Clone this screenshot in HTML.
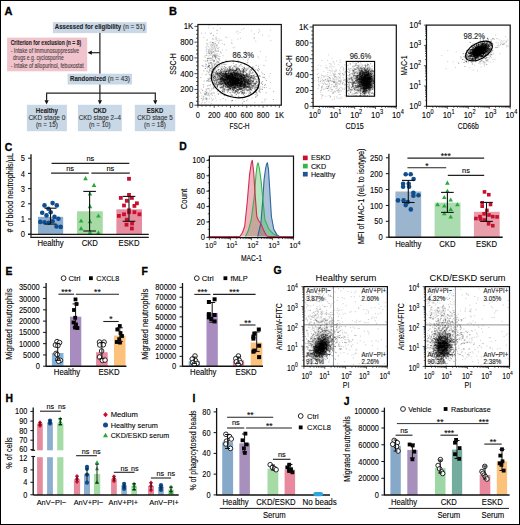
<!DOCTYPE html>
<html><head><meta charset="utf-8"><style>
html,body{margin:0;padding:0;background:#fff;}
svg{display:block;font-family:"Liberation Sans",sans-serif;}
</style></head><body>
<svg width="520" height="525" viewBox="0 0 520 525">
<rect x="0" y="0" width="520" height="525" fill="#fff"/>
<text x="4.60" y="14.80" font-size="11.0" stroke="#000" stroke-width="0.3" font-weight="bold" fill="#000">A</text>
<rect x="52.90" y="22.20" width="93.80" height="10.90" fill="#c8d8e6"/>
<text x="54.80" y="29.20" font-size="6.6" stroke="#222" stroke-width="0.1" font-weight="bold" fill="#222" textLength="66.40" lengthAdjust="spacingAndGlyphs">Assessed for eligibility</text>
<text x="123.00" y="29.20" font-size="7.34" stroke="#333" stroke-width="0.12" fill="#333" textLength="22.20" lengthAdjust="spacingAndGlyphs">(n = 51)</text>
<line x1="99.90" y1="33.10" x2="99.90" y2="73.70" stroke="#222" stroke-width="1.2"/>
<line x1="91.00" y1="52.70" x2="99.90" y2="52.70" stroke="#222" stroke-width="1.2"/>
<path d="M87.6 52.7L91.8 50.6L91.8 54.8Z" fill="#111"/>
<rect x="7.10" y="37.60" width="80.10" height="33.70" fill="#f1c3cc"/>
<text x="10.70" y="44.90" font-size="6.6" stroke="#222" stroke-width="0.1" font-weight="bold" fill="#222" textLength="70.50" lengthAdjust="spacingAndGlyphs">Criterion for exclusion (n = 8)</text>
<text x="10.70" y="52.70" font-size="7.34" stroke="#4a3f42" stroke-width="0.12" fill="#4a3f42" textLength="68.40" lengthAdjust="spacingAndGlyphs">- Intake of immunosuppressive</text>
<text x="13.10" y="59.70" font-size="7.34" stroke="#4a3f42" stroke-width="0.12" fill="#4a3f42" textLength="50.70" lengthAdjust="spacingAndGlyphs">drugs e.g. cyclosporine</text>
<text x="10.70" y="67.80" font-size="7.34" stroke="#4a3f42" stroke-width="0.12" fill="#4a3f42" textLength="73.00" lengthAdjust="spacingAndGlyphs">- Intake of allopurinol, febuxostat</text>
<rect x="67.60" y="73.70" width="64.40" height="10.80" fill="#c8d8e6"/>
<text x="70.10" y="81.00" font-size="6.6" stroke="#222" stroke-width="0.1" font-weight="bold" fill="#222" textLength="35.90" lengthAdjust="spacingAndGlyphs">Randomized</text>
<text x="107.80" y="81.00" font-size="7.34" stroke="#333" stroke-width="0.12" fill="#333" textLength="22.10" lengthAdjust="spacingAndGlyphs">(n = 43)</text>
<line x1="99.90" y1="84.50" x2="99.90" y2="100.50" stroke="#222" stroke-width="1.2"/>
<line x1="46.00" y1="93.20" x2="156.00" y2="93.20" stroke="#222" stroke-width="1.2"/>
<line x1="46.60" y1="93.20" x2="46.60" y2="100.50" stroke="#222" stroke-width="1.2"/>
<path d="M44.50 100.2L48.70 100.2L46.60 104.4Z" fill="#111"/>
<path d="M97.80 100.2L102.00 100.2L99.90 104.4Z" fill="#111"/>
<line x1="155.30" y1="93.20" x2="155.30" y2="100.50" stroke="#222" stroke-width="1.2"/>
<path d="M153.20 100.2L157.40 100.2L155.30 104.4Z" fill="#111"/>
<rect x="26.90" y="104.80" width="40.00" height="26.40" fill="#c8d8e6"/>
<text x="46.90" y="112.60" font-size="7.2" stroke="#222" stroke-width="0.1" text-anchor="middle" font-weight="bold" fill="#222" textLength="22.10" lengthAdjust="spacingAndGlyphs">Healthy</text>
<text x="46.90" y="120.20" font-size="7.99" stroke="#333" stroke-width="0.12" text-anchor="middle" fill="#333" textLength="37.00" lengthAdjust="spacingAndGlyphs">CKD stage 0</text>
<text x="46.90" y="127.30" font-size="7.99" stroke="#333" stroke-width="0.12" text-anchor="middle" fill="#333" textLength="21.90" lengthAdjust="spacingAndGlyphs">(n = 15)</text>
<rect x="77.90" y="104.80" width="43.90" height="26.40" fill="#c8d8e6"/>
<text x="99.85" y="112.60" font-size="7.2" stroke="#222" stroke-width="0.1" text-anchor="middle" font-weight="bold" fill="#222" textLength="13.40" lengthAdjust="spacingAndGlyphs">CKD</text>
<text x="99.85" y="120.20" font-size="7.99" stroke="#333" stroke-width="0.12" text-anchor="middle" fill="#333" textLength="42.40" lengthAdjust="spacingAndGlyphs">CKD stage 2–4</text>
<text x="99.85" y="127.30" font-size="7.99" stroke="#333" stroke-width="0.12" text-anchor="middle" fill="#333" textLength="21.60" lengthAdjust="spacingAndGlyphs">(n = 10)</text>
<rect x="134.80" y="104.80" width="40.40" height="26.40" fill="#c8d8e6"/>
<text x="155.00" y="112.60" font-size="7.2" stroke="#222" stroke-width="0.1" text-anchor="middle" font-weight="bold" fill="#222" textLength="16.40" lengthAdjust="spacingAndGlyphs">ESKD</text>
<text x="155.00" y="120.20" font-size="7.99" stroke="#333" stroke-width="0.12" text-anchor="middle" fill="#333" textLength="35.60" lengthAdjust="spacingAndGlyphs">CKD stage 5</text>
<text x="155.00" y="127.30" font-size="7.99" stroke="#333" stroke-width="0.12" text-anchor="middle" fill="#333" textLength="21.80" lengthAdjust="spacingAndGlyphs">(n = 18)</text>
<text x="169.00" y="14.90" font-size="11.0" stroke="#000" stroke-width="0.3" font-weight="bold" fill="#000">B</text>
<path d="M234.1 83.4h.1M236.8 83.9h.1M232.8 74.3h.1M226.6 77.8h.1M230.3 80.6h.1M224.9 83.0h.1M235.5 77.5h.1M247.5 76.7h.1M229.3 84.6h.1M228.1 85.0h.1M238.7 82.9h.1M238.2 78.1h.1M235.2 82.6h.1M225.9 79.8h.1M233.7 84.4h.1M241.7 75.5h.1M222.2 79.3h.1M230.4 79.2h.1M217.9 72.8h.1M222.6 79.9h.1M217.7 78.3h.1M232.6 78.2h.1M222.7 80.8h.1M237.9 74.1h.1M236.0 80.4h.1M232.5 82.3h.1M211.4 78.6h.1M228.9 84.9h.1M234.9 74.7h.1M236.5 73.5h.1M220.4 79.7h.1M229.8 82.1h.1M224.2 89.3h.1M226.7 82.4h.1M244.7 77.7h.1M226.6 83.3h.1M234.8 76.4h.1M243.5 74.6h.1M227.4 92.2h.1M233.3 81.9h.1M235.0 84.0h.1M234.7 83.3h.1M222.1 87.5h.1M235.0 81.9h.1M246.1 88.0h.1M221.1 73.6h.1M243.3 75.0h.1M234.6 87.4h.1M227.7 86.7h.1M252.4 85.5h.1M241.3 82.6h.1M223.5 79.8h.1M235.6 77.3h.1M238.7 88.6h.1M232.3 83.4h.1M240.4 83.8h.1M233.6 82.2h.1M239.9 86.3h.1M247.3 84.7h.1M227.8 83.2h.1M237.1 75.2h.1M229.9 82.3h.1M234.2 91.1h.1M224.0 76.5h.1M229.3 79.1h.1M232.1 84.5h.1M242.0 86.2h.1M244.5 84.9h.1M223.5 71.1h.1M226.9 81.9h.1M241.2 75.7h.1M216.9 74.0h.1M229.9 82.5h.1M233.8 79.0h.1M245.4 86.0h.1M238.7 96.3h.1M231.0 83.8h.1M230.7 83.5h.1M232.8 75.9h.1M248.8 79.4h.1M231.3 74.9h.1M232.1 77.6h.1M238.4 75.8h.1M233.8 77.2h.1M232.8 79.3h.1M225.0 74.3h.1M235.3 73.7h.1M231.4 73.5h.1M244.8 84.2h.1M240.4 81.6h.1M233.6 85.3h.1M239.9 86.3h.1M231.6 78.4h.1M243.6 85.0h.1M235.4 73.6h.1M238.3 92.1h.1M221.9 84.5h.1M237.8 79.9h.1M219.9 72.8h.1M215.7 79.7h.1M233.0 71.2h.1M226.8 75.6h.1M235.5 84.3h.1M254.9 83.7h.1M227.3 77.1h.1M228.2 84.2h.1M237.1 75.8h.1M238.8 82.5h.1M233.2 77.9h.1M233.2 76.2h.1M240.6 83.6h.1M239.9 76.4h.1M223.8 88.2h.1M234.2 77.6h.1M233.5 90.0h.1M225.6 73.9h.1M236.5 83.7h.1M227.5 73.7h.1M244.3 75.4h.1M236.1 81.5h.1M234.9 83.8h.1M230.0 73.7h.1M232.6 86.0h.1M216.8 74.2h.1M224.1 79.7h.1M237.6 82.8h.1M214.7 80.6h.1M243.4 73.0h.1M217.5 86.0h.1M241.0 84.1h.1M227.1 77.4h.1M242.3 76.6h.1M236.8 72.6h.1M221.4 72.1h.1M245.5 84.7h.1M247.9 80.7h.1M234.7 75.0h.1M232.4 77.6h.1M232.0 87.7h.1M225.8 77.7h.1M244.9 79.1h.1M228.7 86.2h.1M233.7 82.6h.1M227.2 79.7h.1M229.2 76.8h.1M223.9 71.5h.1M246.7 76.5h.1M233.4 78.0h.1M243.4 80.7h.1M234.4 82.2h.1M227.8 82.2h.1M231.4 81.1h.1M229.2 80.8h.1M235.2 75.7h.1M232.5 69.8h.1M232.1 77.6h.1M222.6 74.2h.1M227.6 76.4h.1M249.8 81.3h.1M229.2 73.7h.1M225.6 73.9h.1M237.6 80.5h.1M247.2 82.9h.1M221.7 75.5h.1M232.3 82.6h.1M228.9 78.6h.1M219.1 73.4h.1M241.2 81.6h.1M233.0 89.4h.1M235.6 77.4h.1M226.9 85.1h.1M237.7 87.6h.1M228.6 86.9h.1M233.7 76.4h.1M223.1 88.7h.1M223.3 79.5h.1M246.8 81.0h.1M230.0 78.8h.1M236.8 83.7h.1M234.2 80.7h.1M230.6 79.1h.1M229.0 86.0h.1M240.7 77.9h.1M232.4 75.2h.1M232.6 84.1h.1M234.2 83.9h.1M244.5 87.2h.1M241.4 76.3h.1M237.3 86.1h.1M229.0 82.1h.1M220.7 87.1h.1M244.0 75.8h.1M243.2 82.8h.1M233.4 79.0h.1M240.5 73.6h.1M242.1 78.1h.1M241.3 86.9h.1M243.2 79.5h.1M230.8 76.5h.1M247.7 86.6h.1M222.5 83.6h.1M241.7 86.3h.1M239.5 77.4h.1M242.5 81.3h.1M250.9 87.8h.1M248.5 79.3h.1M224.6 75.5h.1M218.6 82.3h.1M240.9 89.0h.1M226.0 73.7h.1M236.1 68.1h.1M243.1 74.7h.1M220.2 73.6h.1M215.4 77.1h.1M236.5 83.8h.1M235.0 79.9h.1M232.7 76.9h.1M234.7 81.3h.1M227.3 74.8h.1M220.7 78.3h.1M233.4 77.2h.1M223.9 92.0h.1M219.0 82.3h.1M239.7 77.2h.1M234.6 75.7h.1M238.5 78.9h.1M226.6 71.4h.1M229.0 76.2h.1M225.9 75.7h.1M225.8 83.6h.1M236.6 78.7h.1M227.9 75.7h.1M238.6 74.6h.1M238.4 75.3h.1M253.0 82.8h.1M222.0 77.7h.1M241.8 87.0h.1M234.1 77.4h.1M233.7 85.5h.1M221.1 79.9h.1M230.3 79.9h.1M242.6 71.9h.1M234.6 74.3h.1M234.7 84.1h.1M230.9 86.8h.1M244.9 83.0h.1M233.8 84.1h.1M214.7 75.7h.1M228.4 77.8h.1M217.0 74.8h.1M204.2 81.0h.1M229.4 81.5h.1M246.8 81.1h.1M235.1 79.0h.1M223.4 81.6h.1M225.7 80.8h.1M245.4 78.0h.1M234.8 88.9h.1M234.8 81.8h.1M234.0 80.5h.1M233.9 87.6h.1M241.2 86.4h.1M239.6 80.8h.1M236.1 83.3h.1M225.7 74.1h.1M239.6 78.1h.1M229.8 68.9h.1M243.7 87.7h.1M224.2 69.8h.1M232.8 83.6h.1M235.0 76.5h.1M223.1 74.2h.1M250.3 81.8h.1M247.6 83.6h.1M229.9 82.8h.1M240.3 89.9h.1M237.7 82.7h.1M210.1 81.3h.1M237.2 78.0h.1M233.5 83.8h.1M235.2 81.3h.1M225.0 76.9h.1M232.1 79.7h.1M232.9 80.0h.1M245.2 82.9h.1M237.3 82.8h.1M234.8 78.1h.1M248.9 78.9h.1M228.9 83.3h.1M232.1 71.9h.1M218.4 75.2h.1M247.8 89.9h.1M245.1 68.9h.1M243.3 78.4h.1M240.1 84.6h.1M236.6 72.8h.1M234.7 93.1h.1M233.9 67.9h.1M231.7 87.1h.1M234.0 88.0h.1M247.7 86.8h.1M239.7 80.2h.1M233.7 82.1h.1M229.8 75.5h.1M228.2 83.5h.1M249.8 77.2h.1M239.3 79.8h.1M234.4 85.3h.1M232.1 74.8h.1M224.6 77.3h.1M233.8 81.2h.1M243.4 75.2h.1M230.1 85.5h.1M232.2 81.8h.1M233.5 73.0h.1M235.5 80.4h.1M220.5 74.8h.1M232.8 77.1h.1M226.7 79.8h.1M243.0 78.3h.1M226.8 84.1h.1M240.2 77.9h.1M247.7 87.1h.1M231.7 79.9h.1M228.4 83.8h.1M236.6 78.2h.1M234.8 78.1h.1M226.2 73.7h.1M238.3 83.8h.1M252.2 87.5h.1M230.7 90.2h.1M231.8 86.4h.1M224.8 80.3h.1M237.5 79.9h.1M222.9 80.8h.1M224.4 79.0h.1M245.2 89.1h.1M225.6 83.8h.1M244.9 77.9h.1M248.8 79.2h.1M235.9 87.3h.1M239.3 82.7h.1M252.4 81.9h.1M231.9 85.9h.1M229.4 77.9h.1M222.4 77.4h.1M235.2 78.4h.1M249.3 73.1h.1M242.7 85.8h.1M226.7 73.5h.1M227.1 76.7h.1M230.4 76.3h.1M236.7 84.3h.1M232.7 79.9h.1M236.4 80.8h.1M238.3 72.9h.1M231.8 79.7h.1M235.1 73.4h.1M236.2 82.2h.1M233.5 82.1h.1M239.1 81.1h.1M250.2 92.6h.1M239.5 83.8h.1M234.6 83.4h.1M219.0 79.0h.1M238.2 80.1h.1M216.1 82.6h.1M220.9 83.9h.1M243.2 75.4h.1M240.2 86.4h.1M232.8 82.8h.1M218.3 82.9h.1M230.8 82.2h.1M229.1 73.7h.1M241.1 75.7h.1M253.9 92.1h.1M236.3 82.0h.1M228.3 72.8h.1M223.6 80.7h.1M234.2 78.7h.1M234.1 71.5h.1M225.5 68.1h.1M236.6 73.0h.1M223.8 80.3h.1M244.7 81.7h.1M244.3 80.7h.1M244.2 83.2h.1M229.8 82.8h.1M240.6 71.2h.1M233.5 78.9h.1M231.5 76.1h.1M232.2 74.2h.1M223.0 76.2h.1M221.4 78.1h.1M241.9 80.3h.1M233.7 73.3h.1M236.8 78.5h.1M242.3 91.4h.1M219.4 73.3h.1M228.5 71.5h.1M235.9 82.0h.1M237.7 83.8h.1M230.8 82.2h.1M244.6 76.5h.1M235.8 85.5h.1M224.0 75.2h.1M226.8 73.9h.1M242.2 78.6h.1M238.8 80.6h.1M216.7 81.5h.1M246.4 85.2h.1M240.0 81.2h.1M246.1 86.7h.1M230.9 80.4h.1M231.2 84.4h.1M225.2 72.4h.1M258.7 76.3h.1M232.4 84.0h.1M249.9 75.9h.1M228.8 78.2h.1M236.1 80.2h.1M219.6 76.0h.1M231.3 77.9h.1M242.5 88.4h.1M224.8 66.9h.1M243.7 86.1h.1M236.0 91.8h.1M225.0 79.3h.1M229.9 79.8h.1M229.8 83.4h.1M232.8 89.1h.1M230.4 74.2h.1M226.9 79.9h.1M231.8 79.2h.1M224.8 81.8h.1M222.6 79.6h.1M233.6 83.6h.1M242.8 79.6h.1M220.5 78.8h.1M235.0 77.3h.1M229.0 76.5h.1M225.7 78.6h.1M242.4 80.9h.1M230.6 74.3h.1M247.1 89.9h.1M227.5 78.9h.1M238.9 74.4h.1M231.7 85.4h.1M228.1 76.0h.1M239.5 83.7h.1M233.1 80.2h.1M239.8 82.5h.1M234.0 81.3h.1M225.0 76.4h.1M233.5 80.6h.1M233.6 90.2h.1M244.7 71.1h.1M226.2 79.7h.1M233.9 82.5h.1M219.5 73.3h.1M241.4 74.8h.1M223.2 89.4h.1M218.3 76.4h.1M232.6 90.3h.1M244.2 84.5h.1M220.6 78.9h.1M224.3 81.4h.1M227.3 82.6h.1M223.4 84.7h.1M237.7 83.1h.1M227.0 80.2h.1M227.8 80.4h.1M238.9 87.7h.1M227.1 83.4h.1M239.1 76.3h.1M226.1 76.2h.1M223.2 80.5h.1M218.2 75.2h.1M251.7 81.1h.1M232.2 75.5h.1M236.9 79.6h.1M233.9 82.5h.1M235.3 85.4h.1M234.9 80.6h.1M250.5 92.8h.1M225.1 78.8h.1M218.2 93.7h.1M224.6 84.0h.1M222.0 81.2h.1M241.6 79.1h.1M243.9 68.1h.1M225.8 78.5h.1M221.7 79.6h.1M230.0 89.2h.1M248.1 75.7h.1M207.5 85.9h.1M239.5 80.0h.1M224.2 82.6h.1M245.7 69.8h.1M224.6 79.8h.1M232.1 78.5h.1M220.3 81.8h.1M225.5 79.7h.1M247.9 76.8h.1M241.3 86.1h.1M230.4 83.3h.1M226.2 82.2h.1M216.6 82.9h.1M230.2 85.2h.1M234.2 80.4h.1M234.6 73.9h.1M234.6 73.8h.1M223.4 85.5h.1M233.4 83.8h.1M234.1 80.9h.1M246.5 80.1h.1M251.5 83.0h.1M233.2 80.4h.1M227.7 77.9h.1M234.4 77.1h.1M227.5 90.0h.1M227.6 80.6h.1M234.4 77.5h.1M225.9 73.0h.1M240.5 77.8h.1M233.1 83.8h.1M236.3 84.4h.1M233.0 79.2h.1M227.8 79.8h.1M226.1 77.8h.1M233.1 74.9h.1M228.6 86.0h.1M236.4 82.6h.1M232.8 92.3h.1M222.6 75.2h.1M235.2 79.9h.1M221.7 83.0h.1M229.0 78.5h.1M232.7 73.5h.1M216.2 73.3h.1M235.3 81.1h.1M235.6 82.3h.1M233.1 79.8h.1M230.0 84.7h.1M230.4 84.7h.1M225.4 80.8h.1M232.0 80.3h.1M229.6 78.6h.1M235.0 83.2h.1M222.9 83.3h.1M236.6 81.1h.1M235.5 82.8h.1M233.4 78.8h.1M231.4 73.2h.1M240.2 76.4h.1M218.8 82.0h.1M238.4 83.2h.1M235.7 88.4h.1M237.0 81.1h.1M237.4 85.1h.1M227.7 86.0h.1M231.5 84.9h.1M240.7 78.4h.1M238.5 80.2h.1M236.3 81.4h.1M221.4 73.9h.1M239.1 83.4h.1M244.5 86.9h.1M244.0 79.5h.1M235.3 90.2h.1M220.5 77.1h.1M243.2 80.7h.1M233.3 79.2h.1M211.9 73.9h.1M237.7 83.0h.1M220.9 78.7h.1M221.6 86.7h.1M228.3 82.6h.1M245.7 84.7h.1M231.3 79.0h.1M237.9 74.1h.1M250.5 82.3h.1M249.6 78.5h.1M232.9 84.9h.1M232.3 80.0h.1M221.9 86.8h.1M227.7 83.1h.1M237.8 85.0h.1M238.0 82.1h.1M235.4 81.6h.1M243.1 84.9h.1M226.8 83.9h.1M234.5 77.1h.1M240.8 83.8h.1M238.1 93.7h.1M244.3 81.4h.1M238.3 79.8h.1M232.1 76.8h.1M238.8 74.1h.1M224.6 84.9h.1M219.5 78.7h.1M239.6 82.7h.1M232.8 89.2h.1M235.6 92.8h.1M219.6 74.1h.1M230.5 85.0h.1M228.6 82.7h.1M226.4 81.3h.1M213.6 79.9h.1M231.5 80.0h.1M241.6 89.2h.1M237.6 83.9h.1M228.8 81.4h.1M233.5 86.4h.1M240.8 85.7h.1M209.0 79.2h.1M233.1 81.9h.1M238.3 89.6h.1M240.4 83.8h.1M250.1 82.3h.1M245.4 77.9h.1M237.6 79.3h.1M238.0 75.9h.1M241.6 82.0h.1M229.4 81.0h.1M235.5 70.7h.1M242.7 81.8h.1M251.9 86.1h.1M232.9 81.1h.1M234.7 75.9h.1M235.5 86.8h.1M247.2 78.9h.1M235.0 74.6h.1M248.6 77.3h.1M225.7 79.2h.1M232.1 84.9h.1M231.9 85.8h.1M241.5 82.5h.1M244.8 76.2h.1M221.2 75.5h.1M226.8 75.1h.1M237.7 80.1h.1M229.7 71.2h.1M220.6 79.1h.1M243.5 84.9h.1M239.1 80.4h.1M238.7 83.3h.1M230.8 75.4h.1M244.8 74.9h.1M232.7 77.2h.1M243.7 87.4h.1M225.5 84.2h.1M227.0 77.2h.1M235.6 86.5h.1M228.3 78.1h.1M239.6 88.6h.1M236.5 83.1h.1M226.4 77.2h.1M234.6 84.4h.1M231.8 76.4h.1M243.5 77.2h.1M229.7 72.8h.1M230.3 81.2h.1M245.6 81.8h.1M254.9 83.0h.1M253.0 81.1h.1M234.1 87.4h.1M236.8 78.8h.1M249.0 79.0h.1M232.5 86.3h.1M224.7 86.0h.1M235.3 82.3h.1M239.8 72.8h.1M227.3 76.6h.1M219.1 81.3h.1M221.4 78.7h.1M239.5 88.7h.1M228.5 73.0h.1M232.8 83.5h.1M236.9 77.8h.1M239.3 87.6h.1M231.5 79.7h.1M238.4 86.0h.1M226.8 76.3h.1M232.1 73.3h.1M225.9 73.9h.1M245.2 79.1h.1M234.9 75.6h.1M227.0 85.3h.1M230.4 86.4h.1M232.3 81.5h.1M241.6 76.5h.1M220.0 77.9h.1M225.5 75.9h.1M230.1 86.9h.1M257.4 85.2h.1M242.9 84.1h.1M233.8 78.5h.1M242.3 71.9h.1M253.8 79.5h.1M233.1 74.9h.1M230.9 81.8h.1M245.5 82.5h.1M239.5 77.3h.1M240.9 79.5h.1M228.8 87.3h.1M252.7 78.4h.1M250.7 78.3h.1M239.8 80.1h.1M241.2 78.1h.1M216.3 75.9h.1M240.0 83.8h.1M231.6 88.5h.1M239.6 72.6h.1M240.7 81.3h.1M231.4 80.3h.1M219.2 77.9h.1M238.0 80.1h.1M228.0 77.9h.1M230.8 84.9h.1M229.3 77.5h.1M231.5 79.5h.1M213.5 77.5h.1M245.5 82.6h.1M236.9 80.0h.1M244.0 86.7h.1M252.5 83.0h.1M234.6 81.4h.1M218.1 77.9h.1M227.0 74.6h.1M224.1 75.0h.1M230.6 74.9h.1M235.1 81.5h.1M216.7 74.5h.1M238.3 75.9h.1M220.6 79.7h.1M236.9 83.4h.1M234.7 72.0h.1M230.5 88.1h.1M233.8 80.6h.1M229.7 79.3h.1M228.2 84.8h.1M219.1 78.7h.1M234.6 77.6h.1M249.8 93.3h.1M253.3 77.9h.1M246.6 81.7h.1M240.4 85.4h.1M229.1 74.5h.1M247.7 81.9h.1M233.7 82.3h.1M232.3 91.8h.1M232.4 75.9h.1M235.4 80.4h.1M230.1 83.1h.1M233.7 80.8h.1M225.4 73.4h.1M230.8 82.0h.1M255.2 83.9h.1M233.6 82.5h.1M231.6 85.6h.1M238.7 86.0h.1M240.7 83.3h.1M224.1 80.6h.1M233.3 75.0h.1M243.0 81.0h.1M236.8 81.9h.1M235.9 78.8h.1M248.6 83.0h.1M228.9 75.7h.1M234.2 87.9h.1M228.3 90.1h.1M248.3 80.6h.1M216.5 79.9h.1M228.6 78.5h.1M228.8 85.8h.1M240.3 83.4h.1M240.0 81.6h.1M247.4 81.2h.1M220.1 79.1h.1M242.0 76.7h.1M231.4 83.3h.1M228.9 76.3h.1M239.1 83.7h.1M226.0 79.9h.1M214.8 83.0h.1M231.1 79.9h.1M220.2 83.4h.1M229.2 75.3h.1M237.5 83.9h.1M237.5 79.8h.1M248.8 83.5h.1M232.6 80.6h.1M219.9 83.0h.1M229.0 69.9h.1M225.9 80.9h.1M224.4 71.8h.1M237.7 86.8h.1M229.9 70.3h.1M217.2 73.2h.1M242.0 73.4h.1M232.4 88.1h.1M238.6 74.8h.1M235.4 81.2h.1M240.6 78.8h.1M236.0 72.0h.1M246.0 80.5h.1M237.9 84.2h.1M238.2 80.1h.1M237.6 85.5h.1M221.5 76.9h.1M233.0 80.3h.1M232.4 78.3h.1M236.2 82.4h.1M220.9 87.8h.1M249.1 84.3h.1M235.3 81.6h.1M223.9 76.0h.1M219.4 74.7h.1M231.0 87.1h.1M234.4 75.1h.1M228.6 75.2h.1M235.4 80.2h.1M228.9 77.7h.1M238.2 90.5h.1M229.5 68.3h.1M233.9 82.2h.1M242.9 85.1h.1M258.7 78.5h.1M225.8 76.1h.1M230.0 82.0h.1M225.8 87.2h.1M242.3 77.1h.1M225.1 71.5h.1M229.4 84.5h.1M233.2 87.7h.1M225.8 77.7h.1M227.3 68.8h.1M229.2 86.8h.1M215.5 76.9h.1M220.6 84.0h.1M230.8 79.8h.1M236.1 78.9h.1M233.1 78.1h.1M217.4 85.2h.1M229.3 86.7h.1M243.2 71.4h.1M240.2 76.8h.1M232.6 88.8h.1M226.7 77.6h.1M241.2 74.8h.1M229.2 79.8h.1M223.9 78.5h.1M227.3 79.0h.1M248.0 80.1h.1M236.7 79.3h.1M245.4 79.8h.1M229.9 81.5h.1M243.6 77.8h.1M229.2 78.4h.1M233.2 79.6h.1M256.3 89.9h.1M241.2 83.3h.1M230.0 79.3h.1M233.4 82.9h.1M237.2 82.8h.1M244.8 87.2h.1M229.7 82.3h.1M217.4 86.8h.1M231.1 86.5h.1M234.7 80.3h.1M235.8 78.7h.1M245.9 86.4h.1M237.0 83.4h.1M242.0 81.1h.1M225.5 72.1h.1M243.6 72.9h.1M253.4 84.8h.1M241.0 85.2h.1M236.3 84.6h.1M236.8 74.6h.1M250.1 87.7h.1M226.4 76.8h.1M233.2 82.2h.1M238.4 83.1h.1M241.8 77.6h.1M230.9 77.1h.1M238.7 71.0h.1M232.6 75.8h.1M236.8 72.1h.1M233.0 82.4h.1M224.1 79.3h.1M233.7 84.8h.1M242.3 83.3h.1M226.1 76.2h.1M232.1 81.8h.1M240.8 79.5h.1M224.3 82.0h.1M236.0 82.2h.1M225.5 74.4h.1M244.8 82.0h.1M255.5 83.7h.1M253.1 81.6h.1M231.9 84.5h.1M240.1 89.6h.1M235.8 78.9h.1M235.7 79.0h.1M250.1 71.8h.1M222.6 78.2h.1M244.4 79.8h.1M235.5 70.2h.1M247.1 83.7h.1M235.8 83.5h.1M228.9 76.1h.1M237.3 79.1h.1M241.9 76.8h.1M234.3 84.2h.1M240.0 73.9h.1M230.0 78.3h.1M213.8 87.0h.1M242.7 81.9h.1M240.6 83.6h.1M235.9 80.0h.1M235.9 75.0h.1M244.0 81.7h.1M230.1 81.8h.1M228.7 74.7h.1M232.6 81.9h.1M244.5 87.9h.1M221.1 83.8h.1M246.4 74.5h.1M229.3 75.0h.1M225.5 71.4h.1M245.3 87.2h.1M233.2 83.3h.1M222.2 82.2h.1M231.8 75.9h.1M243.8 76.1h.1M245.3 82.4h.1M230.5 80.4h.1M238.8 77.0h.1M240.9 82.1h.1M228.2 82.7h.1M237.6 82.0h.1M234.9 75.5h.1M231.0 69.8h.1M230.2 78.6h.1M235.0 81.4h.1M234.9 79.3h.1M229.6 77.7h.1M231.1 76.7h.1M244.2 85.3h.1M236.5 80.5h.1M242.5 82.2h.1M246.1 77.4h.1M240.3 78.3h.1M255.1 84.2h.1M227.7 74.7h.1M242.7 75.5h.1M231.8 78.5h.1M250.6 88.6h.1M249.9 83.6h.1M215.7 84.9h.1M225.8 78.6h.1M240.8 79.9h.1M242.6 74.9h.1M241.6 78.7h.1M232.9 87.2h.1M238.4 82.6h.1M240.0 84.8h.1M233.3 83.8h.1M243.9 81.8h.1M214.1 76.6h.1M240.2 81.9h.1M224.6 82.4h.1M242.9 83.9h.1M232.1 82.5h.1M226.3 80.1h.1M238.4 77.3h.1M226.4 78.1h.1M226.8 74.9h.1M219.6 83.3h.1M235.7 70.5h.1M239.2 80.1h.1M242.2 93.2h.1M233.4 78.7h.1M244.8 76.4h.1M234.7 80.4h.1M232.8 86.5h.1M239.8 80.5h.1M243.7 84.8h.1M231.3 80.5h.1M232.5 78.4h.1M230.9 95.3h.1M235.2 80.9h.1M226.7 76.8h.1M244.2 79.5h.1M230.6 81.8h.1M238.4 83.0h.1M226.5 83.1h.1M237.7 81.6h.1M239.0 74.2h.1M230.3 82.5h.1M253.1 81.6h.1M238.1 79.6h.1M251.7 75.7h.1M243.6 79.0h.1M229.0 76.2h.1M231.0 79.8h.1M239.4 74.1h.1M235.0 80.8h.1M234.9 81.2h.1M232.6 74.8h.1M218.4 75.2h.1M233.0 76.1h.1M213.7 82.0h.1M239.6 69.0h.1M228.1 77.9h.1M229.1 71.7h.1M232.8 78.2h.1M236.4 84.9h.1M221.9 75.7h.1M218.5 78.9h.1M225.4 75.1h.1M214.6 87.1h.1M225.1 83.6h.1M248.2 87.9h.1M225.8 72.8h.1M241.2 76.1h.1M221.3 83.9h.1M237.4 80.0h.1M231.8 78.9h.1M233.7 82.0h.1M240.5 75.3h.1M250.0 86.4h.1M236.3 80.8h.1M235.3 82.9h.1M226.1 76.1h.1M239.5 83.7h.1M232.7 76.8h.1M241.4 86.1h.1M233.3 85.8h.1M249.8 87.1h.1M216.1 80.4h.1M231.4 83.1h.1M244.3 68.8h.1M230.7 84.0h.1M227.5 78.2h.1M232.0 80.6h.1M222.1 77.4h.1M236.5 74.0h.1M257.1 81.1h.1M244.5 85.1h.1M223.4 85.8h.1M227.0 76.4h.1M231.4 75.7h.1M242.7 88.7h.1M227.6 75.3h.1M226.8 89.5h.1M242.5 81.9h.1M243.0 77.4h.1M230.4 84.7h.1M223.2 87.1h.1M221.3 71.7h.1M227.1 87.0h.1M214.4 76.3h.1M240.3 88.5h.1M229.0 77.9h.1M239.9 73.6h.1M251.2 85.3h.1M244.6 86.4h.1M222.6 89.0h.1M241.3 89.8h.1M244.6 85.3h.1M227.9 78.4h.1M226.2 76.8h.1M233.7 79.0h.1M220.5 74.5h.1M248.1 81.1h.1M214.3 65.3h.1M224.3 79.9h.1M232.1 80.0h.1M230.7 92.4h.1M235.5 84.3h.1M237.3 78.6h.1M232.2 82.9h.1M245.7 76.1h.1M215.4 74.9h.1M235.7 71.6h.1M227.0 86.4h.1M235.3 83.5h.1M237.3 75.2h.1M226.2 79.0h.1M228.0 84.2h.1M241.4 83.9h.1M237.4 82.8h.1M228.9 75.6h.1M253.5 80.1h.1M255.5 83.9h.1M220.6 83.0h.1M237.8 76.9h.1M258.1 78.4h.1M240.9 86.9h.1M237.1 76.4h.1M231.9 85.4h.1M229.4 81.0h.1M232.0 84.4h.1M228.3 88.1h.1M240.8 84.7h.1M230.4 83.7h.1M231.1 75.6h.1M224.0 75.7h.1M233.6 83.5h.1M225.3 86.6h.1M231.9 86.9h.1M242.4 92.8h.1M237.6 82.4h.1M239.0 82.1h.1M237.1 85.7h.1M235.0 80.7h.1M233.4 80.0h.1M232.4 75.1h.1M240.8 86.2h.1M225.3 74.0h.1M246.4 84.7h.1M235.8 73.8h.1M226.9 84.8h.1M230.7 75.0h.1M227.8 83.6h.1M237.0 73.2h.1M228.3 77.5h.1M244.1 87.6h.1M227.9 75.7h.1M213.8 77.9h.1M228.2 77.3h.1M217.7 67.0h.1M233.9 81.9h.1M243.9 83.9h.1M241.1 76.1h.1M221.9 81.5h.1M228.1 75.7h.1M251.4 78.0h.1M237.4 80.9h.1M235.0 77.3h.1M242.6 92.7h.1M257.9 76.2h.1M245.8 85.7h.1M235.1 85.4h.1M239.1 71.5h.1M241.3 73.1h.1M228.5 82.4h.1M225.2 76.9h.1M234.7 82.4h.1M225.1 84.7h.1M234.2 78.7h.1M236.1 75.6h.1M257.7 70.5h.1M226.6 80.4h.1M234.0 75.9h.1M232.8 81.8h.1M238.3 82.2h.1M245.0 75.3h.1M228.9 88.1h.1M226.3 84.6h.1M219.0 82.4h.1M226.9 73.7h.1M239.7 79.3h.1M235.3 78.0h.1M225.5 77.2h.1M231.9 74.7h.1M234.5 82.6h.1M238.9 82.2h.1M228.8 81.5h.1M232.6 77.8h.1M217.1 84.3h.1M223.9 79.9h.1M251.1 69.6h.1M215.0 74.7h.1M231.5 79.8h.1M235.9 85.4h.1M231.3 78.6h.1M227.3 78.3h.1M234.4 77.3h.1M234.0 83.7h.1M234.1 78.3h.1M217.8 75.2h.1M233.7 76.8h.1M226.3 82.1h.1M229.9 77.3h.1M237.7 72.8h.1M239.9 84.3h.1M243.1 78.3h.1M229.7 81.6h.1M242.7 83.5h.1M244.4 87.7h.1M244.2 86.9h.1M247.5 79.5h.1M233.3 79.5h.1M233.8 74.1h.1M240.9 89.5h.1M221.8 80.8h.1M235.5 87.4h.1M229.9 78.3h.1M232.5 70.3h.1M217.6 85.6h.1M226.3 79.8h.1M234.2 81.1h.1M242.6 81.9h.1M243.1 84.8h.1M233.4 82.9h.1M233.8 72.7h.1M226.2 84.6h.1M238.5 78.5h.1M232.6 78.0h.1M238.9 89.5h.1M249.8 87.1h.1M234.4 78.9h.1M222.1 69.8h.1M226.5 80.2h.1M220.9 81.2h.1M223.6 78.6h.1M247.2 76.2h.1M237.1 77.0h.1M221.5 72.6h.1M240.3 82.4h.1M245.4 86.0h.1M230.5 84.9h.1M228.8 76.2h.1M231.3 81.2h.1M236.7 83.5h.1M240.7 78.9h.1M245.4 81.3h.1M244.1 92.1h.1M245.2 83.0h.1M246.3 86.4h.1M240.8 79.3h.1M220.5 78.7h.1M234.5 72.2h.1M237.4 80.8h.1M230.2 85.7h.1M241.4 91.6h.1M230.4 85.7h.1M225.6 82.6h.1M247.6 82.6h.1M241.0 78.5h.1M236.6 80.0h.1M242.5 84.6h.1M244.7 78.1h.1M237.0 85.4h.1M212.8 72.7h.1M229.5 71.2h.1M231.0 75.1h.1M226.6 71.3h.1M237.2 74.2h.1M244.6 87.4h.1M230.2 78.9h.1M224.0 80.1h.1M252.2 88.6h.1M229.5 85.9h.1M223.6 76.5h.1M235.8 87.1h.1M238.1 82.9h.1M228.1 79.6h.1M241.4 83.6h.1M231.0 73.1h.1M226.6 75.6h.1M236.2 80.2h.1M241.1 84.4h.1M229.0 77.9h.1M237.6 80.3h.1M233.0 85.0h.1M259.3 90.8h.1M227.5 83.2h.1M246.3 88.3h.1M234.3 78.5h.1M233.5 78.9h.1M240.9 82.9h.1M242.8 80.2h.1M246.4 79.7h.1M236.4 88.8h.1M229.2 78.8h.1M230.2 75.2h.1M238.8 83.5h.1M238.6 90.0h.1M247.2 82.7h.1M237.5 86.9h.1M244.5 79.8h.1M248.6 80.1h.1M236.5 77.4h.1M221.1 77.9h.1M222.5 87.7h.1M222.2 73.2h.1M247.9 90.3h.1M227.5 74.6h.1M245.9 81.0h.1M239.3 85.2h.1M249.7 85.7h.1M243.5 83.1h.1M234.7 72.5h.1M232.4 82.0h.1M236.0 75.7h.1M234.4 92.9h.1M229.8 78.8h.1M234.1 81.4h.1M249.9 77.1h.1M219.3 76.0h.1M237.7 74.7h.1M225.6 84.0h.1M236.4 79.5h.1M241.8 84.2h.1M234.4 77.2h.1M241.9 79.1h.1M219.2 84.6h.1M245.2 77.3h.1M230.2 71.2h.1M239.9 83.2h.1M236.9 75.3h.1M211.2 75.1h.1M227.0 83.9h.1M237.1 76.9h.1M248.1 86.7h.1M237.6 77.6h.1M235.9 87.9h.1M220.7 85.0h.1M247.9 80.1h.1M251.1 81.8h.1M235.3 76.6h.1M232.4 81.2h.1M219.0 83.9h.1M243.5 74.8h.1M258.5 88.3h.1M241.9 75.1h.1M246.6 78.0h.1M240.6 72.7h.1M224.1 89.2h.1M246.6 82.5h.1M223.1 80.1h.1M233.0 77.0h.1M236.3 85.9h.1M243.9 71.6h.1M238.3 81.2h.1M236.6 91.5h.1M227.8 77.7h.1M222.7 78.9h.1M234.6 83.8h.1M228.6 75.7h.1M222.6 78.9h.1M222.3 83.4h.1M229.9 80.8h.1M217.4 79.9h.1M222.5 77.1h.1M219.4 79.9h.1M236.1 81.0h.1M237.2 87.9h.1M252.3 86.5h.1M221.0 77.4h.1M229.9 68.0h.1M242.3 85.1h.1M232.0 83.8h.1M232.1 75.7h.1M251.4 73.2h.1M232.2 74.6h.1M223.3 83.4h.1M223.2 73.8h.1M237.9 78.7h.1M237.1 81.9h.1M221.2 84.6h.1M225.5 79.2h.1M239.4 80.7h.1M240.1 78.6h.1M227.6 87.4h.1M239.5 86.4h.1M239.8 80.8h.1M219.2 71.6h.1M232.2 76.3h.1M237.9 83.8h.1M229.8 76.3h.1M214.4 82.0h.1M231.7 81.9h.1M241.2 82.9h.1M248.5 85.6h.1M214.2 80.1h.1M258.9 79.8h.1M224.4 77.5h.1M241.7 92.8h.1M246.6 76.3h.1M243.8 79.5h.1M235.2 85.8h.1M224.0 78.3h.1M240.8 77.4h.1M228.9 73.3h.1M211.2 79.8h.1M259.6 89.0h.1M240.0 88.1h.1M251.0 83.1h.1M225.5 84.3h.1M248.6 77.5h.1M248.9 83.3h.1M249.1 79.3h.1M234.2 81.3h.1M223.0 82.5h.1M232.2 85.4h.1M215.1 73.0h.1M218.1 84.3h.1M235.7 78.4h.1M226.2 74.4h.1M233.1 79.5h.1M234.5 73.4h.1M252.1 83.0h.1M246.1 83.5h.1M234.2 79.5h.1M245.2 84.6h.1M227.6 78.0h.1M231.4 80.1h.1M243.8 74.8h.1M223.2 79.1h.1M232.5 76.1h.1M222.8 76.7h.1M235.6 80.2h.1M249.2 83.5h.1M228.7 71.7h.1M237.6 73.4h.1M226.5 77.9h.1M223.7 81.3h.1M223.0 80.6h.1M247.2 86.6h.1M255.2 89.7h.1M238.6 83.5h.1M228.0 79.5h.1M241.6 76.5h.1M232.1 75.6h.1M242.1 79.3h.1M237.0 82.1h.1M236.9 81.9h.1M240.0 81.3h.1M229.3 79.0h.1M230.4 83.0h.1M218.7 79.3h.1M230.3 81.3h.1M221.3 80.1h.1M233.5 77.7h.1M226.5 74.4h.1M235.1 83.0h.1M238.4 83.1h.1M221.7 77.6h.1M227.4 77.5h.1M224.4 90.1h.1M241.8 77.8h.1M250.2 81.7h.1M242.1 82.9h.1M232.1 74.6h.1M247.8 82.9h.1M219.5 87.1h.1M247.5 86.9h.1M228.1 82.7h.1M208.8 79.8h.1M258.6 84.4h.1M248.2 87.1h.1M225.2 78.4h.1M236.3 78.7h.1M232.5 80.7h.1M234.8 84.9h.1M220.8 80.2h.1M227.8 82.8h.1M240.1 71.5h.1M235.7 86.5h.1M243.9 93.2h.1M234.3 86.9h.1M256.1 82.0h.1M228.5 75.6h.1M236.7 82.2h.1M217.7 73.4h.1M222.6 82.3h.1M247.0 79.7h.1M225.3 83.9h.1M238.4 87.7h.1M235.3 70.8h.1M224.8 80.6h.1M231.8 76.7h.1M230.8 73.1h.1M230.5 76.9h.1M241.5 80.4h.1M239.8 86.2h.1M230.3 72.5h.1M225.5 84.3h.1M235.7 90.5h.1M233.2 83.2h.1M243.5 84.4h.1M258.7 83.8h.1M243.0 76.0h.1M233.8 83.0h.1M232.7 82.1h.1M226.2 82.9h.1M224.5 91.5h.1M224.9 82.7h.1M230.6 82.0h.1M229.6 87.4h.1M242.2 75.1h.1M231.6 74.6h.1M233.0 78.5h.1M223.8 75.8h.1M249.0 85.9h.1M239.3 79.6h.1M249.6 91.1h.1M240.7 88.7h.1M247.6 86.1h.1M232.5 78.3h.1M240.6 84.4h.1M258.6 87.8h.1M224.1 73.9h.1M245.0 83.7h.1M249.5 86.0h.1M238.2 82.1h.1M240.4 88.9h.1M245.3 87.9h.1M228.9 75.7h.1M238.2 81.6h.1M227.0 75.4h.1M227.8 82.4h.1M229.3 75.6h.1M232.6 84.7h.1M235.6 82.5h.1M238.1 85.7h.1M221.4 78.0h.1M253.9 76.2h.1M244.1 90.4h.1M241.4 80.6h.1M230.2 86.6h.1M233.4 82.4h.1M239.2 84.4h.1M237.1 89.7h.1M218.6 79.9h.1M240.5 88.1h.1M262.7 77.3h.1M216.7 82.2h.1M244.0 80.7h.1M238.0 80.3h.1M233.5 80.4h.1M247.1 83.9h.1M222.3 86.8h.1M237.3 71.9h.1M248.2 82.6h.1M233.1 76.8h.1M229.8 85.5h.1M235.9 78.6h.1M230.0 82.1h.1M249.2 80.6h.1M225.6 82.5h.1M242.0 86.5h.1M223.0 77.0h.1M240.7 81.6h.1M234.5 73.6h.1M210.1 78.6h.1M233.9 84.6h.1M224.9 76.5h.1M229.6 85.2h.1M250.3 72.7h.1M225.3 70.2h.1M225.5 72.5h.1M248.3 80.1h.1M235.6 80.7h.1M249.0 82.2h.1M237.6 80.6h.1M225.8 82.8h.1M234.2 78.2h.1M246.9 76.1h.1M244.1 75.8h.1M233.1 90.5h.1M236.5 69.4h.1M233.6 79.5h.1M228.1 86.7h.1M252.3 85.3h.1M235.1 76.6h.1M223.9 79.0h.1M229.5 84.0h.1M240.5 87.2h.1M241.1 77.1h.1M232.7 83.9h.1M228.1 80.8h.1M234.0 85.8h.1M217.9 84.9h.1M222.5 77.2h.1M243.0 74.7h.1M229.7 81.8h.1M236.8 89.4h.1M245.5 85.4h.1M240.4 82.4h.1M233.1 91.9h.1M255.1 78.4h.1M240.2 85.7h.1M231.6 77.3h.1M241.3 81.7h.1M238.3 81.5h.1M225.5 86.6h.1M235.8 76.1h.1M233.3 77.7h.1M217.1 70.3h.1M232.6 82.6h.1M232.2 77.9h.1M230.1 81.9h.1M219.8 73.2h.1M231.4 78.3h.1M233.4 85.4h.1M235.6 79.8h.1M223.4 82.0h.1M240.1 83.8h.1M223.4 77.2h.1M233.4 72.8h.1M246.1 86.9h.1M227.9 80.4h.1M229.1 84.5h.1M245.9 72.3h.1M232.0 72.1h.1M233.2 69.9h.1M237.2 76.6h.1M243.6 86.8h.1M213.5 80.3h.1M226.8 79.2h.1M225.0 79.8h.1M223.8 82.7h.1M226.7 77.9h.1M226.4 81.3h.1M237.2 81.6h.1M227.7 68.9h.1M235.9 78.8h.1M237.3 87.5h.1M227.9 77.7h.1M235.8 80.0h.1M250.2 79.8h.1M237.8 78.6h.1M227.8 85.0h.1M234.1 79.1h.1M226.6 74.4h.1M239.1 66.1h.1M242.9 78.9h.1M228.2 70.1h.1M233.8 71.6h.1M244.3 85.7h.1M229.4 83.2h.1M237.5 71.6h.1M224.4 83.2h.1M226.6 81.6h.1M230.3 76.1h.1M253.8 86.8h.1M231.9 72.2h.1M230.5 74.1h.1M230.3 72.9h.1M233.7 75.0h.1M239.9 85.5h.1M237.1 74.4h.1M254.0 77.7h.1M237.1 76.3h.1M247.6 83.3h.1M237.2 79.2h.1M239.4 85.4h.1M221.8 75.3h.1M234.2 74.2h.1M234.2 78.0h.1M232.3 80.4h.1M215.5 73.3h.1M242.3 82.9h.1M229.8 88.6h.1M230.9 77.1h.1M232.2 80.3h.1M231.5 86.6h.1M238.6 77.9h.1M223.5 74.8h.1M226.8 74.1h.1M236.9 82.7h.1M235.5 83.1h.1M231.2 79.2h.1M229.3 79.9h.1M226.1 85.4h.1M233.4 84.5h.1M246.2 75.3h.1M224.9 79.0h.1M248.3 82.9h.1M241.7 84.9h.1M230.5 78.7h.1M242.1 78.3h.1M221.5 76.3h.1M219.9 69.7h.1M222.8 78.6h.1M231.2 77.0h.1M231.2 82.2h.1M230.5 74.8h.1M235.7 78.4h.1M215.7 73.0h.1M239.7 75.9h.1M221.1 81.9h.1M228.8 77.3h.1M230.5 81.9h.1M224.7 73.5h.1M222.0 79.0h.1M226.5 71.0h.1M234.7 78.0h.1M240.2 78.7h.1M239.3 83.8h.1M225.3 79.9h.1M227.4 78.5h.1M225.6 83.1h.1M238.5 81.8h.1M215.6 80.2h.1M245.3 85.5h.1M230.2 79.4h.1M227.6 77.9h.1M237.4 82.3h.1M244.2 79.6h.1M237.4 82.6h.1M243.4 86.9h.1M235.2 84.5h.1M246.0 80.1h.1M246.7 75.8h.1M233.7 79.9h.1M247.7 81.5h.1M235.3 85.7h.1M235.6 78.6h.1M226.3 78.1h.1M231.4 83.4h.1M241.9 79.0h.1M222.7 77.8h.1M239.3 89.2h.1M236.7 87.8h.1M236.6 83.6h.1M214.3 78.7h.1M234.2 75.5h.1M240.1 83.8h.1M227.5 79.6h.1M235.2 81.4h.1M213.2 74.8h.1M240.7 81.1h.1M228.6 78.6h.1M242.3 82.9h.1M216.8 84.7h.1M240.6 82.9h.1M233.5 72.1h.1M242.5 76.7h.1M227.2 71.6h.1M229.4 75.7h.1M254.6 85.8h.1M226.7 81.1h.1M228.5 76.5h.1M231.8 81.2h.1M225.7 75.4h.1M246.3 75.1h.1M251.2 75.8h.1M228.7 75.3h.1M217.9 84.8h.1M246.1 75.4h.1M243.8 87.6h.1M241.1 87.6h.1M245.2 80.9h.1M226.7 78.9h.1M233.4 77.1h.1M221.9 78.4h.1M221.2 81.6h.1M243.5 81.6h.1M227.7 84.1h.1M254.5 88.8h.1M235.0 82.0h.1M228.5 81.0h.1M241.8 81.0h.1M250.7 84.2h.1M239.7 75.6h.1M223.2 80.6h.1M237.8 81.7h.1M247.6 77.9h.1M228.6 89.8h.1M228.1 74.7h.1M244.4 77.4h.1M235.6 81.8h.1M225.8 69.7h.1M231.6 76.0h.1M228.7 72.1h.1M237.9 76.0h.1M235.6 79.8h.1M244.8 83.2h.1M240.3 86.4h.1M219.8 82.1h.1M237.5 86.4h.1M242.3 84.2h.1M239.0 78.6h.1M243.2 86.9h.1M229.9 77.2h.1M226.3 76.1h.1M242.0 88.7h.1M224.3 82.6h.1M214.7 78.5h.1M243.4 85.1h.1M227.4 83.5h.1M232.7 73.4h.1M221.9 78.0h.1M223.2 72.9h.1M223.9 79.3h.1M231.7 76.6h.1M237.0 87.2h.1M213.3 79.8h.1M241.9 77.3h.1M223.8 78.6h.1M225.6 73.1h.1M240.7 81.3h.1M233.5 82.7h.1M220.4 79.5h.1M252.6 73.4h.1M226.9 77.5h.1M236.5 83.0h.1M236.2 81.9h.1M246.6 87.5h.1M231.2 73.5h.1M243.4 84.0h.1M228.2 76.2h.1M244.6 82.6h.1M227.3 81.2h.1M230.8 83.0h.1M252.2 79.9h.1M237.3 81.5h.1M236.3 74.8h.1M255.9 76.4h.1M237.5 83.3h.1M227.1 78.9h.1M242.3 73.5h.1M224.3 74.7h.1M244.8 81.8h.1M244.5 89.2h.1M228.6 84.5h.1M228.3 83.2h.1M237.3 72.0h.1M234.7 79.8h.1M225.3 81.2h.1M239.5 82.8h.1M215.7 79.6h.1M230.8 78.6h.1M229.7 88.1h.1M231.1 86.9h.1M237.4 80.2h.1M224.0 74.0h.1M238.5 90.7h.1M233.3 77.4h.1M227.8 85.1h.1M220.8 87.5h.1M224.4 74.2h.1M237.6 82.1h.1M226.0 77.3h.1M234.8 82.8h.1M244.0 83.1h.1M242.6 90.8h.1M248.4 85.0h.1M231.8 79.8h.1M223.9 84.2h.1M244.0 80.2h.1M237.6 78.9h.1M243.3 92.3h.1M235.2 76.3h.1M245.8 79.4h.1M242.2 81.5h.1M241.8 76.1h.1M240.5 70.8h.1M237.5 85.7h.1M237.2 76.8h.1M237.0 77.9h.1M243.8 79.7h.1M230.5 74.9h.1M251.1 77.3h.1M233.5 80.8h.1M241.9 92.9h.1M233.2 83.6h.1M231.8 83.5h.1M254.1 75.7h.1M231.7 79.7h.1M223.7 73.0h.1M227.5 83.0h.1M231.8 78.7h.1M254.1 83.2h.1M236.5 80.1h.1M243.4 78.6h.1M226.4 71.7h.1M237.4 83.4h.1M241.6 74.5h.1M251.7 76.9h.1M228.4 77.9h.1M240.5 77.6h.1M237.1 81.9h.1M224.6 83.7h.1M234.2 81.4h.1M232.0 80.8h.1M213.3 77.4h.1M239.4 85.1h.1M240.7 72.1h.1M230.3 81.4h.1M223.0 74.1h.1M248.8 76.3h.1M237.0 80.6h.1M244.1 79.7h.1M247.0 84.8h.1M229.1 84.8h.1M243.5 70.2h.1M232.4 79.6h.1M232.7 89.4h.1M233.2 84.2h.1M233.6 87.1h.1M244.6 82.1h.1M236.6 73.6h.1M233.9 74.7h.1M231.5 83.2h.1M237.0 85.2h.1M226.9 75.6h.1M230.1 78.3h.1M233.9 81.4h.1M230.6 71.2h.1M233.7 78.4h.1M227.9 87.1h.1M251.3 93.2h.1M246.7 81.4h.1M237.4 89.5h.1M234.4 77.7h.1M255.0 79.2h.1M239.0 70.0h.1M233.1 84.7h.1M237.6 78.8h.1M235.8 91.7h.1M247.2 83.6h.1M234.2 81.1h.1M254.9 74.3h.1M225.5 86.2h.1M241.1 79.4h.1M225.5 78.2h.1M252.6 72.1h.1M230.9 84.2h.1M233.3 84.9h.1M243.4 78.5h.1M245.9 82.3h.1M224.1 80.7h.1M230.7 84.4h.1M221.8 78.9h.1M234.6 88.6h.1M233.8 78.9h.1M231.8 76.9h.1M228.6 77.1h.1M232.7 67.7h.1M228.3 75.4h.1M238.7 85.7h.1M248.2 83.4h.1M217.5 73.9h.1M233.2 81.7h.1M232.1 70.1h.1M239.2 79.5h.1M225.5 81.5h.1M232.7 83.4h.1M225.6 75.2h.1M240.3 85.5h.1M234.2 89.3h.1M233.4 78.0h.1M237.4 84.2h.1M233.3 72.5h.1M221.7 68.9h.1M239.6 83.9h.1M237.1 80.8h.1M233.0 81.0h.1M243.9 78.7h.1M245.8 80.4h.1M224.0 82.7h.1M226.3 87.4h.1M248.8 81.2h.1M248.6 74.2h.1M227.0 85.4h.1M223.4 81.6h.1M228.3 82.7h.1M229.9 80.5h.1M218.6 89.3h.1M234.8 80.7h.1M222.5 81.1h.1M224.7 69.9h.1M243.3 78.7h.1M228.8 76.1h.1M233.9 80.0h.1M240.0 82.7h.1M242.4 77.7h.1M230.3 88.1h.1M235.6 75.2h.1M227.3 77.1h.1M250.3 83.6h.1M241.3 75.1h.1M224.1 81.6h.1M234.1 83.3h.1M241.2 79.8h.1M237.6 89.9h.1M251.1 83.0h.1M246.8 83.4h.1M230.3 75.0h.1M234.8 72.2h.1M223.3 75.6h.1M237.0 79.0h.1M236.2 78.3h.1M258.7 87.4h.1M237.0 69.0h.1M216.2 72.2h.1M229.6 70.7h.1M234.7 86.8h.1M223.5 76.0h.1M227.0 76.7h.1M231.9 74.5h.1M237.0 85.0h.1M233.3 78.1h.1M226.3 80.2h.1M243.1 71.6h.1M228.8 85.1h.1M229.7 81.5h.1M221.6 81.1h.1M226.5 85.1h.1M240.6 80.2h.1M219.9 77.4h.1M233.4 83.6h.1M240.8 83.2h.1M231.3 78.6h.1M236.7 80.8h.1M224.7 76.4h.1M246.0 85.3h.1M243.9 86.1h.1M236.7 80.6h.1M217.3 87.0h.1M226.0 71.6h.1M243.6 80.4h.1M249.0 90.6h.1M237.5 78.6h.1M247.0 74.2h.1M228.1 86.1h.1M232.4 82.6h.1M235.3 74.6h.1M237.9 84.5h.1M221.3 73.4h.1M244.0 75.1h.1M246.7 81.2h.1M224.4 76.5h.1M222.9 73.3h.1M238.0 79.0h.1M229.2 74.6h.1M212.9 77.5h.1M241.9 81.2h.1M235.5 84.0h.1M230.5 77.5h.1M254.7 76.6h.1M236.7 74.2h.1M227.8 78.1h.1M234.4 87.7h.1M224.5 83.0h.1M228.0 76.2h.1M237.4 85.3h.1M230.3 74.0h.1M229.7 84.5h.1M250.0 80.6h.1M241.8 85.0h.1M241.4 84.3h.1M239.5 79.6h.1M238.7 82.5h.1M248.5 77.1h.1M234.4 79.9h.1M250.7 87.8h.1M223.1 98.6h.1M231.7 83.3h.1M221.9 78.9h.1M232.1 75.0h.1M238.5 86.0h.1M248.9 74.2h.1M229.0 75.6h.1M234.3 82.0h.1M232.1 74.1h.1M226.8 86.7h.1M223.0 84.0h.1M235.5 77.6h.1M219.1 75.4h.1M236.4 74.1h.1M235.7 73.6h.1M228.2 81.5h.1M224.9 82.0h.1M221.7 80.2h.1M251.4 83.9h.1M222.7 75.9h.1M248.5 84.0h.1M241.0 74.0h.1M231.2 79.9h.1M223.0 85.8h.1M243.1 87.9h.1M250.6 80.3h.1M226.2 77.5h.1M230.9 86.5h.1M242.9 90.2h.1M238.6 73.6h.1M253.0 80.8h.1M229.2 80.7h.1M238.7 86.8h.1M223.7 74.7h.1M253.2 86.0h.1M228.1 77.9h.1M212.8 88.8h.1M233.1 82.2h.1M233.4 79.5h.1M252.2 81.1h.1M230.7 84.9h.1M234.0 83.5h.1M240.7 75.9h.1M248.8 83.4h.1M234.9 73.8h.1M244.5 78.0h.1M240.1 74.8h.1M232.7 73.6h.1M235.7 77.1h.1M235.4 75.6h.1M225.8 81.6h.1M245.1 85.6h.1M222.1 77.4h.1M246.0 76.4h.1M242.7 85.3h.1M235.0 70.5h.1M228.9 70.1h.1M232.0 83.5h.1M238.4 84.0h.1M240.6 85.9h.1M237.3 79.6h.1M244.4 75.5h.1M229.8 77.1h.1M236.3 83.3h.1M220.8 74.6h.1M242.0 77.9h.1M236.9 73.8h.1M231.5 74.2h.1M244.5 85.8h.1M240.5 83.3h.1M209.7 71.1h.1M235.6 75.2h.1M221.7 75.7h.1M243.9 84.3h.1M258.0 77.9h.1M229.9 78.8h.1M236.6 70.1h.1M233.1 74.0h.1M237.4 82.7h.1M239.8 85.4h.1M247.0 76.4h.1M226.1 75.3h.1M248.3 86.1h.1M226.3 77.2h.1M237.4 78.1h.1M244.7 84.2h.1M240.9 82.1h.1M225.2 84.4h.1M227.6 83.2h.1M230.7 76.9h.1M234.1 79.7h.1M245.0 81.5h.1M223.7 72.2h.1M239.4 76.2h.1M239.4 85.7h.1M240.7 73.4h.1M238.1 85.6h.1M248.2 83.6h.1M239.1 80.3h.1M242.0 84.0h.1M239.3 83.3h.1M250.1 88.4h.1M217.5 76.0h.1M246.4 80.8h.1M232.3 78.8h.1M230.7 88.9h.1M225.1 83.6h.1M218.1 73.5h.1M231.3 78.2h.1M228.7 76.1h.1M239.0 81.0h.1M221.0 79.4h.1M246.0 93.1h.1M238.2 71.9h.1M231.6 84.9h.1M227.8 81.5h.1M227.8 76.0h.1M224.3 78.1h.1M229.9 77.2h.1M234.5 80.6h.1M232.2 84.9h.1M222.7 71.3h.1M231.2 86.2h.1M226.6 77.4h.1M235.0 87.7h.1M251.2 84.7h.1M239.4 87.0h.1M231.3 82.6h.1M219.0 83.4h.1M221.6 78.8h.1M219.7 74.2h.1M240.7 84.5h.1M227.1 82.7h.1M233.7 90.4h.1M230.2 70.0h.1M235.5 79.5h.1M246.6 87.2h.1M229.1 73.5h.1M231.6 78.8h.1M225.8 89.4h.1M241.5 88.2h.1M225.8 74.8h.1M223.2 85.7h.1M221.1 84.2h.1M221.2 82.2h.1M238.6 82.8h.1M257.8 84.8h.1M226.0 74.9h.1M243.5 79.1h.1M236.3 84.2h.1M224.4 79.6h.1M230.8 88.8h.1M232.6 78.5h.1M229.8 68.0h.1M252.3 81.2h.1M217.0 79.2h.1M237.7 82.7h.1M237.5 81.1h.1M229.8 75.7h.1M234.9 87.7h.1M243.0 78.3h.1M235.4 83.9h.1M238.5 79.5h.1M241.6 75.6h.1M215.1 84.5h.1M249.7 70.3h.1M255.8 79.2h.1M243.2 83.7h.1M244.0 80.0h.1M221.2 82.1h.1M233.5 79.8h.1M227.4 77.2h.1M227.7 89.9h.1M243.5 80.6h.1M227.3 78.6h.1M234.1 75.1h.1M217.6 74.4h.1M232.6 83.3h.1M235.0 83.2h.1M228.1 79.5h.1M228.4 76.1h.1M251.2 86.1h.1M224.6 70.7h.1M225.2 77.4h.1M227.3 78.2h.1M246.0 77.9h.1M253.6 83.8h.1M238.0 77.7h.1M228.5 75.7h.1M229.4 88.4h.1M243.7 85.3h.1M225.4 85.0h.1M247.7 82.5h.1M246.8 86.8h.1M234.6 84.2h.1M239.6 87.0h.1M239.8 92.7h.1M248.8 81.4h.1M224.8 80.3h.1M245.3 81.7h.1M233.4 63.3h.1M228.4 72.8h.1M235.4 80.7h.1M232.1 83.2h.1M225.9 76.5h.1M219.2 83.8h.1M225.1 85.4h.1M248.0 80.4h.1M251.4 89.8h.1M239.3 89.6h.1M245.0 84.2h.1M230.5 75.1h.1M232.8 87.4h.1M237.2 80.1h.1M224.9 77.3h.1M225.4 79.8h.1M235.7 78.1h.1M230.9 85.2h.1M224.3 82.8h.1M237.2 86.8h.1M231.7 82.9h.1M244.3 78.0h.1M234.6 79.7h.1M231.2 84.3h.1M235.9 78.7h.1M231.0 94.2h.1M228.6 78.5h.1M231.2 77.2h.1M240.6 86.9h.1M239.9 84.9h.1M246.2 82.0h.1M219.2 77.2h.1M230.6 82.0h.1M230.2 83.9h.1M235.6 84.3h.1M230.6 78.5h.1M229.5 81.9h.1M241.1 85.5h.1M235.6 84.4h.1M225.9 64.3h.1M247.3 78.0h.1M244.1 78.1h.1M229.4 78.7h.1M242.0 82.4h.1M227.2 83.9h.1M244.3 84.9h.1M232.6 79.6h.1M227.2 79.6h.1M229.9 88.4h.1M227.9 76.6h.1M236.0 82.2h.1M235.0 88.2h.1M234.6 82.2h.1M230.8 70.1h.1M200.9 77.6h.1M235.6 78.8h.1M217.3 77.5h.1M236.0 85.8h.1M244.5 84.2h.1M237.2 79.6h.1M230.4 84.2h.1M232.6 82.3h.1M233.2 80.8h.1M229.3 81.2h.1M229.0 81.0h.1M226.3 77.7h.1M245.6 79.8h.1M234.3 80.6h.1M243.8 77.2h.1M233.1 74.2h.1M234.3 86.8h.1M233.1 79.1h.1M238.7 81.0h.1M242.1 80.9h.1M236.7 80.9h.1M228.3 79.7h.1M227.4 79.8h.1M250.2 78.8h.1M231.3 84.6h.1M232.3 76.8h.1M247.2 87.3h.1M245.7 72.8h.1M240.1 76.1h.1M230.2 84.7h.1M256.0 82.8h.1M238.5 77.8h.1M239.2 83.0h.1M233.6 75.3h.1M221.6 79.1h.1M223.8 68.3h.1M238.5 78.9h.1M238.5 77.9h.1M232.0 82.8h.1M223.2 83.2h.1M221.9 74.6h.1M230.4 87.7h.1M221.6 75.8h.1M244.1 71.9h.1M246.6 70.7h.1M259.2 91.4h.1M242.6 81.2h.1M229.5 76.7h.1M227.1 75.8h.1M203.8 70.9h.1M228.2 86.2h.1M232.9 79.9h.1M242.1 90.2h.1M240.2 80.3h.1M241.4 70.1h.1M235.9 84.8h.1M240.8 79.6h.1M247.8 81.2h.1M223.8 86.6h.1M230.5 78.7h.1M221.1 84.2h.1M249.3 82.5h.1M246.8 78.6h.1M241.0 83.9h.1M224.0 76.1h.1M235.3 86.6h.1M231.7 84.8h.1M235.2 80.9h.1M232.4 83.2h.1M238.9 83.8h.1M231.1 78.7h.1M241.7 85.8h.1M236.9 79.7h.1M231.4 83.1h.1M234.1 75.8h.1M230.4 80.4h.1M241.6 83.5h.1M232.6 76.4h.1M237.5 78.9h.1M231.3 77.5h.1M220.5 82.1h.1M243.2 78.3h.1M224.6 81.2h.1M239.7 88.6h.1M238.1 82.8h.1M220.5 70.7h.1M225.8 79.9h.1M229.1 84.8h.1M227.2 78.1h.1M223.0 84.3h.1M240.8 84.4h.1M232.0 82.2h.1M238.2 79.8h.1M230.9 77.6h.1M237.4 79.7h.1M227.6 79.9h.1M233.9 83.0h.1M239.5 83.3h.1M235.1 79.2h.1M230.3 80.3h.1M224.3 81.0h.1M237.1 73.0h.1M238.1 77.3h.1M232.7 76.4h.1M227.6 78.6h.1M239.6 79.9h.1M257.3 82.5h.1M232.3 76.0h.1M237.1 84.2h.1M237.7 82.4h.1M212.2 69.5h.1M235.6 80.8h.1M228.8 74.3h.1M246.0 90.4h.1M232.5 78.1h.1M227.7 77.7h.1M232.4 80.7h.1M236.1 79.8h.1M229.4 79.6h.1M233.0 87.9h.1M222.0 79.9h.1M231.9 84.3h.1M240.8 86.9h.1M253.1 78.5h.1M239.8 89.5h.1M236.5 84.2h.1M244.6 86.6h.1M244.3 77.8h.1M249.1 86.6h.1M244.1 83.9h.1M233.8 77.9h.1M235.3 91.8h.1M235.7 83.5h.1M237.4 79.8h.1M236.2 81.8h.1M226.8 83.9h.1M214.6 83.3h.1M228.0 82.5h.1M215.2 83.8h.1M234.1 87.7h.1M235.4 74.7h.1M219.5 76.1h.1M241.4 77.0h.1M242.3 82.2h.1M234.4 87.6h.1M249.2 85.8h.1M252.2 78.0h.1M223.7 77.7h.1M243.2 86.8h.1M238.9 78.6h.1M238.4 80.7h.1M242.8 83.2h.1M229.2 71.0h.1M228.6 83.5h.1M226.7 81.2h.1M227.2 82.3h.1M234.2 75.8h.1M221.8 75.1h.1M225.4 76.4h.1M239.6 82.5h.1M233.8 80.8h.1M237.9 81.7h.1M216.1 86.7h.1M226.5 85.8h.1M229.9 76.5h.1M235.2 77.5h.1M228.0 88.0h.1M243.2 80.3h.1M233.0 87.1h.1M233.6 88.2h.1M235.0 78.0h.1M241.1 80.2h.1M230.1 80.4h.1M245.3 77.9h.1M239.3 76.5h.1M236.2 78.9h.1M234.3 84.7h.1M239.5 79.1h.1M243.9 80.9h.1M243.4 79.6h.1M238.8 74.6h.1M241.5 88.8h.1M237.1 69.6h.1M246.3 79.1h.1M233.9 83.2h.1M216.5 71.3h.1M246.3 85.2h.1M234.6 86.7h.1M224.4 75.0h.1M232.5 81.3h.1M227.2 74.2h.1M253.3 85.7h.1M239.0 81.7h.1M220.1 79.6h.1M238.6 87.8h.1M230.5 82.3h.1M251.1 89.4h.1M224.5 82.3h.1M214.8 72.0h.1M234.9 81.9h.1M231.0 82.5h.1M231.7 73.2h.1M214.1 84.2h.1M238.3 81.5h.1M249.5 84.5h.1M217.7 73.9h.1M245.1 82.4h.1M229.1 81.3h.1M256.1 82.0h.1M238.4 81.5h.1M234.2 70.3h.1M243.6 88.5h.1M240.0 76.0h.1M230.5 69.5h.1M241.6 76.9h.1M230.4 76.0h.1M217.8 80.9h.1M253.6 78.8h.1M231.1 81.5h.1M229.6 75.2h.1M236.1 91.5h.1M219.9 81.2h.1M220.8 88.2h.1M230.6 75.1h.1M229.3 83.1h.1M235.8 76.1h.1M244.3 84.8h.1M229.7 83.2h.1M240.0 73.6h.1M240.7 75.9h.1M225.4 73.6h.1M237.6 73.7h.1M226.4 75.9h.1M244.8 77.4h.1M239.6 74.3h.1M234.6 81.1h.1M221.9 81.5h.1M236.4 74.5h.1M227.9 76.9h.1M240.9 81.5h.1M233.6 79.3h.1M227.6 76.2h.1M242.4 85.6h.1M240.5 85.5h.1M228.6 83.0h.1M245.2 81.1h.1M230.4 89.6h.1M230.5 88.4h.1M235.9 78.8h.1M227.7 79.0h.1M229.7 85.6h.1M233.6 76.5h.1M248.2 84.4h.1M248.1 82.7h.1M232.6 76.9h.1M249.3 81.5h.1M235.1 73.0h.1M238.3 78.5h.1M243.9 72.2h.1M235.6 91.8h.1M255.5 90.8h.1M235.9 86.7h.1M223.4 80.4h.1M245.7 87.0h.1M229.9 86.1h.1M231.0 85.0h.1M206.6 81.1h.1M244.2 77.5h.1M241.7 83.6h.1M242.1 79.0h.1M244.2 76.2h.1M250.7 77.3h.1M233.8 82.5h.1M242.3 86.7h.1M228.6 73.1h.1M230.1 88.4h.1M243.1 88.9h.1M238.3 79.2h.1M222.7 76.6h.1M237.8 80.6h.1M232.2 84.9h.1M227.3 77.6h.1M239.2 75.8h.1M230.6 81.6h.1M221.6 68.7h.1M224.3 79.8h.1M249.8 88.3h.1M220.5 80.0h.1M236.0 84.5h.1M243.5 70.2h.1M245.8 74.4h.1M235.1 88.1h.1M225.0 74.5h.1M232.3 78.2h.1M232.8 85.4h.1M250.7 84.4h.1M255.2 86.3h.1M240.8 78.7h.1M223.4 86.9h.1M226.9 72.0h.1M229.7 92.7h.1M253.1 81.2h.1M240.5 74.8h.1M233.1 85.0h.1M224.4 81.6h.1M249.4 67.0h.1M238.2 82.6h.1M236.5 69.4h.1M237.6 73.9h.1M255.0 90.8h.1M234.3 72.9h.1M255.8 87.4h.1M251.3 80.5h.1M232.3 95.3h.1M246.3 81.7h.1M235.3 70.5h.1M226.2 69.2h.1M233.0 72.3h.1M223.1 78.6h.1M241.4 81.4h.1M233.5 87.7h.1M241.8 82.9h.1M245.2 83.3h.1M239.1 79.9h.1M211.5 77.4h.1M235.7 86.6h.1M222.4 83.8h.1M237.1 76.0h.1M255.2 69.9h.1M214.5 69.1h.1M236.8 82.7h.1M238.0 60.3h.1M211.6 71.2h.1M242.4 85.3h.1M236.3 75.7h.1M230.3 69.9h.1M222.8 91.8h.1M273.4 99.5h.1M230.3 76.9h.1M209.8 85.5h.1M220.9 87.6h.1M232.1 70.1h.1M225.6 99.9h.1M235.5 72.4h.1M222.0 75.1h.1M243.6 72.9h.1M228.6 79.3h.1M219.8 66.0h.1M224.5 77.7h.1M228.2 87.4h.1M245.3 83.9h.1M241.5 79.2h.1M228.0 91.1h.1M236.7 73.0h.1M236.0 88.1h.1M261.3 83.1h.1M226.7 79.9h.1M240.8 81.4h.1M243.9 82.9h.1M222.9 76.9h.1M238.6 74.3h.1M237.9 75.9h.1M228.2 82.1h.1M242.3 80.6h.1M249.9 73.6h.1M250.5 77.4h.1M233.6 73.9h.1M237.4 79.9h.1M264.5 87.6h.1M220.7 77.6h.1M238.8 75.3h.1M246.2 82.4h.1M239.1 69.5h.1M248.1 59.0h.1M237.2 79.9h.1M247.3 68.9h.1M252.8 75.9h.1M234.1 69.8h.1M236.4 85.2h.1M236.2 70.2h.1M229.4 80.8h.1M235.5 75.9h.1M222.6 67.0h.1M247.0 69.4h.1M255.8 88.0h.1M256.0 87.4h.1M249.9 89.2h.1M219.6 91.4h.1M253.8 85.9h.1M225.4 80.0h.1M234.5 78.6h.1M258.3 85.5h.1M221.9 74.0h.1M247.2 74.9h.1M235.2 96.0h.1M236.1 64.7h.1M223.4 79.3h.1M239.6 84.2h.1M228.8 79.6h.1M249.9 74.9h.1M250.9 81.4h.1M218.2 72.3h.1M230.3 69.8h.1M231.0 78.4h.1M220.6 73.2h.1M221.7 72.2h.1M235.0 85.1h.1M234.1 70.7h.1M213.3 78.5h.1M229.2 73.3h.1M240.9 84.3h.1M219.5 76.8h.1M222.9 78.9h.1M256.8 76.1h.1M253.0 77.0h.1M215.8 68.4h.1M217.5 77.2h.1M238.6 86.3h.1M218.1 84.7h.1M232.6 74.9h.1M229.1 78.9h.1M244.8 68.3h.1M206.5 55.3h.1M208.4 66.7h.1M220.5 70.9h.1M250.5 70.0h.1M236.0 65.1h.1M212.4 79.0h.1M242.6 74.5h.1M246.8 68.2h.1M228.0 96.9h.1M230.5 79.9h.1M241.1 78.1h.1M249.3 87.9h.1M238.2 73.9h.1M239.2 93.2h.1M237.0 67.2h.1M232.4 68.1h.1M223.6 75.8h.1M239.6 74.1h.1M228.9 89.5h.1M234.6 66.2h.1M248.1 76.1h.1M240.9 82.5h.1M245.2 86.0h.1M213.3 82.9h.1M241.6 83.5h.1M223.9 94.9h.1M225.6 73.4h.1M223.9 78.3h.1M249.0 89.2h.1M246.1 79.0h.1M226.4 75.0h.1M221.4 72.5h.1M236.3 74.3h.1M231.1 69.2h.1M257.1 79.4h.1M219.0 63.2h.1M211.2 77.2h.1M234.4 66.1h.1M231.8 95.3h.1M233.9 92.8h.1M242.8 89.8h.1M261.8 83.1h.1M231.7 73.7h.1M226.1 87.2h.1M212.4 75.8h.1M237.2 84.2h.1M247.1 75.9h.1M230.0 86.8h.1M251.4 76.1h.1M235.3 80.1h.1M257.2 69.7h.1M240.4 74.9h.1M220.8 80.2h.1M227.7 73.9h.1M216.3 71.5h.1M211.7 80.6h.1M238.6 79.3h.1M244.1 91.1h.1M263.9 65.6h.1M233.4 83.4h.1M231.2 82.4h.1M223.5 64.1h.1M249.8 71.7h.1M238.6 87.0h.1M229.3 69.2h.1M244.9 76.0h.1M241.2 85.3h.1M211.9 71.5h.1M243.7 84.8h.1M238.3 72.7h.1M229.6 80.3h.1M228.0 86.4h.1M256.8 86.3h.1M258.3 66.1h.1M257.2 89.1h.1M220.4 76.4h.1M228.3 70.3h.1M244.3 92.4h.1M222.6 62.2h.1M222.8 91.7h.1M213.2 69.3h.1M256.0 96.4h.1M248.7 81.6h.1M243.1 70.0h.1M237.7 80.4h.1M229.2 80.5h.1M229.1 82.2h.1M241.2 89.0h.1M227.5 70.2h.1M249.9 86.2h.1M227.6 83.5h.1M224.4 74.6h.1M253.1 75.3h.1M234.8 71.2h.1M240.9 86.4h.1M228.5 84.2h.1M207.9 66.5h.1M244.3 70.1h.1M215.9 85.1h.1M251.4 69.9h.1M215.1 76.1h.1M212.7 67.8h.1M241.9 66.2h.1M240.3 81.2h.1M236.8 77.9h.1M217.3 87.0h.1M242.6 99.2h.1M216.8 73.6h.1M227.5 85.8h.1M223.3 85.1h.1M231.2 74.0h.1M247.4 74.6h.1M224.4 89.9h.1M242.9 77.7h.1M244.0 80.7h.1M213.8 72.2h.1M220.5 74.9h.1M231.2 73.3h.1M226.3 83.3h.1M236.9 89.7h.1M211.1 70.9h.1M246.5 70.3h.1M244.5 81.5h.1M235.4 67.0h.1M218.6 70.3h.1M233.1 88.7h.1M224.4 95.7h.1M241.7 83.5h.1M235.8 70.5h.1M243.1 87.1h.1M233.3 60.4h.1M254.6 77.6h.1M203.3 84.7h.1M220.9 82.1h.1M243.6 69.6h.1M218.6 62.0h.1M243.0 87.7h.1M219.7 75.4h.1M237.3 74.7h.1M222.8 79.8h.1M230.4 73.4h.1M240.5 64.6h.1M232.4 85.1h.1M231.3 73.0h.1M264.1 77.1h.1M237.4 68.7h.1M222.3 78.4h.1M248.2 75.3h.1M244.5 86.1h.1M251.1 80.3h.1M256.0 92.3h.1M223.8 73.5h.1M249.6 76.8h.1M252.8 66.8h.1M236.9 70.5h.1M237.0 85.3h.1M229.9 67.8h.1M259.5 75.8h.1M211.8 76.9h.1M227.5 81.3h.1M239.9 74.6h.1M242.3 81.2h.1M258.5 71.0h.1M213.2 72.0h.1M234.1 86.2h.1M243.3 94.1h.1M218.7 74.2h.1M235.0 76.9h.1M258.3 87.7h.1M250.0 91.2h.1M241.1 84.3h.1M203.1 66.2h.1M232.8 81.5h.1M238.4 87.7h.1M232.3 72.7h.1M236.5 68.5h.1M273.5 91.4h.1M231.8 81.3h.1M221.2 84.0h.1M238.0 80.4h.1M232.1 73.2h.1M231.9 74.8h.1M235.7 70.8h.1M246.5 73.8h.1M239.0 75.4h.1M220.6 72.1h.1M231.6 87.4h.1M243.1 70.8h.1M229.2 77.5h.1M250.7 77.6h.1M242.5 92.8h.1M222.1 78.5h.1M239.8 77.1h.1M259.0 90.8h.1M254.8 83.8h.1M235.2 75.3h.1M244.0 93.5h.1M225.3 82.8h.1M213.8 88.7h.1M240.2 89.6h.1M236.9 85.8h.1M241.4 81.5h.1M236.6 70.6h.1M238.1 85.5h.1M228.4 78.3h.1M240.0 85.7h.1M245.7 81.3h.1M235.5 73.6h.1M247.1 73.5h.1M211.4 79.8h.1M222.9 87.1h.1M253.9 80.8h.1M256.7 87.4h.1M236.0 90.6h.1M235.1 72.4h.1M219.5 73.1h.1M241.5 71.4h.1M243.0 90.4h.1M215.8 77.2h.1M242.9 77.1h.1M244.0 67.6h.1M241.0 79.0h.1M219.1 83.9h.1M242.4 78.3h.1M216.7 71.8h.1M252.9 88.2h.1M238.8 70.0h.1M220.2 76.4h.1M251.2 87.5h.1M251.0 76.2h.1M228.2 71.0h.1M262.7 87.1h.1M222.5 75.7h.1M239.4 78.2h.1M249.8 84.0h.1M205.8 74.8h.1M249.3 74.7h.1M235.3 73.8h.1M234.1 82.6h.1M219.5 85.0h.1M237.0 90.6h.1M222.3 69.6h.1M220.9 85.1h.1M228.1 83.9h.1M219.5 75.7h.1M254.3 87.3h.1M216.8 82.1h.1M222.5 91.1h.1M232.8 70.2h.1M234.1 83.9h.1M245.4 80.3h.1M245.8 79.8h.1M229.3 87.3h.1M228.8 84.5h.1M237.2 71.5h.1M246.0 79.3h.1M243.5 82.9h.1M230.8 66.9h.1M207.4 80.4h.1M262.4 84.5h.1M246.9 83.1h.1M237.8 82.6h.1M236.4 94.2h.1M228.4 78.1h.1M222.9 73.8h.1M228.0 91.8h.1M233.0 74.8h.1M228.0 73.5h.1M218.8 64.6h.1M229.3 86.8h.1M241.9 82.9h.1M228.0 81.6h.1M235.1 80.6h.1M208.9 72.6h.1M233.7 72.6h.1M234.8 72.9h.1M218.7 79.3h.1M212.9 75.6h.1M237.6 93.0h.1M226.0 71.2h.1M242.1 76.8h.1M231.4 70.2h.1M240.7 91.6h.1M232.8 68.8h.1M214.6 81.2h.1M231.6 90.2h.1M231.1 77.3h.1M242.2 86.7h.1M232.8 61.6h.1M230.7 75.2h.1M248.7 68.8h.1M249.6 83.8h.1M244.7 81.4h.1M249.5 76.1h.1M239.3 87.8h.1M244.3 84.1h.1M247.1 77.6h.1M241.0 76.4h.1M238.3 68.1h.1M237.2 78.2h.1M262.1 102.2h.1M236.4 73.8h.1M231.3 81.9h.1M231.3 74.1h.1M233.3 85.4h.1M237.4 83.4h.1M221.0 74.4h.1M212.8 60.2h.1M239.6 76.1h.1M212.6 84.2h.1M238.7 78.1h.1M235.8 84.5h.1M250.5 78.7h.1M259.3 69.4h.1M239.0 83.6h.1M227.5 80.3h.1M221.1 71.7h.1M225.6 74.3h.1M235.1 81.7h.1M209.7 69.1h.1M235.4 82.2h.1M235.2 77.7h.1M247.1 62.8h.1M231.0 77.3h.1M237.3 75.0h.1M227.1 70.8h.1M228.5 81.2h.1M213.3 70.7h.1M235.7 83.8h.1M252.9 92.0h.1M236.9 80.9h.1M242.2 68.3h.1M223.8 71.0h.1M251.7 90.3h.1M225.7 75.2h.1M246.6 75.2h.1M236.6 78.9h.1M222.0 80.6h.1M247.7 84.1h.1M234.2 84.4h.1M238.7 73.4h.1M241.2 78.4h.1M235.2 77.3h.1M230.3 78.1h.1M244.4 64.4h.1M230.3 76.4h.1M238.1 69.1h.1M224.3 88.3h.1M213.5 87.3h.1M223.7 90.5h.1M227.4 84.3h.1M236.0 75.6h.1M248.5 90.0h.1M213.9 73.2h.1M235.7 84.4h.1M208.4 66.4h.1M222.7 72.0h.1M227.8 81.6h.1M203.5 87.0h.1M211.4 74.1h.1M233.3 97.2h.1M231.5 100.9h.1M235.7 69.1h.1M224.9 77.0h.1M264.0 77.8h.1M233.2 77.9h.1M224.9 72.9h.1M256.5 83.4h.1M241.3 88.5h.1M228.8 85.6h.1M249.8 84.6h.1M237.0 79.8h.1M243.0 82.0h.1M237.8 81.0h.1M221.0 81.0h.1M247.4 82.0h.1M236.2 83.7h.1M224.3 66.5h.1M224.0 83.5h.1M244.3 95.5h.1M230.0 79.8h.1M237.9 68.6h.1M241.1 91.6h.1M237.2 77.2h.1M220.5 52.1h.1M243.5 79.4h.1M246.0 86.6h.1M245.4 84.7h.1M253.5 93.4h.1M238.6 85.2h.1M244.7 82.5h.1M258.5 68.4h.1M233.2 70.0h.1M256.8 85.5h.1M256.0 89.3h.1M246.7 73.6h.1M259.4 79.6h.1M245.1 85.3h.1M227.0 62.2h.1M252.7 67.4h.1M239.6 78.5h.1M239.9 82.5h.1M237.8 76.1h.1M256.1 65.3h.1M242.0 81.1h.1M228.4 67.2h.1M240.1 85.8h.1M244.5 80.6h.1M225.4 79.5h.1M228.4 83.2h.1M231.0 74.3h.1M225.9 84.2h.1M237.4 90.0h.1M247.3 85.2h.1M256.9 94.8h.1M251.2 77.8h.1M246.5 89.3h.1M249.1 84.6h.1M253.6 75.4h.1M230.4 77.8h.1M244.7 77.2h.1M240.0 76.0h.1M233.2 79.7h.1M227.5 86.4h.1M229.1 75.6h.1M231.4 79.7h.1M221.7 64.7h.1M241.5 81.6h.1M232.8 88.3h.1M235.0 86.0h.1M238.5 84.0h.1M245.1 77.3h.1M229.1 70.3h.1M233.8 78.4h.1M216.8 64.7h.1M208.8 63.9h.1M208.8 81.5h.1M256.1 76.5h.1M208.8 88.4h.1M243.4 69.6h.1M253.1 86.7h.1M231.1 69.1h.1M255.5 85.2h.1M260.2 76.3h.1M247.0 82.3h.1M265.4 84.6h.1M243.7 77.6h.1M224.9 81.4h.1M239.2 92.5h.1M230.4 73.6h.1M217.0 82.8h.1M218.7 76.6h.1M264.5 85.4h.1M224.6 95.0h.1M238.4 62.5h.1M227.8 72.4h.1M239.8 65.8h.1M232.6 76.4h.1M230.3 76.5h.1M216.6 78.3h.1M222.7 91.3h.1M236.8 90.3h.1M262.3 81.6h.1M247.8 86.0h.1M255.6 97.3h.1M241.1 82.1h.1M233.8 80.8h.1M217.5 79.8h.1M237.7 67.8h.1M209.3 67.4h.1M230.9 81.3h.1M255.0 88.1h.1M240.9 73.2h.1M250.1 80.0h.1M230.6 77.5h.1M218.0 74.6h.1M228.0 83.5h.1M230.1 79.2h.1M250.3 84.0h.1M262.7 73.8h.1M227.6 69.3h.1M230.2 81.0h.1M236.1 66.7h.1M230.4 80.6h.1M220.6 71.0h.1M237.8 73.4h.1M238.9 85.5h.1M241.4 75.2h.1M221.4 69.5h.1M235.0 73.9h.1M213.1 75.2h.1M242.4 103.2h.1M225.9 60.2h.1M231.9 78.5h.1M230.1 76.3h.1M226.4 85.3h.1M222.5 73.7h.1M217.0 55.5h.1M255.2 94.4h.1M240.4 71.6h.1M238.9 79.7h.1M264.4 74.5h.1M235.9 70.6h.1M243.3 77.1h.1M234.3 86.1h.1M249.1 89.2h.1M242.8 76.1h.1M238.6 84.2h.1M232.8 75.8h.1M238.8 81.0h.1M250.0 83.7h.1M208.0 78.6h.1M234.8 74.3h.1M230.4 77.2h.1M231.3 80.3h.1M210.2 74.7h.1M246.1 75.2h.1M221.9 90.5h.1M233.3 75.2h.1M227.8 83.9h.1M213.9 76.4h.1M227.8 87.7h.1M215.6 57.4h.1M220.1 92.8h.1M231.8 76.9h.1M237.4 69.8h.1M236.0 80.5h.1M230.0 96.5h.1M261.8 89.1h.1M243.0 71.0h.1M220.7 72.5h.1M225.5 88.1h.1M229.4 66.7h.1M233.5 77.5h.1M228.3 75.4h.1M221.0 93.9h.1M256.9 81.5h.1M233.9 89.7h.1M232.3 73.2h.1M233.6 72.4h.1M231.1 86.6h.1M252.2 88.0h.1M244.4 67.2h.1M248.7 87.4h.1M240.6 75.5h.1M248.6 83.9h.1M260.1 86.8h.1M236.7 75.7h.1M214.6 70.2h.1M244.1 75.7h.1M228.3 75.6h.1M214.9 64.2h.1M227.7 77.3h.1M251.4 70.6h.1M250.7 83.2h.1M244.8 80.6h.1M223.9 68.5h.1M266.1 92.8h.1M217.4 91.2h.1M232.3 89.4h.1M219.4 64.8h.1M250.2 92.8h.1M240.8 82.2h.1M246.9 81.3h.1M237.7 75.0h.1M234.7 79.1h.1M235.5 90.6h.1M210.6 78.5h.1M248.9 78.8h.1M248.3 76.6h.1M231.3 75.0h.1M234.4 83.9h.1M236.3 94.6h.1M257.3 75.4h.1M241.1 80.5h.1M236.8 76.5h.1M230.4 72.1h.1M215.8 78.4h.1M227.1 82.0h.1M238.8 68.5h.1M234.1 70.6h.1M234.6 88.8h.1M244.6 83.8h.1M240.3 84.6h.1M239.9 76.2h.1M244.6 78.2h.1M237.2 83.4h.1M236.1 75.4h.1M243.4 72.0h.1M213.7 74.7h.1M250.1 89.8h.1M220.9 67.9h.1M244.5 89.8h.1M234.7 84.8h.1M251.2 75.7h.1M236.1 79.5h.1M223.7 76.5h.1M248.3 87.2h.1M236.9 85.0h.1M239.3 69.6h.1M238.9 69.1h.1M246.7 90.1h.1M245.9 82.5h.1M237.9 83.2h.1M215.4 77.8h.1M228.0 90.1h.1M239.0 70.3h.1M256.7 92.7h.1M242.0 74.1h.1M233.4 84.8h.1M248.7 93.0h.1M236.6 68.4h.1M234.7 82.4h.1M238.2 77.7h.1M217.2 73.1h.1M247.8 82.3h.1M242.9 72.4h.1M233.7 71.2h.1M220.1 81.4h.1M237.1 86.5h.1M254.5 78.8h.1M230.0 66.4h.1M218.4 94.4h.1M239.3 89.0h.1M214.9 77.9h.1M209.2 65.4h.1M231.1 73.7h.1M226.6 79.4h.1M233.8 71.2h.1M226.1 90.3h.1M239.8 81.3h.1M232.3 81.8h.1M229.9 69.8h.1M231.5 71.1h.1M245.1 75.0h.1M247.5 84.1h.1M247.7 79.8h.1M245.1 79.0h.1M222.7 78.4h.1M229.4 90.0h.1M238.7 78.4h.1M216.9 67.2h.1M253.9 83.1h.1M237.3 91.5h.1M228.8 73.4h.1M237.8 80.2h.1M232.0 75.7h.1M225.5 80.5h.1M241.8 82.7h.1M231.4 71.9h.1M218.2 73.8h.1M226.2 84.9h.1M232.6 87.5h.1M220.6 83.6h.1M250.5 89.5h.1M222.5 73.9h.1M258.8 81.4h.1M245.7 89.0h.1M225.8 67.8h.1M237.6 79.3h.1M253.9 68.3h.1M234.0 76.0h.1M221.8 70.8h.1M239.3 70.4h.1M260.2 89.2h.1M218.1 69.7h.1M243.5 78.1h.1M236.4 77.5h.1M235.6 73.4h.1M228.6 89.3h.1M232.6 74.8h.1M248.8 83.7h.1M245.6 71.0h.1M224.0 73.1h.1M256.3 81.2h.1M219.9 73.6h.1M245.3 76.7h.1M238.0 81.0h.1M248.6 94.7h.1M240.7 79.4h.1M249.6 81.2h.1M236.3 76.4h.1M244.2 101.6h.1M237.7 92.8h.1M262.4 89.5h.1M226.0 83.0h.1M252.3 77.2h.1M242.1 79.5h.1M237.9 81.5h.1M228.6 78.8h.1M243.1 74.1h.1M218.5 69.5h.1M217.7 79.7h.1M244.5 83.8h.1M219.6 59.1h.1M254.1 84.0h.1M230.4 88.5h.1M240.2 75.2h.1M236.6 81.5h.1M243.7 69.4h.1M231.1 85.1h.1M233.1 69.9h.1M236.4 69.5h.1M249.9 79.9h.1M246.6 100.7h.1M253.2 78.2h.1M242.7 70.8h.1M232.7 82.5h.1M214.3 76.7h.1M241.5 93.9h.1M248.8 72.0h.1M233.5 66.1h.1M246.8 79.2h.1M251.8 85.9h.1M236.6 82.5h.1M247.7 90.6h.1M242.4 68.8h.1M215.3 68.4h.1M230.2 77.2h.1M229.4 84.8h.1M242.0 84.6h.1M225.7 73.9h.1M232.1 70.5h.1M222.3 83.6h.1M234.0 86.7h.1M232.5 100.5h.1M248.7 80.7h.1M243.5 94.1h.1M240.1 70.6h.1M240.0 76.0h.1M238.5 74.6h.1M238.2 76.2h.1M257.1 76.9h.1M205.3 68.6h.1M233.9 78.6h.1M240.7 76.9h.1M249.3 87.6h.1M222.3 75.9h.1M240.4 80.4h.1M244.6 93.1h.1M229.9 80.7h.1M211.5 75.5h.1M231.5 78.4h.1M220.7 76.7h.1M243.4 85.6h.1M226.5 71.0h.1M256.8 93.1h.1M235.3 91.9h.1M223.9 86.1h.1M230.4 74.3h.1M224.7 64.3h.1M241.7 77.2h.1M254.7 84.7h.1M231.9 85.2h.1M248.1 80.6h.1M224.5 74.6h.1M237.5 92.0h.1M266.4 80.6h.1M216.4 83.8h.1M250.2 89.7h.1M253.1 72.5h.1M211.7 76.5h.1" stroke="#000" stroke-width="0.75" stroke-linecap="square" fill="none" stroke-opacity="0.42"/>
<path d="M210.6 58.2h.1M209.0 65.5h.1M205.3 33.2h.1M206.4 43.3h.1M214.6 66.3h.1M211.3 53.2h.1M214.0 61.7h.1M208.5 85.2h.1M211.6 51.9h.1M211.8 60.0h.1M206.5 48.3h.1M206.0 47.3h.1M214.7 55.4h.1M213.5 35.2h.1M209.0 25.6h.1M212.5 76.5h.1M215.6 55.0h.1M220.4 73.0h.1M209.2 58.3h.1M215.4 58.7h.1M221.6 66.3h.1M213.1 67.0h.1M218.9 38.9h.1M202.2 74.2h.1M218.8 42.3h.1M212.8 59.5h.1M205.2 94.0h.1M216.1 57.7h.1M217.2 80.9h.1M217.9 51.4h.1M217.8 65.5h.1M212.8 57.3h.1M209.8 62.6h.1M211.0 44.0h.1M212.7 43.1h.1M214.5 61.4h.1M210.9 33.6h.1M213.1 44.2h.1M216.5 65.9h.1M214.2 47.5h.1M222.3 43.5h.1M221.8 40.3h.1M208.1 58.7h.1M210.5 51.2h.1M207.5 58.7h.1M208.1 53.8h.1M215.1 83.6h.1M208.8 50.1h.1M208.6 27.9h.1M211.8 58.2h.1M216.2 56.6h.1M211.4 58.8h.1M211.4 33.0h.1M216.7 73.1h.1M214.8 56.1h.1M214.8 55.9h.1M216.8 33.4h.1M208.7 63.5h.1M213.8 55.6h.1M210.3 76.3h.1M217.1 50.5h.1M216.2 38.5h.1M208.6 58.4h.1M218.4 43.2h.1M208.1 62.6h.1M217.7 40.7h.1M213.7 54.6h.1M209.3 53.2h.1M208.3 56.0h.1M211.6 49.0h.1M212.8 44.7h.1M209.9 55.7h.1M215.2 48.1h.1M207.1 58.8h.1M212.8 52.6h.1M205.1 55.6h.1M214.2 76.8h.1M207.7 61.0h.1M202.6 65.3h.1M210.3 63.2h.1M211.9 49.7h.1M216.6 37.1h.1M210.9 68.3h.1M219.0 71.9h.1M218.8 64.8h.1M217.4 62.7h.1M218.3 62.3h.1M214.3 56.1h.1M210.6 60.5h.1M215.6 56.7h.1M216.9 61.3h.1M213.9 42.8h.1M211.9 47.4h.1M206.4 64.8h.1M215.7 51.6h.1M207.5 58.4h.1M215.9 84.2h.1M212.4 67.0h.1M216.1 66.3h.1M216.0 46.9h.1M206.8 40.2h.1M211.6 53.5h.1M214.9 56.9h.1M216.7 45.4h.1M218.7 58.9h.1M204.9 66.5h.1M212.6 65.2h.1M215.8 41.6h.1M217.9 25.4h.1M219.9 56.6h.1M209.0 47.1h.1M211.3 63.1h.1M208.5 80.3h.1M216.3 80.3h.1M207.4 60.8h.1M217.8 72.6h.1M216.8 80.3h.1M214.9 57.3h.1M203.9 60.6h.1M210.1 68.9h.1M216.0 56.2h.1M207.0 49.5h.1M211.9 45.9h.1M212.4 56.8h.1M216.6 47.8h.1M214.0 68.2h.1M214.0 51.9h.1M211.0 77.7h.1M212.9 74.1h.1M212.3 39.0h.1M215.9 72.3h.1M212.1 51.0h.1M217.2 76.4h.1M205.8 64.1h.1M217.9 56.1h.1M212.2 66.4h.1M217.6 48.8h.1M213.2 61.5h.1M216.4 62.4h.1M219.1 54.7h.1M210.6 62.4h.1M213.2 42.6h.1M212.2 64.9h.1M213.7 39.6h.1M206.1 65.8h.1M212.2 63.7h.1M211.8 67.1h.1M209.6 49.0h.1M212.1 100.3h.1M206.5 53.7h.1M218.7 59.1h.1M214.7 46.2h.1M220.7 77.4h.1M209.2 50.3h.1M208.0 71.2h.1M214.0 43.6h.1M205.9 61.5h.1M213.8 51.8h.1M209.9 70.4h.1M211.5 52.9h.1M213.9 44.8h.1M213.0 63.6h.1M220.6 40.1h.1M215.5 43.5h.1M207.5 68.1h.1M216.9 30.5h.1M207.3 68.0h.1M213.2 51.5h.1M207.7 44.2h.1M209.4 60.7h.1M218.3 66.2h.1M210.5 48.9h.1M210.2 54.7h.1M210.5 68.6h.1M211.6 68.0h.1M218.8 56.6h.1M208.0 46.4h.1M207.7 43.9h.1M215.3 48.9h.1M206.2 67.0h.1M211.3 65.5h.1M217.5 61.7h.1M212.8 77.1h.1M210.8 53.1h.1M209.9 52.0h.1M209.0 51.9h.1M210.4 84.5h.1M213.4 28.3h.1M218.0 61.6h.1M216.8 63.8h.1M210.5 58.4h.1M209.8 90.6h.1M215.7 74.1h.1M205.3 68.4h.1M211.0 44.8h.1M211.5 64.6h.1M208.2 52.3h.1M208.7 58.2h.1M214.2 60.4h.1M205.9 50.8h.1M209.0 66.5h.1M210.1 80.7h.1M213.1 72.3h.1M207.1 60.7h.1M217.3 30.3h.1M211.5 73.0h.1M211.7 72.9h.1M211.3 55.0h.1M210.0 51.0h.1M208.7 67.0h.1M217.5 46.3h.1M213.6 69.0h.1M212.3 42.5h.1M216.9 44.8h.1M209.8 58.0h.1M215.3 37.2h.1M212.8 57.8h.1M209.0 65.3h.1M215.9 39.2h.1M206.5 70.9h.1M215.4 49.9h.1M209.1 65.6h.1M214.4 60.8h.1M218.4 51.4h.1M215.1 50.5h.1M210.2 33.8h.1M212.6 48.0h.1M211.2 47.0h.1M207.8 81.0h.1M208.1 72.2h.1M212.9 38.6h.1M214.9 69.2h.1M205.4 61.0h.1M212.4 52.5h.1M214.8 64.4h.1M213.1 69.0h.1M208.5 49.9h.1M216.9 54.0h.1M207.6 60.2h.1M215.3 44.1h.1M219.3 60.5h.1M204.2 56.8h.1M213.7 48.4h.1M213.9 46.1h.1M213.6 62.2h.1M209.5 70.2h.1M211.4 62.6h.1M206.9 45.9h.1M213.2 68.5h.1M214.8 60.3h.1M209.9 66.3h.1M208.8 74.3h.1M210.7 45.3h.1M212.6 56.0h.1M212.9 49.6h.1M212.2 45.7h.1M212.9 86.1h.1M207.2 71.1h.1M201.4 33.2h.1M215.2 63.9h.1M218.5 50.2h.1M206.8 74.1h.1M209.9 59.1h.1M213.8 55.5h.1M216.5 60.0h.1M215.3 63.4h.1M217.9 58.4h.1M212.4 54.9h.1M214.3 56.0h.1M214.3 65.1h.1M210.8 42.1h.1M217.5 58.0h.1M215.2 56.3h.1M216.6 51.2h.1M211.0 68.3h.1M216.8 39.9h.1M208.3 52.9h.1M214.2 46.0h.1M201.8 65.6h.1M208.4 51.4h.1M215.6 58.7h.1M210.7 63.4h.1M213.3 35.6h.1M205.9 64.3h.1M219.0 47.5h.1M215.0 54.4h.1M212.5 56.4h.1M214.3 69.3h.1M213.9 68.3h.1M218.4 82.7h.1M213.5 60.5h.1M206.5 51.3h.1M211.5 51.0h.1M217.9 67.2h.1M214.9 80.4h.1M210.9 62.8h.1M215.1 49.9h.1M207.0 94.2h.1M207.0 95.5h.1M206.1 99.2h.1M203.2 96.0h.1M204.0 92.8h.1M209.9 96.9h.1M206.8 90.0h.1M206.0 93.0h.1M199.1 101.8h.1M213.4 99.1h.1M206.7 98.2h.1M201.5 103.8h.1M209.0 102.1h.1M203.1 99.0h.1M208.1 93.1h.1M206.1 89.9h.1M201.6 95.9h.1M208.5 94.5h.1M201.0 93.3h.1M211.0 94.8h.1M206.2 89.0h.1M202.2 102.3h.1M199.2 91.2h.1M212.0 93.2h.1M211.4 98.4h.1M201.3 89.1h.1M212.2 99.9h.1M206.6 100.0h.1M205.2 94.7h.1M205.7 91.4h.1M205.0 94.0h.1M211.3 88.1h.1M206.6 101.9h.1M199.1 96.2h.1M213.8 92.9h.1M209.3 92.1h.1M201.9 98.4h.1M204.7 102.4h.1M202.6 90.6h.1M206.2 93.6h.1M207.5 88.5h.1M206.9 98.9h.1M203.8 96.7h.1M209.2 95.5h.1M205.6 94.1h.1M214.4 93.0h.1M203.0 99.6h.1M208.9 89.1h.1M206.2 99.2h.1M203.2 97.1h.1M211.1 93.8h.1M206.5 92.2h.1M202.7 100.5h.1M204.8 103.9h.1M209.8 94.1h.1M201.4 98.3h.1M211.2 103.4h.1M208.6 93.4h.1M205.0 94.9h.1M211.1 90.8h.1M212.5 95.4h.1M208.2 95.7h.1M206.6 94.2h.1M212.9 92.8h.1M211.6 89.2h.1M202.5 90.3h.1M205.2 91.8h.1M205.2 98.7h.1M204.5 93.8h.1M200.4 92.4h.1M209.4 98.8h.1M206.3 98.4h.1M206.4 92.8h.1M211.3 93.3h.1M203.9 98.8h.1M205.8 97.6h.1M207.0 92.4h.1M264.9 101.2h.1M237.8 33.8h.1M248.6 81.8h.1M209.3 77.6h.1M234.6 53.8h.1M243.6 101.2h.1M251.3 30.7h.1M218.1 48.5h.1M209.4 53.3h.1M269.3 76.2h.1M261.5 72.3h.1M215.3 81.4h.1M259.8 92.5h.1M259.1 29.5h.1M215.5 70.0h.1M258.5 58.1h.1M229.4 79.7h.1M226.1 67.5h.1M214.1 54.1h.1M243.8 28.5h.1M245.3 51.3h.1M238.3 61.5h.1M209.9 53.3h.1M257.9 56.4h.1M224.9 76.8h.1M221.3 53.2h.1M247.2 91.8h.1M215.7 55.1h.1M265.8 60.6h.1M247.7 60.5h.1M257.5 95.7h.1M226.5 73.4h.1M232.6 100.3h.1M220.3 28.3h.1M220.3 99.7h.1M231.6 42.6h.1M257.3 95.3h.1M237.7 31.3h.1M260.5 92.2h.1M210.7 75.4h.1M223.0 79.4h.1M205.5 57.3h.1M266.0 57.1h.1M207.3 39.8h.1M240.4 38.5h.1M249.5 74.8h.1M217.1 53.7h.1M270.6 30.2h.1M270.7 40.7h.1M219.4 40.8h.1M212.6 42.5h.1M247.8 62.1h.1M238.5 96.3h.1M244.7 71.6h.1M245.6 83.5h.1M269.0 35.9h.1M256.0 79.9h.1M224.6 92.9h.1M254.6 102.6h.1M234.0 81.4h.1M270.3 73.5h.1M235.9 100.2h.1M203.8 37.7h.1M266.3 87.5h.1M222.1 82.0h.1M259.7 82.5h.1M245.2 54.6h.1M254.4 34.0h.1M254.0 38.6h.1M265.5 78.8h.1M260.5 51.4h.1M247.5 99.2h.1M225.5 37.1h.1M237.1 89.1h.1M222.2 63.8h.1M226.2 50.1h.1M234.8 47.1h.1M232.2 54.5h.1M223.0 55.6h.1M224.0 45.0h.1M224.5 44.4h.1M216.2 100.8h.1M243.2 59.6h.1M209.4 74.7h.1M220.1 80.7h.1M214.8 52.9h.1M251.8 98.1h.1M222.3 50.0h.1M209.9 42.4h.1M259.7 31.3h.1M233.2 47.7h.1M258.5 32.6h.1M225.1 75.1h.1M226.9 71.2h.1M241.6 29.7h.1M207.8 99.2h.1M270.4 82.6h.1M212.2 69.3h.1M266.0 98.9h.1M248.5 67.7h.1M255.7 41.2h.1M217.5 86.5h.1M264.6 99.6h.1M240.0 32.5h.1M231.5 65.8h.1M216.3 45.0h.1M214.8 95.8h.1M262.5 35.2h.1M269.9 88.5h.1M231.9 43.5h.1M252.9 76.1h.1M251.2 79.9h.1M237.1 85.0h.1M236.1 32.0h.1M241.2 64.2h.1M226.9 37.4h.1M254.4 37.5h.1M231.8 40.1h.1M237.8 39.1h.1M215.5 98.1h.1" stroke="#000" stroke-width="0.6" stroke-linecap="square" fill="none" stroke-opacity="0.33"/>
<ellipse cx="235.3" cy="79.4" rx="24.2" ry="17.9" transform="rotate(14 235.3 79.4)" fill="none" stroke="#000" stroke-width="1.2"/>
<text x="243.20" y="58.40" font-size="8.21" stroke="#222" stroke-width="0.12" text-anchor="middle" fill="#222" textLength="21.55" lengthAdjust="spacingAndGlyphs">86.3%</text>
<rect x="197.90" y="24.50" width="83.40" height="80.70" fill="none" stroke="#111" stroke-width="1.2"/>
<line x1="194.50" y1="105.20" x2="197.90" y2="105.20" stroke="#1a1a1a" stroke-width="0.8"/>
<line x1="196.10" y1="101.26" x2="197.90" y2="101.26" stroke="#1a1a1a" stroke-width="0.8"/>
<line x1="196.10" y1="97.32" x2="197.90" y2="97.32" stroke="#1a1a1a" stroke-width="0.8"/>
<line x1="196.10" y1="93.38" x2="197.90" y2="93.38" stroke="#1a1a1a" stroke-width="0.8"/>
<line x1="194.50" y1="89.44" x2="197.90" y2="89.44" stroke="#1a1a1a" stroke-width="0.8"/>
<line x1="196.10" y1="85.50" x2="197.90" y2="85.50" stroke="#1a1a1a" stroke-width="0.8"/>
<line x1="196.10" y1="81.56" x2="197.90" y2="81.56" stroke="#1a1a1a" stroke-width="0.8"/>
<line x1="196.10" y1="77.62" x2="197.90" y2="77.62" stroke="#1a1a1a" stroke-width="0.8"/>
<line x1="194.50" y1="73.68" x2="197.90" y2="73.68" stroke="#1a1a1a" stroke-width="0.8"/>
<line x1="196.10" y1="69.74" x2="197.90" y2="69.74" stroke="#1a1a1a" stroke-width="0.8"/>
<line x1="196.10" y1="65.80" x2="197.90" y2="65.80" stroke="#1a1a1a" stroke-width="0.8"/>
<line x1="196.10" y1="61.86" x2="197.90" y2="61.86" stroke="#1a1a1a" stroke-width="0.8"/>
<line x1="194.50" y1="57.91" x2="197.90" y2="57.91" stroke="#1a1a1a" stroke-width="0.8"/>
<line x1="196.10" y1="53.97" x2="197.90" y2="53.97" stroke="#1a1a1a" stroke-width="0.8"/>
<line x1="196.10" y1="50.03" x2="197.90" y2="50.03" stroke="#1a1a1a" stroke-width="0.8"/>
<line x1="196.10" y1="46.09" x2="197.90" y2="46.09" stroke="#1a1a1a" stroke-width="0.8"/>
<line x1="194.50" y1="42.15" x2="197.90" y2="42.15" stroke="#1a1a1a" stroke-width="0.8"/>
<line x1="196.10" y1="38.21" x2="197.90" y2="38.21" stroke="#1a1a1a" stroke-width="0.8"/>
<line x1="196.10" y1="34.27" x2="197.90" y2="34.27" stroke="#1a1a1a" stroke-width="0.8"/>
<line x1="196.10" y1="30.33" x2="197.90" y2="30.33" stroke="#1a1a1a" stroke-width="0.8"/>
<line x1="194.50" y1="26.39" x2="197.90" y2="26.39" stroke="#1a1a1a" stroke-width="0.8"/>
<line x1="197.90" y1="105.20" x2="197.90" y2="107.80" stroke="#1a1a1a" stroke-width="0.7"/>
<line x1="201.97" y1="105.20" x2="201.97" y2="106.70" stroke="#1a1a1a" stroke-width="0.7"/>
<line x1="206.04" y1="105.20" x2="206.04" y2="106.70" stroke="#1a1a1a" stroke-width="0.7"/>
<line x1="210.12" y1="105.20" x2="210.12" y2="106.70" stroke="#1a1a1a" stroke-width="0.7"/>
<line x1="214.19" y1="105.20" x2="214.19" y2="107.80" stroke="#1a1a1a" stroke-width="0.7"/>
<line x1="218.26" y1="105.20" x2="218.26" y2="106.70" stroke="#1a1a1a" stroke-width="0.7"/>
<line x1="222.33" y1="105.20" x2="222.33" y2="106.70" stroke="#1a1a1a" stroke-width="0.7"/>
<line x1="226.41" y1="105.20" x2="226.41" y2="106.70" stroke="#1a1a1a" stroke-width="0.7"/>
<line x1="230.48" y1="105.20" x2="230.48" y2="107.80" stroke="#1a1a1a" stroke-width="0.7"/>
<line x1="234.55" y1="105.20" x2="234.55" y2="106.70" stroke="#1a1a1a" stroke-width="0.7"/>
<line x1="238.62" y1="105.20" x2="238.62" y2="106.70" stroke="#1a1a1a" stroke-width="0.7"/>
<line x1="242.69" y1="105.20" x2="242.69" y2="106.70" stroke="#1a1a1a" stroke-width="0.7"/>
<line x1="246.77" y1="105.20" x2="246.77" y2="107.80" stroke="#1a1a1a" stroke-width="0.7"/>
<line x1="250.84" y1="105.20" x2="250.84" y2="106.70" stroke="#1a1a1a" stroke-width="0.7"/>
<line x1="254.91" y1="105.20" x2="254.91" y2="106.70" stroke="#1a1a1a" stroke-width="0.7"/>
<line x1="258.98" y1="105.20" x2="258.98" y2="106.70" stroke="#1a1a1a" stroke-width="0.7"/>
<line x1="263.06" y1="105.20" x2="263.06" y2="107.80" stroke="#1a1a1a" stroke-width="0.7"/>
<line x1="267.13" y1="105.20" x2="267.13" y2="106.70" stroke="#1a1a1a" stroke-width="0.7"/>
<line x1="271.20" y1="105.20" x2="271.20" y2="106.70" stroke="#1a1a1a" stroke-width="0.7"/>
<line x1="275.27" y1="105.20" x2="275.27" y2="106.70" stroke="#1a1a1a" stroke-width="0.7"/>
<line x1="279.35" y1="105.20" x2="279.35" y2="107.80" stroke="#1a1a1a" stroke-width="0.7"/>
<text x="193.30" y="108.10" font-size="8.74" stroke="#1a1a1a" stroke-width="0.12" text-anchor="end" textLength="4.34" lengthAdjust="spacingAndGlyphs">0</text>
<text x="197.90" y="117.60" font-size="8.62" stroke="#1a1a1a" stroke-width="0.12" text-anchor="middle" textLength="4.17" lengthAdjust="spacingAndGlyphs">0</text>
<text x="193.30" y="92.34" font-size="8.74" stroke="#1a1a1a" stroke-width="0.12" text-anchor="end" textLength="13.01" lengthAdjust="spacingAndGlyphs">200</text>
<text x="214.19" y="117.60" font-size="8.62" stroke="#1a1a1a" stroke-width="0.12" text-anchor="middle" textLength="12.51" lengthAdjust="spacingAndGlyphs">200</text>
<text x="193.30" y="76.58" font-size="8.74" stroke="#1a1a1a" stroke-width="0.12" text-anchor="end" textLength="13.01" lengthAdjust="spacingAndGlyphs">400</text>
<text x="230.48" y="117.60" font-size="8.62" stroke="#1a1a1a" stroke-width="0.12" text-anchor="middle" textLength="12.51" lengthAdjust="spacingAndGlyphs">400</text>
<text x="193.30" y="60.81" font-size="8.74" stroke="#1a1a1a" stroke-width="0.12" text-anchor="end" textLength="13.01" lengthAdjust="spacingAndGlyphs">600</text>
<text x="246.77" y="117.60" font-size="8.62" stroke="#1a1a1a" stroke-width="0.12" text-anchor="middle" textLength="12.51" lengthAdjust="spacingAndGlyphs">600</text>
<text x="193.30" y="45.05" font-size="8.74" stroke="#1a1a1a" stroke-width="0.12" text-anchor="end" textLength="13.01" lengthAdjust="spacingAndGlyphs">800</text>
<text x="263.06" y="117.60" font-size="8.62" stroke="#1a1a1a" stroke-width="0.12" text-anchor="middle" textLength="12.51" lengthAdjust="spacingAndGlyphs">800</text>
<text x="193.30" y="29.29" font-size="8.74" stroke="#1a1a1a" stroke-width="0.12" text-anchor="end" textLength="9.54" lengthAdjust="spacingAndGlyphs">1K</text>
<text x="279.35" y="117.60" font-size="8.62" stroke="#1a1a1a" stroke-width="0.12" text-anchor="middle" textLength="9.17" lengthAdjust="spacingAndGlyphs">1K</text>
<text x="239.60" y="129.00" font-size="8.21" stroke="#1a1a1a" stroke-width="0.12" text-anchor="middle" textLength="20.00" lengthAdjust="spacingAndGlyphs">FSC-H</text>
<text x="176.00" y="64.00" font-size="9.07" stroke="#1a1a1a" stroke-width="0.12" text-anchor="middle" textLength="21.60" lengthAdjust="spacingAndGlyphs" transform="rotate(-90 176.00 64.00)">SSC-H</text>
<path d="M362.4 74.3h.1M365.7 75.3h.1M362.7 69.0h.1M371.1 87.9h.1M361.3 74.8h.1M365.6 83.5h.1M363.2 83.3h.1M360.5 77.6h.1M372.5 81.6h.1M357.7 80.8h.1M371.7 78.5h.1M360.4 81.6h.1M366.3 81.6h.1M357.6 73.9h.1M360.6 76.5h.1M371.1 82.0h.1M366.6 89.3h.1M363.8 89.8h.1M365.8 83.2h.1M362.2 86.8h.1M366.4 82.1h.1M371.8 87.7h.1M364.4 82.1h.1M366.5 83.6h.1M370.7 79.7h.1M373.7 81.3h.1M363.6 92.3h.1M367.1 74.4h.1M363.7 81.3h.1M363.4 77.9h.1M364.4 86.9h.1M363.5 91.8h.1M359.2 79.5h.1M358.1 65.3h.1M363.1 84.9h.1M366.5 84.9h.1M370.7 71.6h.1M363.9 79.9h.1M365.3 80.9h.1M368.5 67.9h.1M368.8 85.2h.1M365.5 83.9h.1M365.7 82.7h.1M373.3 75.2h.1M364.6 77.2h.1M364.0 77.6h.1M359.6 84.1h.1M367.6 75.6h.1M364.9 89.8h.1M373.4 83.5h.1M364.6 68.7h.1M369.1 91.1h.1M369.6 82.2h.1M372.4 78.1h.1M360.8 81.9h.1M372.1 70.7h.1M366.0 82.4h.1M365.5 67.0h.1M364.7 75.3h.1M364.4 89.2h.1M364.6 88.6h.1M356.8 79.3h.1M367.9 75.7h.1M366.2 86.7h.1M362.2 81.0h.1M365.7 82.5h.1M367.4 75.0h.1M364.4 85.9h.1M372.6 69.0h.1M362.8 89.8h.1M365.3 72.1h.1M363.8 77.6h.1M365.0 77.4h.1M368.8 85.5h.1M368.2 85.6h.1M363.1 83.3h.1M365.4 84.4h.1M366.3 84.0h.1M364.3 80.8h.1M365.8 70.1h.1M363.1 67.8h.1M363.1 67.8h.1M366.1 81.0h.1M361.9 79.9h.1M367.6 80.4h.1M365.2 82.5h.1M362.3 79.9h.1M363.5 75.4h.1M364.1 72.5h.1M365.3 70.1h.1M366.4 88.3h.1M365.1 86.5h.1M362.5 73.3h.1M371.5 79.6h.1M369.4 83.8h.1M366.4 90.5h.1M369.6 77.7h.1M367.2 82.2h.1M364.9 88.0h.1M366.3 71.0h.1M369.8 81.0h.1M370.0 77.0h.1M364.4 93.5h.1M368.3 86.3h.1M367.6 75.6h.1M370.1 86.3h.1M370.8 84.9h.1M368.4 78.2h.1M372.0 78.6h.1M366.8 72.6h.1M367.8 80.7h.1M363.5 86.2h.1M367.1 84.6h.1M366.3 86.0h.1M371.3 77.7h.1M364.0 78.4h.1M365.9 88.2h.1M362.9 83.8h.1M366.0 76.5h.1M364.4 84.1h.1M368.0 86.0h.1M365.4 85.3h.1M363.6 81.8h.1M364.8 78.1h.1M365.5 83.5h.1M363.9 91.1h.1M369.5 82.0h.1M368.5 77.3h.1M366.5 83.1h.1M361.3 73.9h.1M367.9 82.5h.1M361.0 79.4h.1M366.6 86.7h.1M366.1 81.8h.1M363.6 87.3h.1M362.7 94.6h.1M363.2 79.9h.1M373.9 76.3h.1M364.9 83.8h.1M365.1 80.6h.1M369.6 82.0h.1M367.5 77.6h.1M370.0 84.4h.1M361.2 81.5h.1M361.7 68.5h.1M365.7 83.1h.1M364.8 88.0h.1M366.5 77.8h.1M369.7 76.5h.1M361.3 87.8h.1M367.0 77.6h.1M365.8 81.7h.1M368.5 83.9h.1M366.6 85.4h.1M363.9 81.2h.1M362.6 74.6h.1M356.5 87.0h.1M369.7 78.6h.1M360.2 78.1h.1M364.4 92.8h.1M372.3 86.2h.1M364.3 75.0h.1M368.3 78.3h.1M365.1 79.7h.1M368.6 76.8h.1M366.0 70.0h.1M363.9 85.8h.1M371.1 85.6h.1M364.9 82.5h.1M360.7 78.8h.1M364.6 82.3h.1M368.0 84.8h.1M361.6 75.1h.1M368.9 79.2h.1M368.9 77.9h.1M374.1 85.2h.1M363.4 82.6h.1M368.4 73.6h.1M359.5 77.5h.1M364.3 91.4h.1M366.3 75.5h.1M367.5 82.0h.1M365.7 77.4h.1M365.6 88.3h.1M363.5 80.7h.1M364.2 78.6h.1M367.1 74.3h.1M368.1 79.7h.1M368.4 85.9h.1M369.7 85.0h.1M370.5 73.4h.1M359.0 90.1h.1M363.9 79.7h.1M365.3 75.0h.1M363.4 81.8h.1M369.9 77.5h.1M368.8 77.7h.1M365.5 77.4h.1M366.4 80.6h.1M370.8 78.2h.1M364.6 71.2h.1M364.7 84.1h.1M369.4 78.1h.1M367.7 88.0h.1M371.3 84.2h.1M367.3 84.6h.1M368.8 82.1h.1M363.8 88.6h.1M362.3 79.2h.1M365.9 75.3h.1M355.7 83.1h.1M367.5 65.3h.1M369.6 78.9h.1M366.2 82.3h.1M365.1 78.7h.1M370.1 88.3h.1M365.7 85.1h.1M369.7 81.7h.1M374.3 78.7h.1M368.7 87.4h.1M369.5 77.1h.1M367.8 78.6h.1M366.9 85.4h.1M367.0 84.5h.1M366.2 92.8h.1M370.1 79.8h.1M359.7 70.2h.1M364.9 84.9h.1M368.4 88.3h.1M362.7 80.1h.1M365.5 90.1h.1M363.2 91.3h.1M367.6 77.2h.1M369.2 78.3h.1M371.5 73.8h.1M367.8 84.2h.1M363.2 85.2h.1M366.9 84.5h.1M368.1 73.9h.1M371.3 76.6h.1M357.7 72.8h.1M367.3 71.7h.1M358.9 73.2h.1M368.6 71.9h.1M367.6 80.0h.1M367.8 83.5h.1M369.3 84.6h.1M367.4 80.9h.1M363.4 77.1h.1M367.2 81.0h.1M370.5 84.3h.1M365.5 79.3h.1M366.0 81.3h.1M361.3 79.2h.1M370.3 78.0h.1M364.0 81.2h.1M363.1 74.6h.1M364.2 87.1h.1M362.6 72.0h.1M364.9 83.7h.1M370.8 73.1h.1M368.9 89.7h.1M371.3 86.0h.1M371.6 76.3h.1M362.5 78.4h.1M367.7 74.5h.1M371.6 80.7h.1M360.5 95.7h.1M360.5 73.1h.1M367.7 88.2h.1M364.6 77.6h.1M362.1 82.6h.1M367.4 86.1h.1M362.9 84.1h.1M357.2 83.4h.1M365.8 79.9h.1M366.4 81.0h.1M368.3 81.9h.1M369.5 87.9h.1M366.6 72.5h.1M365.0 78.2h.1M363.4 73.8h.1M359.6 75.4h.1M364.2 76.4h.1M369.7 87.3h.1M368.4 93.4h.1M373.7 88.8h.1M365.3 74.2h.1M359.1 81.4h.1M369.0 74.5h.1M369.9 83.6h.1M361.4 88.3h.1M359.7 84.4h.1M366.5 86.0h.1M368.6 80.2h.1M361.6 69.7h.1M364.6 69.6h.1M362.9 80.4h.1M361.4 84.3h.1M360.9 88.3h.1M366.4 79.0h.1M364.5 81.4h.1M363.3 82.5h.1M355.9 87.1h.1M372.5 80.6h.1M362.3 74.7h.1M365.4 87.2h.1M361.5 83.4h.1M367.3 83.2h.1M360.1 73.7h.1M366.2 81.0h.1M365.1 71.1h.1M369.4 69.5h.1M361.7 79.6h.1M363.4 78.5h.1M365.0 84.3h.1M373.9 89.3h.1M360.2 80.8h.1M367.0 91.3h.1M363.4 77.6h.1M367.0 85.4h.1M368.3 73.7h.1M366.4 81.7h.1M366.9 79.2h.1M366.9 79.8h.1M363.6 84.4h.1M365.0 70.2h.1M359.5 81.7h.1M364.5 76.3h.1M362.9 81.7h.1M364.9 83.3h.1M368.7 78.9h.1M367.3 78.9h.1M367.6 74.4h.1M370.1 84.2h.1M356.7 77.1h.1M367.5 83.6h.1M365.7 72.8h.1M365.5 88.9h.1M360.8 75.1h.1M367.9 87.6h.1M370.2 78.4h.1M369.8 84.1h.1M365.5 80.2h.1M368.3 84.9h.1M369.3 81.0h.1M372.8 88.3h.1M370.5 84.9h.1M366.4 84.9h.1M366.2 90.6h.1M366.5 77.0h.1M366.7 88.5h.1M363.9 81.4h.1M368.8 72.5h.1M363.2 83.7h.1M362.8 79.8h.1M367.2 90.7h.1M363.6 78.2h.1M364.9 81.3h.1M357.9 82.3h.1M368.9 70.1h.1M365.8 83.9h.1M365.3 75.3h.1M367.6 89.1h.1M366.6 90.6h.1M363.1 81.0h.1M373.5 71.9h.1M364.1 82.0h.1M369.5 82.0h.1M372.8 85.1h.1M363.4 79.3h.1M366.2 74.2h.1M362.7 80.2h.1M369.8 75.7h.1M364.5 91.2h.1M361.6 76.9h.1M370.8 77.3h.1M369.3 80.7h.1M362.4 73.9h.1M370.3 78.4h.1M366.6 80.2h.1M372.4 79.6h.1M363.7 88.1h.1M364.8 83.5h.1M362.5 73.3h.1M366.3 78.5h.1M366.0 85.3h.1M368.6 77.3h.1M366.1 81.5h.1M360.2 80.8h.1M362.7 84.0h.1M371.2 80.0h.1M370.2 80.2h.1M365.2 76.1h.1M365.3 83.1h.1M365.2 75.7h.1M365.9 90.9h.1M359.4 80.9h.1M369.2 79.7h.1M363.3 85.5h.1M366.4 80.5h.1M356.2 81.5h.1M366.7 80.7h.1M370.9 76.8h.1M357.3 75.7h.1M371.6 77.0h.1M367.6 87.5h.1M363.0 77.4h.1M359.7 78.7h.1M370.2 78.4h.1M366.8 85.0h.1M368.1 92.4h.1M364.8 75.7h.1M362.8 84.1h.1M369.1 81.7h.1M362.2 79.3h.1M369.2 83.9h.1M359.4 73.7h.1M362.3 85.8h.1M360.3 82.3h.1M370.8 75.3h.1M359.1 90.1h.1M361.4 85.9h.1M368.3 87.7h.1M366.7 72.7h.1M374.2 79.4h.1M372.8 78.0h.1M368.2 84.6h.1M368.4 88.8h.1M358.8 70.1h.1M362.4 81.1h.1M364.5 80.3h.1M365.1 86.7h.1M360.5 80.8h.1M362.2 73.7h.1M362.6 79.9h.1M369.9 75.1h.1M367.4 76.5h.1M364.5 81.2h.1M364.7 78.2h.1M366.9 82.6h.1M363.1 72.3h.1M364.8 94.3h.1M359.2 88.2h.1M368.4 85.1h.1M369.5 73.6h.1M367.2 68.6h.1M367.6 76.1h.1M367.2 79.7h.1M373.6 93.8h.1M366.6 88.5h.1M360.7 78.0h.1M361.8 87.9h.1M368.5 88.0h.1M369.9 81.1h.1M368.7 88.0h.1M369.0 82.9h.1M366.5 77.2h.1M360.1 74.3h.1M363.1 80.3h.1M358.9 86.7h.1M364.3 73.2h.1M360.6 71.8h.1M366.2 84.1h.1M365.1 65.4h.1M358.3 91.4h.1M368.6 78.5h.1M368.7 85.2h.1M360.5 91.6h.1M366.3 72.7h.1M368.5 75.0h.1M364.7 93.8h.1M369.1 79.4h.1M366.5 80.3h.1M369.9 82.3h.1M366.5 87.1h.1M365.1 88.6h.1M367.7 81.6h.1M368.8 79.1h.1M366.7 80.8h.1M364.0 82.7h.1M362.7 88.5h.1M364.3 81.8h.1M363.6 91.4h.1M366.5 76.1h.1M366.4 84.0h.1M365.4 91.1h.1M365.7 88.4h.1M366.4 82.9h.1M371.8 75.9h.1M370.4 76.9h.1M363.5 80.1h.1M367.4 82.8h.1M364.5 79.6h.1M365.4 72.7h.1M364.8 76.8h.1M363.3 84.0h.1M360.5 85.8h.1M356.3 73.0h.1M366.5 78.9h.1M370.3 71.4h.1M362.2 77.8h.1M364.2 81.4h.1M366.8 79.0h.1M362.6 77.6h.1M364.8 74.1h.1M365.3 70.4h.1M356.6 80.8h.1M366.6 79.4h.1M365.2 89.5h.1M356.2 71.6h.1M368.2 83.5h.1M365.6 88.7h.1M366.5 69.8h.1M367.1 84.8h.1M364.1 71.8h.1M361.6 84.0h.1M364.0 89.5h.1M364.1 81.0h.1M374.3 82.6h.1M372.8 77.0h.1M363.8 82.7h.1M364.1 87.5h.1M367.0 80.0h.1M367.9 80.2h.1M363.0 83.2h.1M361.8 85.7h.1M373.2 71.6h.1M369.8 81.3h.1M359.7 77.1h.1M358.9 83.8h.1M362.5 86.9h.1M366.5 82.8h.1M367.8 88.4h.1M364.4 75.3h.1M359.4 78.7h.1M366.5 75.3h.1M368.0 81.3h.1M365.7 81.6h.1M363.8 79.9h.1M367.9 74.1h.1M365.5 80.6h.1M361.3 78.5h.1M366.1 84.5h.1M360.7 79.5h.1M369.4 87.7h.1M367.5 82.3h.1M361.8 70.4h.1M366.5 80.0h.1M370.5 72.8h.1M357.3 86.6h.1M365.1 89.2h.1M372.1 80.9h.1M359.6 83.5h.1M365.0 72.7h.1M360.1 68.1h.1M365.4 77.8h.1M356.3 79.5h.1M359.4 72.3h.1M363.6 81.5h.1M366.2 82.8h.1M367.2 84.7h.1M367.3 89.9h.1M370.2 85.6h.1M368.4 78.9h.1M368.6 81.6h.1M361.9 84.5h.1M365.1 75.0h.1M368.9 79.7h.1M368.6 77.4h.1M364.1 85.8h.1M373.3 86.4h.1M364.2 91.3h.1M365.4 86.6h.1M374.2 82.2h.1M357.5 85.1h.1M367.1 75.8h.1M358.9 85.1h.1M363.1 72.2h.1M365.3 83.5h.1M364.3 84.2h.1M366.4 72.1h.1M362.7 92.0h.1M365.3 74.4h.1M361.0 87.0h.1M364.2 78.0h.1M360.2 82.8h.1M368.3 77.3h.1M360.6 95.3h.1M368.4 87.0h.1M364.1 91.4h.1M364.5 85.6h.1M370.3 85.1h.1M366.1 81.9h.1M358.2 79.7h.1M367.6 84.6h.1M354.2 82.0h.1M366.7 80.2h.1M364.1 73.2h.1M360.2 79.3h.1M366.0 84.6h.1M364.5 78.4h.1M373.6 83.1h.1M363.9 80.3h.1M373.4 75.2h.1M371.1 75.9h.1M363.3 76.9h.1M362.5 79.5h.1M370.9 79.6h.1M365.1 87.5h.1M366.3 74.9h.1M364.7 69.4h.1M360.9 85.1h.1M364.2 78.5h.1M361.9 80.4h.1M359.6 95.8h.1M364.5 89.5h.1M372.8 84.5h.1M372.1 86.6h.1M365.4 81.8h.1M366.2 86.7h.1M367.7 77.6h.1M371.1 77.1h.1M366.9 78.5h.1M363.8 90.2h.1M364.1 90.1h.1M370.2 77.7h.1M363.2 80.2h.1M357.5 87.3h.1M368.9 79.3h.1M365.4 86.7h.1M366.2 80.5h.1M370.6 79.5h.1M366.0 81.0h.1M360.4 82.1h.1M357.9 77.8h.1M365.5 73.3h.1M361.1 90.9h.1M366.8 78.9h.1M360.6 70.7h.1M364.3 68.1h.1M359.8 65.1h.1M364.2 77.7h.1M363.9 89.0h.1M368.1 71.8h.1M371.0 79.4h.1M365.0 70.6h.1M362.2 87.5h.1M373.5 83.3h.1M367.1 83.1h.1M368.1 89.0h.1M368.1 90.7h.1M371.5 87.1h.1M369.7 77.9h.1M368.4 73.6h.1M368.7 75.2h.1M362.3 71.1h.1M363.3 91.6h.1M365.3 80.1h.1M366.1 82.0h.1M365.8 82.4h.1M366.9 92.8h.1M365.8 78.0h.1M364.0 88.0h.1M359.2 83.0h.1M369.0 80.4h.1M368.0 70.2h.1M362.2 86.5h.1M367.7 76.9h.1M367.3 78.6h.1M366.0 82.5h.1M358.4 81.8h.1M360.9 87.7h.1M363.3 77.4h.1M372.1 82.2h.1M362.3 82.8h.1M364.3 81.4h.1M361.3 85.2h.1M363.7 79.8h.1M367.1 88.2h.1M357.4 77.1h.1M354.4 72.9h.1M368.3 81.0h.1M365.8 88.0h.1M363.3 78.3h.1M369.6 77.6h.1M369.6 79.2h.1M357.3 82.2h.1M365.0 80.2h.1M370.1 83.0h.1M363.0 71.3h.1M364.4 89.9h.1M369.5 84.6h.1M364.6 76.3h.1M360.9 89.1h.1M363.0 83.8h.1M360.4 89.7h.1M367.9 74.5h.1M358.8 90.8h.1M369.7 81.5h.1M359.1 69.4h.1M365.9 85.6h.1M359.8 79.5h.1M364.4 75.4h.1M369.8 80.0h.1M370.2 70.0h.1M370.9 84.6h.1M365.3 80.0h.1M366.1 79.7h.1M366.6 89.4h.1M368.2 81.4h.1M364.1 77.4h.1M370.1 75.8h.1M367.0 80.9h.1M370.3 87.4h.1M367.6 77.9h.1M368.4 75.3h.1M362.8 86.6h.1M364.0 81.6h.1M360.5 81.1h.1M364.5 93.3h.1M365.0 74.2h.1M369.0 82.4h.1M360.7 71.0h.1M365.2 84.6h.1M370.7 87.7h.1M369.9 73.9h.1M355.6 86.1h.1M364.6 85.8h.1M371.6 80.5h.1M356.0 95.4h.1M368.8 81.2h.1M362.0 76.2h.1M363.8 83.7h.1M366.6 70.5h.1M358.2 90.2h.1M366.5 86.9h.1M363.1 78.9h.1M362.7 84.8h.1M368.5 84.3h.1M367.1 77.7h.1M367.9 73.8h.1M365.5 69.5h.1M362.8 79.5h.1M366.7 72.2h.1M371.8 80.2h.1M366.4 83.6h.1M369.2 78.7h.1M364.8 75.8h.1M359.1 80.1h.1M368.0 82.6h.1M367.8 86.7h.1M366.7 73.7h.1M361.2 75.9h.1M361.1 95.6h.1M364.7 80.3h.1M366.1 75.2h.1M360.8 79.8h.1M361.4 77.9h.1M367.9 74.1h.1M369.8 78.9h.1M363.4 81.1h.1M362.9 81.2h.1M362.8 84.3h.1M367.6 72.6h.1M365.4 85.8h.1M369.7 78.7h.1M370.3 83.0h.1M359.9 73.1h.1M365.3 84.3h.1M364.0 75.4h.1M364.3 82.7h.1M360.8 88.3h.1M364.1 93.4h.1M361.3 80.8h.1M367.0 85.3h.1M365.8 83.0h.1M360.0 85.8h.1M358.8 66.5h.1M363.7 79.0h.1M368.3 82.9h.1M367.6 83.9h.1M365.4 76.9h.1M352.4 86.0h.1M363.7 87.6h.1M362.7 81.6h.1M364.3 79.9h.1M360.8 79.2h.1M363.9 82.0h.1M363.0 88.0h.1M368.5 78.5h.1M364.9 75.9h.1M365.4 76.7h.1M365.2 86.9h.1M366.4 82.5h.1M364.0 83.0h.1M365.6 84.0h.1M369.8 83.4h.1M369.0 80.5h.1M366.9 75.2h.1M371.0 77.7h.1M366.5 81.9h.1M361.7 83.5h.1M358.6 79.1h.1M362.8 78.8h.1M365.4 89.1h.1M367.2 78.6h.1M370.0 82.5h.1M363.3 79.4h.1M362.4 76.3h.1M368.7 72.5h.1M370.4 78.1h.1M363.7 76.5h.1M367.0 86.1h.1M371.2 74.6h.1M366.9 78.9h.1M365.4 85.0h.1M357.3 80.6h.1M371.0 84.1h.1M368.2 86.0h.1M366.1 71.7h.1M363.8 78.9h.1M360.6 75.7h.1M365.2 89.0h.1M365.2 80.6h.1M370.0 84.1h.1M360.8 91.0h.1M371.4 79.2h.1M365.8 81.7h.1M370.4 83.6h.1M361.7 79.7h.1M367.0 88.4h.1M370.5 85.9h.1M366.1 87.0h.1M359.7 81.5h.1M364.3 79.3h.1M367.8 79.2h.1M360.0 79.1h.1M359.8 71.8h.1M366.6 83.3h.1M361.8 85.9h.1M368.4 81.2h.1M360.9 78.4h.1M358.3 81.4h.1M362.5 82.5h.1M371.6 83.1h.1M362.2 91.5h.1M365.6 76.3h.1M366.6 83.3h.1M361.8 85.2h.1M370.0 81.7h.1M366.4 79.9h.1M367.4 75.4h.1M358.9 77.8h.1M358.6 85.2h.1M354.6 89.5h.1M364.9 77.5h.1M364.7 83.9h.1M368.5 84.2h.1M371.6 87.0h.1M364.6 82.6h.1M364.6 83.7h.1M367.5 86.3h.1M371.8 74.6h.1M362.3 81.5h.1M368.2 71.2h.1M364.7 70.0h.1M364.3 76.5h.1M368.9 72.5h.1M362.5 84.1h.1M361.4 86.8h.1M368.3 79.5h.1M365.6 80.4h.1M364.6 79.9h.1M365.1 79.7h.1M367.6 82.0h.1M364.2 83.2h.1M368.7 78.6h.1M367.3 76.8h.1M371.6 78.3h.1M370.7 85.7h.1M369.1 78.8h.1M364.8 89.4h.1M366.1 79.8h.1M363.3 88.9h.1M364.8 77.3h.1M367.9 83.9h.1M371.1 84.0h.1M360.2 80.3h.1M362.4 92.7h.1M364.1 81.6h.1M361.7 82.8h.1M360.6 78.0h.1M363.6 90.5h.1M370.8 86.0h.1M368.6 83.5h.1M365.8 72.0h.1M365.8 83.2h.1M359.0 78.6h.1M368.5 83.4h.1M367.4 86.3h.1M361.3 77.0h.1M366.5 82.4h.1M364.9 86.1h.1M363.6 82.1h.1M361.7 79.3h.1M363.0 75.2h.1M361.9 77.4h.1M367.5 74.0h.1M367.1 86.7h.1M367.0 81.8h.1M364.9 74.3h.1M364.0 81.2h.1M373.8 73.9h.1M358.2 62.7h.1M370.5 88.0h.1M367.1 87.8h.1M366.0 72.9h.1M363.6 77.1h.1M364.8 82.3h.1M360.9 79.0h.1M360.1 76.4h.1M365.2 78.3h.1M359.1 79.8h.1M369.0 78.1h.1M370.1 82.4h.1M351.9 79.9h.1M359.5 76.9h.1M366.8 81.3h.1M366.5 71.8h.1M366.1 89.3h.1M367.4 71.4h.1M368.7 80.7h.1M369.1 83.1h.1M372.8 83.5h.1M365.8 82.6h.1M369.1 88.3h.1M359.2 74.9h.1M365.2 80.8h.1M360.8 82.0h.1M371.3 78.4h.1M367.9 88.4h.1M360.5 77.2h.1M365.2 78.5h.1M365.8 79.6h.1M366.5 80.0h.1M370.1 82.1h.1M369.5 80.0h.1M355.1 83.2h.1M371.2 81.9h.1M363.7 83.8h.1M363.5 88.8h.1M371.4 76.4h.1M364.6 90.4h.1M360.2 78.6h.1M360.4 84.9h.1M365.9 82.0h.1M369.3 79.5h.1M371.7 70.2h.1M365.0 90.2h.1M363.8 76.9h.1M372.2 76.7h.1M363.9 87.1h.1M371.5 81.6h.1M366.6 91.8h.1M366.7 90.5h.1M364.8 85.1h.1M366.9 82.5h.1M363.9 85.4h.1M363.0 73.8h.1M365.2 82.1h.1M363.1 82.0h.1M366.9 78.5h.1M366.0 82.5h.1M364.7 73.0h.1M364.9 86.2h.1M364.8 88.3h.1M372.7 73.9h.1M365.7 81.9h.1M363.3 89.7h.1M364.5 83.5h.1M368.4 75.4h.1M364.9 75.6h.1M365.1 85.9h.1M364.7 91.3h.1M366.4 75.1h.1M367.3 81.3h.1M367.5 76.8h.1M359.2 79.5h.1M361.4 82.8h.1M355.2 80.9h.1M368.9 77.3h.1M370.1 92.8h.1M370.9 80.2h.1M366.3 80.1h.1M370.3 87.3h.1M365.6 81.2h.1M365.2 80.0h.1M359.5 86.4h.1M362.6 75.4h.1M363.3 85.3h.1M369.4 86.8h.1M372.3 84.8h.1M363.8 80.1h.1M367.2 81.1h.1M366.8 71.6h.1M362.6 80.4h.1M358.8 82.7h.1M362.7 85.9h.1M360.0 81.9h.1M364.4 78.9h.1M365.1 76.5h.1M365.0 80.9h.1M365.0 81.9h.1M367.6 87.8h.1M362.0 81.2h.1M369.2 78.3h.1M359.0 80.5h.1M365.9 78.4h.1M367.2 79.8h.1M362.5 68.9h.1M359.3 72.3h.1M368.2 74.5h.1M363.0 83.7h.1M368.8 80.7h.1M368.8 81.9h.1M365.7 87.5h.1M365.7 75.3h.1M369.6 87.4h.1M367.2 83.2h.1M362.0 77.1h.1M366.4 89.3h.1M367.9 73.2h.1M366.5 74.9h.1M366.4 79.9h.1M365.1 83.3h.1M365.2 80.0h.1M362.0 69.3h.1M360.0 79.4h.1M370.2 80.6h.1M363.2 95.2h.1M366.6 88.7h.1M359.7 81.8h.1M366.3 75.1h.1M362.4 83.0h.1M361.6 82.2h.1M361.8 83.1h.1M369.4 78.9h.1M370.2 82.5h.1M357.3 79.3h.1M366.7 77.9h.1M369.2 89.6h.1M360.8 84.3h.1M368.4 79.4h.1M363.6 76.8h.1M361.7 82.1h.1M364.3 84.2h.1M363.9 85.8h.1M360.2 89.2h.1M363.9 74.9h.1M362.7 92.3h.1M369.1 87.5h.1M365.4 85.7h.1M371.0 88.5h.1M364.6 72.9h.1M367.1 79.0h.1M366.1 78.3h.1M366.3 87.7h.1M364.9 74.6h.1M365.3 79.3h.1M372.3 89.5h.1M363.0 84.7h.1M363.5 79.0h.1M364.3 91.5h.1M368.0 73.7h.1M367.3 83.6h.1M369.4 79.8h.1M360.4 83.9h.1M366.7 79.6h.1M365.0 76.5h.1M364.5 82.3h.1M366.3 73.8h.1M357.9 84.0h.1M366.8 79.3h.1M366.3 86.2h.1M360.0 78.6h.1M365.3 77.4h.1M371.8 83.3h.1M364.1 87.9h.1M368.0 69.6h.1M364.8 81.7h.1M362.5 84.5h.1M362.0 73.2h.1M364.1 76.2h.1M370.8 84.6h.1M368.9 76.5h.1M362.9 77.5h.1M369.6 90.5h.1M365.2 75.9h.1M362.9 76.3h.1M367.4 68.3h.1M362.1 75.0h.1M359.5 74.3h.1M370.8 90.5h.1M358.4 87.8h.1M367.8 74.1h.1M359.6 91.9h.1M365.6 85.3h.1M364.9 80.1h.1M363.9 85.5h.1M357.0 83.2h.1M365.3 76.8h.1M365.5 71.3h.1M362.1 76.0h.1M365.4 81.0h.1M369.6 79.1h.1M362.8 77.0h.1M366.7 86.4h.1M361.1 75.2h.1M367.2 86.0h.1M368.2 78.4h.1M369.3 74.9h.1M367.4 81.0h.1M371.3 76.7h.1M361.8 71.4h.1M369.9 80.9h.1M363.5 80.8h.1M363.3 85.6h.1M370.0 82.6h.1M366.6 75.4h.1M370.9 77.7h.1M360.0 67.3h.1M366.8 74.9h.1M363.6 88.2h.1M364.6 89.4h.1M358.2 85.3h.1M369.4 82.7h.1M366.5 84.3h.1M361.8 83.7h.1M360.4 71.5h.1M362.3 76.2h.1M371.2 87.6h.1M365.3 87.6h.1M364.4 82.4h.1M367.7 79.3h.1M365.8 78.9h.1M366.6 78.0h.1M368.7 75.9h.1M367.0 70.4h.1M369.2 81.9h.1M361.0 78.5h.1M366.0 79.8h.1M364.3 90.5h.1M366.2 84.3h.1M365.6 77.2h.1M363.2 84.2h.1M364.4 72.7h.1M369.5 86.8h.1M363.6 82.5h.1M360.9 80.0h.1M368.1 84.2h.1M369.6 89.1h.1M364.7 78.5h.1M366.3 75.6h.1M362.5 92.7h.1M365.0 81.1h.1M370.1 89.3h.1M368.9 77.3h.1M366.4 83.1h.1M364.7 77.5h.1M359.4 84.5h.1M367.0 79.5h.1M367.6 77.3h.1M369.9 89.6h.1M373.7 82.9h.1M367.3 69.8h.1M369.5 79.7h.1M361.4 75.9h.1M370.5 74.3h.1M369.2 77.8h.1M371.1 78.4h.1M368.4 81.2h.1M367.6 76.6h.1M371.6 70.7h.1M363.2 78.0h.1M368.3 85.9h.1M370.0 73.4h.1M362.7 84.5h.1M361.3 83.6h.1M367.5 78.5h.1M366.3 82.7h.1M368.2 76.9h.1M368.3 78.8h.1M362.8 75.3h.1M367.1 83.6h.1M370.2 88.6h.1M364.4 77.2h.1M364.7 87.7h.1M361.4 69.1h.1M369.0 76.1h.1M373.5 75.4h.1M360.5 90.6h.1M368.8 77.7h.1M369.4 85.3h.1M363.7 69.6h.1M364.4 81.6h.1M361.8 84.2h.1M362.8 80.8h.1M366.5 65.8h.1M368.4 82.0h.1M366.3 85.5h.1M369.2 88.4h.1M366.7 83.2h.1M361.3 71.6h.1M371.5 79.8h.1M370.5 86.0h.1M363.1 76.4h.1M372.8 84.2h.1M367.7 78.3h.1M366.4 81.5h.1M373.3 85.2h.1M356.1 77.1h.1M368.6 81.9h.1M364.9 82.9h.1M362.2 76.9h.1M371.8 81.3h.1M367.8 79.5h.1M360.9 72.9h.1M363.3 72.4h.1M369.2 82.6h.1M372.9 80.5h.1M358.1 66.3h.1M366.9 69.0h.1M364.4 79.3h.1M359.1 80.6h.1M365.3 84.4h.1M359.7 74.1h.1M363.8 84.3h.1M372.2 79.3h.1M367.9 78.2h.1M369.0 80.2h.1M368.3 86.5h.1M367.3 84.1h.1M369.7 86.0h.1M361.4 77.2h.1M364.5 79.4h.1M369.3 74.5h.1M363.1 77.9h.1M364.2 78.8h.1M370.6 78.4h.1M371.9 85.0h.1M363.6 83.4h.1M362.8 85.3h.1M368.2 81.7h.1M367.0 87.0h.1M363.3 81.6h.1M368.3 86.4h.1M368.1 83.8h.1M366.3 85.1h.1M371.3 74.1h.1M369.1 72.9h.1M369.9 92.0h.1M370.2 83.5h.1M363.2 80.1h.1M367.2 78.4h.1M363.7 74.7h.1M367.0 80.6h.1M366.9 80.7h.1M365.7 74.7h.1M364.1 73.9h.1M369.2 77.1h.1M359.7 79.1h.1M369.2 78.3h.1M366.0 85.6h.1M367.0 74.4h.1M356.7 83.3h.1M372.5 89.2h.1M359.2 86.0h.1M362.6 74.6h.1M368.5 64.5h.1M363.6 85.7h.1M364.4 83.8h.1M357.2 77.7h.1M364.3 88.2h.1M366.8 78.7h.1M368.6 81.6h.1M364.8 75.2h.1M366.8 82.8h.1M367.7 78.6h.1M363.3 78.2h.1M363.0 87.0h.1M373.6 82.2h.1M362.6 72.6h.1M370.8 84.9h.1M366.3 85.7h.1M371.7 76.3h.1M363.5 78.8h.1M368.0 81.3h.1M367.3 79.6h.1M365.1 81.7h.1M367.2 84.6h.1M363.0 78.2h.1M365.7 92.7h.1M364.4 77.0h.1M369.0 78.0h.1M365.6 92.0h.1M360.5 94.4h.1M364.5 81.2h.1M365.6 80.0h.1M362.4 75.0h.1M371.2 87.4h.1M367.6 82.0h.1M369.3 76.3h.1M363.0 83.3h.1M364.4 88.7h.1M369.9 84.8h.1M360.4 93.4h.1M367.4 87.5h.1M366.3 83.5h.1M364.0 80.8h.1M366.3 84.1h.1M361.8 87.8h.1M366.9 85.8h.1M361.2 86.9h.1M361.0 82.2h.1M371.5 85.3h.1M363.2 87.8h.1M357.7 80.1h.1M369.8 73.7h.1M362.9 90.7h.1M352.2 84.3h.1M365.8 78.5h.1M369.6 82.3h.1M367.4 79.6h.1M372.7 71.5h.1M365.5 80.0h.1M368.3 73.0h.1M362.0 82.1h.1M366.6 80.4h.1M372.0 87.3h.1M368.0 80.3h.1M366.6 83.1h.1M358.2 79.3h.1M364.5 78.9h.1M360.9 73.2h.1M369.0 86.5h.1M363.1 82.0h.1M367.4 77.7h.1M362.0 82.2h.1M373.4 78.7h.1M361.4 76.9h.1M366.5 82.4h.1M366.8 79.5h.1M362.6 73.0h.1M368.4 77.6h.1M369.9 91.1h.1M369.4 76.5h.1M358.2 87.7h.1M366.8 79.7h.1M357.6 85.1h.1M373.5 80.4h.1M366.3 72.2h.1M364.2 78.7h.1M368.6 92.8h.1M367.9 80.3h.1M361.3 84.2h.1M372.4 79.1h.1M365.0 80.3h.1M359.1 82.8h.1M371.5 83.7h.1M372.0 93.4h.1M370.9 80.9h.1M368.2 80.0h.1M362.5 77.3h.1M369.7 73.7h.1M373.3 72.0h.1M369.2 84.7h.1M372.3 70.6h.1M362.9 88.9h.1M370.0 85.8h.1M369.7 79.4h.1M360.1 74.5h.1M359.6 81.2h.1M363.2 81.1h.1M366.3 87.3h.1M367.8 76.9h.1M365.1 78.9h.1M365.7 80.7h.1M365.6 79.5h.1M366.4 77.5h.1M368.3 71.4h.1M368.0 71.8h.1M365.8 77.2h.1M367.0 79.8h.1M364.2 86.6h.1M369.2 93.9h.1M364.0 90.6h.1M372.5 83.2h.1M365.9 91.5h.1M367.1 80.4h.1M363.0 78.1h.1M364.6 94.0h.1M366.7 75.0h.1M366.1 78.7h.1M363.5 79.5h.1M361.4 89.2h.1M366.2 77.7h.1M366.6 85.4h.1M368.2 78.7h.1M371.0 74.2h.1M364.8 82.3h.1M358.1 82.0h.1M365.4 74.6h.1M358.7 76.2h.1M360.9 76.6h.1M370.1 86.4h.1M368.3 83.6h.1M363.5 82.4h.1M363.5 83.8h.1M365.7 78.4h.1M359.0 83.7h.1M367.9 77.6h.1M364.6 73.6h.1M373.3 77.1h.1M361.8 82.2h.1M370.0 81.5h.1M363.3 87.0h.1M370.1 71.6h.1M362.1 79.8h.1M368.9 83.2h.1M364.3 75.6h.1M362.7 82.4h.1M365.4 78.7h.1M367.9 74.7h.1M367.6 87.3h.1M372.3 73.3h.1M369.3 86.6h.1M355.5 78.7h.1M364.4 75.8h.1M358.1 76.1h.1M364.5 76.9h.1M368.5 76.3h.1M360.7 82.5h.1M361.3 70.6h.1M366.6 88.0h.1M364.9 85.7h.1M372.3 88.8h.1M367.3 75.5h.1M368.1 68.1h.1M373.0 77.5h.1M364.0 80.1h.1M366.0 82.7h.1M362.1 78.1h.1M367.1 80.6h.1M370.2 81.9h.1M371.5 72.4h.1M365.9 91.2h.1M363.2 74.8h.1M363.0 82.5h.1M360.5 87.1h.1M366.5 76.7h.1M371.5 81.1h.1M356.6 90.2h.1M357.4 79.5h.1M371.6 86.9h.1M359.6 82.7h.1M367.4 82.3h.1M361.0 85.1h.1M369.2 79.8h.1M369.2 79.9h.1M366.7 86.4h.1M369.3 82.5h.1M366.2 83.9h.1M368.3 74.4h.1M373.3 81.2h.1M370.4 87.9h.1M363.4 86.1h.1M362.8 83.0h.1M365.1 78.2h.1M365.1 77.6h.1M366.3 83.5h.1M363.6 89.0h.1M368.7 81.3h.1M366.2 88.4h.1M367.5 79.4h.1M366.1 87.8h.1M368.5 75.5h.1M361.3 82.1h.1M372.4 75.1h.1M367.5 84.8h.1M367.9 84.3h.1M368.5 75.8h.1M370.4 76.9h.1M369.0 78.6h.1M367.0 72.8h.1M365.4 75.9h.1M359.5 76.2h.1M366.9 85.5h.1M364.8 88.8h.1M364.8 78.6h.1M358.7 82.3h.1M366.3 78.2h.1M370.9 79.5h.1M369.9 85.8h.1M371.1 82.4h.1M361.0 80.6h.1M362.3 77.9h.1M368.6 89.3h.1M364.9 77.7h.1M373.0 81.8h.1M367.0 75.3h.1M366.9 77.8h.1M367.9 81.6h.1M365.0 78.9h.1M366.6 84.1h.1M363.4 81.5h.1M366.0 73.3h.1M364.2 68.2h.1M367.1 86.7h.1M360.5 77.8h.1M360.2 89.4h.1M368.0 81.2h.1M367.0 76.8h.1M362.3 84.2h.1M365.2 79.6h.1M361.9 81.2h.1M374.3 75.9h.1M359.9 84.6h.1M373.0 87.2h.1M362.8 78.1h.1M367.8 91.1h.1M365.1 77.9h.1M364.6 82.5h.1M369.9 71.9h.1M369.4 70.3h.1M365.0 92.8h.1M362.5 89.0h.1M374.4 87.5h.1M371.8 71.6h.1M366.7 82.3h.1M365.0 83.4h.1M367.3 81.5h.1M366.5 82.7h.1M370.9 75.9h.1M362.3 80.2h.1M366.2 74.7h.1M363.0 79.1h.1M371.4 83.2h.1M373.4 76.7h.1M365.8 79.5h.1M368.3 78.7h.1M371.8 81.2h.1M365.0 86.2h.1M362.4 82.4h.1M370.3 83.3h.1M368.2 73.0h.1M365.3 79.0h.1M372.0 85.6h.1M367.1 76.2h.1M359.0 78.6h.1M367.5 75.6h.1M365.9 88.5h.1M373.7 78.5h.1M366.1 77.0h.1M365.3 84.5h.1M367.9 87.2h.1M367.1 83.8h.1M360.5 86.5h.1M366.6 82.2h.1M364.9 80.3h.1M371.8 78.6h.1M361.7 77.7h.1M362.3 83.1h.1M362.8 80.4h.1M363.5 81.5h.1M363.4 84.4h.1M366.4 80.7h.1M370.5 73.4h.1M361.0 76.6h.1M360.0 74.8h.1M358.8 70.4h.1M370.6 81.6h.1M371.5 74.3h.1M360.0 73.9h.1M359.6 75.0h.1M366.7 85.9h.1M370.5 79.3h.1M370.2 86.6h.1M366.9 80.5h.1M368.9 78.6h.1M367.5 84.2h.1M364.0 84.4h.1M373.8 81.7h.1M366.2 75.2h.1M361.7 78.5h.1M364.3 74.4h.1M360.0 79.6h.1M366.2 81.6h.1M370.6 89.3h.1M361.1 88.9h.1M370.7 84.8h.1M367.7 82.3h.1M362.8 89.6h.1M364.8 95.8h.1M361.0 83.2h.1M361.2 83.3h.1M365.1 86.9h.1M365.5 82.1h.1M368.6 82.8h.1M361.4 75.5h.1M373.7 86.3h.1M370.4 81.8h.1M369.7 85.5h.1M363.6 79.8h.1M373.1 71.1h.1M364.8 83.8h.1M373.4 87.5h.1M370.5 73.8h.1M362.6 75.6h.1M364.4 79.3h.1M373.7 79.6h.1M370.2 71.5h.1M365.6 90.8h.1M367.0 86.7h.1M367.0 77.6h.1M363.1 70.9h.1M365.4 83.0h.1M363.5 92.1h.1M364.5 85.6h.1M368.0 87.5h.1M362.3 75.7h.1M369.1 82.3h.1M366.6 72.6h.1M369.2 92.1h.1M369.7 84.2h.1M371.2 69.2h.1M368.7 70.7h.1M369.0 83.7h.1M365.5 81.8h.1M368.5 79.3h.1M362.6 84.4h.1M365.2 92.2h.1M369.2 83.0h.1M366.0 70.9h.1M368.0 80.1h.1M361.9 73.7h.1M371.7 76.5h.1M363.9 82.8h.1M367.8 80.0h.1M366.1 75.0h.1M369.9 80.8h.1M364.6 76.4h.1M362.2 83.9h.1M358.6 79.6h.1M365.0 83.2h.1M361.4 79.5h.1M368.3 85.2h.1M372.0 80.2h.1M357.3 80.9h.1M361.0 77.8h.1M367.4 81.8h.1M371.1 71.0h.1M367.4 95.9h.1M367.5 77.1h.1M368.2 81.5h.1M368.5 78.3h.1M372.8 78.2h.1M368.6 83.2h.1M361.2 78.1h.1M364.3 78.5h.1M367.0 73.2h.1M362.9 75.8h.1M365.1 74.4h.1M364.1 91.0h.1M363.4 73.5h.1M369.0 74.9h.1M364.6 82.0h.1M361.8 88.9h.1M363.3 71.4h.1M366.3 72.3h.1M367.2 82.8h.1M372.1 73.0h.1M368.2 70.8h.1M357.5 75.5h.1M367.7 85.1h.1M362.8 80.7h.1M360.7 85.1h.1M361.8 80.3h.1M373.4 80.7h.1M359.8 84.3h.1M363.7 80.2h.1M370.8 82.2h.1M368.9 75.8h.1M359.3 77.5h.1M365.7 83.5h.1M364.1 79.6h.1M365.4 76.7h.1M369.2 84.6h.1M363.9 84.0h.1M364.9 80.9h.1M372.0 76.6h.1M358.8 85.9h.1M364.7 94.9h.1M368.1 76.3h.1M361.2 72.3h.1M363.6 76.5h.1M360.9 75.7h.1M366.8 73.8h.1M363.7 74.3h.1M369.3 85.6h.1M370.3 85.7h.1M366.4 89.2h.1M364.6 85.1h.1M367.2 78.2h.1M366.4 86.9h.1M361.3 77.4h.1M370.5 78.9h.1M367.1 74.3h.1M369.3 87.7h.1M360.7 86.5h.1M369.7 78.3h.1M368.6 81.1h.1M360.3 82.0h.1M366.3 85.6h.1M365.9 81.2h.1M367.0 83.1h.1M365.2 72.5h.1M368.2 79.2h.1M364.3 70.8h.1M367.1 90.8h.1M363.4 88.7h.1M366.6 84.9h.1M370.2 87.1h.1M364.2 92.1h.1M368.8 86.1h.1M362.6 71.9h.1M364.7 79.7h.1M365.2 67.7h.1M371.2 76.3h.1M363.1 73.9h.1M371.1 80.8h.1M360.2 83.0h.1M365.5 75.6h.1M369.8 79.2h.1M369.0 82.4h.1M362.1 79.9h.1M361.2 79.8h.1M369.7 67.4h.1M361.1 78.3h.1M368.5 85.3h.1M364.0 82.3h.1M366.1 72.5h.1M372.4 82.3h.1M369.5 75.4h.1M360.6 84.6h.1M367.4 76.3h.1M366.4 78.9h.1M365.7 80.2h.1M371.5 93.3h.1M359.2 79.0h.1M367.4 77.6h.1M366.6 84.8h.1M363.1 78.2h.1M373.1 81.9h.1M361.0 68.2h.1M366.2 82.5h.1M366.5 80.7h.1M357.3 73.6h.1M360.3 88.4h.1M362.2 79.5h.1M369.3 79.7h.1M370.0 73.4h.1M368.5 71.7h.1M367.1 77.6h.1M357.2 72.3h.1M367.0 83.5h.1M364.0 85.7h.1M370.9 77.2h.1M371.6 71.8h.1M369.0 74.8h.1M369.4 81.7h.1M361.9 81.8h.1M366.4 78.4h.1M361.1 81.2h.1M369.8 86.6h.1M361.3 90.3h.1M365.2 77.9h.1M362.8 84.8h.1M364.2 79.4h.1M368.0 74.9h.1M363.8 88.0h.1M367.0 83.0h.1M362.0 81.6h.1M371.8 82.8h.1M363.5 79.9h.1M370.2 74.9h.1M356.2 85.8h.1M362.1 82.2h.1M365.3 86.2h.1M370.9 88.0h.1M364.1 79.7h.1M367.6 84.1h.1M363.1 79.0h.1M368.4 84.4h.1M361.2 79.3h.1M369.5 94.4h.1M354.0 78.8h.1M358.4 83.7h.1M373.5 83.4h.1M366.8 78.9h.1M362.5 86.0h.1M370.4 78.5h.1M370.7 80.8h.1M364.4 76.6h.1M368.6 87.5h.1M368.2 84.3h.1M359.3 86.3h.1M368.5 73.2h.1M365.3 82.3h.1M371.3 76.5h.1M371.4 81.3h.1M363.5 87.9h.1M363.6 82.2h.1M366.9 79.8h.1M368.8 87.0h.1M364.4 86.4h.1M365.6 91.1h.1M368.6 70.3h.1M367.8 82.6h.1M370.8 78.4h.1M367.1 75.9h.1M362.5 81.4h.1M358.9 74.3h.1M369.4 68.3h.1M364.7 75.7h.1M364.7 79.3h.1M364.9 91.2h.1M359.7 76.7h.1M364.5 74.2h.1M355.4 69.7h.1M364.4 78.8h.1M362.4 79.4h.1M373.6 81.6h.1M367.9 72.7h.1M365.2 76.5h.1M366.7 68.1h.1M369.1 81.7h.1M363.0 72.0h.1M365.1 65.4h.1M364.6 87.3h.1M366.4 82.7h.1M358.0 82.7h.1M369.3 75.0h.1M362.1 74.9h.1M365.8 82.0h.1M370.2 70.4h.1M363.7 85.6h.1M365.0 91.8h.1M356.6 92.7h.1M367.2 69.5h.1M357.0 67.6h.1M353.7 81.2h.1M368.6 74.0h.1M355.1 85.7h.1M361.7 88.5h.1M349.6 89.8h.1M351.4 79.0h.1M367.6 79.5h.1M355.6 64.9h.1M355.5 80.2h.1M348.6 82.6h.1M360.4 92.9h.1M364.9 68.4h.1M355.0 72.3h.1M357.2 70.9h.1M348.9 88.2h.1M353.7 70.1h.1M372.2 86.0h.1M356.9 67.9h.1M351.3 87.7h.1M355.8 85.0h.1M373.0 78.0h.1M360.5 72.8h.1M356.9 87.6h.1M365.4 79.9h.1M369.2 87.4h.1M352.6 83.6h.1M370.2 75.8h.1M365.6 93.1h.1M362.3 75.5h.1M360.3 74.2h.1M369.9 77.9h.1M356.5 77.7h.1M359.3 82.2h.1M350.6 91.9h.1M361.1 93.1h.1M365.5 78.4h.1M357.0 93.2h.1M369.3 83.8h.1M359.8 68.6h.1M348.7 93.5h.1M352.3 74.6h.1M360.4 90.5h.1M353.5 75.8h.1M355.2 88.3h.1M357.1 77.4h.1M360.8 62.9h.1M365.0 71.2h.1M365.0 77.8h.1M367.1 80.2h.1M354.4 69.1h.1M356.0 78.1h.1M352.4 82.0h.1M372.1 66.2h.1M361.7 77.0h.1M363.3 88.1h.1M356.9 75.2h.1M359.0 71.9h.1M352.6 82.4h.1M373.1 80.8h.1M352.3 84.1h.1M347.2 71.5h.1M350.7 78.9h.1M353.6 72.3h.1M359.2 78.5h.1M361.6 85.6h.1M361.7 80.3h.1M353.0 81.0h.1M357.8 90.3h.1M364.5 84.2h.1M368.6 89.5h.1M353.4 83.2h.1M350.6 92.5h.1M367.7 64.6h.1M366.1 82.7h.1M348.8 72.2h.1M346.6 75.9h.1M362.1 73.4h.1M360.6 81.2h.1M365.3 86.8h.1M359.8 87.0h.1M368.4 83.2h.1M351.6 77.0h.1M347.5 80.1h.1M359.1 75.8h.1M366.4 90.4h.1M365.8 76.7h.1M354.8 93.2h.1M360.2 74.8h.1M356.6 78.5h.1M359.5 70.6h.1M365.4 84.8h.1M352.3 79.5h.1M367.3 85.7h.1M365.9 93.5h.1M366.2 79.5h.1M364.4 79.5h.1M354.1 75.1h.1M353.2 83.3h.1M352.6 84.6h.1M347.9 87.1h.1M356.5 87.6h.1M353.0 74.0h.1M353.5 84.1h.1M362.7 91.2h.1M349.2 75.9h.1M368.0 83.3h.1M347.8 95.7h.1M363.6 81.6h.1M366.2 71.3h.1M358.8 83.2h.1M364.9 82.0h.1M357.9 90.1h.1M361.6 71.8h.1M368.1 79.4h.1M354.3 66.0h.1M361.5 72.6h.1M361.3 66.7h.1M367.8 74.1h.1M363.4 87.3h.1M362.9 85.5h.1M365.8 82.8h.1M356.0 63.4h.1M357.6 75.5h.1M359.3 76.5h.1M371.7 75.2h.1M371.2 84.5h.1M363.9 72.8h.1M355.6 85.5h.1M363.1 90.7h.1M355.1 86.9h.1M369.4 88.1h.1M359.1 79.7h.1M372.9 70.6h.1M361.5 78.1h.1M356.3 82.9h.1M356.4 87.9h.1M359.6 81.0h.1M357.5 86.7h.1M373.8 70.7h.1M356.2 63.8h.1M367.7 74.8h.1M368.4 77.9h.1M356.9 78.0h.1M365.1 89.4h.1M356.7 81.1h.1M358.7 86.0h.1M349.0 78.3h.1M355.5 72.3h.1M364.7 71.0h.1M355.2 73.0h.1M357.7 93.0h.1M351.6 82.7h.1M370.2 78.7h.1M373.5 80.2h.1M360.6 75.0h.1M358.0 79.8h.1M372.6 79.7h.1M362.9 86.0h.1M353.4 88.3h.1M347.9 65.3h.1M354.1 82.2h.1M354.1 70.9h.1M358.9 81.6h.1M357.2 90.0h.1M369.8 85.5h.1M356.9 78.1h.1M362.1 84.6h.1M350.4 89.4h.1M348.7 83.6h.1M360.8 83.9h.1M353.5 70.6h.1M362.9 78.9h.1M357.6 78.2h.1M356.7 85.7h.1M353.9 83.3h.1M372.0 87.4h.1M355.0 93.5h.1M363.3 73.2h.1M370.4 76.3h.1M368.2 86.3h.1M360.6 80.9h.1M359.1 85.8h.1M361.5 82.4h.1M366.4 74.5h.1M363.7 95.5h.1M355.3 90.4h.1M362.7 66.1h.1M362.1 74.6h.1M364.7 80.3h.1M360.7 86.3h.1M370.2 79.5h.1M360.6 67.9h.1M366.3 87.6h.1M359.3 78.3h.1M354.3 91.0h.1M351.2 82.9h.1M357.7 89.2h.1M363.4 87.7h.1M369.4 88.1h.1M358.3 75.6h.1M354.7 89.4h.1M354.8 82.0h.1M369.6 68.9h.1M359.9 76.6h.1M354.9 77.1h.1M365.1 84.4h.1M348.1 86.3h.1M359.9 70.2h.1M358.6 86.7h.1M357.9 79.6h.1M349.5 70.7h.1M367.0 87.7h.1M372.8 73.3h.1M348.1 69.5h.1M360.0 87.0h.1M364.3 88.3h.1M355.6 89.7h.1M351.2 89.2h.1M359.0 75.6h.1M359.6 79.7h.1M361.2 82.2h.1M366.4 84.2h.1M365.4 64.9h.1M347.6 90.6h.1M363.2 93.3h.1M352.4 85.5h.1M355.3 83.3h.1M359.4 73.7h.1M357.1 79.5h.1M372.8 93.1h.1M364.2 72.8h.1M362.4 79.8h.1M370.7 83.6h.1M361.3 76.7h.1M367.9 88.3h.1M358.7 89.0h.1M364.8 68.1h.1M351.3 90.4h.1M365.5 73.6h.1M347.7 77.9h.1M369.6 90.4h.1M346.6 81.2h.1M363.4 87.4h.1M357.6 85.7h.1M359.9 75.5h.1M362.5 71.8h.1M358.8 86.5h.1M351.7 87.2h.1M360.7 83.6h.1M361.8 78.7h.1M363.0 88.1h.1M353.0 68.1h.1M359.6 82.9h.1M363.6 85.0h.1M355.3 87.4h.1M349.2 72.4h.1M354.3 73.7h.1M367.7 83.4h.1M356.8 76.4h.1M364.0 79.9h.1M353.0 88.9h.1M362.7 84.0h.1M352.1 83.1h.1M359.9 95.9h.1M359.4 90.1h.1M363.2 79.8h.1M372.2 92.3h.1M370.2 76.0h.1M355.8 76.5h.1M353.4 82.8h.1M354.9 84.0h.1M361.5 68.1h.1M360.6 82.9h.1M361.9 77.9h.1M363.9 80.4h.1M350.2 82.3h.1M349.7 79.0h.1M348.9 90.3h.1M348.0 85.1h.1M358.2 79.1h.1M361.6 81.4h.1M363.4 87.8h.1M359.1 92.1h.1M370.6 79.6h.1M353.0 82.1h.1M367.0 80.5h.1M365.5 95.9h.1M362.3 88.4h.1M356.1 77.0h.1M348.8 68.4h.1M357.7 86.6h.1M354.1 74.6h.1M364.7 74.6h.1M357.9 65.4h.1M363.6 91.5h.1M367.0 81.1h.1M352.0 84.4h.1M347.7 81.8h.1M353.8 85.5h.1M368.2 78.5h.1M349.4 87.5h.1M359.7 84.7h.1M358.1 81.1h.1M350.9 68.5h.1M351.9 94.2h.1M352.5 66.3h.1M351.3 77.3h.1M352.5 86.5h.1M352.2 70.1h.1M368.5 85.9h.1M361.0 93.4h.1M365.2 80.7h.1M366.4 83.8h.1M364.6 72.5h.1M354.5 82.1h.1M350.0 78.0h.1M352.6 72.1h.1M355.1 68.9h.1M358.3 81.7h.1M368.0 71.8h.1M358.2 77.2h.1M373.7 94.2h.1M367.4 95.4h.1M355.1 75.4h.1M366.0 82.7h.1M370.3 77.8h.1M362.4 70.4h.1M362.3 72.2h.1M356.9 69.4h.1M357.8 78.8h.1M368.2 89.3h.1M357.4 87.0h.1M352.0 78.9h.1M350.7 73.9h.1M365.1 80.2h.1M360.1 68.7h.1M368.2 87.9h.1M349.1 79.8h.1M369.2 65.9h.1M361.4 73.5h.1M353.7 87.4h.1M374.2 81.9h.1M364.8 88.6h.1M365.5 66.6h.1M353.0 73.5h.1M363.6 69.0h.1M364.5 73.5h.1M352.2 77.5h.1M349.5 85.6h.1M352.7 89.9h.1M371.0 89.6h.1M366.7 76.5h.1M361.4 80.7h.1M360.0 85.4h.1M360.8 73.5h.1M355.6 78.3h.1M369.0 84.5h.1M360.4 73.0h.1M360.8 85.1h.1M347.7 91.8h.1M361.5 70.9h.1M354.9 81.6h.1M367.5 71.5h.1M350.1 82.4h.1M357.4 76.8h.1M364.1 83.5h.1M368.4 90.9h.1M354.8 88.1h.1M361.6 77.6h.1M361.3 70.4h.1M363.9 81.6h.1M359.8 74.7h.1M348.0 75.4h.1M353.8 66.4h.1M355.7 65.9h.1M356.1 65.2h.1M358.7 86.2h.1M352.6 86.6h.1M360.2 72.5h.1M352.7 85.3h.1M353.9 82.6h.1M351.8 87.2h.1M357.1 91.0h.1M354.5 73.4h.1M361.8 71.7h.1M360.7 76.4h.1M351.7 73.4h.1M349.4 79.2h.1M361.9 80.3h.1M353.2 75.9h.1M369.8 90.0h.1M370.6 63.7h.1M361.8 82.2h.1M370.6 73.2h.1M359.7 73.9h.1M354.5 88.2h.1M369.4 77.2h.1M353.1 62.9h.1M367.7 68.0h.1M354.5 89.1h.1M363.4 72.2h.1M350.2 91.8h.1M355.8 92.3h.1M351.5 78.2h.1M353.2 84.9h.1M360.5 72.6h.1M357.6 76.4h.1M360.5 73.8h.1M369.5 85.3h.1M358.1 68.5h.1M356.6 80.4h.1M359.6 84.6h.1M367.4 64.0h.1M366.8 72.1h.1M357.1 78.0h.1M364.3 81.2h.1M347.2 81.7h.1M362.6 85.8h.1M363.1 85.2h.1M355.9 75.6h.1M359.4 86.9h.1M353.5 86.1h.1M363.6 85.9h.1M348.1 78.9h.1M366.9 85.5h.1M363.4 93.5h.1M358.2 87.2h.1M360.6 86.5h.1M359.3 77.8h.1M358.1 75.9h.1M350.0 75.7h.1M354.4 69.0h.1M356.6 75.6h.1M349.3 84.4h.1M349.5 74.4h.1M356.7 76.4h.1M365.1 82.6h.1M357.4 76.0h.1M364.5 81.0h.1M366.9 79.5h.1M365.3 70.4h.1M355.6 80.5h.1M355.7 69.5h.1M353.4 71.5h.1M362.8 77.7h.1M350.1 63.6h.1M370.1 75.9h.1M370.7 68.7h.1M356.0 93.2h.1M366.5 78.8h.1M347.4 84.5h.1M350.4 64.2h.1M356.0 68.8h.1M359.1 78.3h.1M357.5 67.7h.1M352.0 90.0h.1M361.4 81.1h.1M361.3 82.5h.1M364.6 78.5h.1M360.4 86.7h.1M357.1 73.8h.1M354.5 83.1h.1M371.2 81.7h.1M351.5 80.9h.1M352.4 80.3h.1M362.0 64.8h.1M370.5 81.2h.1M370.9 78.5h.1M363.6 84.0h.1M363.7 80.1h.1M353.1 93.8h.1M358.3 69.1h.1M354.1 71.2h.1M359.3 85.6h.1M353.3 70.6h.1M369.3 82.7h.1M365.2 79.6h.1M358.1 62.3h.1M364.6 91.9h.1M366.2 81.6h.1M358.4 67.3h.1M348.7 86.7h.1M362.5 70.5h.1M367.6 78.7h.1M363.6 72.8h.1M359.6 78.5h.1M373.3 79.4h.1M359.7 72.2h.1M362.9 72.8h.1M356.4 86.3h.1M358.9 78.9h.1M369.9 74.5h.1M356.4 81.2h.1M355.9 80.6h.1M359.1 78.2h.1M360.7 76.4h.1M368.1 74.2h.1M356.0 80.3h.1M348.6 89.9h.1M369.8 88.1h.1M358.4 85.4h.1M352.6 80.7h.1M353.4 76.9h.1M353.5 82.7h.1M354.1 75.5h.1M368.8 72.3h.1M362.1 79.2h.1M366.9 79.0h.1M356.2 95.9h.1M361.8 84.5h.1M360.4 76.4h.1M368.6 86.5h.1M365.6 75.5h.1M361.9 88.5h.1M353.7 86.5h.1M352.5 70.2h.1M353.8 79.0h.1M354.6 78.7h.1M348.9 82.3h.1M372.5 85.9h.1M361.2 71.2h.1M350.1 82.3h.1M348.1 88.2h.1M360.9 69.9h.1M367.7 66.1h.1M351.0 89.7h.1M364.0 87.0h.1M356.8 89.2h.1M368.3 71.2h.1M370.1 77.9h.1M361.5 81.7h.1M364.8 83.5h.1M359.0 78.7h.1M356.0 79.3h.1M349.5 88.5h.1M361.7 75.9h.1M358.4 74.9h.1M355.9 75.9h.1M358.4 75.3h.1M357.5 80.8h.1M350.6 77.9h.1M354.7 75.9h.1M368.3 92.0h.1M357.1 82.3h.1" stroke="#000" stroke-width="0.75" stroke-linecap="square" fill="none" stroke-opacity="0.42"/>
<path d="M330.0 75.6h.1M347.0 82.7h.1M327.8 78.4h.1M333.6 74.3h.1M332.6 93.1h.1M327.5 76.4h.1M329.6 83.4h.1M334.5 77.7h.1M318.5 79.1h.1M329.5 70.3h.1M336.3 88.0h.1M336.5 77.5h.1M336.8 90.7h.1M358.3 71.9h.1M340.6 77.1h.1M332.1 84.5h.1M332.3 81.7h.1M333.6 75.8h.1M338.2 79.8h.1M330.5 70.9h.1M349.5 81.3h.1M322.0 60.4h.1M340.3 82.2h.1M338.9 91.3h.1M321.6 87.7h.1M340.2 87.4h.1M339.5 77.6h.1M326.9 84.6h.1M357.9 77.7h.1M341.1 80.1h.1M330.2 80.1h.1M328.6 54.9h.1M325.8 88.0h.1M336.3 84.3h.1M334.3 87.3h.1M318.8 73.5h.1M322.7 86.2h.1M326.1 84.5h.1M329.4 63.6h.1M329.8 67.3h.1M326.6 81.2h.1M340.3 75.7h.1M343.5 80.7h.1M334.4 75.9h.1M332.0 66.2h.1M339.5 70.3h.1M332.7 73.3h.1M336.4 70.3h.1M334.7 76.4h.1M318.0 80.6h.1M340.1 83.7h.1M328.1 91.0h.1M337.9 89.3h.1M330.4 96.3h.1M331.8 89.6h.1M347.9 80.6h.1M321.1 94.6h.1M333.5 86.3h.1M322.2 95.3h.1M334.3 79.4h.1M338.6 64.7h.1M340.4 71.9h.1M335.1 82.3h.1M319.2 85.1h.1M336.1 79.3h.1M342.9 88.6h.1M344.0 72.0h.1M355.9 75.5h.1M339.5 88.5h.1M322.9 81.3h.1M328.1 81.7h.1M334.5 91.8h.1M344.5 89.4h.1M321.6 74.8h.1M343.1 82.5h.1M340.4 67.8h.1M324.5 80.8h.1M339.9 84.0h.1M325.6 67.6h.1M333.5 93.0h.1M330.4 96.3h.1M336.0 84.8h.1M321.3 88.1h.1M339.1 92.5h.1M329.3 89.0h.1M327.7 83.9h.1M350.0 69.2h.1M339.2 74.0h.1M328.5 76.6h.1M324.2 89.2h.1M333.9 81.8h.1M327.0 88.6h.1M356.9 77.4h.1M334.3 96.9h.1M344.4 84.0h.1M325.2 79.5h.1M350.3 90.2h.1M327.9 72.5h.1M344.9 79.4h.1M335.7 70.0h.1M345.9 84.7h.1M333.8 82.9h.1M326.0 76.0h.1M317.3 69.3h.1M343.5 74.6h.1M339.2 90.5h.1M333.6 78.3h.1M338.3 90.7h.1M335.6 74.3h.1M327.6 80.4h.1M354.0 77.5h.1M336.1 79.0h.1M331.6 86.9h.1M318.3 65.2h.1M327.1 86.7h.1M333.7 86.4h.1M331.7 81.0h.1M328.6 81.6h.1M333.1 79.3h.1M321.9 86.3h.1M333.7 81.5h.1M317.4 74.5h.1M324.6 82.2h.1M325.9 88.4h.1M342.7 83.9h.1M338.7 81.2h.1M334.4 82.6h.1M321.6 77.2h.1M329.4 77.5h.1M342.0 66.5h.1M346.7 79.6h.1M318.2 88.6h.1M329.1 78.0h.1M334.7 74.1h.1M337.2 87.9h.1M333.7 82.3h.1M340.6 82.1h.1M318.5 84.6h.1M349.9 86.4h.1M321.6 80.7h.1M334.2 74.6h.1M339.1 94.4h.1M345.8 81.5h.1M343.1 75.1h.1M342.8 82.4h.1M347.0 90.2h.1M332.1 70.2h.1M341.5 91.1h.1M349.8 80.0h.1M325.7 96.3h.1M319.0 86.1h.1M323.2 80.2h.1M348.5 90.6h.1M346.7 90.8h.1M329.9 78.3h.1M336.3 82.8h.1M338.7 77.1h.1M344.7 88.1h.1M314.0 70.3h.1M327.9 79.7h.1M331.0 64.7h.1M337.1 85.5h.1M334.5 64.0h.1M330.4 72.9h.1M336.8 83.1h.1M366.0 77.6h.1M342.4 73.6h.1M343.0 77.5h.1M326.9 67.6h.1M338.1 83.5h.1M355.3 87.2h.1M352.9 86.9h.1M334.6 80.7h.1M320.8 90.4h.1M335.5 84.6h.1M330.6 88.3h.1M342.7 84.0h.1M320.4 81.3h.1M331.8 75.2h.1M336.6 61.0h.1M328.9 85.9h.1M344.9 80.2h.1M321.9 96.2h.1M320.8 65.9h.1M330.1 87.5h.1M342.5 73.8h.1M330.6 81.0h.1M327.6 74.3h.1M342.3 83.7h.1M336.2 80.8h.1M328.3 87.7h.1M335.1 82.2h.1M331.3 84.7h.1M340.2 90.8h.1M335.3 85.0h.1M325.4 80.0h.1M328.8 90.5h.1M329.4 80.2h.1M337.7 84.2h.1M337.8 78.6h.1M325.1 76.0h.1M331.8 58.2h.1M337.1 86.3h.1M345.4 72.3h.1M336.4 86.6h.1M354.3 94.8h.1M334.1 71.0h.1M341.5 87.7h.1M330.4 80.3h.1M323.3 84.5h.1M334.9 72.0h.1M338.9 81.3h.1M337.2 82.2h.1M335.3 91.9h.1M330.3 97.4h.1M325.2 83.5h.1M330.6 78.3h.1M338.7 98.0h.1M343.9 80.3h.1M340.2 81.8h.1M345.2 84.6h.1M347.1 86.5h.1M337.8 76.7h.1M340.9 80.2h.1M329.1 95.4h.1M332.9 93.3h.1M339.3 84.5h.1M322.2 83.2h.1M325.5 79.3h.1M335.9 88.9h.1M319.7 77.2h.1M334.4 82.0h.1M318.2 77.6h.1M335.8 76.4h.1M334.1 81.4h.1M327.9 81.2h.1M323.9 76.7h.1M328.4 80.6h.1M329.6 77.6h.1M335.0 76.1h.1M346.5 80.1h.1M328.4 86.5h.1M331.9 89.5h.1M348.4 82.5h.1M352.1 79.1h.1M328.7 80.9h.1M344.8 95.7h.1M346.2 88.1h.1M339.2 73.9h.1M323.4 80.7h.1M323.9 77.1h.1M339.9 78.4h.1M358.4 68.3h.1M331.9 81.3h.1M350.3 70.8h.1M353.8 76.7h.1M320.6 92.7h.1M327.5 88.7h.1M349.7 74.5h.1M344.1 73.3h.1M339.6 74.2h.1M333.7 66.8h.1M340.4 73.7h.1M327.1 79.1h.1M360.2 73.2h.1M321.6 86.9h.1M314.8 80.7h.1M335.4 77.1h.1M349.0 94.5h.1M328.6 86.5h.1M333.2 81.7h.1M323.0 95.2h.1M333.0 91.1h.1M323.1 75.8h.1M323.2 83.6h.1M318.2 77.8h.1M328.0 70.2h.1M353.5 95.6h.1M333.2 92.6h.1M335.8 71.5h.1M357.4 84.9h.1M327.1 68.6h.1M323.3 89.3h.1M339.3 80.7h.1M320.8 78.9h.1M337.3 90.7h.1M346.0 81.2h.1M322.4 79.2h.1M328.3 88.1h.1M351.7 78.8h.1M322.6 87.8h.1M335.6 83.3h.1M340.0 80.4h.1M320.4 81.2h.1M338.4 73.7h.1M338.8 81.1h.1M331.1 63.7h.1M325.2 84.2h.1M334.1 73.6h.1M334.4 86.4h.1M329.3 84.2h.1M332.7 99.7h.1M338.6 89.5h.1M340.2 60.3h.1M344.5 64.8h.1M345.3 79.8h.1M318.7 81.6h.1M343.3 79.1h.1M342.7 89.3h.1M345.9 97.4h.1M340.2 62.5h.1M344.5 85.1h.1M345.5 71.5h.1M321.8 75.6h.1M321.4 98.2h.1M333.7 62.7h.1M343.6 68.2h.1M332.9 80.2h.1M332.2 89.9h.1M342.0 98.1h.1M334.4 98.9h.1M341.1 97.1h.1M334.9 91.1h.1M332.5 78.0h.1M331.9 71.4h.1M340.2 94.5h.1M321.4 89.9h.1M327.5 88.4h.1M320.7 90.9h.1M336.4 96.7h.1M329.3 81.9h.1M343.1 70.2h.1M327.6 60.5h.1M343.7 69.6h.1M326.7 86.3h.1M344.4 74.8h.1M343.2 67.9h.1M326.1 65.3h.1M332.9 61.4h.1M320.1 82.8h.1M335.4 86.3h.1M337.0 98.2h.1M330.9 91.3h.1M330.1 66.2h.1M331.8 68.2h.1M340.1 98.7h.1M323.6 71.6h.1M341.4 81.6h.1M338.1 92.2h.1M329.1 85.6h.1M345.3 61.6h.1" stroke="#000" stroke-width="0.6" stroke-linecap="square" fill="none" stroke-opacity="0.3"/>
<rect x="346.4" y="61.4" width="28.2" height="34.8" fill="none" stroke="#000" stroke-width="1.1"/>
<text x="360.40" y="59.00" font-size="8.21" stroke="#222" stroke-width="0.12" text-anchor="middle" fill="#222" textLength="21.55" lengthAdjust="spacingAndGlyphs">96.6%</text>
<rect x="313.10" y="25.10" width="83.20" height="81.30" fill="none" stroke="#111" stroke-width="1.2"/>
<line x1="309.70" y1="106.40" x2="313.10" y2="106.40" stroke="#1a1a1a" stroke-width="0.8"/>
<line x1="311.30" y1="102.43" x2="313.10" y2="102.43" stroke="#1a1a1a" stroke-width="0.8"/>
<line x1="311.30" y1="98.46" x2="313.10" y2="98.46" stroke="#1a1a1a" stroke-width="0.8"/>
<line x1="311.30" y1="94.49" x2="313.10" y2="94.49" stroke="#1a1a1a" stroke-width="0.8"/>
<line x1="309.70" y1="90.52" x2="313.10" y2="90.52" stroke="#1a1a1a" stroke-width="0.8"/>
<line x1="311.30" y1="86.55" x2="313.10" y2="86.55" stroke="#1a1a1a" stroke-width="0.8"/>
<line x1="311.30" y1="82.58" x2="313.10" y2="82.58" stroke="#1a1a1a" stroke-width="0.8"/>
<line x1="311.30" y1="78.61" x2="313.10" y2="78.61" stroke="#1a1a1a" stroke-width="0.8"/>
<line x1="309.70" y1="74.64" x2="313.10" y2="74.64" stroke="#1a1a1a" stroke-width="0.8"/>
<line x1="311.30" y1="70.67" x2="313.10" y2="70.67" stroke="#1a1a1a" stroke-width="0.8"/>
<line x1="311.30" y1="66.70" x2="313.10" y2="66.70" stroke="#1a1a1a" stroke-width="0.8"/>
<line x1="311.30" y1="62.73" x2="313.10" y2="62.73" stroke="#1a1a1a" stroke-width="0.8"/>
<line x1="309.70" y1="58.76" x2="313.10" y2="58.76" stroke="#1a1a1a" stroke-width="0.8"/>
<line x1="311.30" y1="54.79" x2="313.10" y2="54.79" stroke="#1a1a1a" stroke-width="0.8"/>
<line x1="311.30" y1="50.82" x2="313.10" y2="50.82" stroke="#1a1a1a" stroke-width="0.8"/>
<line x1="311.30" y1="46.85" x2="313.10" y2="46.85" stroke="#1a1a1a" stroke-width="0.8"/>
<line x1="309.70" y1="42.88" x2="313.10" y2="42.88" stroke="#1a1a1a" stroke-width="0.8"/>
<line x1="311.30" y1="38.91" x2="313.10" y2="38.91" stroke="#1a1a1a" stroke-width="0.8"/>
<line x1="311.30" y1="34.94" x2="313.10" y2="34.94" stroke="#1a1a1a" stroke-width="0.8"/>
<line x1="311.30" y1="30.98" x2="313.10" y2="30.98" stroke="#1a1a1a" stroke-width="0.8"/>
<line x1="309.70" y1="27.01" x2="313.10" y2="27.01" stroke="#1a1a1a" stroke-width="0.8"/>
<line x1="313.10" y1="106.40" x2="313.10" y2="109.00" stroke="#1a1a1a" stroke-width="0.7"/>
<line x1="319.36" y1="106.40" x2="319.36" y2="107.90" stroke="#1a1a1a" stroke-width="0.7"/>
<line x1="323.02" y1="106.40" x2="323.02" y2="107.90" stroke="#1a1a1a" stroke-width="0.7"/>
<line x1="325.62" y1="106.40" x2="325.62" y2="107.90" stroke="#1a1a1a" stroke-width="0.7"/>
<line x1="327.64" y1="106.40" x2="327.64" y2="107.90" stroke="#1a1a1a" stroke-width="0.7"/>
<line x1="329.29" y1="106.40" x2="329.29" y2="107.90" stroke="#1a1a1a" stroke-width="0.7"/>
<line x1="330.68" y1="106.40" x2="330.68" y2="107.90" stroke="#1a1a1a" stroke-width="0.7"/>
<line x1="331.88" y1="106.40" x2="331.88" y2="107.90" stroke="#1a1a1a" stroke-width="0.7"/>
<line x1="332.95" y1="106.40" x2="332.95" y2="107.90" stroke="#1a1a1a" stroke-width="0.7"/>
<line x1="333.90" y1="106.40" x2="333.90" y2="109.00" stroke="#1a1a1a" stroke-width="0.7"/>
<line x1="340.16" y1="106.40" x2="340.16" y2="107.90" stroke="#1a1a1a" stroke-width="0.7"/>
<line x1="343.82" y1="106.40" x2="343.82" y2="107.90" stroke="#1a1a1a" stroke-width="0.7"/>
<line x1="346.42" y1="106.40" x2="346.42" y2="107.90" stroke="#1a1a1a" stroke-width="0.7"/>
<line x1="348.44" y1="106.40" x2="348.44" y2="107.90" stroke="#1a1a1a" stroke-width="0.7"/>
<line x1="350.09" y1="106.40" x2="350.09" y2="107.90" stroke="#1a1a1a" stroke-width="0.7"/>
<line x1="351.48" y1="106.40" x2="351.48" y2="107.90" stroke="#1a1a1a" stroke-width="0.7"/>
<line x1="352.68" y1="106.40" x2="352.68" y2="107.90" stroke="#1a1a1a" stroke-width="0.7"/>
<line x1="353.75" y1="106.40" x2="353.75" y2="107.90" stroke="#1a1a1a" stroke-width="0.7"/>
<line x1="354.70" y1="106.40" x2="354.70" y2="109.00" stroke="#1a1a1a" stroke-width="0.7"/>
<line x1="360.96" y1="106.40" x2="360.96" y2="107.90" stroke="#1a1a1a" stroke-width="0.7"/>
<line x1="364.62" y1="106.40" x2="364.62" y2="107.90" stroke="#1a1a1a" stroke-width="0.7"/>
<line x1="367.22" y1="106.40" x2="367.22" y2="107.90" stroke="#1a1a1a" stroke-width="0.7"/>
<line x1="369.24" y1="106.40" x2="369.24" y2="107.90" stroke="#1a1a1a" stroke-width="0.7"/>
<line x1="370.89" y1="106.40" x2="370.89" y2="107.90" stroke="#1a1a1a" stroke-width="0.7"/>
<line x1="372.28" y1="106.40" x2="372.28" y2="107.90" stroke="#1a1a1a" stroke-width="0.7"/>
<line x1="373.48" y1="106.40" x2="373.48" y2="107.90" stroke="#1a1a1a" stroke-width="0.7"/>
<line x1="374.55" y1="106.40" x2="374.55" y2="107.90" stroke="#1a1a1a" stroke-width="0.7"/>
<line x1="375.50" y1="106.40" x2="375.50" y2="109.00" stroke="#1a1a1a" stroke-width="0.7"/>
<line x1="381.76" y1="106.40" x2="381.76" y2="107.90" stroke="#1a1a1a" stroke-width="0.7"/>
<line x1="385.42" y1="106.40" x2="385.42" y2="107.90" stroke="#1a1a1a" stroke-width="0.7"/>
<line x1="388.02" y1="106.40" x2="388.02" y2="107.90" stroke="#1a1a1a" stroke-width="0.7"/>
<line x1="390.04" y1="106.40" x2="390.04" y2="107.90" stroke="#1a1a1a" stroke-width="0.7"/>
<line x1="391.69" y1="106.40" x2="391.69" y2="107.90" stroke="#1a1a1a" stroke-width="0.7"/>
<line x1="393.08" y1="106.40" x2="393.08" y2="107.90" stroke="#1a1a1a" stroke-width="0.7"/>
<line x1="394.28" y1="106.40" x2="394.28" y2="107.90" stroke="#1a1a1a" stroke-width="0.7"/>
<line x1="395.35" y1="106.40" x2="395.35" y2="107.90" stroke="#1a1a1a" stroke-width="0.7"/>
<line x1="396.30" y1="106.40" x2="396.30" y2="109.00" stroke="#1a1a1a" stroke-width="0.7"/>
<text x="308.50" y="109.30" font-size="8.74" stroke="#1a1a1a" stroke-width="0.12" text-anchor="end" textLength="4.34" lengthAdjust="spacingAndGlyphs">0</text>
<text x="308.50" y="93.42" font-size="8.74" stroke="#1a1a1a" stroke-width="0.12" text-anchor="end" textLength="13.01" lengthAdjust="spacingAndGlyphs">200</text>
<text x="308.50" y="77.54" font-size="8.74" stroke="#1a1a1a" stroke-width="0.12" text-anchor="end" textLength="13.01" lengthAdjust="spacingAndGlyphs">400</text>
<text x="308.50" y="61.66" font-size="8.74" stroke="#1a1a1a" stroke-width="0.12" text-anchor="end" textLength="13.01" lengthAdjust="spacingAndGlyphs">600</text>
<text x="308.50" y="45.78" font-size="8.74" stroke="#1a1a1a" stroke-width="0.12" text-anchor="end" textLength="13.01" lengthAdjust="spacingAndGlyphs">800</text>
<text x="308.50" y="29.91" font-size="8.74" stroke="#1a1a1a" stroke-width="0.12" text-anchor="end" textLength="9.54" lengthAdjust="spacingAndGlyphs">1K</text>
<text x="308.70" y="117.80" font-size="8.97" stroke="#1a1a1a" stroke-width="0.12" textLength="8.68" lengthAdjust="spacingAndGlyphs">10</text>
<text x="317.48" y="114.21" font-size="6.46" stroke="#1a1a1a" stroke-width="0.12" textLength="3.12" lengthAdjust="spacingAndGlyphs">0</text>
<text x="329.50" y="117.80" font-size="8.97" stroke="#1a1a1a" stroke-width="0.12" textLength="8.68" lengthAdjust="spacingAndGlyphs">10</text>
<text x="338.28" y="114.21" font-size="6.46" stroke="#1a1a1a" stroke-width="0.12" textLength="3.12" lengthAdjust="spacingAndGlyphs">1</text>
<text x="350.30" y="117.80" font-size="8.97" stroke="#1a1a1a" stroke-width="0.12" textLength="8.68" lengthAdjust="spacingAndGlyphs">10</text>
<text x="359.08" y="114.21" font-size="6.46" stroke="#1a1a1a" stroke-width="0.12" textLength="3.12" lengthAdjust="spacingAndGlyphs">2</text>
<text x="371.10" y="117.80" font-size="8.97" stroke="#1a1a1a" stroke-width="0.12" textLength="8.68" lengthAdjust="spacingAndGlyphs">10</text>
<text x="379.88" y="114.21" font-size="6.46" stroke="#1a1a1a" stroke-width="0.12" textLength="3.12" lengthAdjust="spacingAndGlyphs">3</text>
<text x="391.90" y="117.80" font-size="8.97" stroke="#1a1a1a" stroke-width="0.12" textLength="8.68" lengthAdjust="spacingAndGlyphs">10</text>
<text x="400.68" y="114.21" font-size="6.46" stroke="#1a1a1a" stroke-width="0.12" textLength="3.12" lengthAdjust="spacingAndGlyphs">4</text>
<text x="354.70" y="129.20" font-size="8.86" stroke="#1a1a1a" stroke-width="0.12" text-anchor="middle" textLength="18.30" lengthAdjust="spacingAndGlyphs">CD15</text>
<text x="291.60" y="65.60" font-size="9.07" stroke="#1a1a1a" stroke-width="0.12" text-anchor="middle" textLength="20.50" lengthAdjust="spacingAndGlyphs" transform="rotate(-90 291.60 65.60)">SSC-H</text>
<path d="M477.2 57.9h.1M478.4 52.9h.1M479.7 55.3h.1M464.0 62.5h.1M482.9 48.4h.1M481.9 56.0h.1M479.9 54.4h.1M477.6 52.0h.1M479.2 50.6h.1M478.9 47.8h.1M473.0 54.0h.1M479.5 50.1h.1M480.1 51.3h.1M478.8 49.9h.1M473.2 56.3h.1M478.5 51.2h.1M471.1 50.3h.1M480.2 48.8h.1M484.0 45.4h.1M481.5 45.6h.1M477.3 51.2h.1M478.1 54.7h.1M475.1 49.6h.1M478.0 45.0h.1M476.0 52.3h.1M481.0 60.0h.1M466.9 55.9h.1M475.7 53.9h.1M475.1 52.0h.1M478.0 54.6h.1M486.9 51.6h.1M472.8 54.1h.1M474.8 57.4h.1M480.5 46.7h.1M475.0 54.1h.1M476.7 48.2h.1M480.3 51.1h.1M478.5 49.4h.1M476.0 53.6h.1M481.9 45.8h.1M486.5 47.8h.1M474.8 53.9h.1M477.2 50.3h.1M482.4 46.6h.1M476.6 48.5h.1M474.1 52.6h.1M477.9 53.2h.1M482.9 48.6h.1M474.9 54.0h.1M482.2 53.6h.1M480.6 49.2h.1M476.7 53.4h.1M483.0 51.7h.1M483.0 50.7h.1M484.4 49.5h.1M483.7 48.9h.1M475.1 59.7h.1M483.3 48.6h.1M481.4 48.6h.1M484.6 50.1h.1M477.7 57.4h.1M485.4 52.4h.1M481.0 50.2h.1M475.1 56.1h.1M485.8 49.1h.1M475.8 53.2h.1M475.5 55.3h.1M482.0 51.6h.1M476.7 52.9h.1M483.4 54.5h.1M477.6 50.7h.1M482.5 53.9h.1M486.0 54.3h.1M482.1 56.5h.1M483.6 49.5h.1M482.9 48.4h.1M473.2 49.1h.1M483.1 48.7h.1M485.6 55.7h.1M477.7 46.7h.1M482.2 44.3h.1M488.0 49.0h.1M483.6 50.7h.1M470.0 50.1h.1M481.2 49.8h.1M479.2 52.2h.1M475.9 47.9h.1M482.2 52.6h.1M475.9 48.5h.1M488.4 49.8h.1M480.8 50.9h.1M478.4 49.2h.1M480.6 45.0h.1M482.5 48.1h.1M484.6 47.8h.1M482.0 49.1h.1M478.3 49.6h.1M479.6 50.1h.1M470.6 58.7h.1M471.3 52.4h.1M483.8 47.9h.1M478.5 53.0h.1M487.6 46.4h.1M488.8 48.7h.1M475.8 58.2h.1M480.2 49.3h.1M492.8 44.2h.1M471.6 45.5h.1M480.6 49.1h.1M479.2 53.3h.1M476.6 48.8h.1M479.9 55.1h.1M476.6 46.3h.1M484.7 52.5h.1M474.9 51.7h.1M480.2 47.1h.1M475.4 51.6h.1M481.3 49.0h.1M479.3 47.6h.1M473.8 49.5h.1M479.2 49.3h.1M477.3 55.3h.1M476.0 54.2h.1M486.6 51.5h.1M470.1 54.1h.1M481.4 48.7h.1M482.1 48.4h.1M476.8 52.9h.1M484.9 49.4h.1M485.9 53.2h.1M474.4 56.1h.1M481.9 50.1h.1M483.4 53.3h.1M474.8 50.9h.1M480.1 46.2h.1M483.7 50.8h.1M476.2 53.3h.1M470.3 56.4h.1M482.5 52.3h.1M475.4 52.0h.1M471.3 55.1h.1M478.1 52.9h.1M469.3 58.7h.1M479.1 54.4h.1M486.3 47.5h.1M466.6 58.9h.1M478.0 43.7h.1M476.8 56.5h.1M475.2 48.0h.1M475.1 53.2h.1M485.8 55.8h.1M478.8 50.2h.1M473.5 48.9h.1M475.6 58.4h.1M476.6 50.7h.1M484.4 47.6h.1M473.5 53.7h.1M482.2 51.8h.1M481.9 52.1h.1M469.9 55.8h.1M485.9 51.0h.1M477.8 48.8h.1M490.5 47.0h.1M486.4 45.0h.1M479.1 53.4h.1M477.6 49.7h.1M474.1 52.4h.1M475.1 58.2h.1M481.4 46.1h.1M476.5 48.6h.1M478.3 53.5h.1M478.1 50.7h.1M481.8 48.1h.1M483.4 48.2h.1M482.3 56.4h.1M476.9 48.8h.1M479.4 50.0h.1M489.1 46.1h.1M468.4 53.9h.1M473.9 53.8h.1M482.2 51.0h.1M478.7 48.3h.1M486.5 50.7h.1M483.7 44.7h.1M488.2 45.5h.1M476.1 53.9h.1M486.6 57.5h.1M475.7 47.1h.1M484.2 49.2h.1M483.7 56.9h.1M482.6 47.2h.1M477.4 55.6h.1M480.4 51.1h.1M474.9 48.6h.1M478.7 52.6h.1M476.0 49.9h.1M474.7 53.8h.1M482.4 44.3h.1M481.7 52.0h.1M481.0 42.0h.1M474.5 53.1h.1M472.1 59.2h.1M477.0 53.9h.1M478.1 50.4h.1M482.6 48.3h.1M483.6 47.2h.1M488.8 54.7h.1M486.4 46.9h.1M482.7 49.0h.1M478.8 48.8h.1M475.1 51.7h.1M483.4 50.7h.1M476.1 50.7h.1M474.5 51.0h.1M481.3 48.0h.1M479.8 49.5h.1M483.5 49.2h.1M475.3 51.5h.1M484.5 47.4h.1M479.9 48.1h.1M480.3 54.5h.1M475.9 53.1h.1M473.9 52.9h.1M473.4 55.2h.1M485.7 47.2h.1M470.5 50.6h.1M482.0 48.9h.1M480.5 55.8h.1M477.4 53.7h.1M478.8 55.1h.1M477.9 49.5h.1M481.4 44.8h.1M481.0 47.7h.1M481.2 54.4h.1M471.6 51.9h.1M469.9 53.5h.1M489.5 48.9h.1M474.3 52.9h.1M471.8 54.5h.1M485.1 49.0h.1M472.5 55.0h.1M482.3 48.3h.1M484.0 49.2h.1M479.5 48.5h.1M483.7 48.3h.1M473.8 56.2h.1M472.2 51.4h.1M478.1 50.9h.1M477.7 48.0h.1M480.0 53.0h.1M482.3 51.3h.1M477.2 55.2h.1M470.9 59.0h.1M482.6 52.5h.1M479.3 53.3h.1M482.0 46.9h.1M490.3 48.0h.1M478.4 48.4h.1M485.3 55.4h.1M475.6 54.0h.1M484.4 50.1h.1M479.1 46.9h.1M482.0 53.0h.1M485.2 51.6h.1M471.9 49.9h.1M481.1 48.1h.1M480.8 48.6h.1M485.8 45.2h.1M472.9 59.1h.1M481.9 56.7h.1M488.0 42.6h.1M478.9 54.7h.1M476.9 51.4h.1M489.5 49.8h.1M487.5 38.3h.1M479.2 49.5h.1M477.7 55.9h.1M475.5 50.5h.1M479.1 55.0h.1M474.7 51.8h.1M477.1 55.9h.1M480.9 52.0h.1M478.9 49.8h.1M480.4 47.8h.1M479.2 50.4h.1M475.3 57.0h.1M482.7 49.0h.1M479.5 48.6h.1M481.3 60.9h.1M475.8 47.6h.1M480.5 49.5h.1M480.4 52.1h.1M477.2 48.6h.1M482.8 48.9h.1M483.6 47.1h.1M475.7 48.0h.1M479.8 52.1h.1M472.5 50.9h.1M477.4 49.5h.1M483.2 52.8h.1M481.7 45.9h.1M480.9 52.0h.1M480.5 54.2h.1M477.4 55.3h.1M480.9 51.6h.1M473.9 53.1h.1M477.9 47.0h.1M479.6 51.3h.1M475.7 54.4h.1M480.1 48.8h.1M476.9 49.0h.1M483.3 51.6h.1M475.6 49.5h.1M482.1 50.8h.1M485.8 45.7h.1M477.7 46.2h.1M485.2 53.0h.1M477.2 54.1h.1M478.4 53.2h.1M468.5 52.2h.1M478.4 51.0h.1M474.4 54.5h.1M478.7 48.7h.1M472.0 60.4h.1M472.4 48.0h.1M480.6 52.5h.1M478.4 45.1h.1M469.4 51.2h.1M475.5 48.7h.1M491.9 45.8h.1M481.9 47.1h.1M479.0 48.8h.1M465.2 55.7h.1M472.9 49.5h.1M480.4 47.3h.1M478.9 47.8h.1M480.9 48.9h.1M483.1 47.4h.1M476.3 44.5h.1M482.2 47.0h.1M472.6 58.5h.1M490.1 43.2h.1M477.7 51.4h.1M475.2 50.6h.1M485.2 45.2h.1M481.9 49.1h.1M481.8 44.9h.1M476.1 52.0h.1M478.1 45.8h.1M482.9 49.8h.1M471.7 49.7h.1M479.1 53.0h.1M479.5 54.0h.1M475.5 47.4h.1M476.9 54.3h.1M472.7 52.9h.1M482.8 52.6h.1M479.5 48.8h.1M484.1 47.1h.1M478.4 50.2h.1M477.8 55.6h.1M469.7 49.5h.1M480.6 52.5h.1M477.8 51.8h.1M487.7 44.3h.1M489.4 44.2h.1M487.7 49.1h.1M476.1 55.1h.1M475.0 58.6h.1M477.1 49.7h.1M472.3 48.2h.1M484.9 45.7h.1M479.4 49.9h.1M476.6 50.6h.1M480.8 53.9h.1M488.1 53.3h.1M475.3 54.1h.1M478.8 44.9h.1M474.4 56.7h.1M477.2 49.6h.1M476.1 52.5h.1M481.7 52.0h.1M480.3 51.2h.1M484.5 47.5h.1M482.7 49.7h.1M477.4 54.2h.1M473.9 55.7h.1M478.2 58.1h.1M472.9 44.2h.1M476.9 49.3h.1M474.8 51.2h.1M485.2 50.0h.1M483.7 48.9h.1M479.0 53.6h.1M474.8 48.4h.1M477.7 50.8h.1M479.8 52.5h.1M478.9 50.6h.1M471.0 53.8h.1M477.5 52.5h.1M472.7 59.7h.1M476.3 45.3h.1M484.4 53.0h.1M474.6 54.1h.1M478.6 48.1h.1M477.2 54.0h.1M475.9 52.6h.1M489.9 48.7h.1M482.1 46.4h.1M482.7 51.9h.1M475.8 49.5h.1M481.4 50.5h.1M479.2 53.0h.1M481.1 49.3h.1M475.8 54.6h.1M477.9 49.4h.1M478.7 54.4h.1M471.8 53.1h.1M485.9 44.6h.1M482.7 48.3h.1M475.3 52.6h.1M471.1 52.4h.1M476.8 54.6h.1M475.0 52.5h.1M477.1 53.8h.1M470.0 50.8h.1M473.4 49.5h.1M479.0 49.9h.1M479.6 47.1h.1M469.7 55.5h.1M479.8 52.1h.1M476.1 56.1h.1M476.3 57.1h.1M478.7 53.5h.1M474.9 50.7h.1M483.1 50.3h.1M481.6 47.6h.1M478.4 52.9h.1M474.6 49.7h.1M489.3 49.5h.1M488.3 47.0h.1M480.5 49.0h.1M476.4 47.7h.1M484.1 48.8h.1M485.1 45.7h.1M477.0 52.7h.1M486.4 44.3h.1M477.6 49.8h.1M485.0 49.5h.1M478.8 55.8h.1M477.6 47.3h.1M476.7 51.4h.1M479.7 51.7h.1M483.6 47.7h.1M474.3 51.9h.1M480.7 57.0h.1M480.4 47.2h.1M477.4 52.8h.1M487.8 44.2h.1M472.1 54.3h.1M487.7 38.4h.1M477.3 54.7h.1M483.3 47.7h.1M485.2 44.1h.1M483.9 53.6h.1M472.1 53.7h.1M476.7 50.0h.1M478.2 48.4h.1M483.2 52.0h.1M483.7 48.3h.1M483.9 47.0h.1M484.1 43.6h.1M473.4 50.9h.1M484.2 49.0h.1M470.9 55.2h.1M476.9 45.2h.1M472.8 51.3h.1M471.1 55.9h.1M487.1 55.2h.1M477.9 48.9h.1M480.6 42.5h.1M472.7 56.8h.1M472.7 52.7h.1M476.7 47.6h.1M476.7 53.9h.1M479.1 50.0h.1M474.8 49.9h.1M475.6 48.3h.1M473.5 53.4h.1M485.2 47.6h.1M475.1 47.1h.1M474.9 56.3h.1M480.5 45.8h.1M483.3 53.0h.1M480.5 51.0h.1M479.8 49.7h.1M477.7 52.6h.1M477.6 49.6h.1M468.6 56.3h.1M474.1 59.0h.1M472.5 52.5h.1M481.6 52.1h.1M483.5 45.3h.1M478.3 51.1h.1M479.2 53.9h.1M482.7 44.8h.1M477.8 52.5h.1M479.1 43.6h.1M479.5 46.7h.1M472.3 53.1h.1M481.8 52.2h.1M481.0 52.0h.1M472.4 51.4h.1M474.0 53.1h.1M473.4 54.5h.1M483.3 43.2h.1M489.6 46.3h.1M484.3 52.3h.1M488.2 49.8h.1M471.9 52.7h.1M485.1 46.0h.1M487.0 43.2h.1M486.0 45.3h.1M474.3 52.6h.1M485.1 49.6h.1M478.6 51.2h.1M482.8 45.6h.1M477.2 54.5h.1M480.4 52.9h.1M475.5 50.7h.1M481.0 48.9h.1M478.4 50.7h.1M482.0 43.7h.1M483.1 48.9h.1M482.0 51.4h.1M481.6 55.8h.1M477.9 52.0h.1M478.7 50.0h.1M482.4 48.4h.1M480.5 52.0h.1M481.6 52.0h.1M477.7 48.7h.1M479.0 51.4h.1M476.9 54.1h.1M467.4 50.5h.1M483.7 52.7h.1M481.4 48.7h.1M475.7 55.5h.1M488.0 45.6h.1M473.2 53.2h.1M483.7 48.0h.1M480.7 50.8h.1M481.8 52.1h.1M484.1 47.1h.1M481.8 45.5h.1M478.2 48.9h.1M472.7 51.0h.1M474.4 55.9h.1M478.6 47.8h.1M488.7 50.5h.1M483.4 48.8h.1M478.8 50.6h.1M482.5 53.2h.1M481.8 48.0h.1M486.8 45.5h.1M476.6 54.7h.1M483.5 50.7h.1M479.0 47.5h.1M479.0 59.0h.1M475.1 54.9h.1M483.3 44.3h.1M480.4 49.5h.1M479.4 53.7h.1M479.9 51.1h.1M484.9 50.4h.1M482.9 56.5h.1M488.0 48.9h.1M480.7 56.5h.1M476.4 54.5h.1M477.6 49.4h.1M476.8 57.1h.1M476.5 49.9h.1M486.2 50.0h.1M488.1 48.0h.1M480.9 47.0h.1M479.1 48.5h.1M474.6 52.7h.1M475.0 54.4h.1M482.7 53.2h.1M480.0 50.6h.1M479.1 57.2h.1M478.3 54.2h.1M485.6 45.1h.1M482.9 46.7h.1M479.5 50.9h.1M479.5 48.9h.1M485.0 47.3h.1M481.9 51.9h.1M480.6 50.9h.1M473.1 57.4h.1M470.2 53.5h.1M468.9 53.7h.1M466.6 53.2h.1M476.6 46.4h.1M480.1 48.9h.1M475.2 53.3h.1M481.0 49.2h.1M481.3 49.7h.1M481.7 56.3h.1M470.7 52.0h.1M485.6 46.4h.1M485.0 46.1h.1M475.2 50.1h.1M490.2 49.3h.1M479.3 50.7h.1M477.2 56.1h.1M475.7 49.1h.1M473.1 60.5h.1M480.7 57.6h.1M470.4 52.9h.1M484.5 47.9h.1M480.5 49.7h.1M473.4 56.0h.1M480.1 46.1h.1M471.7 56.6h.1M480.9 52.4h.1M480.6 48.1h.1M476.3 45.0h.1M472.9 52.1h.1M478.1 50.2h.1M479.4 53.3h.1M478.6 49.2h.1M484.6 44.1h.1M488.0 48.1h.1M487.2 47.7h.1M477.2 54.4h.1M475.7 53.0h.1M480.8 53.6h.1M482.0 51.1h.1M467.0 51.8h.1M476.6 53.0h.1M488.7 48.2h.1M473.4 54.3h.1M477.8 56.6h.1M475.2 51.6h.1M482.5 51.4h.1M477.2 48.0h.1M477.7 51.8h.1M471.2 53.5h.1M480.7 46.8h.1M477.4 47.6h.1M476.4 53.3h.1M479.9 52.0h.1M482.0 47.3h.1M470.5 51.7h.1M470.6 52.8h.1M475.4 55.6h.1M473.4 50.2h.1M466.4 61.8h.1M474.0 48.3h.1M484.8 48.7h.1M478.6 53.5h.1M485.7 51.4h.1M465.0 57.4h.1M477.6 49.3h.1M483.7 43.7h.1M487.9 49.1h.1M476.6 51.9h.1M474.6 52.0h.1M480.4 48.9h.1M473.8 54.8h.1M477.5 52.0h.1M472.9 58.3h.1M476.5 45.3h.1M480.4 53.1h.1M486.1 45.3h.1M480.8 49.8h.1M475.6 51.9h.1M478.6 51.0h.1M474.2 56.3h.1M479.7 51.4h.1M476.1 47.9h.1M481.1 49.7h.1M483.5 48.3h.1M470.2 57.2h.1M480.8 50.2h.1M482.6 48.8h.1M475.0 56.7h.1M486.6 43.2h.1M478.8 58.4h.1M490.1 43.1h.1M481.4 46.3h.1M484.9 50.4h.1M482.0 53.0h.1M485.7 51.5h.1M476.3 57.4h.1M476.0 54.3h.1M470.0 56.3h.1M482.3 50.5h.1M475.8 52.8h.1M482.0 47.6h.1M484.3 53.5h.1M475.4 59.1h.1M482.5 49.2h.1M480.1 49.7h.1M479.5 49.2h.1M479.0 45.5h.1M478.1 49.3h.1M478.5 49.7h.1M484.2 48.2h.1M473.1 51.1h.1M470.8 49.3h.1M476.5 54.7h.1M486.5 52.7h.1M474.7 46.4h.1M488.1 45.6h.1M465.8 61.3h.1M474.2 49.9h.1M475.1 48.5h.1M480.5 50.4h.1M485.2 46.9h.1M477.4 49.9h.1M476.7 57.8h.1M485.3 52.6h.1M487.5 48.6h.1M467.0 57.6h.1M481.5 48.7h.1M481.9 52.5h.1M474.9 52.6h.1M479.1 56.1h.1M482.3 53.4h.1M478.5 49.4h.1M479.1 53.6h.1M475.9 58.1h.1M481.5 52.0h.1M474.8 50.4h.1M479.3 50.1h.1M476.0 51.7h.1M480.3 50.8h.1M482.8 49.2h.1M479.9 49.6h.1M483.6 51.5h.1M474.6 58.2h.1M480.6 48.4h.1M478.5 46.6h.1M476.8 53.7h.1M478.5 51.5h.1M466.6 59.5h.1M478.7 49.2h.1M477.7 52.9h.1M467.2 54.8h.1M483.2 52.6h.1M478.6 57.1h.1M479.3 48.0h.1M474.5 45.2h.1M480.9 48.6h.1M478.9 49.6h.1M478.2 52.4h.1M481.6 49.9h.1M483.9 50.2h.1M472.4 64.0h.1M478.6 49.7h.1M475.9 51.8h.1M474.6 55.2h.1M482.8 43.1h.1M484.9 50.7h.1M473.5 52.3h.1M472.0 50.5h.1M482.0 46.9h.1M477.0 54.1h.1M478.9 54.2h.1M471.7 59.5h.1M479.3 52.7h.1M483.6 46.4h.1M477.9 53.8h.1M478.6 51.3h.1M490.8 52.6h.1M480.5 43.7h.1M488.3 51.6h.1M483.3 51.5h.1M485.5 49.1h.1M471.3 55.4h.1M474.6 52.0h.1M470.1 53.1h.1M487.6 41.5h.1M483.0 55.9h.1M480.0 54.0h.1M476.7 54.9h.1M475.0 54.8h.1M463.3 53.7h.1M489.5 44.7h.1M479.1 51.8h.1M481.2 54.0h.1M471.2 52.4h.1M479.4 52.1h.1M480.8 49.7h.1M479.0 51.6h.1M481.1 47.7h.1M475.8 54.4h.1M481.0 50.6h.1M480.9 44.2h.1M483.7 52.9h.1M484.2 55.9h.1M477.6 49.3h.1M476.3 56.8h.1M480.5 47.4h.1M476.7 51.0h.1M477.3 58.2h.1M483.2 49.8h.1M473.8 59.4h.1M477.1 53.5h.1M484.4 51.8h.1M483.6 48.4h.1M479.6 55.9h.1M482.1 55.7h.1M482.8 51.6h.1M478.2 50.1h.1M475.2 52.4h.1M480.1 47.8h.1M481.0 52.4h.1M480.6 52.4h.1M483.6 46.6h.1M482.1 52.9h.1M476.4 51.1h.1M482.7 55.5h.1M489.7 48.4h.1M478.2 57.3h.1M477.1 50.2h.1M474.2 50.9h.1M478.4 45.8h.1M474.3 56.3h.1M479.9 47.3h.1M484.8 52.8h.1M475.9 53.8h.1M476.4 55.5h.1M470.5 52.0h.1M478.7 49.7h.1M474.3 54.8h.1M477.4 54.9h.1M475.6 49.2h.1M476.6 54.0h.1M482.1 47.1h.1M488.0 49.2h.1M469.0 56.4h.1M475.1 52.7h.1M481.2 51.8h.1M476.0 57.1h.1M476.5 52.2h.1M482.1 53.9h.1M484.5 45.2h.1M485.3 49.0h.1M476.4 49.3h.1M480.3 51.6h.1M476.4 50.0h.1M478.6 51.9h.1M474.7 56.0h.1M469.6 53.6h.1M475.2 47.9h.1M483.7 48.4h.1M483.7 50.7h.1M470.9 56.8h.1M477.2 49.6h.1M477.6 55.1h.1M480.3 49.9h.1M475.3 56.2h.1M482.4 46.7h.1M479.0 53.0h.1M483.7 52.8h.1M482.6 47.4h.1M469.8 55.7h.1M479.2 53.5h.1M487.2 48.7h.1M480.0 52.2h.1M484.1 48.3h.1M479.2 46.3h.1M477.0 52.6h.1M478.9 47.3h.1M484.4 48.8h.1M482.2 42.1h.1M488.2 51.2h.1M476.8 59.0h.1M483.9 50.3h.1M471.7 52.8h.1M478.3 50.9h.1M479.6 54.1h.1M483.2 51.3h.1M479.9 48.7h.1M486.9 51.1h.1M477.5 54.8h.1M484.1 50.5h.1M480.7 49.4h.1M479.4 51.3h.1M472.7 52.7h.1M482.3 50.3h.1M479.9 48.8h.1M484.7 52.2h.1M479.2 51.5h.1M478.4 52.5h.1M481.7 51.1h.1M482.0 50.9h.1M480.6 45.9h.1M490.1 49.6h.1M476.6 53.2h.1M488.0 44.7h.1M464.0 56.6h.1M482.9 47.1h.1M474.6 51.9h.1M488.8 46.1h.1M474.0 51.5h.1M484.5 48.8h.1M474.9 54.3h.1M473.0 52.5h.1M486.2 54.8h.1M483.3 48.7h.1M476.5 54.0h.1M490.8 45.3h.1M477.6 51.7h.1M487.6 48.9h.1M476.5 57.4h.1M474.7 53.6h.1M478.6 48.9h.1M475.3 55.3h.1M478.5 44.7h.1M469.4 57.3h.1M479.9 50.3h.1M477.1 53.6h.1M472.7 50.0h.1M479.7 49.6h.1M476.9 49.3h.1M476.5 51.1h.1M484.0 50.6h.1M480.4 50.0h.1M480.3 48.8h.1M487.2 50.7h.1M479.0 51.5h.1M480.4 44.0h.1M475.9 49.7h.1M482.7 50.7h.1M482.4 50.9h.1M477.0 53.2h.1M472.5 55.8h.1M472.0 52.3h.1M474.7 53.4h.1M480.3 46.8h.1M477.5 49.4h.1M476.6 49.7h.1M480.4 47.8h.1M482.2 48.4h.1M485.5 47.0h.1M475.4 50.7h.1M483.3 52.4h.1M482.0 48.2h.1M476.9 57.5h.1M481.2 53.3h.1M473.3 50.5h.1M479.4 53.9h.1M479.3 46.5h.1M473.3 59.2h.1M475.6 54.2h.1M474.1 50.7h.1M476.6 45.4h.1M475.2 52.0h.1M479.1 46.7h.1M476.7 56.0h.1M475.1 49.3h.1M481.7 48.9h.1M481.4 51.4h.1M479.9 50.7h.1M479.4 51.8h.1M483.6 47.8h.1M486.7 49.3h.1M476.2 49.7h.1M476.6 54.3h.1M472.6 50.7h.1M487.6 46.9h.1M473.4 50.5h.1M472.7 54.0h.1M481.3 51.8h.1M485.8 51.4h.1M470.9 49.7h.1M477.5 49.4h.1M471.1 52.3h.1M477.6 55.8h.1M485.6 44.6h.1M480.9 52.3h.1M477.2 50.4h.1M477.5 47.2h.1M480.7 50.5h.1M477.1 48.4h.1M474.6 55.9h.1M474.8 56.1h.1M490.5 49.1h.1M474.2 50.4h.1M487.0 51.8h.1M477.1 55.3h.1M482.8 43.1h.1M485.5 54.7h.1M480.5 55.7h.1M487.2 43.2h.1M475.2 54.2h.1M476.2 48.2h.1M475.0 52.9h.1M475.8 53.5h.1M478.3 53.5h.1M473.5 51.4h.1M477.6 51.8h.1M485.3 44.5h.1M471.5 56.5h.1M474.2 55.9h.1M474.8 53.6h.1M478.6 55.1h.1M485.0 50.2h.1M483.1 50.0h.1M483.0 52.6h.1M478.4 47.3h.1M490.4 44.7h.1M471.4 49.5h.1M473.7 53.9h.1M478.4 49.9h.1M481.3 52.5h.1M477.4 50.5h.1M474.3 51.6h.1M472.9 54.1h.1M477.7 51.4h.1M476.6 54.1h.1M475.7 50.0h.1M472.0 50.0h.1M483.3 43.5h.1M482.9 52.7h.1M486.1 43.0h.1M476.1 51.2h.1M477.9 48.0h.1M479.2 53.8h.1M478.5 49.5h.1M479.7 54.7h.1M477.4 49.6h.1M470.3 56.8h.1M479.0 53.6h.1M483.8 51.6h.1M468.4 53.1h.1M477.0 51.0h.1M481.8 49.3h.1M482.6 43.1h.1M479.8 53.0h.1M481.9 50.8h.1M488.1 47.7h.1M483.3 44.1h.1M477.3 52.6h.1M477.0 53.6h.1M485.4 50.9h.1M479.5 49.1h.1M477.6 54.1h.1M480.8 56.5h.1M480.1 49.1h.1M477.7 50.5h.1M477.5 50.8h.1M476.0 47.9h.1M471.7 54.0h.1M489.6 50.6h.1M483.6 45.5h.1M486.0 46.6h.1M480.2 54.3h.1M480.6 52.1h.1M482.2 50.1h.1M482.6 48.0h.1M470.5 55.5h.1M480.9 50.1h.1M475.5 55.3h.1M479.0 51.4h.1M477.4 55.1h.1M484.6 41.9h.1M482.9 51.7h.1M478.3 49.7h.1M485.7 47.4h.1M478.3 50.1h.1M476.7 54.5h.1M478.2 51.2h.1M478.4 53.5h.1M478.3 48.9h.1M483.4 49.3h.1M480.3 54.4h.1M480.4 54.0h.1M483.5 47.5h.1M480.7 50.6h.1M483.1 47.6h.1M479.7 50.4h.1M473.1 54.4h.1M475.6 57.0h.1M472.2 56.8h.1M486.6 51.7h.1M483.3 53.8h.1M475.2 49.1h.1M475.0 54.4h.1M480.3 49.0h.1M476.3 47.3h.1M479.2 47.5h.1M474.6 51.9h.1M476.3 58.1h.1M486.7 47.1h.1M474.5 53.0h.1M479.1 51.0h.1M484.4 45.7h.1M470.9 56.2h.1M482.4 49.0h.1M477.3 46.8h.1M477.8 50.1h.1M485.1 58.7h.1M474.5 55.7h.1M468.7 56.5h.1M489.0 47.8h.1M476.5 49.3h.1M483.5 48.9h.1M485.6 50.3h.1M478.3 46.3h.1M480.3 48.0h.1M482.0 48.2h.1M486.2 46.2h.1M480.8 48.5h.1M485.5 48.4h.1M479.3 54.3h.1M477.7 53.0h.1M481.0 53.3h.1M482.5 52.6h.1M480.9 48.1h.1M488.7 46.6h.1M482.6 47.9h.1M480.4 52.5h.1M488.0 45.0h.1M480.5 49.7h.1M483.2 54.3h.1M481.3 49.3h.1M475.5 48.0h.1M474.3 54.1h.1M480.2 51.4h.1M477.1 50.6h.1M475.3 53.4h.1M481.2 53.2h.1M477.6 50.2h.1M476.2 52.1h.1M469.9 53.9h.1M478.9 52.3h.1M487.3 46.2h.1M482.1 46.4h.1M484.1 47.8h.1M481.6 55.6h.1M481.8 44.1h.1M474.2 49.3h.1M477.6 53.0h.1M479.7 46.2h.1M475.2 59.6h.1M477.4 47.2h.1M478.8 47.0h.1M486.4 45.4h.1M477.4 55.5h.1M482.3 51.9h.1M477.0 54.1h.1M477.1 53.2h.1M468.4 61.2h.1M472.3 49.0h.1M485.0 48.7h.1M483.6 53.2h.1M478.5 48.0h.1M491.2 45.4h.1M483.4 52.7h.1M475.2 57.3h.1M478.1 51.2h.1M481.5 55.8h.1M487.4 48.1h.1M476.5 56.0h.1M479.7 47.3h.1M482.8 46.6h.1M474.4 51.2h.1M482.1 55.2h.1M466.7 50.5h.1M477.2 46.2h.1M470.0 58.7h.1M477.6 52.4h.1M483.2 39.2h.1M480.6 49.0h.1M479.1 50.1h.1M481.6 53.6h.1M486.7 40.7h.1M481.1 48.3h.1M485.6 51.0h.1M478.3 54.0h.1M476.0 49.9h.1M474.0 53.0h.1M476.4 47.8h.1M477.9 56.2h.1M483.3 47.4h.1M484.0 52.5h.1M479.8 53.3h.1M475.5 50.2h.1M465.5 58.2h.1M477.4 54.2h.1M481.3 51.3h.1M484.4 53.1h.1M466.4 61.8h.1M468.5 58.1h.1M480.9 52.3h.1M473.5 52.0h.1M477.4 50.1h.1M477.9 53.8h.1M482.5 50.4h.1M469.1 53.1h.1M476.5 52.3h.1M482.6 46.6h.1M479.5 49.1h.1M477.2 56.4h.1M480.1 47.5h.1M479.7 48.7h.1M475.9 54.7h.1M482.6 49.4h.1M482.6 49.7h.1M476.7 47.8h.1M483.6 48.6h.1M473.3 53.2h.1M481.7 47.1h.1M477.6 50.2h.1M474.5 52.8h.1M477.6 54.7h.1M487.3 52.7h.1M476.8 52.8h.1M479.7 55.6h.1M476.4 53.0h.1M473.6 49.5h.1M483.8 48.7h.1M491.4 48.5h.1M487.4 51.0h.1M480.4 47.6h.1M485.8 54.6h.1M476.7 50.2h.1M476.0 50.6h.1M473.1 52.8h.1M488.0 50.9h.1M478.2 52.9h.1M477.2 55.2h.1M473.3 47.3h.1M480.1 50.5h.1M476.6 52.2h.1M480.3 52.7h.1M479.4 49.5h.1M487.2 50.5h.1M472.6 52.6h.1M478.8 46.9h.1M473.8 48.9h.1M479.0 55.3h.1M487.9 48.8h.1M481.1 47.5h.1M479.0 54.8h.1M481.4 49.4h.1M479.0 50.8h.1M482.5 44.6h.1M476.3 51.0h.1M481.7 50.1h.1M478.6 52.1h.1M478.6 49.7h.1M479.9 53.9h.1M478.4 56.2h.1M478.7 48.8h.1M484.4 49.5h.1M474.4 48.9h.1M478.1 53.1h.1M479.7 47.8h.1M475.6 52.7h.1M483.6 49.3h.1M482.3 48.7h.1M470.0 59.6h.1M475.2 50.9h.1M473.6 52.7h.1M483.6 49.8h.1M483.6 48.6h.1M474.1 54.8h.1M475.8 52.4h.1M477.8 49.3h.1M478.5 53.7h.1M482.8 49.4h.1M485.1 50.8h.1M483.9 52.8h.1M483.9 47.4h.1M482.7 46.9h.1M478.4 50.2h.1M476.4 50.6h.1M473.2 48.1h.1M485.4 53.0h.1M484.0 49.8h.1M487.2 54.2h.1M477.0 50.6h.1M478.3 53.6h.1M480.9 51.1h.1M485.1 47.7h.1M482.3 52.6h.1M480.4 50.5h.1M475.4 53.1h.1M481.6 50.4h.1M478.8 44.3h.1M473.9 51.8h.1M486.5 44.8h.1M477.3 57.5h.1M484.5 50.1h.1M479.5 53.6h.1M480.9 52.2h.1M475.4 52.7h.1M479.0 56.6h.1M482.3 48.8h.1M476.5 48.2h.1M478.6 53.5h.1M485.1 51.7h.1M482.8 49.5h.1M480.6 51.6h.1M481.7 52.9h.1M489.4 50.4h.1M479.4 53.0h.1M483.4 54.2h.1M481.7 50.7h.1M475.7 59.8h.1M468.5 52.7h.1M481.2 53.1h.1M483.8 49.6h.1M480.5 50.9h.1M475.1 49.4h.1M477.8 55.4h.1M482.9 48.5h.1M476.6 49.5h.1M471.0 53.7h.1M482.2 48.8h.1M480.6 50.8h.1M479.9 47.9h.1M482.9 46.2h.1M486.1 48.7h.1M481.9 49.5h.1M481.2 56.4h.1M468.9 55.5h.1M481.7 52.2h.1M481.0 55.8h.1M485.2 47.2h.1M486.6 50.2h.1M482.0 50.6h.1M485.8 47.7h.1M481.2 55.2h.1M477.8 48.8h.1M474.6 51.8h.1M475.5 47.6h.1M480.2 50.3h.1M485.6 50.8h.1M475.6 52.4h.1M484.2 51.1h.1M489.2 43.2h.1M474.6 57.4h.1M478.0 51.5h.1M478.8 49.9h.1M486.2 52.5h.1M488.6 46.0h.1M485.9 49.3h.1M479.3 51.5h.1M476.3 55.0h.1M479.3 51.6h.1M477.5 48.3h.1M480.9 51.2h.1M475.8 54.6h.1M487.0 48.1h.1M475.7 52.4h.1M485.0 53.8h.1M479.4 48.8h.1M474.4 54.2h.1M479.9 51.5h.1M478.0 48.4h.1M476.9 48.7h.1M484.0 50.7h.1M478.0 54.0h.1M491.4 44.9h.1M482.4 44.3h.1M474.7 52.8h.1M468.1 58.1h.1M486.0 49.4h.1M482.1 53.4h.1M480.3 52.0h.1M476.1 56.0h.1M474.9 58.9h.1M467.5 50.2h.1M492.6 46.9h.1M486.2 45.9h.1M477.4 53.7h.1M488.4 46.8h.1M469.3 53.4h.1M481.4 47.1h.1M483.2 50.4h.1M475.1 52.9h.1M478.2 54.1h.1M473.9 52.9h.1M482.4 56.2h.1M485.1 47.1h.1M486.8 53.6h.1M480.2 48.2h.1M485.3 49.6h.1M472.5 58.5h.1M487.0 42.7h.1M477.8 48.9h.1M473.7 55.5h.1M479.1 54.9h.1M478.1 56.1h.1M480.5 52.2h.1M482.2 52.9h.1M466.8 54.4h.1M484.6 46.8h.1M489.3 50.1h.1M473.7 52.5h.1M485.9 46.7h.1M482.9 43.6h.1M483.8 48.0h.1M484.8 43.0h.1M473.3 55.6h.1M484.7 52.8h.1M475.0 54.5h.1M490.6 45.4h.1M474.2 52.7h.1M474.3 55.6h.1M483.1 45.5h.1M481.6 48.4h.1M482.3 56.3h.1M478.2 47.6h.1M481.4 48.1h.1M485.5 43.2h.1M477.6 56.0h.1M476.3 52.0h.1M474.9 49.5h.1M477.2 48.3h.1M480.8 53.8h.1M474.1 56.1h.1M481.8 52.3h.1M473.2 54.2h.1M479.0 54.1h.1M479.9 54.9h.1M479.0 53.4h.1M484.1 43.3h.1M484.3 42.0h.1M482.4 44.7h.1M487.1 47.6h.1M475.9 48.2h.1M484.4 44.8h.1M479.1 51.3h.1M479.1 48.3h.1M478.8 47.3h.1M474.2 56.9h.1M477.0 53.9h.1M479.6 53.4h.1M482.2 52.4h.1M480.6 54.9h.1M475.2 53.2h.1M473.5 53.6h.1M476.9 46.8h.1M473.3 53.5h.1M472.9 52.7h.1M480.2 53.9h.1M481.0 52.2h.1M477.3 56.8h.1M472.3 58.3h.1M482.2 53.2h.1M483.8 50.2h.1M477.5 52.4h.1M476.9 51.1h.1M468.2 57.1h.1M482.2 46.3h.1M474.6 54.8h.1M482.5 48.9h.1M473.7 47.6h.1M474.9 44.8h.1M477.3 49.7h.1M470.1 54.6h.1M491.8 43.1h.1M473.6 58.2h.1M478.9 49.2h.1M473.7 50.0h.1M478.6 52.5h.1M487.1 49.8h.1M472.6 59.9h.1M477.2 48.9h.1M481.2 49.1h.1M479.2 49.6h.1M483.1 53.6h.1M476.6 54.7h.1M471.5 55.3h.1M474.0 56.2h.1M476.8 51.2h.1M482.4 48.6h.1M479.5 50.7h.1M486.1 45.6h.1M479.3 50.1h.1M480.6 51.3h.1M480.5 51.0h.1M473.0 59.1h.1M483.1 51.6h.1M473.8 53.7h.1M474.4 46.6h.1M488.3 41.2h.1M472.7 53.0h.1M479.2 49.7h.1M478.8 47.0h.1M479.3 49.7h.1M479.4 51.2h.1M475.7 50.9h.1M488.4 45.4h.1M469.6 56.0h.1M473.4 51.9h.1M485.0 45.0h.1M481.6 49.2h.1M475.9 53.6h.1M473.5 50.8h.1M475.3 46.6h.1M490.4 41.7h.1M482.2 50.9h.1M472.1 49.7h.1M481.5 52.6h.1M475.4 51.2h.1M486.4 47.3h.1M479.5 48.3h.1M485.9 49.0h.1M480.0 50.6h.1M489.3 46.5h.1M478.5 45.1h.1M481.5 51.9h.1M472.1 49.5h.1M476.7 51.2h.1M481.7 51.2h.1M476.6 51.8h.1M491.6 45.6h.1M479.3 51.4h.1M475.7 53.1h.1M482.7 46.4h.1M478.0 54.7h.1M482.6 52.6h.1M478.0 49.9h.1M474.6 50.6h.1M486.0 47.8h.1M478.6 48.9h.1M484.5 48.4h.1M478.6 53.8h.1M473.3 56.3h.1M475.3 57.7h.1M477.3 53.4h.1M476.9 48.9h.1M478.3 48.7h.1M482.3 50.9h.1M475.8 58.8h.1M479.8 49.5h.1M472.2 51.9h.1M477.8 56.1h.1M491.1 43.9h.1M486.1 49.2h.1M478.9 54.5h.1M486.3 43.9h.1M485.4 46.3h.1M482.6 47.2h.1M486.8 48.3h.1M478.8 53.1h.1M477.9 50.0h.1M475.8 54.5h.1M479.5 45.1h.1M473.7 55.0h.1M477.2 53.0h.1M481.3 49.7h.1M474.8 48.8h.1M480.7 49.8h.1M486.3 43.6h.1M476.4 57.0h.1M485.4 46.5h.1M475.6 52.2h.1M474.6 53.1h.1M480.9 51.6h.1M484.1 48.4h.1M476.5 54.1h.1M474.5 50.6h.1M478.5 54.7h.1M475.1 51.6h.1M481.0 52.2h.1M476.1 53.3h.1M479.4 54.1h.1M480.7 49.8h.1M475.2 48.5h.1M483.1 45.1h.1M475.7 52.1h.1M477.3 56.2h.1M488.2 44.6h.1M486.3 47.1h.1M481.1 53.7h.1M482.3 47.4h.1M481.2 50.7h.1M477.1 52.9h.1M481.5 47.7h.1M480.9 50.7h.1M486.6 50.0h.1M471.8 58.2h.1M482.5 48.0h.1M483.8 57.4h.1M476.4 53.5h.1M476.8 51.4h.1M476.3 50.2h.1M471.6 52.0h.1M477.5 54.4h.1M479.0 42.0h.1M471.8 54.5h.1M475.6 48.6h.1M467.8 56.7h.1M476.4 52.3h.1M479.3 46.8h.1M477.6 48.7h.1M481.0 53.8h.1M473.1 52.5h.1M481.8 49.4h.1M474.5 52.5h.1M484.5 50.5h.1M481.8 53.3h.1M478.5 54.1h.1M486.9 48.3h.1M478.0 53.3h.1M482.4 45.4h.1M481.4 53.7h.1M478.4 49.6h.1M482.7 46.2h.1M480.7 48.9h.1M478.1 49.0h.1M479.1 52.2h.1M481.1 52.1h.1M481.2 53.7h.1M477.5 51.5h.1M473.5 52.2h.1M466.5 57.0h.1M477.1 48.4h.1M477.0 49.8h.1M487.5 52.5h.1M480.3 47.9h.1M483.9 46.8h.1M488.2 47.9h.1M479.0 51.8h.1M476.2 54.9h.1M481.9 46.7h.1M474.9 49.9h.1M479.7 54.7h.1M485.1 45.5h.1M481.6 49.2h.1M484.6 48.5h.1M470.3 50.0h.1M479.1 50.3h.1M483.6 46.4h.1M473.8 55.5h.1M479.7 49.6h.1M478.1 44.5h.1M469.3 58.8h.1M483.3 40.6h.1M475.2 51.8h.1M477.6 49.6h.1M486.3 45.0h.1M470.7 55.5h.1M482.6 51.9h.1M475.9 50.0h.1M478.6 49.3h.1M476.3 54.8h.1M486.3 48.5h.1M474.8 55.5h.1M481.3 50.7h.1M481.4 48.9h.1M478.1 50.0h.1M477.2 50.5h.1M479.1 53.7h.1M486.0 51.8h.1M483.9 54.4h.1M477.4 48.6h.1M473.7 53.2h.1M479.9 50.5h.1M481.5 49.1h.1M477.5 48.3h.1M488.8 52.3h.1M472.1 59.5h.1M490.7 44.0h.1M477.7 50.3h.1M473.8 53.9h.1M469.3 52.6h.1M482.8 47.8h.1M482.9 51.2h.1M480.3 55.4h.1M480.1 53.1h.1M481.7 53.6h.1M475.8 49.5h.1M480.3 40.1h.1M483.9 52.5h.1M478.8 51.7h.1M471.3 55.0h.1M487.9 51.3h.1M475.6 49.8h.1M473.0 51.3h.1M484.3 45.7h.1M483.7 53.5h.1M470.9 58.4h.1M469.0 51.0h.1M479.5 55.9h.1M473.3 54.2h.1M479.0 52.3h.1M490.5 42.2h.1M495.8 47.6h.1M479.6 52.1h.1M484.7 52.0h.1M482.1 46.2h.1M479.5 52.9h.1M472.3 55.0h.1M484.0 47.5h.1M477.3 49.4h.1M480.4 48.0h.1M481.0 46.2h.1M474.5 51.4h.1M487.1 46.4h.1M480.3 52.1h.1M478.2 46.5h.1M475.8 49.5h.1M481.7 47.5h.1M481.8 44.3h.1M476.2 51.6h.1M481.6 48.7h.1M476.9 51.6h.1M473.9 55.1h.1M478.9 54.0h.1M483.1 51.2h.1M482.2 50.1h.1M485.1 49.5h.1M474.9 50.7h.1M476.5 49.4h.1M480.4 52.2h.1M482.9 50.6h.1M481.6 56.5h.1M474.4 52.8h.1M470.5 52.6h.1M485.2 48.5h.1M483.7 47.0h.1M474.9 50.5h.1M488.0 50.3h.1M481.5 55.7h.1M481.9 50.6h.1M484.3 46.0h.1M477.3 52.7h.1M475.5 52.8h.1M469.1 52.1h.1M481.8 52.1h.1M481.8 50.5h.1M485.0 51.6h.1M481.3 47.9h.1M479.7 50.6h.1M484.5 47.6h.1M472.1 49.4h.1M484.4 55.9h.1M478.9 44.5h.1M477.1 48.4h.1M477.8 55.5h.1M465.5 53.5h.1M483.5 52.9h.1M474.5 51.4h.1M476.9 46.7h.1M480.3 50.2h.1M477.2 47.2h.1M478.4 49.0h.1M477.5 51.4h.1M483.5 52.7h.1M486.2 51.2h.1M478.0 54.2h.1M475.1 52.1h.1M472.8 47.2h.1M480.6 49.3h.1M475.6 51.6h.1M475.9 52.4h.1M467.1 55.3h.1M491.5 41.8h.1M471.8 59.2h.1M488.1 39.7h.1M484.6 48.3h.1M488.8 52.0h.1M479.2 47.4h.1M480.4 45.7h.1M480.5 49.4h.1M482.4 47.7h.1M485.5 49.0h.1M492.6 50.4h.1M471.6 54.8h.1M483.6 51.5h.1M489.3 42.8h.1M487.9 44.0h.1M472.3 56.5h.1M479.8 47.6h.1M483.5 54.7h.1M479.9 48.8h.1M462.6 59.6h.1M483.0 44.0h.1M466.6 56.0h.1M492.6 38.8h.1M482.7 46.8h.1M474.6 45.0h.1M483.6 48.7h.1M483.7 57.3h.1M471.3 46.3h.1M482.0 58.2h.1M481.3 49.4h.1M475.2 57.8h.1M482.1 44.6h.1M491.3 54.5h.1M484.5 42.9h.1M487.4 46.3h.1M491.7 51.9h.1M481.5 43.6h.1M483.6 37.2h.1M479.4 50.7h.1M480.5 46.7h.1M487.3 41.9h.1M491.1 40.0h.1M473.5 47.1h.1M471.7 62.3h.1M497.1 47.3h.1M484.6 41.4h.1M492.1 43.5h.1M484.7 45.8h.1M483.2 54.4h.1M472.8 50.5h.1M475.7 61.2h.1M489.6 45.4h.1M484.6 44.3h.1M481.3 49.6h.1M469.9 53.4h.1M480.2 61.8h.1M475.0 54.2h.1M476.0 50.5h.1M458.6 63.1h.1M483.9 55.9h.1M488.4 41.3h.1M471.7 46.9h.1M482.1 56.0h.1M482.5 52.4h.1M471.0 53.4h.1M482.1 49.1h.1M475.6 58.6h.1M470.2 42.5h.1M483.7 55.0h.1M478.4 50.7h.1M481.3 53.3h.1M472.4 54.6h.1" stroke="#000" stroke-width="0.8" stroke-linecap="square" fill="none" stroke-opacity="0.55"/>
<path d="M500.1 53.6h.1M484.0 62.7h.1M489.9 55.7h.1M477.4 70.9h.1M486.5 60.4h.1M489.1 57.4h.1M478.9 63.0h.1M475.5 61.9h.1M485.3 57.8h.1M488.1 53.5h.1M491.4 57.6h.1M483.0 61.5h.1M487.8 59.7h.1M478.1 60.2h.1M492.9 54.5h.1M482.6 59.7h.1M493.0 59.4h.1M482.6 56.8h.1M482.3 56.9h.1M494.9 59.3h.1M482.8 63.1h.1M489.2 52.7h.1M486.5 64.4h.1M484.5 66.1h.1M484.1 65.0h.1M487.8 51.8h.1M485.8 60.5h.1M483.2 58.6h.1M479.1 63.1h.1M488.7 53.0h.1M493.1 61.9h.1M486.4 57.4h.1M489.8 58.8h.1M473.2 70.2h.1M484.6 62.9h.1M487.3 60.7h.1M485.9 58.7h.1M483.9 62.0h.1M486.7 58.8h.1M479.4 55.9h.1M484.7 64.2h.1M479.7 61.5h.1M485.8 58.3h.1M482.3 60.7h.1M481.7 57.6h.1M490.2 53.4h.1M483.1 55.4h.1M486.5 61.3h.1M481.1 66.9h.1M483.8 61.5h.1M488.5 54.6h.1M490.3 62.0h.1M485.7 59.0h.1M482.8 56.3h.1M483.5 54.9h.1M488.0 59.5h.1M486.8 64.6h.1M474.6 65.2h.1M493.6 53.4h.1M490.5 56.4h.1M484.0 58.2h.1M491.3 55.0h.1M480.7 63.9h.1M490.5 54.9h.1M488.2 61.9h.1M488.4 55.2h.1M485.6 62.7h.1M487.2 60.5h.1M487.9 57.5h.1M490.1 56.6h.1M466.2 60.8h.1M476.2 53.2h.1M465.2 66.5h.1M475.4 59.5h.1M473.8 58.3h.1M466.3 61.3h.1M474.5 49.6h.1M455.5 67.5h.1M468.3 56.6h.1M469.2 61.1h.1M466.8 56.6h.1M473.7 61.1h.1M465.2 59.3h.1M466.7 59.8h.1M476.0 61.9h.1M468.3 63.0h.1M460.7 58.2h.1M470.5 56.9h.1M467.7 60.7h.1M464.5 60.5h.1M471.9 61.1h.1M462.9 59.6h.1M460.5 56.7h.1M465.5 58.0h.1M466.7 59.9h.1M502.7 44.6h.1M503.7 44.4h.1M506.2 46.0h.1M501.1 43.3h.1M499.0 45.7h.1M503.6 43.8h.1M499.5 39.9h.1M497.6 38.8h.1M497.6 45.5h.1M504.6 43.8h.1M507.4 40.0h.1M506.5 42.1h.1M492.0 46.4h.1M505.4 36.8h.1M494.4 39.3h.1M498.3 44.1h.1M502.9 44.5h.1M493.3 38.5h.1M493.8 39.0h.1M496.2 42.5h.1M508.4 46.2h.1M505.3 42.0h.1M495.5 35.0h.1M500.7 45.1h.1M500.6 41.9h.1M501.5 40.6h.1M496.4 38.5h.1M507.2 45.6h.1M498.1 42.8h.1M504.1 43.2h.1M491.5 43.0h.1M501.9 43.3h.1M500.7 44.5h.1M506.8 47.1h.1M487.0 38.8h.1M502.7 41.8h.1M504.0 40.6h.1M498.6 47.0h.1M506.5 41.1h.1M447.6 61.5h.1M456.2 51.9h.1M441.8 55.4h.1M467.4 52.5h.1M453.1 61.9h.1M469.5 67.8h.1M461.3 57.4h.1M447.7 50.5h.1M446.1 68.8h.1M464.5 66.6h.1" stroke="#000" stroke-width="0.6" stroke-linecap="square" fill="none" stroke-opacity="0.3"/>
<ellipse cx="479.0" cy="51.0" rx="14.6" ry="7.9" transform="rotate(-29 479.0 51.0)" fill="none" stroke="#000" stroke-width="1.2"/>
<text x="474.30" y="39.20" font-size="8.21" stroke="#222" stroke-width="0.12" text-anchor="middle" fill="#222" textLength="21.55" lengthAdjust="spacingAndGlyphs">98.2%</text>
<rect x="426.50" y="25.10" width="83.70" height="81.20" fill="none" stroke="#111" stroke-width="1.2"/>
<line x1="423.90" y1="106.30" x2="426.50" y2="106.30" stroke="#1a1a1a" stroke-width="0.7"/>
<line x1="425.00" y1="100.19" x2="426.50" y2="100.19" stroke="#1a1a1a" stroke-width="0.7"/>
<line x1="425.00" y1="96.61" x2="426.50" y2="96.61" stroke="#1a1a1a" stroke-width="0.7"/>
<line x1="425.00" y1="94.08" x2="426.50" y2="94.08" stroke="#1a1a1a" stroke-width="0.7"/>
<line x1="425.00" y1="92.11" x2="426.50" y2="92.11" stroke="#1a1a1a" stroke-width="0.7"/>
<line x1="425.00" y1="90.50" x2="426.50" y2="90.50" stroke="#1a1a1a" stroke-width="0.7"/>
<line x1="425.00" y1="89.14" x2="426.50" y2="89.14" stroke="#1a1a1a" stroke-width="0.7"/>
<line x1="425.00" y1="87.97" x2="426.50" y2="87.97" stroke="#1a1a1a" stroke-width="0.7"/>
<line x1="425.00" y1="86.93" x2="426.50" y2="86.93" stroke="#1a1a1a" stroke-width="0.7"/>
<line x1="423.90" y1="86.00" x2="426.50" y2="86.00" stroke="#1a1a1a" stroke-width="0.7"/>
<line x1="425.00" y1="79.89" x2="426.50" y2="79.89" stroke="#1a1a1a" stroke-width="0.7"/>
<line x1="425.00" y1="76.31" x2="426.50" y2="76.31" stroke="#1a1a1a" stroke-width="0.7"/>
<line x1="425.00" y1="73.78" x2="426.50" y2="73.78" stroke="#1a1a1a" stroke-width="0.7"/>
<line x1="425.00" y1="71.81" x2="426.50" y2="71.81" stroke="#1a1a1a" stroke-width="0.7"/>
<line x1="425.00" y1="70.20" x2="426.50" y2="70.20" stroke="#1a1a1a" stroke-width="0.7"/>
<line x1="425.00" y1="68.84" x2="426.50" y2="68.84" stroke="#1a1a1a" stroke-width="0.7"/>
<line x1="425.00" y1="67.67" x2="426.50" y2="67.67" stroke="#1a1a1a" stroke-width="0.7"/>
<line x1="425.00" y1="66.63" x2="426.50" y2="66.63" stroke="#1a1a1a" stroke-width="0.7"/>
<line x1="423.90" y1="65.70" x2="426.50" y2="65.70" stroke="#1a1a1a" stroke-width="0.7"/>
<line x1="425.00" y1="59.59" x2="426.50" y2="59.59" stroke="#1a1a1a" stroke-width="0.7"/>
<line x1="425.00" y1="56.01" x2="426.50" y2="56.01" stroke="#1a1a1a" stroke-width="0.7"/>
<line x1="425.00" y1="53.48" x2="426.50" y2="53.48" stroke="#1a1a1a" stroke-width="0.7"/>
<line x1="425.00" y1="51.51" x2="426.50" y2="51.51" stroke="#1a1a1a" stroke-width="0.7"/>
<line x1="425.00" y1="49.90" x2="426.50" y2="49.90" stroke="#1a1a1a" stroke-width="0.7"/>
<line x1="425.00" y1="48.54" x2="426.50" y2="48.54" stroke="#1a1a1a" stroke-width="0.7"/>
<line x1="425.00" y1="47.37" x2="426.50" y2="47.37" stroke="#1a1a1a" stroke-width="0.7"/>
<line x1="425.00" y1="46.33" x2="426.50" y2="46.33" stroke="#1a1a1a" stroke-width="0.7"/>
<line x1="423.90" y1="45.40" x2="426.50" y2="45.40" stroke="#1a1a1a" stroke-width="0.7"/>
<line x1="425.00" y1="39.29" x2="426.50" y2="39.29" stroke="#1a1a1a" stroke-width="0.7"/>
<line x1="425.00" y1="35.71" x2="426.50" y2="35.71" stroke="#1a1a1a" stroke-width="0.7"/>
<line x1="425.00" y1="33.18" x2="426.50" y2="33.18" stroke="#1a1a1a" stroke-width="0.7"/>
<line x1="425.00" y1="31.21" x2="426.50" y2="31.21" stroke="#1a1a1a" stroke-width="0.7"/>
<line x1="425.00" y1="29.60" x2="426.50" y2="29.60" stroke="#1a1a1a" stroke-width="0.7"/>
<line x1="425.00" y1="28.24" x2="426.50" y2="28.24" stroke="#1a1a1a" stroke-width="0.7"/>
<line x1="425.00" y1="27.07" x2="426.50" y2="27.07" stroke="#1a1a1a" stroke-width="0.7"/>
<line x1="425.00" y1="26.03" x2="426.50" y2="26.03" stroke="#1a1a1a" stroke-width="0.7"/>
<line x1="423.90" y1="25.10" x2="426.50" y2="25.10" stroke="#1a1a1a" stroke-width="0.7"/>
<line x1="426.50" y1="106.30" x2="426.50" y2="108.90" stroke="#1a1a1a" stroke-width="0.7"/>
<line x1="432.80" y1="106.30" x2="432.80" y2="107.80" stroke="#1a1a1a" stroke-width="0.7"/>
<line x1="436.48" y1="106.30" x2="436.48" y2="107.80" stroke="#1a1a1a" stroke-width="0.7"/>
<line x1="439.10" y1="106.30" x2="439.10" y2="107.80" stroke="#1a1a1a" stroke-width="0.7"/>
<line x1="441.13" y1="106.30" x2="441.13" y2="107.80" stroke="#1a1a1a" stroke-width="0.7"/>
<line x1="442.78" y1="106.30" x2="442.78" y2="107.80" stroke="#1a1a1a" stroke-width="0.7"/>
<line x1="444.18" y1="106.30" x2="444.18" y2="107.80" stroke="#1a1a1a" stroke-width="0.7"/>
<line x1="445.40" y1="106.30" x2="445.40" y2="107.80" stroke="#1a1a1a" stroke-width="0.7"/>
<line x1="446.47" y1="106.30" x2="446.47" y2="107.80" stroke="#1a1a1a" stroke-width="0.7"/>
<line x1="447.43" y1="106.30" x2="447.43" y2="108.90" stroke="#1a1a1a" stroke-width="0.7"/>
<line x1="453.72" y1="106.30" x2="453.72" y2="107.80" stroke="#1a1a1a" stroke-width="0.7"/>
<line x1="457.41" y1="106.30" x2="457.41" y2="107.80" stroke="#1a1a1a" stroke-width="0.7"/>
<line x1="460.02" y1="106.30" x2="460.02" y2="107.80" stroke="#1a1a1a" stroke-width="0.7"/>
<line x1="462.05" y1="106.30" x2="462.05" y2="107.80" stroke="#1a1a1a" stroke-width="0.7"/>
<line x1="463.71" y1="106.30" x2="463.71" y2="107.80" stroke="#1a1a1a" stroke-width="0.7"/>
<line x1="465.11" y1="106.30" x2="465.11" y2="107.80" stroke="#1a1a1a" stroke-width="0.7"/>
<line x1="466.32" y1="106.30" x2="466.32" y2="107.80" stroke="#1a1a1a" stroke-width="0.7"/>
<line x1="467.39" y1="106.30" x2="467.39" y2="107.80" stroke="#1a1a1a" stroke-width="0.7"/>
<line x1="468.35" y1="106.30" x2="468.35" y2="108.90" stroke="#1a1a1a" stroke-width="0.7"/>
<line x1="474.65" y1="106.30" x2="474.65" y2="107.80" stroke="#1a1a1a" stroke-width="0.7"/>
<line x1="478.33" y1="106.30" x2="478.33" y2="107.80" stroke="#1a1a1a" stroke-width="0.7"/>
<line x1="480.95" y1="106.30" x2="480.95" y2="107.80" stroke="#1a1a1a" stroke-width="0.7"/>
<line x1="482.98" y1="106.30" x2="482.98" y2="107.80" stroke="#1a1a1a" stroke-width="0.7"/>
<line x1="484.63" y1="106.30" x2="484.63" y2="107.80" stroke="#1a1a1a" stroke-width="0.7"/>
<line x1="486.03" y1="106.30" x2="486.03" y2="107.80" stroke="#1a1a1a" stroke-width="0.7"/>
<line x1="487.25" y1="106.30" x2="487.25" y2="107.80" stroke="#1a1a1a" stroke-width="0.7"/>
<line x1="488.32" y1="106.30" x2="488.32" y2="107.80" stroke="#1a1a1a" stroke-width="0.7"/>
<line x1="489.27" y1="106.30" x2="489.27" y2="108.90" stroke="#1a1a1a" stroke-width="0.7"/>
<line x1="495.57" y1="106.30" x2="495.57" y2="107.80" stroke="#1a1a1a" stroke-width="0.7"/>
<line x1="499.26" y1="106.30" x2="499.26" y2="107.80" stroke="#1a1a1a" stroke-width="0.7"/>
<line x1="501.87" y1="106.30" x2="501.87" y2="107.80" stroke="#1a1a1a" stroke-width="0.7"/>
<line x1="503.90" y1="106.30" x2="503.90" y2="107.80" stroke="#1a1a1a" stroke-width="0.7"/>
<line x1="505.56" y1="106.30" x2="505.56" y2="107.80" stroke="#1a1a1a" stroke-width="0.7"/>
<line x1="506.96" y1="106.30" x2="506.96" y2="107.80" stroke="#1a1a1a" stroke-width="0.7"/>
<line x1="508.17" y1="106.30" x2="508.17" y2="107.80" stroke="#1a1a1a" stroke-width="0.7"/>
<line x1="509.24" y1="106.30" x2="509.24" y2="107.80" stroke="#1a1a1a" stroke-width="0.7"/>
<line x1="510.20" y1="106.30" x2="510.20" y2="108.90" stroke="#1a1a1a" stroke-width="0.7"/>
<text x="409.30" y="109.30" font-size="8.97" stroke="#1a1a1a" stroke-width="0.12" textLength="8.68" lengthAdjust="spacingAndGlyphs">10</text>
<text x="418.08" y="105.71" font-size="6.46" stroke="#1a1a1a" stroke-width="0.12" textLength="3.12" lengthAdjust="spacingAndGlyphs">0</text>
<text x="421.80" y="117.80" font-size="8.97" stroke="#1a1a1a" stroke-width="0.12" textLength="8.68" lengthAdjust="spacingAndGlyphs">10</text>
<text x="430.58" y="114.21" font-size="6.46" stroke="#1a1a1a" stroke-width="0.12" textLength="3.12" lengthAdjust="spacingAndGlyphs">0</text>
<text x="409.30" y="89.00" font-size="8.97" stroke="#1a1a1a" stroke-width="0.12" textLength="8.68" lengthAdjust="spacingAndGlyphs">10</text>
<text x="418.08" y="85.41" font-size="6.46" stroke="#1a1a1a" stroke-width="0.12" textLength="3.12" lengthAdjust="spacingAndGlyphs">1</text>
<text x="442.73" y="117.80" font-size="8.97" stroke="#1a1a1a" stroke-width="0.12" textLength="8.68" lengthAdjust="spacingAndGlyphs">10</text>
<text x="451.50" y="114.21" font-size="6.46" stroke="#1a1a1a" stroke-width="0.12" textLength="3.12" lengthAdjust="spacingAndGlyphs">1</text>
<text x="409.30" y="68.70" font-size="8.97" stroke="#1a1a1a" stroke-width="0.12" textLength="8.68" lengthAdjust="spacingAndGlyphs">10</text>
<text x="418.08" y="65.11" font-size="6.46" stroke="#1a1a1a" stroke-width="0.12" textLength="3.12" lengthAdjust="spacingAndGlyphs">2</text>
<text x="463.65" y="117.80" font-size="8.97" stroke="#1a1a1a" stroke-width="0.12" textLength="8.68" lengthAdjust="spacingAndGlyphs">10</text>
<text x="472.43" y="114.21" font-size="6.46" stroke="#1a1a1a" stroke-width="0.12" textLength="3.12" lengthAdjust="spacingAndGlyphs">2</text>
<text x="409.30" y="48.40" font-size="8.97" stroke="#1a1a1a" stroke-width="0.12" textLength="8.68" lengthAdjust="spacingAndGlyphs">10</text>
<text x="418.08" y="44.81" font-size="6.46" stroke="#1a1a1a" stroke-width="0.12" textLength="3.12" lengthAdjust="spacingAndGlyphs">3</text>
<text x="484.58" y="117.80" font-size="8.97" stroke="#1a1a1a" stroke-width="0.12" textLength="8.68" lengthAdjust="spacingAndGlyphs">10</text>
<text x="493.35" y="114.21" font-size="6.46" stroke="#1a1a1a" stroke-width="0.12" textLength="3.12" lengthAdjust="spacingAndGlyphs">3</text>
<text x="409.30" y="28.10" font-size="8.97" stroke="#1a1a1a" stroke-width="0.12" textLength="8.68" lengthAdjust="spacingAndGlyphs">10</text>
<text x="418.08" y="24.51" font-size="6.46" stroke="#1a1a1a" stroke-width="0.12" textLength="3.12" lengthAdjust="spacingAndGlyphs">4</text>
<text x="505.50" y="117.80" font-size="8.97" stroke="#1a1a1a" stroke-width="0.12" textLength="8.68" lengthAdjust="spacingAndGlyphs">10</text>
<text x="514.28" y="114.21" font-size="6.46" stroke="#1a1a1a" stroke-width="0.12" textLength="3.12" lengthAdjust="spacingAndGlyphs">4</text>
<text x="468.30" y="129.00" font-size="8.21" stroke="#1a1a1a" stroke-width="0.12" text-anchor="middle" textLength="21.00" lengthAdjust="spacingAndGlyphs">CD66b</text>
<text x="407.30" y="65.50" font-size="8.21" stroke="#1a1a1a" stroke-width="0.12" text-anchor="middle" textLength="20.00" lengthAdjust="spacingAndGlyphs" transform="rotate(-90 407.30 65.50)">MAC-1</text>
<text x="4.80" y="151.00" font-size="10.4" stroke="#000" stroke-width="0.3" font-weight="bold" fill="#000">C</text>
<line x1="31.00" y1="154.20" x2="31.00" y2="234.70" stroke="#111" stroke-width="1.3"/>
<line x1="28.00" y1="234.20" x2="31.00" y2="234.20" stroke="#111" stroke-width="1.0"/>
<text x="24.90" y="237.32" font-size="8.97" stroke="#1a1a1a" stroke-width="0.12" text-anchor="end" textLength="4.23" lengthAdjust="spacingAndGlyphs">0</text>
<line x1="28.00" y1="219.00" x2="31.00" y2="219.00" stroke="#111" stroke-width="1.0"/>
<text x="24.90" y="222.12" font-size="8.97" stroke="#1a1a1a" stroke-width="0.12" text-anchor="end" textLength="4.23" lengthAdjust="spacingAndGlyphs">1</text>
<line x1="28.00" y1="203.80" x2="31.00" y2="203.80" stroke="#111" stroke-width="1.0"/>
<text x="24.90" y="206.92" font-size="8.97" stroke="#1a1a1a" stroke-width="0.12" text-anchor="end" textLength="4.23" lengthAdjust="spacingAndGlyphs">2</text>
<line x1="28.00" y1="188.60" x2="31.00" y2="188.60" stroke="#111" stroke-width="1.0"/>
<text x="24.90" y="191.72" font-size="8.97" stroke="#1a1a1a" stroke-width="0.12" text-anchor="end" textLength="4.23" lengthAdjust="spacingAndGlyphs">3</text>
<line x1="28.00" y1="173.40" x2="31.00" y2="173.40" stroke="#111" stroke-width="1.0"/>
<text x="24.90" y="176.52" font-size="8.97" stroke="#1a1a1a" stroke-width="0.12" text-anchor="end" textLength="4.23" lengthAdjust="spacingAndGlyphs">4</text>
<line x1="28.00" y1="158.20" x2="31.00" y2="158.20" stroke="#111" stroke-width="1.0"/>
<text x="24.90" y="161.32" font-size="8.97" stroke="#1a1a1a" stroke-width="0.12" text-anchor="end" textLength="4.23" lengthAdjust="spacingAndGlyphs">5</text>
<text x="12.60" y="192.80" font-size="8.96" stroke="#1a1a1a" stroke-width="0.12" text-anchor="middle" textLength="79.50" lengthAdjust="spacingAndGlyphs" transform="rotate(-90 12.60 192.80)"># of blood neutrophils/µL</text>
<rect x="38.00" y="216.80" width="25.20" height="17.40" fill="#8cadce"/>
<rect x="77.00" y="211.30" width="25.80" height="22.90" fill="#a6dba6"/>
<rect x="116.40" y="209.30" width="25.60" height="24.90" fill="#e68d9f"/>
<circle cx="44.50" cy="205.40" r="2.3" fill="#0e4d8e"/>
<circle cx="52.60" cy="203.10" r="2.3" fill="#0e4d8e"/>
<circle cx="56.80" cy="205.40" r="2.3" fill="#0e4d8e"/>
<circle cx="48.40" cy="208.80" r="2.3" fill="#0e4d8e"/>
<circle cx="50.70" cy="212.30" r="2.3" fill="#0e4d8e"/>
<circle cx="42.20" cy="212.80" r="2.3" fill="#0e4d8e"/>
<circle cx="46.50" cy="215.40" r="2.3" fill="#0e4d8e"/>
<circle cx="54.50" cy="216.90" r="2.3" fill="#0e4d8e"/>
<circle cx="58.40" cy="218.80" r="2.3" fill="#0e4d8e"/>
<circle cx="40.30" cy="221.90" r="2.3" fill="#0e4d8e"/>
<circle cx="44.50" cy="222.30" r="2.3" fill="#0e4d8e"/>
<circle cx="48.80" cy="222.70" r="2.3" fill="#0e4d8e"/>
<circle cx="52.60" cy="221.20" r="2.3" fill="#0e4d8e"/>
<circle cx="56.50" cy="226.50" r="2.3" fill="#0e4d8e"/>
<circle cx="60.70" cy="226.90" r="2.3" fill="#0e4d8e"/>
<line x1="50.50" y1="208.20" x2="50.50" y2="224.10" stroke="#111" stroke-width="1.1"/>
<line x1="44.50" y1="208.20" x2="56.50" y2="208.20" stroke="#111" stroke-width="1.1"/>
<line x1="44.50" y1="224.10" x2="56.50" y2="224.10" stroke="#111" stroke-width="1.1"/>
<path d="M85.50 176.12L87.80 180.26L83.20 180.26Z" fill="#25a93a"/>
<path d="M94.00 182.82L96.30 186.96L91.70 186.96Z" fill="#25a93a"/>
<path d="M90.00 191.42L92.30 195.56L87.70 195.56Z" fill="#25a93a"/>
<path d="M90.00 204.02L92.30 208.16L87.70 208.16Z" fill="#25a93a"/>
<path d="M98.40 213.42L100.70 217.56L96.10 217.56Z" fill="#25a93a"/>
<path d="M81.10 218.42L83.40 222.56L78.80 222.56Z" fill="#25a93a"/>
<path d="M90.00 219.12L92.30 223.26L87.70 223.26Z" fill="#25a93a"/>
<path d="M81.10 226.02L83.40 230.16L78.80 230.16Z" fill="#25a93a"/>
<path d="M90.00 229.82L92.30 233.96L87.70 233.96Z" fill="#25a93a"/>
<path d="M98.40 230.42L100.70 234.56L96.10 234.56Z" fill="#25a93a"/>
<line x1="89.60" y1="191.40" x2="89.60" y2="231.00" stroke="#111" stroke-width="1.1"/>
<line x1="83.30" y1="191.40" x2="95.90" y2="191.40" stroke="#111" stroke-width="1.1"/>
<line x1="83.30" y1="231.00" x2="95.90" y2="231.00" stroke="#111" stroke-width="1.1"/>
<rect x="127.10" y="176.90" width="3.80" height="3.80" fill="#c8102e"/>
<rect x="127.10" y="193.00" width="3.80" height="3.80" fill="#c8102e"/>
<rect x="118.90" y="196.00" width="3.80" height="3.80" fill="#c8102e"/>
<rect x="130.00" y="196.00" width="3.80" height="3.80" fill="#c8102e"/>
<rect x="124.90" y="198.90" width="3.80" height="3.80" fill="#c8102e"/>
<rect x="122.10" y="203.60" width="3.80" height="3.80" fill="#c8102e"/>
<rect x="135.00" y="201.40" width="3.80" height="3.80" fill="#c8102e"/>
<rect x="132.50" y="204.00" width="3.80" height="3.80" fill="#c8102e"/>
<rect x="127.10" y="208.40" width="3.80" height="3.80" fill="#c8102e"/>
<rect x="127.10" y="210.30" width="3.80" height="3.80" fill="#c8102e"/>
<rect x="132.50" y="210.30" width="3.80" height="3.80" fill="#c8102e"/>
<rect x="122.10" y="212.40" width="3.80" height="3.80" fill="#c8102e"/>
<rect x="117.00" y="214.00" width="3.80" height="3.80" fill="#c8102e"/>
<rect x="137.50" y="212.40" width="3.80" height="3.80" fill="#c8102e"/>
<rect x="124.90" y="217.80" width="3.80" height="3.80" fill="#c8102e"/>
<rect x="130.20" y="221.60" width="3.80" height="3.80" fill="#c8102e"/>
<rect x="124.60" y="222.80" width="3.80" height="3.80" fill="#c8102e"/>
<rect x="130.00" y="226.60" width="3.80" height="3.80" fill="#c8102e"/>
<line x1="129.00" y1="196.40" x2="129.00" y2="221.30" stroke="#111" stroke-width="1.1"/>
<line x1="122.70" y1="196.40" x2="135.30" y2="196.40" stroke="#111" stroke-width="1.1"/>
<line x1="122.70" y1="221.30" x2="135.30" y2="221.30" stroke="#111" stroke-width="1.1"/>
<line x1="28.00" y1="234.40" x2="148.80" y2="234.40" stroke="#1a1a1a" stroke-width="1.2"/>
<line x1="30.40" y1="237.30" x2="148.80" y2="237.30" stroke="#1a1a1a" stroke-width="1.2"/>
<line x1="31.00" y1="234.00" x2="31.00" y2="237.80" stroke="#1a1a1a" stroke-width="1.1"/>
<line x1="51.60" y1="163.40" x2="129.30" y2="163.40" stroke="#222" stroke-width="1.1"/>
<text x="90.30" y="160.70" font-size="7.99" stroke="#1a1a1a" stroke-width="0.12" text-anchor="middle" textLength="7.82" lengthAdjust="spacingAndGlyphs">ns</text>
<line x1="51.10" y1="173.10" x2="88.80" y2="173.10" stroke="#222" stroke-width="1.1"/>
<text x="70.10" y="170.50" font-size="7.99" stroke="#1a1a1a" stroke-width="0.12" text-anchor="middle" textLength="7.82" lengthAdjust="spacingAndGlyphs">ns</text>
<line x1="91.40" y1="173.10" x2="129.80" y2="173.10" stroke="#222" stroke-width="1.1"/>
<text x="110.40" y="170.50" font-size="7.99" stroke="#1a1a1a" stroke-width="0.12" text-anchor="middle" textLength="7.82" lengthAdjust="spacingAndGlyphs">ns</text>
<text x="50.50" y="245.70" font-size="8.32" stroke="#1a1a1a" stroke-width="0.12" text-anchor="middle" textLength="26.11" lengthAdjust="spacingAndGlyphs">Healthy</text>
<text x="89.80" y="245.70" font-size="8.32" stroke="#1a1a1a" stroke-width="0.12" text-anchor="middle" textLength="16.26" lengthAdjust="spacingAndGlyphs">CKD</text>
<text x="129.00" y="245.70" font-size="8.32" stroke="#1a1a1a" stroke-width="0.12" text-anchor="middle" textLength="20.97" lengthAdjust="spacingAndGlyphs">ESKD</text>
<text x="179.20" y="150.40" font-size="10.4" stroke="#000" stroke-width="0.3" font-weight="bold" fill="#000">D</text>
<path d="M257.7 236.5L260.9 223.0L262.5 203.5L264.1 179.3L265.7 168.0L266.6 164.0L267.4 162.8L268.5 169.6L269.8 190.6L271.4 216.5L273.8 229.4L277.1 235.1L279.5 236.5Z" fill="rgba(60,110,165,0.42)" stroke="none"/>
<path d="M245.5 236.5L248.5 230.0L251.2 219.7L254.4 195.5L256.0 174.4L257.2 165.0L258.1 162.8L259.3 168.0L260.9 179.3L262.5 195.5L264.9 219.7L269.0 229.4L273.8 234.3L277.9 236.5Z" fill="rgba(80,190,95,0.38)" stroke="none"/>
<path d="M209.8 236.5L239.9 236.5L242.5 232.5L244.7 226.2L247.1 203.5L249.6 174.4L251.3 163.0L252.3 160.2L253.6 171.2L255.2 195.5L256.8 216.5L258.5 220.5L260.9 223.8L263.3 229.4L265.7 234.3L267.4 236.5L293.4 236.5Z" fill="rgba(215,70,100,0.40)" stroke="none"/>
<path d="M257.7 236.5L260.9 223.0L262.5 203.5L264.1 179.3L265.7 168.0L266.6 164.0L267.4 162.8L268.5 169.6L269.8 190.6L271.4 216.5L273.8 229.4L277.1 235.1L279.5 236.5" fill="none" stroke="#2b67a3" stroke-width="1.1" stroke-linejoin="round"/>
<path d="M245.5 236.5L248.5 230.0L251.2 219.7L254.4 195.5L256.0 174.4L257.2 165.0L258.1 162.8L259.3 168.0L260.9 179.3L262.5 195.5L264.9 219.7L269.0 229.4L273.8 234.3L277.9 236.5" fill="none" stroke="#35b34a" stroke-width="1.1" stroke-linejoin="round"/>
<path d="M209.8 236.5L239.9 236.5L242.5 232.5L244.7 226.2L247.1 203.5L249.6 174.4L251.3 163.0L252.3 160.2L253.6 171.2L255.2 195.5L256.8 216.5L258.5 220.5L260.9 223.8L263.3 229.4L265.7 234.3L267.4 236.5L293.4 236.5" fill="none" stroke="#d22d50" stroke-width="1.1" stroke-linejoin="round"/>
<rect x="209.40" y="156.10" width="84.10" height="81.50" fill="none" stroke="#111" stroke-width="1.2"/>
<line x1="209.40" y1="237.60" x2="209.40" y2="240.20" stroke="#1a1a1a" stroke-width="0.7"/>
<line x1="215.73" y1="237.60" x2="215.73" y2="239.10" stroke="#1a1a1a" stroke-width="0.7"/>
<line x1="219.43" y1="237.60" x2="219.43" y2="239.10" stroke="#1a1a1a" stroke-width="0.7"/>
<line x1="222.06" y1="237.60" x2="222.06" y2="239.10" stroke="#1a1a1a" stroke-width="0.7"/>
<line x1="224.10" y1="237.60" x2="224.10" y2="239.10" stroke="#1a1a1a" stroke-width="0.7"/>
<line x1="225.76" y1="237.60" x2="225.76" y2="239.10" stroke="#1a1a1a" stroke-width="0.7"/>
<line x1="227.17" y1="237.60" x2="227.17" y2="239.10" stroke="#1a1a1a" stroke-width="0.7"/>
<line x1="228.39" y1="237.60" x2="228.39" y2="239.10" stroke="#1a1a1a" stroke-width="0.7"/>
<line x1="229.46" y1="237.60" x2="229.46" y2="239.10" stroke="#1a1a1a" stroke-width="0.7"/>
<line x1="230.43" y1="237.60" x2="230.43" y2="240.20" stroke="#1a1a1a" stroke-width="0.7"/>
<line x1="236.75" y1="237.60" x2="236.75" y2="239.10" stroke="#1a1a1a" stroke-width="0.7"/>
<line x1="240.46" y1="237.60" x2="240.46" y2="239.10" stroke="#1a1a1a" stroke-width="0.7"/>
<line x1="243.08" y1="237.60" x2="243.08" y2="239.10" stroke="#1a1a1a" stroke-width="0.7"/>
<line x1="245.12" y1="237.60" x2="245.12" y2="239.10" stroke="#1a1a1a" stroke-width="0.7"/>
<line x1="246.79" y1="237.60" x2="246.79" y2="239.10" stroke="#1a1a1a" stroke-width="0.7"/>
<line x1="248.19" y1="237.60" x2="248.19" y2="239.10" stroke="#1a1a1a" stroke-width="0.7"/>
<line x1="249.41" y1="237.60" x2="249.41" y2="239.10" stroke="#1a1a1a" stroke-width="0.7"/>
<line x1="250.49" y1="237.60" x2="250.49" y2="239.10" stroke="#1a1a1a" stroke-width="0.7"/>
<line x1="251.45" y1="237.60" x2="251.45" y2="240.20" stroke="#1a1a1a" stroke-width="0.7"/>
<line x1="257.78" y1="237.60" x2="257.78" y2="239.10" stroke="#1a1a1a" stroke-width="0.7"/>
<line x1="261.48" y1="237.60" x2="261.48" y2="239.10" stroke="#1a1a1a" stroke-width="0.7"/>
<line x1="264.11" y1="237.60" x2="264.11" y2="239.10" stroke="#1a1a1a" stroke-width="0.7"/>
<line x1="266.15" y1="237.60" x2="266.15" y2="239.10" stroke="#1a1a1a" stroke-width="0.7"/>
<line x1="267.81" y1="237.60" x2="267.81" y2="239.10" stroke="#1a1a1a" stroke-width="0.7"/>
<line x1="269.22" y1="237.60" x2="269.22" y2="239.10" stroke="#1a1a1a" stroke-width="0.7"/>
<line x1="270.44" y1="237.60" x2="270.44" y2="239.10" stroke="#1a1a1a" stroke-width="0.7"/>
<line x1="271.51" y1="237.60" x2="271.51" y2="239.10" stroke="#1a1a1a" stroke-width="0.7"/>
<line x1="272.48" y1="237.60" x2="272.48" y2="240.20" stroke="#1a1a1a" stroke-width="0.7"/>
<line x1="278.80" y1="237.60" x2="278.80" y2="239.10" stroke="#1a1a1a" stroke-width="0.7"/>
<line x1="282.51" y1="237.60" x2="282.51" y2="239.10" stroke="#1a1a1a" stroke-width="0.7"/>
<line x1="285.13" y1="237.60" x2="285.13" y2="239.10" stroke="#1a1a1a" stroke-width="0.7"/>
<line x1="287.17" y1="237.60" x2="287.17" y2="239.10" stroke="#1a1a1a" stroke-width="0.7"/>
<line x1="288.84" y1="237.60" x2="288.84" y2="239.10" stroke="#1a1a1a" stroke-width="0.7"/>
<line x1="290.24" y1="237.60" x2="290.24" y2="239.10" stroke="#1a1a1a" stroke-width="0.7"/>
<line x1="291.46" y1="237.60" x2="291.46" y2="239.10" stroke="#1a1a1a" stroke-width="0.7"/>
<line x1="292.54" y1="237.60" x2="292.54" y2="239.10" stroke="#1a1a1a" stroke-width="0.7"/>
<line x1="293.50" y1="237.60" x2="293.50" y2="240.20" stroke="#1a1a1a" stroke-width="0.7"/>
<line x1="206.40" y1="237.40" x2="209.40" y2="237.40" stroke="#1a1a1a" stroke-width="0.9"/>
<text x="204.90" y="240.10" font-size="8.21" stroke="#1a1a1a" stroke-width="0.12" text-anchor="end" textLength="4.23" lengthAdjust="spacingAndGlyphs">0</text>
<line x1="206.40" y1="222.00" x2="209.40" y2="222.00" stroke="#1a1a1a" stroke-width="0.9"/>
<text x="204.90" y="224.70" font-size="8.21" stroke="#1a1a1a" stroke-width="0.12" text-anchor="end" textLength="8.45" lengthAdjust="spacingAndGlyphs">20</text>
<line x1="206.40" y1="206.60" x2="209.40" y2="206.60" stroke="#1a1a1a" stroke-width="0.9"/>
<text x="204.90" y="209.30" font-size="8.21" stroke="#1a1a1a" stroke-width="0.12" text-anchor="end" textLength="8.45" lengthAdjust="spacingAndGlyphs">40</text>
<line x1="206.40" y1="191.20" x2="209.40" y2="191.20" stroke="#1a1a1a" stroke-width="0.9"/>
<text x="204.90" y="193.90" font-size="8.21" stroke="#1a1a1a" stroke-width="0.12" text-anchor="end" textLength="8.45" lengthAdjust="spacingAndGlyphs">60</text>
<line x1="206.40" y1="175.80" x2="209.40" y2="175.80" stroke="#1a1a1a" stroke-width="0.9"/>
<text x="204.90" y="178.50" font-size="8.21" stroke="#1a1a1a" stroke-width="0.12" text-anchor="end" textLength="8.45" lengthAdjust="spacingAndGlyphs">80</text>
<line x1="206.40" y1="160.40" x2="209.40" y2="160.40" stroke="#1a1a1a" stroke-width="0.9"/>
<text x="204.90" y="163.10" font-size="8.21" stroke="#1a1a1a" stroke-width="0.12" text-anchor="end" textLength="12.68" lengthAdjust="spacingAndGlyphs">100</text>
<line x1="207.80" y1="237.00" x2="209.40" y2="237.00" stroke="#1a1a1a" stroke-width="0.7"/>
<line x1="207.80" y1="229.26" x2="209.40" y2="229.26" stroke="#1a1a1a" stroke-width="0.7"/>
<line x1="207.80" y1="221.52" x2="209.40" y2="221.52" stroke="#1a1a1a" stroke-width="0.7"/>
<line x1="207.80" y1="213.78" x2="209.40" y2="213.78" stroke="#1a1a1a" stroke-width="0.7"/>
<line x1="207.80" y1="206.04" x2="209.40" y2="206.04" stroke="#1a1a1a" stroke-width="0.7"/>
<line x1="207.80" y1="198.30" x2="209.40" y2="198.30" stroke="#1a1a1a" stroke-width="0.7"/>
<line x1="207.80" y1="190.56" x2="209.40" y2="190.56" stroke="#1a1a1a" stroke-width="0.7"/>
<line x1="207.80" y1="182.82" x2="209.40" y2="182.82" stroke="#1a1a1a" stroke-width="0.7"/>
<line x1="207.80" y1="175.08" x2="209.40" y2="175.08" stroke="#1a1a1a" stroke-width="0.7"/>
<line x1="207.80" y1="167.34" x2="209.40" y2="167.34" stroke="#1a1a1a" stroke-width="0.7"/>
<line x1="207.80" y1="159.60" x2="209.40" y2="159.60" stroke="#1a1a1a" stroke-width="0.7"/>
<text x="205.10" y="248.00" font-size="7.99" stroke="#1a1a1a" stroke-width="0.12" textLength="8.23" lengthAdjust="spacingAndGlyphs">10</text>
<text x="213.43" y="244.80" font-size="5.75" stroke="#1a1a1a" stroke-width="0.12" textLength="2.96" lengthAdjust="spacingAndGlyphs">0</text>
<text x="226.13" y="248.00" font-size="7.99" stroke="#1a1a1a" stroke-width="0.12" textLength="8.23" lengthAdjust="spacingAndGlyphs">10</text>
<text x="234.46" y="244.80" font-size="5.75" stroke="#1a1a1a" stroke-width="0.12" textLength="2.96" lengthAdjust="spacingAndGlyphs">1</text>
<text x="247.15" y="248.00" font-size="7.99" stroke="#1a1a1a" stroke-width="0.12" textLength="8.23" lengthAdjust="spacingAndGlyphs">10</text>
<text x="255.48" y="244.80" font-size="5.75" stroke="#1a1a1a" stroke-width="0.12" textLength="2.96" lengthAdjust="spacingAndGlyphs">2</text>
<text x="268.18" y="248.00" font-size="7.99" stroke="#1a1a1a" stroke-width="0.12" textLength="8.23" lengthAdjust="spacingAndGlyphs">10</text>
<text x="276.51" y="244.80" font-size="5.75" stroke="#1a1a1a" stroke-width="0.12" textLength="2.96" lengthAdjust="spacingAndGlyphs">3</text>
<text x="289.20" y="248.00" font-size="7.99" stroke="#1a1a1a" stroke-width="0.12" textLength="8.23" lengthAdjust="spacingAndGlyphs">10</text>
<text x="297.53" y="244.80" font-size="5.75" stroke="#1a1a1a" stroke-width="0.12" textLength="2.96" lengthAdjust="spacingAndGlyphs">4</text>
<text x="251.40" y="261.20" font-size="8.21" stroke="#1a1a1a" stroke-width="0.12" text-anchor="middle" textLength="21.00" lengthAdjust="spacingAndGlyphs">MAC-1</text>
<text x="187.20" y="198.90" font-size="8.86" stroke="#1a1a1a" stroke-width="0.12" text-anchor="middle" textLength="20.60" lengthAdjust="spacingAndGlyphs" transform="rotate(-90 187.20 198.90)">Count</text>
<rect x="302.90" y="155.60" width="4.80" height="4.60" fill="#c8102e"/>
<text x="310.90" y="160.30" font-size="7.78" stroke="#1a1a1a" stroke-width="0.12" textLength="19.61" lengthAdjust="spacingAndGlyphs">ESKD</text>
<rect x="302.90" y="163.80" width="4.80" height="4.60" fill="#36b34a"/>
<text x="310.90" y="168.50" font-size="7.78" stroke="#1a1a1a" stroke-width="0.12" textLength="15.20" lengthAdjust="spacingAndGlyphs">CKD</text>
<rect x="302.90" y="171.90" width="4.80" height="4.60" fill="#1d5596"/>
<text x="310.90" y="176.60" font-size="7.78" stroke="#1a1a1a" stroke-width="0.12" textLength="24.41" lengthAdjust="spacingAndGlyphs">Healthy</text>
<text x="364.20" y="196.30" font-size="8.42" stroke="#1a1a1a" stroke-width="0.12" text-anchor="middle" textLength="95.50" lengthAdjust="spacingAndGlyphs" transform="rotate(-90 364.20 196.30)">MFI of MAC-1 (rel. to isotype)</text>
<line x1="388.90" y1="153.80" x2="388.90" y2="237.70" stroke="#111" stroke-width="1.3"/>
<line x1="385.90" y1="237.20" x2="388.90" y2="237.20" stroke="#111" stroke-width="1.0"/>
<text x="382.80" y="240.32" font-size="8.97" stroke="#1a1a1a" stroke-width="0.12" text-anchor="end" textLength="4.23" lengthAdjust="spacingAndGlyphs">0</text>
<line x1="385.90" y1="221.32" x2="388.90" y2="221.32" stroke="#111" stroke-width="1.0"/>
<text x="382.80" y="224.44" font-size="8.97" stroke="#1a1a1a" stroke-width="0.12" text-anchor="end" textLength="8.45" lengthAdjust="spacingAndGlyphs">50</text>
<line x1="385.90" y1="205.44" x2="388.90" y2="205.44" stroke="#111" stroke-width="1.0"/>
<text x="382.80" y="208.56" font-size="8.97" stroke="#1a1a1a" stroke-width="0.12" text-anchor="end" textLength="12.68" lengthAdjust="spacingAndGlyphs">100</text>
<line x1="385.90" y1="189.56" x2="388.90" y2="189.56" stroke="#111" stroke-width="1.0"/>
<text x="382.80" y="192.68" font-size="8.97" stroke="#1a1a1a" stroke-width="0.12" text-anchor="end" textLength="12.68" lengthAdjust="spacingAndGlyphs">150</text>
<line x1="385.90" y1="173.68" x2="388.90" y2="173.68" stroke="#111" stroke-width="1.0"/>
<text x="382.80" y="176.80" font-size="8.97" stroke="#1a1a1a" stroke-width="0.12" text-anchor="end" textLength="12.68" lengthAdjust="spacingAndGlyphs">200</text>
<line x1="385.90" y1="157.80" x2="388.90" y2="157.80" stroke="#111" stroke-width="1.0"/>
<text x="382.80" y="160.92" font-size="8.97" stroke="#1a1a1a" stroke-width="0.12" text-anchor="end" textLength="12.68" lengthAdjust="spacingAndGlyphs">250</text>
<rect x="395.40" y="191.50" width="25.80" height="45.70" fill="#9ab5cd"/>
<rect x="434.60" y="202.60" width="25.90" height="34.60" fill="#abdcb0"/>
<rect x="473.90" y="211.80" width="25.80" height="25.40" fill="#e89fab"/>
<circle cx="405.70" cy="174.30" r="2.3" fill="#0e4d8e"/>
<circle cx="410.70" cy="174.30" r="2.3" fill="#0e4d8e"/>
<circle cx="413.60" cy="179.00" r="2.3" fill="#0e4d8e"/>
<circle cx="403.10" cy="183.70" r="2.3" fill="#0e4d8e"/>
<circle cx="403.10" cy="186.70" r="2.3" fill="#0e4d8e"/>
<circle cx="408.70" cy="183.70" r="2.3" fill="#0e4d8e"/>
<circle cx="409.10" cy="186.70" r="2.3" fill="#0e4d8e"/>
<circle cx="413.40" cy="192.70" r="2.3" fill="#0e4d8e"/>
<circle cx="413.40" cy="195.70" r="2.3" fill="#0e4d8e"/>
<circle cx="418.50" cy="195.30" r="2.3" fill="#0e4d8e"/>
<circle cx="398.00" cy="200.40" r="2.3" fill="#0e4d8e"/>
<circle cx="403.60" cy="200.40" r="2.3" fill="#0e4d8e"/>
<circle cx="407.80" cy="202.10" r="2.3" fill="#0e4d8e"/>
<circle cx="405.70" cy="205.10" r="2.3" fill="#0e4d8e"/>
<circle cx="410.80" cy="209.40" r="2.3" fill="#0e4d8e"/>
<line x1="408.30" y1="180.40" x2="408.30" y2="202.50" stroke="#111" stroke-width="1.1"/>
<line x1="402.00" y1="180.40" x2="414.60" y2="180.40" stroke="#111" stroke-width="1.1"/>
<line x1="402.00" y1="202.50" x2="414.60" y2="202.50" stroke="#111" stroke-width="1.1"/>
<path d="M447.40 180.62L449.70 184.76L445.10 184.76Z" fill="#25a93a"/>
<path d="M447.40 188.72L449.70 192.86L445.10 192.86Z" fill="#25a93a"/>
<path d="M444.30 194.92L446.60 199.06L442.00 199.06Z" fill="#25a93a"/>
<path d="M450.70 197.42L453.00 201.56L448.40 201.56Z" fill="#25a93a"/>
<path d="M437.60 202.22L439.90 206.36L435.30 206.36Z" fill="#25a93a"/>
<path d="M444.30 203.42L446.60 207.56L442.00 207.56Z" fill="#25a93a"/>
<path d="M457.40 202.22L459.70 206.36L455.10 206.36Z" fill="#25a93a"/>
<path d="M450.70 206.92L453.00 211.06L448.40 211.06Z" fill="#25a93a"/>
<path d="M444.30 211.02L446.60 215.16L442.00 215.16Z" fill="#25a93a"/>
<path d="M450.70 214.42L453.00 218.56L448.40 218.56Z" fill="#25a93a"/>
<line x1="447.40" y1="192.40" x2="447.40" y2="212.40" stroke="#111" stroke-width="1.1"/>
<line x1="441.10" y1="192.40" x2="453.70" y2="192.40" stroke="#111" stroke-width="1.1"/>
<line x1="441.10" y1="212.40" x2="453.70" y2="212.40" stroke="#111" stroke-width="1.1"/>
<rect x="482.70" y="190.10" width="3.60" height="3.60" fill="#c8102e"/>
<rect x="487.00" y="192.90" width="3.60" height="3.60" fill="#c8102e"/>
<rect x="480.40" y="201.00" width="3.60" height="3.60" fill="#c8102e"/>
<rect x="480.40" y="204.40" width="3.60" height="3.60" fill="#c8102e"/>
<rect x="488.70" y="202.70" width="3.60" height="3.60" fill="#c8102e"/>
<rect x="485.10" y="208.60" width="3.60" height="3.60" fill="#c8102e"/>
<rect x="482.30" y="212.00" width="3.60" height="3.60" fill="#c8102e"/>
<rect x="487.20" y="213.20" width="3.60" height="3.60" fill="#c8102e"/>
<rect x="491.00" y="214.80" width="3.60" height="3.60" fill="#c8102e"/>
<rect x="495.30" y="215.10" width="3.60" height="3.60" fill="#c8102e"/>
<rect x="478.20" y="214.80" width="3.60" height="3.60" fill="#c8102e"/>
<rect x="474.10" y="216.70" width="3.60" height="3.60" fill="#c8102e"/>
<rect x="478.70" y="217.20" width="3.60" height="3.60" fill="#c8102e"/>
<rect x="482.50" y="218.20" width="3.60" height="3.60" fill="#c8102e"/>
<rect x="486.80" y="222.00" width="3.60" height="3.60" fill="#c8102e"/>
<rect x="491.00" y="223.90" width="3.60" height="3.60" fill="#c8102e"/>
<line x1="486.50" y1="202.40" x2="486.50" y2="221.40" stroke="#111" stroke-width="1.1"/>
<line x1="480.20" y1="202.40" x2="492.80" y2="202.40" stroke="#111" stroke-width="1.1"/>
<line x1="480.20" y1="221.40" x2="492.80" y2="221.40" stroke="#111" stroke-width="1.1"/>
<line x1="388.90" y1="237.20" x2="502.70" y2="237.20" stroke="#111" stroke-width="1.4"/>
<line x1="407.40" y1="158.10" x2="484.20" y2="158.10" stroke="#222" stroke-width="1.1"/>
<text x="445.80" y="159.00" font-size="8.6" stroke="#1a1a1a" stroke-width="0.12" text-anchor="middle" textLength="10.04" lengthAdjust="spacingAndGlyphs">***</text>
<line x1="407.40" y1="167.80" x2="446.20" y2="167.80" stroke="#222" stroke-width="1.1"/>
<text x="426.80" y="168.70" font-size="8.6" stroke="#1a1a1a" stroke-width="0.12" text-anchor="middle" textLength="3.35" lengthAdjust="spacingAndGlyphs">*</text>
<line x1="447.80" y1="175.40" x2="484.20" y2="175.40" stroke="#222" stroke-width="1.1"/>
<text x="466.00" y="172.80" font-size="7.99" stroke="#1a1a1a" stroke-width="0.12" text-anchor="middle" textLength="7.82" lengthAdjust="spacingAndGlyphs">ns</text>
<text x="408.30" y="247.30" font-size="8.32" stroke="#1a1a1a" stroke-width="0.12" text-anchor="middle" textLength="26.11" lengthAdjust="spacingAndGlyphs">Healthy</text>
<text x="447.40" y="247.30" font-size="8.32" stroke="#1a1a1a" stroke-width="0.12" text-anchor="middle" textLength="16.26" lengthAdjust="spacingAndGlyphs">CKD</text>
<text x="486.50" y="247.30" font-size="8.32" stroke="#1a1a1a" stroke-width="0.12" text-anchor="middle" textLength="20.97" lengthAdjust="spacingAndGlyphs">ESKD</text>
<text x="5.40" y="274.70" font-size="10.4" stroke="#000" stroke-width="0.3" font-weight="bold" fill="#000">E</text>
<circle cx="63.60" cy="278.20" r="2.4" fill="#fff" stroke="#111" stroke-width="0.9"/>
<text x="68.50" y="280.80" font-size="7.99" stroke="#1a1a1a" stroke-width="0.12" textLength="12.00" lengthAdjust="spacingAndGlyphs">Ctrl</text>
<rect x="89.00" y="276.30" width="3.80" height="3.80" fill="#000"/>
<text x="96.30" y="280.80" font-size="7.99" stroke="#1a1a1a" stroke-width="0.12" textLength="23.00" lengthAdjust="spacingAndGlyphs">CXCL8</text>
<line x1="46.10" y1="283.00" x2="46.10" y2="366.70" stroke="#111" stroke-width="1.3"/>
<line x1="43.10" y1="366.20" x2="46.10" y2="366.20" stroke="#111" stroke-width="1.0"/>
<text x="39.80" y="369.27" font-size="8.85" stroke="#1a1a1a" stroke-width="0.12" text-anchor="end" textLength="4.17" lengthAdjust="spacingAndGlyphs">0</text>
<line x1="43.10" y1="354.93" x2="46.10" y2="354.93" stroke="#111" stroke-width="1.0"/>
<text x="39.80" y="358.00" font-size="8.85" stroke="#1a1a1a" stroke-width="0.12" text-anchor="end" textLength="16.68" lengthAdjust="spacingAndGlyphs">5000</text>
<line x1="43.10" y1="343.66" x2="46.10" y2="343.66" stroke="#111" stroke-width="1.0"/>
<text x="39.80" y="346.73" font-size="8.85" stroke="#1a1a1a" stroke-width="0.12" text-anchor="end" textLength="20.85" lengthAdjust="spacingAndGlyphs">10000</text>
<line x1="43.10" y1="332.39" x2="46.10" y2="332.39" stroke="#111" stroke-width="1.0"/>
<text x="39.80" y="335.46" font-size="8.85" stroke="#1a1a1a" stroke-width="0.12" text-anchor="end" textLength="20.85" lengthAdjust="spacingAndGlyphs">15000</text>
<line x1="43.10" y1="321.12" x2="46.10" y2="321.12" stroke="#111" stroke-width="1.0"/>
<text x="39.80" y="324.19" font-size="8.85" stroke="#1a1a1a" stroke-width="0.12" text-anchor="end" textLength="20.85" lengthAdjust="spacingAndGlyphs">20000</text>
<line x1="43.10" y1="309.85" x2="46.10" y2="309.85" stroke="#111" stroke-width="1.0"/>
<text x="39.80" y="312.93" font-size="8.85" stroke="#1a1a1a" stroke-width="0.12" text-anchor="end" textLength="20.85" lengthAdjust="spacingAndGlyphs">25000</text>
<line x1="43.10" y1="298.58" x2="46.10" y2="298.58" stroke="#111" stroke-width="1.0"/>
<text x="39.80" y="301.65" font-size="8.85" stroke="#1a1a1a" stroke-width="0.12" text-anchor="end" textLength="20.85" lengthAdjust="spacingAndGlyphs">30000</text>
<line x1="43.10" y1="287.31" x2="46.10" y2="287.31" stroke="#111" stroke-width="1.0"/>
<text x="39.80" y="290.38" font-size="8.85" stroke="#1a1a1a" stroke-width="0.12" text-anchor="end" textLength="20.85" lengthAdjust="spacingAndGlyphs">35000</text>
<text x="11.90" y="324.00" font-size="8.64" stroke="#1a1a1a" stroke-width="0.12" text-anchor="middle" textLength="71.50" lengthAdjust="spacingAndGlyphs" transform="rotate(-90 11.90 324.00)">Migrated neutrophils</text>
<rect x="51.90" y="353.00" width="11.60" height="13.20" fill="#86b1d8"/>
<rect x="70.00" y="316.70" width="11.30" height="49.50" fill="#a88cc0"/>
<rect x="96.10" y="352.20" width="11.60" height="14.00" fill="#e8899e"/>
<rect x="114.00" y="335.60" width="11.50" height="30.60" fill="#fcc27c"/>
<circle cx="57.00" cy="341.60" r="2.3" fill="#fff" stroke="#111" stroke-width="0.9"/>
<circle cx="59.60" cy="342.60" r="2.3" fill="#fff" stroke="#111" stroke-width="0.9"/>
<circle cx="55.40" cy="345.00" r="2.3" fill="#fff" stroke="#111" stroke-width="0.9"/>
<circle cx="57.90" cy="345.60" r="2.3" fill="#fff" stroke="#111" stroke-width="0.9"/>
<circle cx="56.10" cy="353.40" r="2.3" fill="#fff" stroke="#111" stroke-width="0.9"/>
<circle cx="57.20" cy="354.60" r="2.3" fill="#fff" stroke="#111" stroke-width="0.9"/>
<circle cx="57.90" cy="359.40" r="2.3" fill="#fff" stroke="#111" stroke-width="0.9"/>
<circle cx="60.40" cy="360.40" r="2.3" fill="#fff" stroke="#111" stroke-width="0.9"/>
<circle cx="58.60" cy="361.20" r="2.3" fill="#fff" stroke="#111" stroke-width="0.9"/>
<circle cx="99.50" cy="342.10" r="2.3" fill="#fff" stroke="#111" stroke-width="0.9"/>
<circle cx="104.10" cy="342.10" r="2.3" fill="#fff" stroke="#111" stroke-width="0.9"/>
<circle cx="99.80" cy="345.00" r="2.3" fill="#fff" stroke="#111" stroke-width="0.9"/>
<circle cx="103.30" cy="344.80" r="2.3" fill="#fff" stroke="#111" stroke-width="0.9"/>
<circle cx="101.60" cy="351.00" r="2.3" fill="#fff" stroke="#111" stroke-width="0.9"/>
<circle cx="99.50" cy="357.00" r="2.3" fill="#fff" stroke="#111" stroke-width="0.9"/>
<circle cx="102.40" cy="360.40" r="2.3" fill="#fff" stroke="#111" stroke-width="0.9"/>
<circle cx="105.00" cy="360.10" r="2.3" fill="#fff" stroke="#111" stroke-width="0.9"/>
<rect x="73.60" y="297.50" width="3.80" height="3.80" fill="#000"/>
<rect x="74.60" y="302.10" width="3.80" height="3.80" fill="#000"/>
<rect x="72.10" y="308.10" width="3.80" height="3.80" fill="#000"/>
<rect x="73.30" y="315.90" width="3.80" height="3.80" fill="#000"/>
<rect x="71.60" y="320.60" width="3.80" height="3.80" fill="#000"/>
<rect x="74.10" y="322.60" width="3.80" height="3.80" fill="#000"/>
<rect x="75.60" y="326.10" width="3.80" height="3.80" fill="#000"/>
<rect x="73.10" y="325.70" width="3.80" height="3.80" fill="#000"/>
<rect x="117.90" y="324.10" width="3.80" height="3.80" fill="#000"/>
<rect x="115.40" y="327.60" width="3.80" height="3.80" fill="#000"/>
<rect x="118.60" y="331.10" width="3.80" height="3.80" fill="#000"/>
<rect x="120.10" y="334.10" width="3.80" height="3.80" fill="#000"/>
<rect x="117.30" y="337.30" width="3.80" height="3.80" fill="#000"/>
<rect x="114.90" y="340.10" width="3.80" height="3.80" fill="#000"/>
<rect x="118.10" y="340.70" width="3.80" height="3.80" fill="#000"/>
<line x1="57.70" y1="343.30" x2="57.70" y2="360.40" stroke="#111" stroke-width="1.0"/>
<line x1="55.20" y1="343.30" x2="60.20" y2="343.30" stroke="#111" stroke-width="1.0"/>
<line x1="55.20" y1="360.40" x2="60.20" y2="360.40" stroke="#111" stroke-width="1.0"/>
<line x1="75.60" y1="303.90" x2="75.60" y2="327.00" stroke="#111" stroke-width="1.0"/>
<line x1="72.60" y1="303.90" x2="78.60" y2="303.90" stroke="#111" stroke-width="1.0"/>
<line x1="72.60" y1="327.00" x2="78.60" y2="327.00" stroke="#111" stroke-width="1.0"/>
<line x1="101.90" y1="342.40" x2="101.90" y2="358.70" stroke="#111" stroke-width="1.0"/>
<line x1="99.40" y1="342.40" x2="104.40" y2="342.40" stroke="#111" stroke-width="1.0"/>
<line x1="99.40" y1="358.70" x2="104.40" y2="358.70" stroke="#111" stroke-width="1.0"/>
<line x1="119.80" y1="327.80" x2="119.80" y2="341.60" stroke="#111" stroke-width="1.0"/>
<line x1="116.80" y1="327.80" x2="122.80" y2="327.80" stroke="#111" stroke-width="1.0"/>
<line x1="116.80" y1="341.60" x2="122.80" y2="341.60" stroke="#111" stroke-width="1.0"/>
<line x1="46.10" y1="366.20" x2="126.40" y2="366.20" stroke="#111" stroke-width="1.4"/>
<line x1="58.40" y1="294.20" x2="74.10" y2="294.20" stroke="#222" stroke-width="1.1"/>
<text x="66.25" y="295.10" font-size="8.6" stroke="#1a1a1a" stroke-width="0.12" text-anchor="middle" textLength="10.04" lengthAdjust="spacingAndGlyphs">***</text>
<line x1="75.80" y1="294.20" x2="119.00" y2="294.20" stroke="#222" stroke-width="1.1"/>
<text x="97.40" y="295.10" font-size="8.6" stroke="#1a1a1a" stroke-width="0.12" text-anchor="middle" textLength="6.69" lengthAdjust="spacingAndGlyphs">**</text>
<line x1="103.30" y1="321.50" x2="118.70" y2="321.50" stroke="#222" stroke-width="1.1"/>
<text x="111.00" y="322.40" font-size="8.6" stroke="#1a1a1a" stroke-width="0.12" text-anchor="middle" textLength="3.35" lengthAdjust="spacingAndGlyphs">*</text>
<text x="67.00" y="375.30" font-size="8.42" stroke="#1a1a1a" stroke-width="0.12" text-anchor="middle" textLength="26.45" lengthAdjust="spacingAndGlyphs">Healthy</text>
<text x="109.00" y="375.30" font-size="8.42" stroke="#1a1a1a" stroke-width="0.12" text-anchor="middle" textLength="21.24" lengthAdjust="spacingAndGlyphs">ESKD</text>
<text x="141.60" y="274.70" font-size="10.4" stroke="#000" stroke-width="0.3" font-weight="bold" fill="#000">F</text>
<circle cx="196.80" cy="278.20" r="2.4" fill="#fff" stroke="#111" stroke-width="0.9"/>
<text x="201.70" y="280.80" font-size="7.99" stroke="#1a1a1a" stroke-width="0.12" textLength="12.00" lengthAdjust="spacingAndGlyphs">Ctrl</text>
<rect x="223.50" y="276.30" width="3.80" height="3.80" fill="#000"/>
<text x="230.40" y="280.80" font-size="7.99" stroke="#1a1a1a" stroke-width="0.12" textLength="17.27" lengthAdjust="spacingAndGlyphs">fMLP</text>
<line x1="182.50" y1="283.00" x2="182.50" y2="366.70" stroke="#111" stroke-width="1.3"/>
<line x1="179.50" y1="366.20" x2="182.50" y2="366.20" stroke="#111" stroke-width="1.0"/>
<text x="176.20" y="369.27" font-size="8.85" stroke="#1a1a1a" stroke-width="0.12" text-anchor="end" textLength="4.17" lengthAdjust="spacingAndGlyphs">0</text>
<line x1="179.50" y1="356.34" x2="182.50" y2="356.34" stroke="#111" stroke-width="1.0"/>
<text x="176.20" y="359.41" font-size="8.85" stroke="#1a1a1a" stroke-width="0.12" text-anchor="end" textLength="20.85" lengthAdjust="spacingAndGlyphs">10000</text>
<line x1="179.50" y1="346.48" x2="182.50" y2="346.48" stroke="#111" stroke-width="1.0"/>
<text x="176.20" y="349.56" font-size="8.85" stroke="#1a1a1a" stroke-width="0.12" text-anchor="end" textLength="20.85" lengthAdjust="spacingAndGlyphs">20000</text>
<line x1="179.50" y1="336.62" x2="182.50" y2="336.62" stroke="#111" stroke-width="1.0"/>
<text x="176.20" y="339.69" font-size="8.85" stroke="#1a1a1a" stroke-width="0.12" text-anchor="end" textLength="20.85" lengthAdjust="spacingAndGlyphs">30000</text>
<line x1="179.50" y1="326.76" x2="182.50" y2="326.76" stroke="#111" stroke-width="1.0"/>
<text x="176.20" y="329.83" font-size="8.85" stroke="#1a1a1a" stroke-width="0.12" text-anchor="end" textLength="20.85" lengthAdjust="spacingAndGlyphs">40000</text>
<line x1="179.50" y1="316.90" x2="182.50" y2="316.90" stroke="#111" stroke-width="1.0"/>
<text x="176.20" y="319.97" font-size="8.85" stroke="#1a1a1a" stroke-width="0.12" text-anchor="end" textLength="20.85" lengthAdjust="spacingAndGlyphs">50000</text>
<line x1="179.50" y1="307.04" x2="182.50" y2="307.04" stroke="#111" stroke-width="1.0"/>
<text x="176.20" y="310.11" font-size="8.85" stroke="#1a1a1a" stroke-width="0.12" text-anchor="end" textLength="20.85" lengthAdjust="spacingAndGlyphs">60000</text>
<line x1="179.50" y1="297.18" x2="182.50" y2="297.18" stroke="#111" stroke-width="1.0"/>
<text x="176.20" y="300.25" font-size="8.85" stroke="#1a1a1a" stroke-width="0.12" text-anchor="end" textLength="20.85" lengthAdjust="spacingAndGlyphs">70000</text>
<line x1="179.50" y1="287.32" x2="182.50" y2="287.32" stroke="#111" stroke-width="1.0"/>
<text x="176.20" y="290.39" font-size="8.85" stroke="#1a1a1a" stroke-width="0.12" text-anchor="end" textLength="20.85" lengthAdjust="spacingAndGlyphs">80000</text>
<text x="147.70" y="324.20" font-size="8.64" stroke="#1a1a1a" stroke-width="0.12" text-anchor="middle" textLength="71.30" lengthAdjust="spacingAndGlyphs" transform="rotate(-90 147.70 324.20)">Migrated neutrophils</text>
<rect x="188.70" y="361.10" width="11.30" height="5.10" fill="#86b1d8"/>
<rect x="206.50" y="312.90" width="11.30" height="53.30" fill="#a88cc0"/>
<rect x="232.90" y="360.30" width="11.30" height="5.90" fill="#e8899e"/>
<rect x="250.70" y="342.50" width="11.70" height="23.70" fill="#fcc27c"/>
<circle cx="195.00" cy="356.00" r="2.3" fill="#fff" stroke="#111" stroke-width="0.9"/>
<circle cx="192.20" cy="359.00" r="2.3" fill="#fff" stroke="#111" stroke-width="0.9"/>
<circle cx="195.60" cy="360.80" r="2.3" fill="#fff" stroke="#111" stroke-width="0.9"/>
<circle cx="192.80" cy="362.60" r="2.3" fill="#fff" stroke="#111" stroke-width="0.9"/>
<circle cx="197.00" cy="363.40" r="2.3" fill="#fff" stroke="#111" stroke-width="0.9"/>
<circle cx="194.40" cy="364.00" r="2.3" fill="#fff" stroke="#111" stroke-width="0.9"/>
<circle cx="238.40" cy="356.00" r="2.3" fill="#fff" stroke="#111" stroke-width="0.9"/>
<circle cx="235.80" cy="358.60" r="2.3" fill="#fff" stroke="#111" stroke-width="0.9"/>
<circle cx="239.20" cy="360.20" r="2.3" fill="#fff" stroke="#111" stroke-width="0.9"/>
<circle cx="236.40" cy="361.80" r="2.3" fill="#fff" stroke="#111" stroke-width="0.9"/>
<circle cx="240.60" cy="362.80" r="2.3" fill="#fff" stroke="#111" stroke-width="0.9"/>
<circle cx="238.20" cy="364.20" r="2.3" fill="#fff" stroke="#111" stroke-width="0.9"/>
<rect x="212.60" y="297.30" width="4.00" height="4.00" fill="#000"/>
<rect x="206.90" y="300.00" width="4.00" height="4.00" fill="#000"/>
<rect x="206.90" y="312.10" width="4.00" height="4.00" fill="#000"/>
<rect x="212.60" y="313.00" width="4.00" height="4.00" fill="#000"/>
<rect x="206.90" y="315.40" width="4.00" height="4.00" fill="#000"/>
<rect x="212.60" y="319.40" width="4.00" height="4.00" fill="#000"/>
<rect x="209.30" y="317.00" width="4.00" height="4.00" fill="#000"/>
<rect x="256.80" y="327.50" width="4.00" height="4.00" fill="#000"/>
<rect x="252.30" y="331.60" width="4.00" height="4.00" fill="#000"/>
<rect x="251.40" y="334.60" width="4.00" height="4.00" fill="#000"/>
<rect x="251.40" y="336.60" width="4.00" height="4.00" fill="#000"/>
<rect x="257.10" y="343.70" width="4.00" height="4.00" fill="#000"/>
<rect x="252.30" y="348.60" width="4.00" height="4.00" fill="#000"/>
<rect x="251.40" y="349.70" width="4.00" height="4.00" fill="#000"/>
<rect x="257.10" y="355.10" width="4.00" height="4.00" fill="#000"/>
<line x1="212.20" y1="302.50" x2="212.20" y2="322.20" stroke="#111" stroke-width="1.0"/>
<line x1="209.20" y1="302.50" x2="215.20" y2="302.50" stroke="#111" stroke-width="1.0"/>
<line x1="209.20" y1="322.20" x2="215.20" y2="322.20" stroke="#111" stroke-width="1.0"/>
<line x1="256.70" y1="332.00" x2="256.70" y2="351.40" stroke="#111" stroke-width="1.0"/>
<line x1="253.70" y1="332.00" x2="259.70" y2="332.00" stroke="#111" stroke-width="1.0"/>
<line x1="253.70" y1="351.40" x2="259.70" y2="351.40" stroke="#111" stroke-width="1.0"/>
<line x1="194.40" y1="357.00" x2="194.40" y2="363.50" stroke="#111" stroke-width="0.9"/>
<line x1="192.40" y1="357.00" x2="196.40" y2="357.00" stroke="#111" stroke-width="0.9"/>
<line x1="192.40" y1="363.50" x2="196.40" y2="363.50" stroke="#111" stroke-width="0.9"/>
<line x1="238.20" y1="357.00" x2="238.20" y2="363.50" stroke="#111" stroke-width="0.9"/>
<line x1="236.20" y1="357.00" x2="240.20" y2="357.00" stroke="#111" stroke-width="0.9"/>
<line x1="236.20" y1="363.50" x2="240.20" y2="363.50" stroke="#111" stroke-width="0.9"/>
<line x1="182.50" y1="366.20" x2="263.00" y2="366.20" stroke="#111" stroke-width="1.4"/>
<line x1="194.30" y1="294.40" x2="210.50" y2="294.40" stroke="#222" stroke-width="1.1"/>
<text x="202.40" y="295.30" font-size="8.6" stroke="#1a1a1a" stroke-width="0.12" text-anchor="middle" textLength="10.04" lengthAdjust="spacingAndGlyphs">***</text>
<line x1="213.00" y1="294.40" x2="255.60" y2="294.40" stroke="#222" stroke-width="1.1"/>
<text x="234.30" y="295.30" font-size="8.6" stroke="#1a1a1a" stroke-width="0.12" text-anchor="middle" textLength="10.04" lengthAdjust="spacingAndGlyphs">***</text>
<line x1="239.70" y1="325.00" x2="255.60" y2="325.00" stroke="#222" stroke-width="1.1"/>
<text x="247.65" y="325.90" font-size="8.6" stroke="#1a1a1a" stroke-width="0.12" text-anchor="middle" textLength="6.69" lengthAdjust="spacingAndGlyphs">**</text>
<text x="203.30" y="375.30" font-size="8.42" stroke="#1a1a1a" stroke-width="0.12" text-anchor="middle" textLength="26.45" lengthAdjust="spacingAndGlyphs">Healthy</text>
<text x="246.10" y="375.30" font-size="8.42" stroke="#1a1a1a" stroke-width="0.12" text-anchor="middle" textLength="21.24" lengthAdjust="spacingAndGlyphs">ESKD</text>
<text x="273.40" y="274.40" font-size="10.4" stroke="#000" stroke-width="0.3" font-weight="bold" fill="#000">G</text>
<path d="M325.0 340.7h.1M322.1 349.0h.1M320.3 349.3h.1M320.5 344.4h.1M322.8 342.7h.1M314.6 344.7h.1M325.5 354.4h.1M323.8 340.8h.1M320.5 346.9h.1M320.2 350.9h.1M330.5 336.4h.1M321.1 350.0h.1M314.3 354.3h.1M319.8 339.2h.1M316.9 353.4h.1M319.6 345.1h.1M317.8 349.6h.1M321.5 347.2h.1M324.9 343.2h.1M329.5 342.6h.1M313.9 358.3h.1M319.8 338.8h.1M323.5 347.7h.1M319.7 356.0h.1M315.4 346.3h.1M322.3 349.8h.1M327.2 339.2h.1M321.2 344.2h.1M325.2 342.3h.1M327.2 340.6h.1M321.7 350.6h.1M322.0 353.7h.1M323.1 344.4h.1M322.8 345.0h.1M326.8 354.2h.1M315.5 349.9h.1M323.2 342.7h.1M316.7 352.5h.1M320.6 353.5h.1M324.2 349.9h.1M320.3 340.6h.1M323.0 352.7h.1M315.7 348.9h.1M323.6 360.5h.1M320.8 344.0h.1M319.8 357.0h.1M321.2 345.9h.1M321.6 351.6h.1M319.2 346.1h.1M321.2 348.5h.1M317.0 354.5h.1M323.2 345.0h.1M321.0 353.1h.1M320.5 345.9h.1M320.2 347.2h.1M319.2 342.3h.1M320.1 348.6h.1M325.2 338.1h.1M324.3 348.4h.1M320.1 353.7h.1M316.6 350.4h.1M326.8 341.4h.1M328.0 345.3h.1M321.6 345.7h.1M312.4 354.2h.1M329.3 350.5h.1M322.6 348.9h.1M323.7 348.1h.1M327.4 353.8h.1M321.3 342.4h.1M321.2 349.7h.1M314.2 346.7h.1M319.5 353.5h.1M324.6 344.7h.1M316.2 350.6h.1M313.1 355.1h.1M318.3 351.2h.1M318.4 350.6h.1M332.4 339.8h.1M316.5 353.5h.1M315.2 356.3h.1M317.1 353.1h.1M315.0 347.4h.1M317.3 350.8h.1M308.6 359.1h.1M323.4 345.0h.1M315.8 342.2h.1M314.6 350.9h.1M321.0 349.6h.1M321.0 334.4h.1M315.9 346.2h.1M322.9 351.3h.1M319.8 341.3h.1M319.9 349.7h.1M321.2 349.6h.1M323.0 337.9h.1M314.7 347.2h.1M319.3 360.4h.1M314.4 354.9h.1M325.7 343.8h.1M322.5 340.6h.1M321.9 348.9h.1M316.4 346.9h.1M320.8 339.4h.1M320.1 342.7h.1M315.3 353.0h.1M318.5 347.9h.1M317.1 352.1h.1M322.3 348.6h.1M316.5 351.6h.1M325.2 347.2h.1M320.5 344.4h.1M325.6 344.8h.1M330.2 341.6h.1M327.1 349.3h.1M319.1 338.2h.1M327.3 348.9h.1M315.5 345.4h.1M324.6 351.3h.1M319.8 349.7h.1M323.1 346.8h.1M318.4 346.0h.1M320.4 354.9h.1M323.4 348.5h.1M319.3 347.1h.1M326.2 335.7h.1M326.6 344.5h.1M320.9 354.8h.1M325.7 345.4h.1M323.0 342.4h.1M318.3 352.3h.1M327.2 344.0h.1M320.6 353.9h.1M324.6 349.5h.1M323.2 345.3h.1M324.8 337.3h.1M318.1 354.5h.1M327.5 340.5h.1M323.0 341.3h.1M320.1 352.3h.1M322.1 340.7h.1M320.3 350.7h.1M319.4 346.6h.1M327.9 350.5h.1M327.5 345.2h.1M323.7 345.4h.1M316.5 346.8h.1M320.3 341.2h.1M321.3 352.0h.1M319.9 348.7h.1M320.4 350.9h.1M315.8 346.1h.1M315.1 347.7h.1M320.3 349.8h.1M318.1 351.3h.1M316.1 347.2h.1M317.8 347.9h.1M325.9 345.1h.1M324.7 339.2h.1M322.6 349.2h.1M323.1 355.2h.1M324.7 344.3h.1M325.9 340.9h.1M320.9 344.3h.1M323.5 351.7h.1M314.4 349.2h.1M318.8 344.4h.1M324.3 342.5h.1M317.0 345.0h.1M321.9 352.8h.1M319.4 346.5h.1M319.7 353.4h.1M321.6 345.0h.1M317.8 351.4h.1M316.4 355.4h.1M318.2 339.8h.1M320.4 342.0h.1M317.8 350.0h.1M321.9 351.7h.1M323.2 349.1h.1M314.3 352.0h.1M323.9 349.0h.1M329.2 342.8h.1M325.9 344.9h.1M324.8 358.8h.1M321.9 337.8h.1M322.0 339.5h.1M317.9 351.1h.1M317.8 346.8h.1M317.7 353.5h.1M325.6 344.0h.1M323.1 344.5h.1M322.3 346.5h.1M325.7 343.0h.1M323.9 348.2h.1M319.6 345.9h.1M316.6 350.6h.1M324.7 349.6h.1M321.2 345.4h.1M317.2 348.6h.1M318.7 353.4h.1M317.1 352.0h.1M320.6 349.4h.1M321.9 346.0h.1M324.2 346.9h.1M327.4 343.6h.1M318.4 346.7h.1M317.6 345.6h.1M320.9 358.3h.1M318.4 347.6h.1M314.4 348.5h.1M311.8 350.4h.1M326.3 339.3h.1M321.0 343.8h.1M316.4 343.5h.1M318.0 346.7h.1M321.2 340.8h.1M321.5 353.6h.1M319.1 352.4h.1M319.6 350.2h.1M315.4 348.7h.1M323.6 342.5h.1M319.7 354.3h.1M323.2 345.4h.1M329.4 341.2h.1M320.9 348.6h.1M321.8 351.1h.1M324.3 345.6h.1M324.1 339.3h.1M328.2 345.0h.1M322.5 347.8h.1M330.6 337.8h.1M315.0 350.6h.1M315.0 350.5h.1M321.0 346.7h.1M315.7 351.3h.1M323.3 348.2h.1M325.4 343.4h.1M322.7 353.0h.1M321.1 351.5h.1M320.4 341.6h.1M327.8 343.1h.1M321.9 342.2h.1M315.6 351.9h.1M322.1 346.6h.1M313.0 360.7h.1M325.9 346.7h.1M327.4 355.7h.1M321.3 350.1h.1M325.8 349.5h.1M318.0 351.3h.1M324.4 344.6h.1M319.7 346.7h.1M323.1 341.7h.1M331.1 340.3h.1M322.1 349.0h.1M325.6 343.4h.1M322.4 340.5h.1M324.3 353.6h.1M321.0 346.8h.1M318.0 348.5h.1M316.0 355.7h.1M322.4 349.9h.1M321.9 351.3h.1M328.7 345.1h.1M315.6 349.8h.1M317.3 351.0h.1M328.5 345.9h.1M325.7 355.0h.1M318.3 348.2h.1M321.4 346.7h.1M316.3 345.5h.1M311.7 357.5h.1M320.3 343.3h.1M321.7 346.2h.1M317.3 346.2h.1M324.2 348.7h.1M326.1 339.4h.1M318.4 350.4h.1M321.0 353.8h.1M315.3 355.3h.1M319.1 343.1h.1M324.7 342.2h.1M325.4 354.8h.1M324.2 343.4h.1M322.5 348.8h.1M321.6 345.7h.1M319.8 348.4h.1M323.7 346.8h.1M311.4 346.3h.1M320.1 341.5h.1M312.5 357.7h.1M318.0 351.0h.1M327.0 347.6h.1M330.8 347.9h.1M323.4 348.2h.1M323.5 346.5h.1M325.3 345.3h.1M321.4 357.0h.1M315.4 350.6h.1M322.7 342.1h.1M319.9 350.7h.1M321.8 348.5h.1M313.3 348.0h.1M324.1 345.7h.1M310.3 354.8h.1M323.0 349.6h.1M317.7 358.6h.1M315.9 341.7h.1M318.6 355.0h.1M321.9 347.8h.1M314.5 354.4h.1M324.3 348.8h.1M329.8 346.6h.1M325.5 343.9h.1M319.7 343.0h.1M315.1 348.1h.1M316.6 347.5h.1M317.7 346.6h.1M321.2 354.8h.1M317.1 355.9h.1M323.8 343.3h.1M320.6 354.1h.1M314.4 358.6h.1M322.9 345.2h.1M320.2 343.8h.1M318.0 348.7h.1M320.4 349.0h.1M319.2 343.4h.1M326.0 350.6h.1M316.7 355.5h.1M316.8 351.1h.1M326.1 346.0h.1M322.8 338.2h.1M327.2 344.8h.1M320.7 348.9h.1M328.6 347.7h.1M321.8 343.1h.1M317.8 350.5h.1M319.4 345.1h.1M318.5 344.0h.1M321.1 349.4h.1M313.8 352.7h.1M321.0 349.9h.1M317.2 350.0h.1M323.8 350.2h.1M309.2 350.5h.1M325.7 343.1h.1M324.3 342.9h.1M322.4 345.6h.1M313.3 356.1h.1M321.6 358.2h.1M322.9 342.2h.1M323.5 346.6h.1M318.6 350.0h.1M319.7 347.6h.1M318.7 352.2h.1M324.3 346.9h.1M322.5 338.4h.1M317.8 349.9h.1M313.3 351.1h.1M326.5 341.6h.1M323.9 337.8h.1M320.1 344.5h.1M328.2 340.6h.1M319.7 349.9h.1M325.4 343.4h.1M318.4 351.1h.1M323.1 347.1h.1M320.8 348.7h.1M315.8 349.0h.1M322.1 347.4h.1M322.9 342.7h.1M317.6 351.7h.1M326.0 341.7h.1M315.3 353.4h.1M319.6 343.3h.1M325.9 347.7h.1M325.1 353.1h.1M318.8 349.3h.1M322.8 352.3h.1M326.2 341.9h.1M321.6 342.8h.1M317.6 348.0h.1M319.1 349.2h.1M320.0 346.8h.1M316.3 353.3h.1M321.1 346.9h.1M315.0 350.2h.1M320.3 354.5h.1M316.7 347.5h.1M318.4 345.2h.1M321.5 353.0h.1M321.8 351.4h.1M323.3 353.4h.1M323.8 344.3h.1M317.7 349.0h.1M319.7 357.3h.1M321.5 346.5h.1M320.2 348.4h.1M319.2 345.4h.1M319.6 352.7h.1M320.0 334.3h.1M317.9 356.2h.1M313.7 346.7h.1M324.1 348.5h.1M315.7 346.4h.1M319.7 354.4h.1M327.0 354.1h.1M318.2 350.6h.1M314.1 351.4h.1M326.0 352.3h.1M317.5 350.6h.1M313.5 352.7h.1M322.9 352.8h.1M314.5 340.1h.1M314.4 348.9h.1M311.3 354.9h.1M319.8 345.3h.1M313.8 346.4h.1M322.1 351.5h.1M321.3 353.9h.1M321.9 346.1h.1M319.8 347.2h.1M310.8 354.1h.1M320.3 352.0h.1M320.6 344.0h.1M320.4 352.7h.1M323.7 350.2h.1M316.7 355.1h.1M319.4 336.9h.1M317.9 346.8h.1M322.0 355.0h.1M325.3 342.8h.1M327.1 347.2h.1M313.1 346.2h.1M320.5 348.0h.1M321.2 346.4h.1M315.3 346.5h.1M323.0 340.6h.1M326.1 346.0h.1M317.5 356.9h.1M321.2 344.1h.1M320.6 350.6h.1M324.5 350.0h.1M315.3 350.0h.1M320.8 350.1h.1M322.8 351.8h.1M315.6 352.1h.1M323.7 351.9h.1M325.5 340.2h.1M326.0 347.1h.1M319.5 356.2h.1M318.7 353.3h.1M320.7 346.5h.1M323.5 339.7h.1M323.4 345.1h.1M315.6 357.9h.1M321.6 356.0h.1M317.2 353.4h.1M326.5 341.4h.1M329.6 344.9h.1M323.5 346.0h.1M326.1 342.7h.1M325.2 351.5h.1M324.3 343.3h.1M320.7 350.9h.1M323.7 348.4h.1M322.2 345.3h.1M315.9 349.0h.1M315.4 347.4h.1M320.0 348.3h.1M325.2 348.4h.1M323.9 349.6h.1M331.1 342.3h.1M329.1 340.8h.1M321.0 343.8h.1M316.3 346.0h.1M314.4 355.1h.1M319.0 349.4h.1M321.6 342.2h.1M324.9 347.5h.1M322.2 340.9h.1M322.7 348.9h.1M323.4 349.0h.1M316.0 344.7h.1M318.9 348.5h.1M321.6 355.0h.1M321.4 352.6h.1M324.5 343.0h.1M315.3 349.9h.1M321.8 342.2h.1M320.1 349.9h.1M324.3 350.7h.1M317.6 356.5h.1M320.9 347.4h.1M321.9 348.0h.1M323.9 348.2h.1M313.4 348.8h.1M317.2 347.7h.1M321.7 346.9h.1M322.0 354.0h.1M318.1 359.5h.1M314.1 354.0h.1M316.7 354.9h.1M320.3 344.3h.1M320.0 346.9h.1M320.9 349.0h.1M324.7 339.7h.1M314.4 354.8h.1M321.6 339.5h.1M315.2 347.0h.1M323.8 342.1h.1M321.1 349.0h.1M320.3 352.9h.1M317.1 348.9h.1M321.2 342.9h.1M326.3 347.4h.1M319.5 353.0h.1M323.6 349.4h.1M318.9 347.6h.1M316.2 351.0h.1M324.6 334.7h.1M323.0 351.0h.1M314.1 351.7h.1M310.9 353.0h.1M316.8 349.8h.1M326.6 347.1h.1M318.2 352.5h.1M316.3 356.9h.1M323.0 345.4h.1M322.8 344.8h.1M320.8 347.1h.1M318.0 343.7h.1M331.4 341.9h.1M327.1 337.2h.1M328.0 344.4h.1M318.1 342.4h.1M321.2 351.0h.1M319.0 343.6h.1M316.7 346.6h.1M317.8 354.7h.1M315.4 363.4h.1M322.3 354.5h.1M327.4 346.1h.1M317.3 352.1h.1M323.1 349.5h.1M318.2 348.5h.1M316.6 351.4h.1M319.4 352.0h.1M324.2 342.0h.1M326.5 344.5h.1M314.9 346.0h.1M322.2 353.3h.1M313.3 356.5h.1M323.4 353.4h.1M325.2 348.5h.1M318.9 343.8h.1M322.7 344.8h.1M326.5 343.4h.1M322.3 340.8h.1M320.3 344.2h.1M319.7 347.9h.1M325.2 345.9h.1M323.5 349.7h.1M320.5 346.0h.1M323.9 348.5h.1M326.4 348.7h.1M322.7 351.0h.1M318.7 346.8h.1M325.9 334.6h.1M321.0 349.8h.1M323.0 350.0h.1M323.9 346.1h.1M319.3 348.1h.1M320.2 343.3h.1M324.2 350.9h.1M322.9 343.8h.1M324.4 354.5h.1M316.6 347.6h.1M324.0 340.9h.1M321.0 343.8h.1M324.2 354.5h.1M323.3 352.1h.1M319.1 347.8h.1M318.6 339.5h.1M326.1 347.1h.1M320.8 349.0h.1M316.9 347.4h.1M316.7 345.3h.1M324.4 345.0h.1M321.0 346.6h.1M322.7 346.1h.1M325.3 343.5h.1M323.0 342.4h.1M322.4 343.9h.1M327.0 342.5h.1M319.3 349.9h.1M318.0 351.0h.1M320.3 353.2h.1M317.5 341.0h.1M326.6 346.9h.1M321.5 349.9h.1M320.1 344.6h.1M321.3 346.3h.1M325.4 348.8h.1M327.1 341.8h.1M312.3 350.5h.1M322.1 339.8h.1M325.9 341.3h.1M323.8 354.8h.1M326.2 344.5h.1M317.4 352.5h.1M321.7 350.6h.1M320.0 349.6h.1M321.2 345.8h.1M326.0 342.4h.1M318.2 338.9h.1M323.6 350.3h.1M322.8 348.5h.1M323.1 341.8h.1M321.7 341.4h.1M320.0 342.0h.1M321.9 348.2h.1M320.2 350.2h.1M319.0 352.4h.1M326.9 349.4h.1M310.7 350.5h.1M316.9 349.9h.1M314.7 353.2h.1M326.1 345.8h.1M318.7 350.1h.1M315.3 351.2h.1M326.5 340.5h.1M319.6 352.8h.1M324.5 352.7h.1M319.2 352.6h.1M319.3 348.0h.1M316.4 352.2h.1M319.8 344.7h.1M323.8 346.6h.1M321.3 352.7h.1M318.3 350.8h.1M324.4 341.8h.1M321.6 355.8h.1M318.0 353.4h.1M319.6 353.5h.1M319.9 342.8h.1M315.8 352.5h.1M313.4 346.5h.1M314.5 349.7h.1M322.2 348.4h.1M325.8 348.3h.1M322.2 344.4h.1M319.3 343.2h.1M318.8 352.2h.1M326.4 346.6h.1M322.2 345.0h.1M322.7 351.1h.1M321.5 346.7h.1M323.2 336.7h.1M320.2 343.5h.1M321.3 345.9h.1M323.1 359.2h.1M320.8 352.0h.1M323.1 343.1h.1M324.9 343.6h.1M322.9 346.4h.1M319.1 348.2h.1M322.9 344.4h.1M319.1 349.5h.1M327.0 343.1h.1M324.5 352.3h.1M321.5 355.7h.1M327.5 335.6h.1M322.7 348.9h.1M318.2 347.8h.1M316.6 348.0h.1M320.9 348.6h.1M322.9 348.8h.1M320.0 349.1h.1M323.1 350.0h.1M323.1 349.9h.1M318.8 356.3h.1M317.7 352.3h.1M314.6 349.7h.1M327.9 348.4h.1M321.0 345.0h.1M320.2 354.0h.1M325.3 344.2h.1M317.2 351.9h.1M330.0 345.3h.1M317.0 358.6h.1M317.5 353.5h.1M321.3 344.8h.1M319.5 344.2h.1M323.0 336.7h.1M322.8 348.8h.1M316.5 352.5h.1M318.0 349.9h.1M323.2 347.8h.1M314.3 356.5h.1M321.3 351.6h.1M318.0 348.7h.1M320.3 345.8h.1M322.0 352.2h.1M311.8 358.4h.1M321.5 351.1h.1M327.1 341.5h.1M320.4 349.0h.1M311.0 353.5h.1M314.0 350.9h.1M319.3 343.8h.1M316.4 347.3h.1M327.5 343.0h.1M316.8 349.3h.1M319.9 341.9h.1M321.0 344.7h.1M322.3 345.3h.1M318.2 341.9h.1M318.0 356.6h.1M319.0 355.8h.1M320.1 345.7h.1M323.0 349.9h.1M311.9 352.7h.1M320.2 345.7h.1M321.8 345.7h.1M323.5 344.4h.1M320.0 357.0h.1M319.6 348.1h.1M318.1 346.2h.1M322.8 346.5h.1M324.0 344.2h.1M319.6 353.0h.1M322.2 344.0h.1M322.9 346.0h.1M324.0 339.5h.1M325.6 344.1h.1M320.6 344.5h.1M320.6 344.7h.1M328.5 343.3h.1M320.5 343.9h.1M321.4 347.4h.1M329.9 337.4h.1M318.5 350.0h.1M324.4 348.3h.1M323.1 341.0h.1M324.7 348.6h.1M315.4 347.1h.1M317.2 345.5h.1M321.1 348.3h.1M325.1 350.5h.1M323.8 353.7h.1M322.4 340.4h.1M322.6 345.3h.1M318.6 348.8h.1M314.9 344.3h.1M326.0 344.5h.1M320.7 346.0h.1M326.9 347.3h.1M321.8 348.5h.1M324.1 339.6h.1M323.6 339.5h.1M324.5 341.2h.1M322.7 348.1h.1M312.8 358.0h.1M326.3 357.2h.1M318.2 353.7h.1M317.8 346.0h.1M316.9 355.1h.1M323.3 351.5h.1M322.1 349.0h.1M317.1 352.1h.1M322.5 341.4h.1M324.9 336.8h.1M321.0 340.5h.1M315.7 353.2h.1M319.3 352.4h.1M318.9 347.7h.1M326.3 349.7h.1M322.6 347.8h.1M318.7 348.8h.1M323.3 344.0h.1M323.1 353.9h.1M318.9 340.6h.1M318.0 354.3h.1M329.6 351.2h.1M326.5 345.6h.1M319.3 345.0h.1M324.0 344.0h.1M320.8 346.9h.1M334.0 344.8h.1M320.5 344.5h.1M320.1 347.7h.1M319.1 349.0h.1M318.1 343.6h.1M308.3 347.4h.1M325.1 340.0h.1M323.1 347.8h.1M321.2 345.0h.1M322.5 348.7h.1M323.9 348.1h.1M319.2 355.3h.1M316.3 344.9h.1M327.9 346.4h.1M316.6 360.5h.1M323.2 349.5h.1M321.5 347.2h.1M318.6 351.8h.1M321.2 344.3h.1M322.9 347.6h.1M321.3 353.4h.1M322.7 341.6h.1M324.7 347.3h.1M317.1 351.2h.1M317.8 356.9h.1M320.9 347.3h.1M323.8 348.9h.1M323.5 356.1h.1M325.8 341.7h.1M321.6 343.9h.1M322.1 343.6h.1M328.6 339.8h.1M327.7 334.1h.1M325.0 347.8h.1M319.4 352.5h.1M321.8 352.4h.1M316.0 352.5h.1M326.0 334.0h.1M319.4 345.9h.1M318.5 354.5h.1M321.3 342.6h.1M326.7 343.3h.1M314.3 345.8h.1M319.1 346.8h.1M318.8 350.4h.1M315.9 344.6h.1M315.9 352.3h.1M314.9 348.3h.1M320.2 348.9h.1M321.4 345.8h.1M321.2 352.4h.1M320.5 343.4h.1M313.8 349.3h.1M316.3 352.1h.1M318.8 352.3h.1M324.9 342.4h.1M320.3 350.2h.1M323.5 351.7h.1M317.6 351.2h.1M324.8 340.6h.1M320.3 343.7h.1M319.6 346.5h.1M320.1 356.0h.1M323.8 345.9h.1M311.1 347.3h.1M324.1 350.7h.1M310.0 353.0h.1M319.0 348.6h.1M328.3 342.4h.1M322.2 346.9h.1M321.9 350.1h.1M320.0 355.1h.1M320.1 351.4h.1M318.3 344.4h.1M325.7 342.9h.1M319.0 346.8h.1M314.5 343.1h.1M316.5 353.4h.1M320.0 353.1h.1M325.3 341.9h.1M327.6 337.6h.1M327.2 349.2h.1M321.1 349.6h.1M326.4 345.2h.1M323.4 346.2h.1M322.4 356.2h.1M318.0 350.6h.1M329.3 342.3h.1M325.3 352.7h.1M319.6 348.0h.1M324.6 348.9h.1M315.6 348.1h.1M320.3 351.1h.1M316.2 360.4h.1M318.1 347.5h.1M318.0 341.5h.1M322.6 345.8h.1M318.1 350.6h.1M316.2 357.0h.1M320.2 351.2h.1M321.9 351.9h.1M324.8 351.9h.1M323.6 346.7h.1M316.5 345.6h.1M326.4 343.7h.1M320.1 352.0h.1M320.2 350.4h.1M325.1 351.6h.1M324.2 344.6h.1M320.8 346.2h.1M324.0 346.2h.1M315.7 346.5h.1M324.6 348.4h.1M320.2 349.7h.1M323.3 355.2h.1M319.5 354.9h.1M325.0 344.1h.1M322.6 346.8h.1M320.8 341.0h.1M317.4 353.5h.1M324.3 344.7h.1M320.1 355.8h.1M323.7 346.5h.1M320.2 353.9h.1M324.6 346.8h.1M320.2 346.1h.1M321.6 349.1h.1M320.2 348.0h.1M318.0 345.2h.1M314.9 348.3h.1M320.1 354.9h.1M322.8 354.4h.1M326.5 348.4h.1M323.9 338.2h.1M325.1 351.2h.1M333.5 338.1h.1M317.1 349.7h.1M320.8 351.7h.1M329.4 345.6h.1M319.7 350.8h.1M326.3 347.2h.1M315.8 352.6h.1M322.3 344.0h.1M325.9 345.9h.1M322.5 344.8h.1M320.8 349.4h.1M324.3 343.6h.1M311.9 356.4h.1M326.4 349.0h.1M315.8 355.7h.1M321.0 346.2h.1M320.7 345.8h.1M323.3 345.0h.1M320.6 343.0h.1M322.3 351.6h.1M316.8 352.8h.1M323.1 349.9h.1M321.1 342.5h.1M317.6 347.2h.1M320.7 342.9h.1M329.3 336.4h.1M317.0 346.3h.1M328.4 341.7h.1M321.9 344.6h.1M323.5 349.9h.1M321.1 345.6h.1M324.1 348.3h.1M313.9 353.2h.1M315.3 350.4h.1M318.5 355.9h.1M318.9 348.0h.1M323.5 350.9h.1M314.2 354.7h.1M324.3 346.2h.1M317.8 348.1h.1M315.8 345.6h.1M324.3 351.9h.1M318.8 350.4h.1M323.5 350.3h.1M319.3 352.0h.1M318.6 341.2h.1M320.8 351.0h.1M327.1 345.3h.1M321.8 355.2h.1M323.0 355.3h.1M322.8 347.8h.1M322.2 345.6h.1M321.4 348.0h.1M316.2 348.4h.1M327.4 342.6h.1M326.0 344.8h.1M319.5 352.8h.1M319.5 345.7h.1M326.5 343.4h.1M325.7 337.1h.1M325.9 348.2h.1M324.3 339.1h.1M319.3 347.6h.1M320.4 347.0h.1M313.1 354.3h.1M322.1 340.8h.1M318.5 350.3h.1M317.5 338.2h.1M329.7 346.9h.1M322.8 347.7h.1M324.3 344.7h.1M313.5 354.5h.1M321.8 348.0h.1M323.2 344.5h.1M315.0 358.4h.1M319.1 341.7h.1M321.8 346.0h.1M316.3 343.6h.1M322.7 344.1h.1M316.9 349.0h.1M316.1 352.1h.1M323.8 341.6h.1M324.9 347.2h.1M325.7 348.4h.1M325.1 341.7h.1M321.8 340.1h.1M326.4 348.8h.1M319.7 341.3h.1M318.7 348.2h.1M318.3 351.1h.1M318.5 347.3h.1M324.2 351.5h.1M324.9 344.4h.1M325.9 347.1h.1M319.2 349.0h.1M322.1 351.9h.1M321.0 347.1h.1M319.2 349.9h.1M322.7 347.2h.1M325.5 343.3h.1M321.9 350.2h.1M321.7 345.5h.1M321.6 337.6h.1M317.9 350.9h.1M312.5 344.7h.1M318.3 350.5h.1M320.2 344.2h.1M319.4 355.8h.1M312.1 345.1h.1M324.2 355.7h.1M322.0 344.3h.1M317.5 343.5h.1M318.8 354.2h.1M322.6 348.5h.1M322.3 348.6h.1M323.3 358.2h.1M315.6 351.4h.1M321.4 349.3h.1M316.3 356.5h.1M323.3 340.0h.1M322.2 348.0h.1M326.3 347.6h.1M314.6 352.8h.1M318.1 355.5h.1M325.3 347.5h.1M322.6 349.6h.1M314.0 349.1h.1M320.5 350.6h.1M319.3 348.3h.1M321.9 354.4h.1M315.4 356.1h.1M326.4 351.8h.1M320.6 340.8h.1M322.8 348.2h.1M318.7 346.1h.1M327.2 349.3h.1M323.7 353.7h.1M316.5 349.4h.1M320.8 353.2h.1M319.7 349.9h.1M315.8 346.1h.1M320.9 341.5h.1M322.3 346.5h.1M324.9 345.0h.1M319.2 348.6h.1M322.3 347.8h.1M322.1 348.2h.1M320.5 350.7h.1M318.5 344.4h.1M318.6 352.8h.1M319.8 353.4h.1M319.4 341.0h.1M321.9 356.3h.1M326.2 349.0h.1M323.6 345.0h.1M327.9 350.2h.1M322.3 340.9h.1M317.5 347.6h.1M316.0 352.0h.1M323.2 339.9h.1M325.2 353.0h.1M319.7 350.5h.1M319.2 350.6h.1M320.4 351.3h.1M324.5 352.6h.1M322.9 346.1h.1M317.6 351.1h.1M321.0 349.8h.1M322.5 353.6h.1M319.7 348.8h.1M325.9 349.2h.1M322.1 348.2h.1M319.0 350.2h.1M319.7 353.3h.1M332.0 343.0h.1M323.9 341.8h.1M329.5 343.2h.1M324.2 346.5h.1M323.4 345.2h.1M320.7 348.8h.1M324.3 348.0h.1M319.3 354.7h.1M323.9 345.8h.1M324.9 345.9h.1M320.9 342.7h.1M320.1 345.4h.1M317.8 346.8h.1M321.5 345.1h.1M323.0 343.4h.1M323.8 341.2h.1M322.2 349.6h.1M319.9 343.7h.1M323.1 343.1h.1M324.3 348.2h.1M325.0 352.3h.1M315.7 356.8h.1M320.1 357.0h.1M327.5 346.4h.1M319.5 344.0h.1M327.2 339.7h.1M323.5 337.4h.1M325.1 339.1h.1M319.8 352.5h.1M318.0 344.9h.1M326.7 342.3h.1M322.6 344.6h.1M321.8 345.2h.1M324.5 345.9h.1M314.8 352.7h.1M321.6 336.4h.1M322.5 345.9h.1M318.4 347.6h.1M319.3 349.5h.1M324.0 336.3h.1M318.0 346.9h.1M321.7 340.5h.1M319.1 343.0h.1M323.2 339.4h.1M316.8 349.7h.1M312.7 361.4h.1M327.4 357.8h.1M320.2 345.4h.1M321.4 337.3h.1M320.4 352.6h.1M314.4 350.8h.1M321.6 341.4h.1M317.6 351.3h.1M326.1 340.0h.1M324.8 342.3h.1M321.4 348.8h.1M324.6 341.5h.1M322.2 353.0h.1M319.6 355.5h.1M319.4 347.1h.1M319.1 349.6h.1M312.9 352.4h.1M321.5 351.2h.1M316.9 353.1h.1M322.6 357.4h.1M322.0 342.0h.1M319.4 360.1h.1M315.2 351.4h.1M315.9 345.6h.1M316.4 349.9h.1M321.1 349.9h.1M323.3 350.7h.1M321.3 342.0h.1M324.8 347.8h.1M320.4 345.5h.1M316.6 351.7h.1M318.8 349.5h.1M324.6 352.6h.1M321.8 347.7h.1M318.4 354.0h.1M323.4 334.6h.1M323.9 344.2h.1M319.2 352.6h.1M326.7 349.0h.1M316.8 349.2h.1M314.7 353.6h.1M316.2 349.8h.1M323.2 340.4h.1M323.5 348.1h.1M321.9 341.5h.1M323.3 352.2h.1M318.2 352.5h.1M319.0 345.3h.1M317.7 349.0h.1M317.6 344.6h.1M311.6 353.7h.1M323.8 350.5h.1M322.8 350.5h.1M316.6 348.7h.1M316.8 351.7h.1M323.6 353.8h.1M319.0 346.5h.1M321.4 348.6h.1M321.0 351.0h.1M318.8 350.2h.1M321.4 346.0h.1M321.5 344.8h.1M321.9 347.1h.1M315.3 347.2h.1M322.3 346.1h.1M324.4 343.6h.1M318.1 344.1h.1M323.5 346.6h.1M316.6 348.9h.1M314.9 341.1h.1M316.5 342.7h.1M316.1 356.3h.1M321.3 350.9h.1M322.2 343.2h.1M313.5 350.6h.1M321.4 346.1h.1M325.7 346.0h.1M319.0 350.7h.1M320.6 339.2h.1M322.4 348.5h.1M318.8 350.0h.1M318.4 350.9h.1M322.5 345.8h.1M323.8 346.8h.1M320.8 347.4h.1M314.9 351.5h.1M325.4 339.9h.1M319.0 351.7h.1M323.4 351.3h.1M313.7 351.7h.1M323.5 342.8h.1M315.3 351.4h.1M324.0 344.7h.1M318.5 348.3h.1M313.2 340.8h.1M330.2 339.0h.1M319.2 346.5h.1M316.7 347.7h.1M314.3 349.0h.1M319.6 343.3h.1M320.4 340.6h.1M318.5 350.8h.1M322.2 346.7h.1M317.8 352.4h.1M318.0 354.8h.1M319.1 345.5h.1M323.0 348.3h.1M322.5 344.6h.1M327.6 339.9h.1M322.6 349.0h.1M317.8 350.5h.1M321.5 354.8h.1M323.2 349.3h.1M314.7 355.3h.1M327.2 348.8h.1M325.6 350.8h.1M318.0 342.9h.1M315.7 342.1h.1M319.9 345.7h.1M324.0 345.8h.1M324.6 347.8h.1M322.0 350.4h.1M320.5 348.4h.1M326.4 345.1h.1M321.5 351.5h.1M321.8 343.7h.1M320.1 350.3h.1M323.7 350.2h.1M324.3 338.5h.1M321.9 342.4h.1M315.9 350.7h.1M326.7 347.8h.1M324.5 346.3h.1M324.4 347.6h.1M319.5 347.8h.1M319.2 350.5h.1M325.1 348.9h.1M315.5 354.9h.1M325.8 347.6h.1M322.1 346.0h.1M321.3 347.2h.1M322.0 349.7h.1M319.3 355.9h.1M319.4 361.3h.1M320.8 345.9h.1M326.1 350.3h.1M317.0 349.5h.1M318.8 346.0h.1M312.2 347.9h.1M326.1 344.9h.1M322.7 354.4h.1M323.5 336.4h.1M318.5 349.8h.1M318.3 350.5h.1M311.1 351.0h.1M321.5 353.0h.1M328.0 342.2h.1M318.8 338.3h.1M325.3 341.9h.1M317.2 342.1h.1M317.7 337.5h.1M316.8 334.8h.1M320.3 344.3h.1M316.6 340.5h.1M313.0 334.3h.1M318.8 352.5h.1M307.7 347.0h.1M328.4 341.9h.1M312.3 362.4h.1M315.7 344.5h.1M307.4 348.9h.1M307.6 356.5h.1M322.1 328.2h.1M317.4 347.0h.1M315.3 350.4h.1M328.8 362.1h.1M306.9 343.7h.1M313.7 350.4h.1M332.5 333.7h.1M332.2 339.8h.1M326.1 353.2h.1M327.1 324.3h.1M329.0 342.3h.1M307.7 333.1h.1M318.8 346.5h.1M321.8 354.3h.1M324.5 348.5h.1M318.7 332.7h.1M322.4 333.6h.1M308.4 340.4h.1M315.0 346.4h.1M312.7 342.7h.1M322.6 346.2h.1M317.3 342.5h.1M332.2 334.8h.1M321.4 343.5h.1M316.2 349.2h.1M337.0 340.8h.1M325.9 351.5h.1M311.3 345.4h.1M326.3 346.2h.1M330.2 346.5h.1M330.4 335.8h.1M317.9 329.3h.1M328.1 329.7h.1M318.1 321.5h.1M310.9 345.2h.1M318.2 341.8h.1M327.1 350.9h.1M330.2 331.3h.1M333.4 328.3h.1M334.9 332.1h.1M308.8 354.3h.1M322.0 357.0h.1M329.9 333.9h.1M316.2 341.8h.1M318.0 343.6h.1M325.6 335.3h.1M328.4 340.9h.1M324.6 356.7h.1M316.6 349.0h.1M316.1 350.8h.1M329.8 352.8h.1M338.3 355.8h.1M328.9 354.3h.1M323.7 343.6h.1M311.3 356.8h.1M324.3 348.3h.1M320.7 349.6h.1M318.0 340.9h.1M332.5 343.3h.1M335.6 352.3h.1M319.0 338.8h.1M321.7 335.1h.1M314.9 349.2h.1M304.9 356.3h.1M324.7 349.3h.1M314.6 338.6h.1M329.0 340.7h.1M331.4 333.6h.1M322.7 351.8h.1M310.9 344.0h.1M326.6 338.3h.1M322.8 345.9h.1M330.9 340.3h.1M316.6 357.1h.1M318.0 343.3h.1M325.6 351.8h.1M320.5 362.9h.1M340.4 330.7h.1M315.7 345.2h.1M323.2 348.3h.1M318.3 338.9h.1M320.7 344.0h.1M319.4 357.1h.1M317.4 334.2h.1M340.0 348.5h.1M319.5 362.6h.1M312.4 350.2h.1M316.2 346.5h.1M317.2 350.8h.1M320.5 344.7h.1M316.6 338.0h.1M321.7 342.8h.1M311.7 341.9h.1M320.7 338.7h.1M339.4 337.6h.1M322.1 343.0h.1M318.1 345.5h.1M330.8 348.7h.1M319.9 351.1h.1M323.5 349.0h.1M313.6 350.5h.1M326.9 349.3h.1M320.7 342.1h.1M323.4 352.2h.1M320.6 353.9h.1M333.2 346.8h.1M331.3 341.0h.1M314.7 355.4h.1M318.5 336.7h.1M318.1 346.6h.1M320.2 338.4h.1M328.8 351.5h.1M312.1 354.4h.1M330.3 335.3h.1M333.3 335.6h.1M333.6 314.3h.1M322.5 351.8h.1M306.6 352.7h.1M321.6 347.5h.1M322.2 341.7h.1M319.1 352.3h.1M328.6 338.4h.1M314.6 347.6h.1M319.2 358.2h.1M312.6 352.9h.1M318.7 350.7h.1M331.9 345.3h.1M318.3 338.8h.1M326.6 337.4h.1M320.9 365.0h.1M322.2 358.9h.1M318.2 341.7h.1M318.6 341.9h.1M323.4 348.3h.1M321.4 337.0h.1M319.4 349.0h.1M311.7 343.9h.1M322.9 350.2h.1M312.6 339.5h.1M335.0 324.7h.1M326.4 345.3h.1M325.1 330.8h.1M321.6 325.6h.1M313.7 334.0h.1M332.4 349.0h.1M312.7 335.5h.1M319.0 333.2h.1M315.3 358.6h.1M331.3 329.7h.1M324.9 351.8h.1M331.8 344.1h.1M317.7 356.2h.1M317.1 351.0h.1M318.2 343.1h.1M328.3 331.6h.1M322.9 354.0h.1M320.1 354.4h.1M321.8 351.8h.1M314.1 336.3h.1M314.4 346.9h.1M321.9 335.7h.1M317.5 344.5h.1M314.1 343.7h.1M326.6 344.8h.1M332.5 339.9h.1M332.8 348.7h.1M323.3 335.4h.1M327.3 334.3h.1M317.0 353.1h.1M322.5 343.0h.1M319.8 337.3h.1M328.8 342.8h.1M308.5 340.9h.1M320.8 340.0h.1M314.9 332.1h.1M323.8 348.6h.1M313.4 340.7h.1M320.0 333.0h.1M327.2 335.5h.1M309.5 351.3h.1M324.6 342.9h.1M313.6 352.7h.1M329.5 355.8h.1M315.5 339.5h.1M318.5 339.5h.1M316.7 359.4h.1M325.7 339.5h.1M326.2 342.6h.1M324.4 336.6h.1M327.8 346.2h.1M328.5 337.8h.1M328.5 349.7h.1M320.8 329.4h.1M320.6 349.4h.1M318.9 346.2h.1M322.9 347.3h.1M319.7 336.1h.1M319.8 357.4h.1M327.4 346.2h.1M328.7 339.9h.1M308.7 343.3h.1M325.1 343.9h.1M310.5 338.8h.1M321.7 351.4h.1M319.9 327.7h.1M317.8 349.9h.1M325.7 334.8h.1M319.3 328.5h.1M313.6 334.7h.1M317.2 357.8h.1M322.4 337.4h.1M325.5 351.7h.1M326.3 336.5h.1M333.8 358.7h.1M321.2 347.4h.1M325.7 359.7h.1M322.9 346.9h.1M322.3 344.6h.1M334.3 330.9h.1M316.1 344.2h.1M314.3 348.4h.1M330.0 351.5h.1M319.9 345.1h.1M312.7 344.9h.1M320.3 353.1h.1M321.9 334.1h.1M322.7 343.9h.1M326.0 351.6h.1M327.8 350.8h.1M336.8 342.7h.1M338.5 332.2h.1M324.0 349.1h.1M321.3 352.0h.1M315.1 358.9h.1M319.7 347.6h.1M338.9 345.0h.1M319.4 347.6h.1M331.8 349.1h.1M324.8 338.4h.1M336.0 336.8h.1M315.7 319.7h.1M326.5 339.2h.1M320.8 338.8h.1M330.4 350.2h.1M330.3 349.6h.1M317.5 344.0h.1M312.0 359.6h.1M327.6 347.0h.1M316.9 356.5h.1M326.7 338.3h.1M331.2 341.8h.1M317.7 335.6h.1M340.2 335.3h.1M316.3 359.4h.1M305.1 336.5h.1M313.6 347.1h.1M313.1 358.2h.1M332.5 355.9h.1M314.0 357.6h.1M326.0 320.0h.1M323.4 359.5h.1M323.0 348.3h.1M325.1 339.9h.1M322.6 356.9h.1M320.1 343.4h.1M325.4 338.4h.1M337.8 332.1h.1M315.8 360.5h.1M341.1 326.5h.1M320.1 343.8h.1M323.6 363.3h.1M311.3 344.9h.1M318.1 334.7h.1M326.6 344.1h.1M323.9 338.5h.1M322.4 347.2h.1M323.1 344.0h.1M328.3 333.5h.1M324.2 328.9h.1M318.4 354.9h.1M336.3 338.6h.1M323.8 332.4h.1M335.5 343.0h.1M324.7 330.8h.1M332.0 339.3h.1M312.7 347.0h.1M325.8 337.9h.1M317.4 339.6h.1M331.6 323.7h.1M315.7 333.0h.1M321.7 344.2h.1M316.7 341.2h.1M310.3 353.4h.1M309.3 341.8h.1M337.7 320.8h.1M341.5 337.5h.1M325.3 335.8h.1M323.4 341.4h.1M316.2 340.8h.1M317.0 347.9h.1M326.7 327.5h.1M325.6 320.6h.1M313.8 347.7h.1M325.1 334.3h.1M336.6 326.0h.1M325.8 335.2h.1M326.6 341.5h.1M336.1 338.7h.1M333.9 337.7h.1M315.3 351.1h.1M318.7 329.0h.1M320.2 346.0h.1M322.1 346.2h.1M330.1 344.6h.1M311.4 364.0h.1M345.0 342.5h.1M307.7 364.3h.1M331.3 338.5h.1M319.1 338.8h.1M315.6 343.2h.1M315.4 352.2h.1M320.2 350.6h.1M328.3 343.6h.1M307.2 330.5h.1M322.8 357.7h.1M323.0 361.9h.1M332.8 344.4h.1M321.0 357.1h.1M319.0 348.4h.1M324.4 348.2h.1M335.4 339.5h.1M323.8 330.4h.1M324.1 350.0h.1M339.7 323.0h.1M324.4 339.6h.1M330.2 353.8h.1M327.4 328.0h.1M308.8 354.2h.1M313.8 357.7h.1M324.6 333.3h.1M330.5 347.8h.1M314.1 337.4h.1M318.1 335.2h.1M326.7 341.2h.1M324.1 350.7h.1M307.4 353.8h.1M329.2 349.3h.1M311.4 338.5h.1M327.4 348.8h.1M321.1 335.5h.1M316.6 347.7h.1M334.9 346.3h.1M327.2 335.9h.1M315.5 347.3h.1M333.3 329.6h.1M335.4 346.5h.1M324.8 341.2h.1M318.9 340.4h.1M331.5 332.2h.1M320.5 332.1h.1M319.4 340.6h.1M316.2 347.2h.1M326.5 345.4h.1M320.8 340.8h.1M329.3 338.9h.1M328.6 348.3h.1M345.3 326.6h.1M309.8 343.7h.1M317.1 351.9h.1M316.1 340.1h.1M330.8 338.4h.1M316.8 356.0h.1M325.8 338.5h.1M312.5 353.4h.1M318.4 338.6h.1M317.0 332.1h.1M328.7 345.7h.1M324.7 337.9h.1M323.3 342.9h.1M321.5 349.3h.1M328.0 344.7h.1M335.0 346.8h.1M321.4 343.4h.1M323.9 349.6h.1M313.3 338.6h.1M317.4 347.3h.1M315.4 346.5h.1M317.4 344.4h.1M325.0 354.0h.1M322.8 344.7h.1M316.8 353.7h.1M320.6 347.8h.1M316.8 350.3h.1M322.1 341.8h.1M326.0 330.4h.1M321.6 338.7h.1M319.7 343.0h.1M319.4 346.6h.1M312.2 337.5h.1M315.1 356.4h.1M328.7 333.5h.1M333.6 331.2h.1M317.1 338.9h.1M320.6 335.4h.1M326.5 347.2h.1M315.0 347.1h.1M325.3 331.2h.1M321.2 331.4h.1M314.6 338.8h.1M326.4 330.1h.1M323.5 336.4h.1M309.1 350.4h.1M330.3 348.5h.1M322.5 344.0h.1M311.8 350.1h.1M339.1 335.4h.1M326.1 348.0h.1M318.4 341.2h.1M315.3 342.9h.1M326.3 335.5h.1M328.4 343.1h.1M315.2 338.6h.1M324.8 354.0h.1M323.9 337.0h.1M323.7 352.0h.1M332.3 326.5h.1M322.8 349.3h.1M321.8 352.6h.1M333.9 341.2h.1M319.9 339.4h.1M332.6 350.6h.1M313.9 342.2h.1M317.9 355.0h.1M325.0 348.0h.1M323.6 342.5h.1M328.1 345.6h.1M312.2 340.9h.1M318.1 350.3h.1M326.4 349.6h.1M325.1 339.8h.1M318.0 337.7h.1M327.2 338.4h.1M327.7 337.8h.1M319.4 336.9h.1M332.4 344.1h.1M315.6 348.6h.1M322.8 331.2h.1M322.6 345.1h.1M324.7 332.6h.1M317.3 349.9h.1M322.1 347.4h.1M313.8 352.9h.1M322.8 350.6h.1M329.1 337.0h.1M328.7 348.6h.1M320.1 335.8h.1M325.3 340.3h.1M328.9 336.9h.1M325.4 342.7h.1M310.5 337.9h.1M315.5 342.3h.1M311.7 365.2h.1M326.3 344.9h.1M322.1 345.0h.1M323.8 344.1h.1M330.2 346.3h.1M322.0 340.6h.1M318.0 342.1h.1M331.4 347.7h.1M322.0 352.2h.1M319.3 347.1h.1M322.9 334.8h.1M331.0 349.7h.1M319.3 345.8h.1M319.4 339.3h.1M330.4 346.7h.1M314.9 338.5h.1M318.5 348.6h.1M324.9 347.8h.1M323.5 339.0h.1M319.8 342.1h.1M318.6 355.5h.1M320.6 332.6h.1M318.0 348.7h.1M327.5 344.7h.1M326.7 353.9h.1M321.0 344.0h.1M322.5 343.1h.1M327.3 330.6h.1M328.0 342.2h.1M309.9 358.6h.1M321.8 347.9h.1M330.6 346.2h.1M329.2 348.4h.1M314.0 339.5h.1M334.3 341.3h.1M319.2 343.5h.1M321.5 349.3h.1M330.2 332.9h.1M325.1 343.3h.1M332.6 320.6h.1M333.8 332.9h.1M323.7 354.3h.1M313.2 352.0h.1M313.1 358.9h.1M333.1 336.8h.1M328.6 347.2h.1M325.8 342.8h.1M318.6 353.6h.1M323.4 348.5h.1M320.1 343.8h.1M321.2 350.2h.1M323.1 339.8h.1M315.7 350.8h.1M311.3 333.7h.1M307.2 346.9h.1M323.4 347.0h.1M325.2 348.6h.1M330.3 336.8h.1M330.5 332.5h.1M328.4 330.9h.1M322.9 350.0h.1M330.7 326.0h.1M315.6 355.0h.1M332.0 346.8h.1M321.4 329.0h.1M317.4 345.0h.1M327.1 333.7h.1M311.8 338.1h.1M317.2 338.1h.1M322.1 357.2h.1M320.6 353.0h.1M316.9 351.1h.1M331.6 345.0h.1M310.8 350.7h.1M332.9 350.1h.1M321.3 344.9h.1M316.8 345.7h.1M326.8 350.0h.1M331.6 335.5h.1M320.2 350.0h.1M329.4 331.4h.1M310.2 341.8h.1M311.4 336.7h.1M321.9 344.8h.1M332.8 338.9h.1M313.1 349.3h.1M323.4 343.3h.1M309.6 345.6h.1M317.7 333.4h.1M325.4 338.4h.1M325.6 347.1h.1M321.2 354.7h.1M335.1 337.9h.1M320.7 336.9h.1M323.8 339.7h.1M327.7 344.7h.1M318.9 337.1h.1M315.3 351.6h.1M318.7 349.7h.1M322.0 344.3h.1M322.8 353.7h.1M319.4 353.7h.1M322.8 337.8h.1M313.2 330.6h.1M323.0 352.2h.1M317.1 364.1h.1M336.5 327.3h.1M327.1 340.5h.1M320.7 351.8h.1M332.6 341.9h.1M315.1 349.2h.1M320.7 345.7h.1M322.9 331.0h.1M323.2 339.8h.1M315.9 344.3h.1M322.1 334.3h.1M308.5 342.1h.1M320.1 346.2h.1M329.1 345.1h.1M330.7 345.6h.1M320.8 345.7h.1M323.3 334.0h.1M316.8 356.2h.1M322.0 341.2h.1M316.0 352.9h.1M315.2 357.1h.1M324.1 345.2h.1M319.9 344.4h.1M321.3 343.2h.1M315.6 343.5h.1M325.4 337.2h.1M326.7 327.2h.1M326.6 350.5h.1M320.6 343.7h.1M318.5 358.6h.1M320.1 362.7h.1M334.2 336.8h.1M322.9 334.5h.1M327.2 355.8h.1M306.0 347.0h.1M329.1 349.9h.1M308.1 336.0h.1M326.2 326.5h.1M310.4 361.8h.1M321.6 336.2h.1M307.8 341.4h.1M312.3 341.7h.1M327.8 337.9h.1M308.6 345.0h.1M318.2 357.7h.1M328.4 347.6h.1M328.6 349.7h.1M320.1 350.1h.1M316.9 351.6h.1M315.6 349.5h.1M341.2 346.3h.1M333.1 340.8h.1M328.1 341.9h.1M337.1 324.0h.1M334.4 337.3h.1M312.6 336.1h.1M329.9 341.7h.1M323.0 335.5h.1M305.2 343.2h.1M326.3 350.4h.1M313.8 348.0h.1M325.2 344.2h.1M320.1 338.3h.1M324.1 335.9h.1M329.5 351.4h.1M332.7 330.9h.1M328.4 338.5h.1M310.6 343.4h.1M322.7 353.8h.1M318.8 341.4h.1M330.2 336.6h.1M313.7 345.1h.1M327.6 339.5h.1M325.6 344.9h.1M318.9 331.5h.1M314.8 359.4h.1M309.9 352.8h.1M332.9 341.6h.1M329.7 336.1h.1M322.6 343.8h.1M335.4 359.3h.1M320.4 356.7h.1M320.3 342.3h.1M332.8 337.2h.1M322.1 347.3h.1M328.0 350.7h.1M324.5 328.2h.1M333.9 348.6h.1M320.8 340.0h.1M324.8 335.1h.1M317.0 343.3h.1M315.2 351.3h.1M327.4 358.5h.1M327.4 337.7h.1M319.2 335.8h.1M317.8 349.0h.1M325.0 342.3h.1M329.0 344.5h.1M309.5 360.3h.1M335.7 324.5h.1M341.2 348.8h.1M325.5 337.0h.1M322.9 344.0h.1M307.2 353.5h.1M327.9 346.1h.1M321.0 340.2h.1" stroke="#000" stroke-width="0.75" stroke-linecap="square" fill="none" stroke-opacity="0.42"/>
<path d="M324.2 338.8h.1M320.7 326.2h.1M325.9 313.6h.1M342.4 321.9h.1M317.8 331.8h.1M321.4 322.3h.1M322.5 346.2h.1M306.9 339.6h.1M327.6 326.1h.1M322.5 344.5h.1M308.0 334.2h.1M320.9 343.6h.1M324.3 326.3h.1M316.2 335.5h.1M331.3 325.8h.1M318.5 328.1h.1M311.6 339.0h.1M329.1 346.3h.1M322.0 329.2h.1M324.1 330.9h.1M310.7 319.6h.1M312.4 326.0h.1M315.3 332.8h.1M321.8 316.1h.1M322.0 323.9h.1M333.5 317.4h.1M334.8 329.9h.1M324.0 336.6h.1M322.3 331.3h.1M337.5 325.4h.1M323.4 318.4h.1M330.7 312.6h.1M319.3 328.2h.1M322.2 342.6h.1M320.9 325.5h.1M317.7 327.4h.1M325.9 323.8h.1M316.7 317.3h.1M322.2 338.2h.1M326.1 334.8h.1M339.1 314.0h.1M308.5 316.2h.1M323.6 340.9h.1M328.0 319.7h.1M320.4 327.6h.1M329.6 318.2h.1M327.0 331.1h.1M326.7 320.6h.1M319.8 322.3h.1M321.4 317.4h.1M321.3 346.2h.1M315.4 352.9h.1M324.4 330.2h.1M314.9 334.5h.1M315.9 333.5h.1M312.4 328.1h.1M331.4 327.2h.1M318.7 324.6h.1M316.2 335.6h.1M329.1 316.4h.1M319.8 320.1h.1M325.5 334.8h.1M321.6 314.6h.1M325.7 343.6h.1M324.4 325.5h.1M306.5 329.9h.1M334.2 340.8h.1M330.6 327.6h.1M311.9 329.3h.1M329.8 322.5h.1M321.3 333.0h.1M323.9 334.7h.1M332.8 319.7h.1M330.6 334.4h.1M330.4 337.4h.1M338.3 332.6h.1M331.3 320.9h.1M318.4 337.0h.1M313.2 341.2h.1M329.4 323.4h.1M310.0 310.6h.1M320.3 321.3h.1M320.2 328.3h.1M317.6 340.6h.1M333.3 339.6h.1M325.4 334.7h.1M321.3 321.9h.1M329.8 335.4h.1M319.9 328.0h.1M332.1 318.3h.1M338.6 310.9h.1M322.0 337.7h.1M321.7 312.5h.1M331.8 340.1h.1M308.1 349.7h.1M313.4 328.4h.1M315.2 320.0h.1M310.7 322.0h.1M323.0 321.6h.1M325.2 331.8h.1M322.8 337.7h.1M322.8 320.8h.1M330.0 324.9h.1M331.2 321.9h.1M332.5 339.1h.1M321.9 337.5h.1M323.1 319.9h.1M334.2 325.1h.1M326.1 329.7h.1M333.0 310.9h.1M319.4 322.9h.1M322.6 329.4h.1M318.1 314.6h.1M322.8 330.1h.1M326.2 328.5h.1M319.6 322.7h.1M337.9 338.0h.1M311.7 319.1h.1M329.6 332.2h.1M314.7 325.6h.1M325.2 338.6h.1M317.1 320.6h.1M323.5 333.8h.1M323.5 334.0h.1M316.9 339.0h.1M313.7 343.6h.1M317.6 313.5h.1M323.1 327.4h.1M329.1 317.7h.1M335.2 337.5h.1M309.9 341.2h.1M326.4 325.2h.1M319.4 330.4h.1M323.1 340.7h.1M325.4 330.0h.1M329.0 326.8h.1M326.1 312.3h.1M322.8 321.2h.1M334.8 337.7h.1M325.1 314.0h.1M322.9 330.9h.1M331.6 330.2h.1M314.3 328.0h.1M315.8 335.7h.1M334.0 320.9h.1M321.4 341.4h.1M309.4 323.9h.1M329.0 337.9h.1M332.1 322.5h.1M317.1 330.6h.1M313.0 324.9h.1M322.5 344.3h.1M325.6 318.1h.1M318.4 322.0h.1M316.0 342.1h.1M326.9 335.9h.1M327.0 327.7h.1M310.9 325.6h.1M314.4 315.7h.1M320.4 325.5h.1M318.1 331.5h.1M324.5 339.7h.1M326.8 337.1h.1M337.0 342.1h.1M325.6 331.8h.1M329.9 321.2h.1M311.1 324.7h.1M317.6 342.9h.1M330.9 329.1h.1M311.9 341.7h.1M333.0 312.8h.1M327.0 323.4h.1M323.9 320.4h.1M322.0 330.6h.1M314.0 320.5h.1M314.7 315.3h.1M318.9 327.3h.1M319.6 306.0h.1M332.2 322.4h.1M315.1 332.2h.1M318.1 317.0h.1M309.7 327.6h.1M324.1 319.6h.1M322.8 324.7h.1M331.1 330.4h.1M337.4 332.6h.1M326.9 332.3h.1M316.4 320.8h.1M324.5 342.9h.1M325.0 331.3h.1M322.4 321.8h.1M314.6 341.1h.1M325.4 324.3h.1M313.7 347.1h.1M322.2 336.3h.1M320.5 327.1h.1M327.4 320.0h.1M338.9 320.5h.1M320.1 325.5h.1M318.1 341.3h.1M329.9 329.9h.1M312.9 327.4h.1M323.0 332.3h.1M324.7 325.1h.1M318.6 316.0h.1M322.3 313.7h.1M316.4 342.1h.1M318.4 325.5h.1M327.9 343.9h.1M316.2 346.8h.1M318.5 331.0h.1M317.5 335.8h.1M326.7 324.7h.1M320.0 327.0h.1M316.4 329.1h.1M325.3 328.2h.1M307.6 343.0h.1M308.4 327.3h.1M325.0 337.1h.1M336.9 329.5h.1M319.1 334.4h.1M325.4 346.3h.1M312.3 313.1h.1M323.8 339.7h.1M324.3 322.2h.1M327.2 330.3h.1M317.2 324.9h.1M337.5 323.6h.1M315.6 315.0h.1M334.3 302.1h.1M314.7 349.3h.1M328.8 336.8h.1M333.0 326.0h.1M339.3 310.0h.1M322.0 334.9h.1M310.4 343.9h.1M329.2 332.6h.1M317.5 311.4h.1M314.7 323.2h.1M318.4 330.9h.1M316.0 327.6h.1M328.6 339.3h.1M324.3 318.7h.1M328.1 322.0h.1M329.4 303.7h.1M319.9 339.5h.1M328.2 334.6h.1M332.1 324.0h.1M337.0 310.4h.1M324.2 336.9h.1M320.9 314.2h.1M315.8 315.6h.1M319.9 309.0h.1M323.0 314.0h.1M324.8 318.8h.1M312.7 317.3h.1M319.9 339.1h.1M321.4 335.2h.1M318.4 328.9h.1M318.3 322.4h.1M325.6 327.7h.1M315.5 314.9h.1M326.5 332.1h.1M314.8 318.7h.1M324.6 323.0h.1M314.5 331.4h.1M331.9 319.3h.1M328.5 314.2h.1M333.1 338.3h.1M316.6 310.8h.1M312.9 315.2h.1M312.9 316.3h.1M321.2 320.8h.1M331.0 326.6h.1M328.3 295.8h.1M328.0 323.0h.1M313.6 342.1h.1M331.1 340.0h.1M328.5 336.9h.1M318.8 327.2h.1M316.9 322.4h.1M321.9 311.2h.1M334.9 331.6h.1M324.6 338.8h.1M322.4 331.0h.1M335.0 327.7h.1M334.7 336.7h.1M325.8 331.2h.1M327.6 339.3h.1M332.4 323.7h.1M317.5 309.9h.1M326.0 332.9h.1M319.7 336.9h.1M315.6 320.2h.1M326.7 330.4h.1M331.3 335.3h.1M337.2 300.5h.1M328.8 352.7h.1M310.4 301.3h.1M319.7 301.8h.1M331.6 320.3h.1M318.2 298.5h.1M318.7 293.5h.1M327.0 324.5h.1M306.8 298.2h.1M313.9 291.4h.1M316.2 297.7h.1M313.7 317.6h.1M320.6 316.8h.1M327.2 320.7h.1M316.6 321.1h.1M327.4 324.7h.1M317.6 299.8h.1M330.5 296.0h.1M314.2 322.8h.1M317.6 321.7h.1M324.5 307.0h.1M305.2 299.2h.1M330.2 295.0h.1M317.6 324.0h.1M315.5 311.4h.1M308.2 310.3h.1M307.7 294.5h.1M318.4 294.4h.1M328.3 303.2h.1M322.2 321.0h.1M331.0 317.9h.1M333.0 297.4h.1M319.6 290.0h.1M310.4 310.3h.1M331.9 315.1h.1M311.2 322.1h.1M321.0 311.4h.1M310.7 297.0h.1M330.1 307.4h.1M326.8 313.9h.1M319.9 294.9h.1M329.8 321.4h.1M324.5 293.0h.1M322.9 288.0h.1M324.2 298.4h.1M330.4 316.3h.1M316.3 308.7h.1M324.9 298.1h.1M315.1 299.9h.1M324.0 306.5h.1M320.1 317.8h.1M326.4 323.8h.1M320.6 313.3h.1M319.1 292.9h.1M307.5 320.0h.1M306.3 317.9h.1M329.5 314.0h.1M317.8 318.0h.1M332.8 288.2h.1M317.7 312.9h.1M307.6 305.8h.1M326.2 324.6h.1M314.0 322.9h.1M322.7 305.1h.1M306.0 318.8h.1M330.5 314.7h.1M310.2 315.3h.1M315.5 300.7h.1M316.8 314.8h.1M320.1 288.8h.1M331.7 288.8h.1M329.8 296.1h.1M315.7 296.3h.1M315.6 288.1h.1M326.0 320.4h.1M314.4 316.9h.1M311.5 316.5h.1M331.8 317.8h.1M326.3 322.2h.1M316.6 293.2h.1M310.7 305.9h.1M319.2 301.5h.1M317.0 301.7h.1M313.4 312.3h.1M321.5 301.0h.1M309.8 322.3h.1M312.4 292.6h.1M320.8 294.2h.1M316.6 320.4h.1M316.7 297.1h.1M324.0 300.8h.1M307.0 304.5h.1M326.5 314.6h.1M332.3 321.4h.1M330.9 312.3h.1M330.2 296.1h.1M306.2 319.3h.1M313.7 299.5h.1M307.7 290.7h.1M307.9 288.9h.1M309.9 318.6h.1M306.5 307.2h.1M331.5 296.6h.1M321.9 290.1h.1M314.1 323.7h.1M311.9 317.1h.1M305.0 315.6h.1M305.8 302.9h.1M323.4 295.1h.1M318.6 301.1h.1M314.0 312.1h.1M318.3 310.9h.1M315.6 291.6h.1M325.1 319.6h.1M320.7 309.6h.1M316.9 308.7h.1M305.0 311.5h.1M320.6 308.1h.1M329.7 323.2h.1M312.1 295.9h.1M314.6 313.4h.1M326.5 310.6h.1M309.5 324.1h.1M321.6 312.8h.1M322.6 296.0h.1M327.5 301.6h.1M330.4 321.1h.1M329.0 290.9h.1M310.2 316.2h.1M327.1 306.7h.1M322.0 289.0h.1M316.6 318.4h.1M306.2 294.6h.1M321.8 299.7h.1M317.1 306.8h.1M324.9 299.5h.1M321.8 319.1h.1M308.9 323.6h.1M325.1 321.9h.1M308.8 305.8h.1M308.7 316.8h.1M324.0 299.5h.1M331.0 305.2h.1M325.4 306.6h.1M331.9 303.7h.1M309.1 294.8h.1M307.5 321.2h.1M318.5 311.9h.1M312.4 300.7h.1M312.8 299.0h.1M310.3 291.9h.1M313.3 305.1h.1M326.0 300.0h.1M316.5 321.0h.1M319.2 291.9h.1M309.3 295.3h.1M323.0 311.8h.1M324.7 298.0h.1M314.8 300.3h.1M320.6 322.6h.1M312.1 296.1h.1M307.3 293.5h.1M309.6 299.9h.1M305.1 302.0h.1M330.7 306.0h.1M332.3 314.4h.1M309.5 293.0h.1M328.3 294.6h.1M321.4 321.6h.1M326.8 312.9h.1M322.1 291.4h.1M319.5 309.4h.1M377.7 348.9h.1M346.3 332.9h.1M359.3 328.4h.1M375.4 313.7h.1M348.1 344.7h.1M371.1 308.0h.1M355.2 311.7h.1M364.6 288.0h.1M366.5 296.1h.1M337.2 312.9h.1M368.5 312.8h.1M375.5 320.7h.1M343.4 338.2h.1M337.6 308.4h.1M361.2 300.7h.1M360.4 336.1h.1M357.4 343.1h.1M380.1 358.3h.1M336.8 326.4h.1M366.9 292.2h.1M378.2 313.9h.1M376.0 340.5h.1M371.7 318.6h.1M344.2 298.6h.1M344.6 361.7h.1M355.8 353.3h.1M374.8 307.6h.1M337.9 297.4h.1M336.5 324.8h.1M381.0 306.7h.1M353.1 327.1h.1M365.6 344.9h.1M382.7 309.7h.1M338.4 316.6h.1M354.7 335.6h.1M377.8 328.8h.1M343.3 288.7h.1M380.8 313.1h.1M371.4 297.9h.1M354.1 354.3h.1M376.4 323.6h.1M356.2 349.1h.1M379.2 308.3h.1M386.2 292.2h.1M364.6 356.6h.1M369.1 356.1h.1M344.4 332.2h.1M342.2 297.7h.1M354.7 292.8h.1M348.6 339.4h.1M358.0 328.6h.1M342.9 314.2h.1M368.8 332.2h.1M362.1 291.7h.1M343.1 303.7h.1M337.8 363.4h.1M364.4 322.2h.1M385.6 321.5h.1M384.4 363.8h.1M386.1 322.4h.1M355.8 291.2h.1M381.5 339.7h.1M338.8 327.1h.1M333.5 307.4h.1M339.6 328.1h.1M334.4 310.2h.1M339.7 342.6h.1M359.2 363.4h.1M377.8 292.8h.1M372.4 345.4h.1M361.5 354.7h.1M336.8 342.2h.1M367.7 331.1h.1M366.8 309.8h.1M376.3 317.6h.1M362.4 298.4h.1M351.3 292.2h.1M348.7 342.0h.1M359.5 296.2h.1M347.9 291.5h.1M385.0 306.7h.1M338.5 288.5h.1M368.9 334.1h.1M354.4 328.2h.1M355.0 321.7h.1M361.6 293.6h.1M350.3 327.6h.1M371.7 341.1h.1M365.8 313.8h.1M358.9 308.6h.1M356.6 320.3h.1M363.6 309.3h.1M372.2 317.0h.1M342.5 332.3h.1M340.7 290.9h.1M341.8 309.9h.1M354.2 296.7h.1M360.9 305.4h.1M356.2 350.4h.1M374.3 317.8h.1M368.1 322.7h.1M368.3 311.1h.1M361.3 361.4h.1M384.9 355.0h.1M335.0 292.1h.1M358.4 307.4h.1M352.4 320.8h.1M385.9 346.6h.1M350.0 312.3h.1M355.3 301.7h.1M373.2 298.6h.1M355.9 353.2h.1M341.5 318.1h.1M345.1 313.4h.1M360.8 321.2h.1M353.5 364.4h.1M364.0 342.1h.1M346.2 305.7h.1M385.2 302.6h.1M351.2 296.7h.1M353.4 358.0h.1M366.2 322.7h.1M378.1 341.8h.1M379.2 355.7h.1M362.4 292.6h.1M378.8 304.0h.1M368.4 319.5h.1M351.6 346.8h.1M359.2 321.6h.1M350.9 311.2h.1M307.0 357.5h.1M316.9 343.6h.1M310.3 349.3h.1M332.4 347.7h.1M329.9 347.2h.1M316.5 360.7h.1M307.3 363.1h.1M315.8 326.2h.1M332.8 341.1h.1M323.0 364.8h.1M318.9 333.2h.1M316.2 345.2h.1M310.6 339.7h.1M309.0 349.3h.1M317.0 356.2h.1M332.7 351.0h.1M331.9 334.3h.1M329.5 350.5h.1M314.7 353.9h.1M321.8 329.5h.1M310.1 349.8h.1M312.1 325.9h.1M309.9 341.5h.1M315.6 338.8h.1M306.5 331.0h.1M329.5 351.8h.1M331.4 352.4h.1M310.6 351.1h.1M314.3 351.2h.1M311.2 353.5h.1M324.7 347.1h.1M333.1 363.9h.1M331.5 348.9h.1M306.3 346.5h.1M331.5 355.6h.1M318.1 335.0h.1M309.3 363.4h.1M313.6 349.5h.1M319.7 338.8h.1M315.6 336.0h.1M322.1 338.9h.1M307.4 364.9h.1M322.6 338.2h.1M314.6 329.9h.1M329.2 360.0h.1M322.2 331.7h.1M306.5 338.6h.1M333.0 338.4h.1M310.9 331.4h.1M321.1 332.2h.1M316.1 359.1h.1M321.3 363.0h.1M308.9 325.3h.1M312.2 340.7h.1M311.5 359.6h.1M316.8 336.5h.1M315.5 325.8h.1M316.2 359.8h.1M316.2 355.7h.1M315.7 326.1h.1M349.1 341.1h.1M337.3 339.4h.1M331.4 344.5h.1M339.4 331.6h.1M356.1 335.5h.1M334.3 351.8h.1M351.6 331.2h.1M339.9 349.0h.1M325.0 336.6h.1M346.3 343.0h.1M360.2 340.7h.1M344.9 336.8h.1M332.7 339.7h.1M339.5 346.5h.1M334.2 333.2h.1M364.3 331.2h.1M345.7 345.7h.1M322.2 335.6h.1M347.9 337.4h.1M344.9 337.3h.1M333.1 335.4h.1M336.4 324.4h.1M340.7 338.0h.1M355.1 335.1h.1M337.0 328.0h.1M335.2 334.3h.1M349.0 340.7h.1M336.2 352.6h.1M332.9 334.5h.1M340.2 349.5h.1M347.9 335.2h.1M342.5 342.5h.1M338.3 336.8h.1M352.8 344.8h.1M352.5 339.9h.1M328.4 335.7h.1M332.0 326.5h.1M333.9 346.7h.1M339.5 326.9h.1M342.6 334.0h.1M340.7 352.9h.1M341.9 340.7h.1M344.9 339.5h.1M331.0 339.9h.1M323.7 340.8h.1M343.7 336.1h.1M351.3 341.6h.1M342.9 337.6h.1M338.0 336.2h.1M345.8 342.6h.1M338.7 343.9h.1M330.8 341.7h.1M338.2 346.4h.1M347.5 353.7h.1M343.9 352.5h.1M346.8 339.7h.1M337.3 330.2h.1M345.8 348.0h.1M352.8 339.8h.1M338.7 345.1h.1M337.4 336.1h.1M351.2 345.7h.1M342.2 330.1h.1M332.0 340.3h.1M338.0 328.3h.1M351.9 355.0h.1M344.3 336.9h.1M356.3 322.4h.1M346.5 349.1h.1M343.5 346.7h.1M349.9 349.9h.1M336.5 330.1h.1M350.0 342.0h.1M340.7 349.5h.1M339.4 337.6h.1M344.6 342.2h.1M337.7 337.4h.1M332.4 336.7h.1M334.3 350.0h.1M345.6 333.0h.1" stroke="#000" stroke-width="0.6" stroke-linecap="square" fill="none" stroke-opacity="0.33"/>
<line x1="333.50" y1="286.60" x2="333.50" y2="366.20" stroke="#777" stroke-width="0.8"/>
<line x1="303.90" y1="324.80" x2="387.40" y2="324.80" stroke="#777" stroke-width="0.8"/>
<rect x="303.90" y="286.60" width="83.50" height="79.60" fill="none" stroke="#111" stroke-width="1.2"/>
<line x1="301.30" y1="366.20" x2="303.90" y2="366.20" stroke="#1a1a1a" stroke-width="0.7"/>
<line x1="302.40" y1="360.21" x2="303.90" y2="360.21" stroke="#1a1a1a" stroke-width="0.7"/>
<line x1="302.40" y1="356.71" x2="303.90" y2="356.71" stroke="#1a1a1a" stroke-width="0.7"/>
<line x1="302.40" y1="354.22" x2="303.90" y2="354.22" stroke="#1a1a1a" stroke-width="0.7"/>
<line x1="302.40" y1="352.29" x2="303.90" y2="352.29" stroke="#1a1a1a" stroke-width="0.7"/>
<line x1="302.40" y1="350.71" x2="303.90" y2="350.71" stroke="#1a1a1a" stroke-width="0.7"/>
<line x1="302.40" y1="349.38" x2="303.90" y2="349.38" stroke="#1a1a1a" stroke-width="0.7"/>
<line x1="302.40" y1="348.23" x2="303.90" y2="348.23" stroke="#1a1a1a" stroke-width="0.7"/>
<line x1="302.40" y1="347.21" x2="303.90" y2="347.21" stroke="#1a1a1a" stroke-width="0.7"/>
<line x1="301.30" y1="346.30" x2="303.90" y2="346.30" stroke="#1a1a1a" stroke-width="0.7"/>
<line x1="302.40" y1="340.31" x2="303.90" y2="340.31" stroke="#1a1a1a" stroke-width="0.7"/>
<line x1="302.40" y1="336.81" x2="303.90" y2="336.81" stroke="#1a1a1a" stroke-width="0.7"/>
<line x1="302.40" y1="334.32" x2="303.90" y2="334.32" stroke="#1a1a1a" stroke-width="0.7"/>
<line x1="302.40" y1="332.39" x2="303.90" y2="332.39" stroke="#1a1a1a" stroke-width="0.7"/>
<line x1="302.40" y1="330.81" x2="303.90" y2="330.81" stroke="#1a1a1a" stroke-width="0.7"/>
<line x1="302.40" y1="329.48" x2="303.90" y2="329.48" stroke="#1a1a1a" stroke-width="0.7"/>
<line x1="302.40" y1="328.33" x2="303.90" y2="328.33" stroke="#1a1a1a" stroke-width="0.7"/>
<line x1="302.40" y1="327.31" x2="303.90" y2="327.31" stroke="#1a1a1a" stroke-width="0.7"/>
<line x1="301.30" y1="326.40" x2="303.90" y2="326.40" stroke="#1a1a1a" stroke-width="0.7"/>
<line x1="302.40" y1="320.41" x2="303.90" y2="320.41" stroke="#1a1a1a" stroke-width="0.7"/>
<line x1="302.40" y1="316.91" x2="303.90" y2="316.91" stroke="#1a1a1a" stroke-width="0.7"/>
<line x1="302.40" y1="314.42" x2="303.90" y2="314.42" stroke="#1a1a1a" stroke-width="0.7"/>
<line x1="302.40" y1="312.49" x2="303.90" y2="312.49" stroke="#1a1a1a" stroke-width="0.7"/>
<line x1="302.40" y1="310.91" x2="303.90" y2="310.91" stroke="#1a1a1a" stroke-width="0.7"/>
<line x1="302.40" y1="309.58" x2="303.90" y2="309.58" stroke="#1a1a1a" stroke-width="0.7"/>
<line x1="302.40" y1="308.43" x2="303.90" y2="308.43" stroke="#1a1a1a" stroke-width="0.7"/>
<line x1="302.40" y1="307.41" x2="303.90" y2="307.41" stroke="#1a1a1a" stroke-width="0.7"/>
<line x1="301.30" y1="306.50" x2="303.90" y2="306.50" stroke="#1a1a1a" stroke-width="0.7"/>
<line x1="302.40" y1="300.51" x2="303.90" y2="300.51" stroke="#1a1a1a" stroke-width="0.7"/>
<line x1="302.40" y1="297.01" x2="303.90" y2="297.01" stroke="#1a1a1a" stroke-width="0.7"/>
<line x1="302.40" y1="294.52" x2="303.90" y2="294.52" stroke="#1a1a1a" stroke-width="0.7"/>
<line x1="302.40" y1="292.59" x2="303.90" y2="292.59" stroke="#1a1a1a" stroke-width="0.7"/>
<line x1="302.40" y1="291.01" x2="303.90" y2="291.01" stroke="#1a1a1a" stroke-width="0.7"/>
<line x1="302.40" y1="289.68" x2="303.90" y2="289.68" stroke="#1a1a1a" stroke-width="0.7"/>
<line x1="302.40" y1="288.53" x2="303.90" y2="288.53" stroke="#1a1a1a" stroke-width="0.7"/>
<line x1="302.40" y1="287.51" x2="303.90" y2="287.51" stroke="#1a1a1a" stroke-width="0.7"/>
<line x1="301.30" y1="286.60" x2="303.90" y2="286.60" stroke="#1a1a1a" stroke-width="0.7"/>
<line x1="303.90" y1="366.20" x2="303.90" y2="368.80" stroke="#1a1a1a" stroke-width="0.7"/>
<line x1="310.18" y1="366.20" x2="310.18" y2="367.70" stroke="#1a1a1a" stroke-width="0.7"/>
<line x1="313.86" y1="366.20" x2="313.86" y2="367.70" stroke="#1a1a1a" stroke-width="0.7"/>
<line x1="316.47" y1="366.20" x2="316.47" y2="367.70" stroke="#1a1a1a" stroke-width="0.7"/>
<line x1="318.49" y1="366.20" x2="318.49" y2="367.70" stroke="#1a1a1a" stroke-width="0.7"/>
<line x1="320.14" y1="366.20" x2="320.14" y2="367.70" stroke="#1a1a1a" stroke-width="0.7"/>
<line x1="321.54" y1="366.20" x2="321.54" y2="367.70" stroke="#1a1a1a" stroke-width="0.7"/>
<line x1="322.75" y1="366.20" x2="322.75" y2="367.70" stroke="#1a1a1a" stroke-width="0.7"/>
<line x1="323.82" y1="366.20" x2="323.82" y2="367.70" stroke="#1a1a1a" stroke-width="0.7"/>
<line x1="324.77" y1="366.20" x2="324.77" y2="368.80" stroke="#1a1a1a" stroke-width="0.7"/>
<line x1="331.06" y1="366.20" x2="331.06" y2="367.70" stroke="#1a1a1a" stroke-width="0.7"/>
<line x1="334.73" y1="366.20" x2="334.73" y2="367.70" stroke="#1a1a1a" stroke-width="0.7"/>
<line x1="337.34" y1="366.20" x2="337.34" y2="367.70" stroke="#1a1a1a" stroke-width="0.7"/>
<line x1="339.37" y1="366.20" x2="339.37" y2="367.70" stroke="#1a1a1a" stroke-width="0.7"/>
<line x1="341.02" y1="366.20" x2="341.02" y2="367.70" stroke="#1a1a1a" stroke-width="0.7"/>
<line x1="342.42" y1="366.20" x2="342.42" y2="367.70" stroke="#1a1a1a" stroke-width="0.7"/>
<line x1="343.63" y1="366.20" x2="343.63" y2="367.70" stroke="#1a1a1a" stroke-width="0.7"/>
<line x1="344.69" y1="366.20" x2="344.69" y2="367.70" stroke="#1a1a1a" stroke-width="0.7"/>
<line x1="345.65" y1="366.20" x2="345.65" y2="368.80" stroke="#1a1a1a" stroke-width="0.7"/>
<line x1="351.93" y1="366.20" x2="351.93" y2="367.70" stroke="#1a1a1a" stroke-width="0.7"/>
<line x1="355.61" y1="366.20" x2="355.61" y2="367.70" stroke="#1a1a1a" stroke-width="0.7"/>
<line x1="358.22" y1="366.20" x2="358.22" y2="367.70" stroke="#1a1a1a" stroke-width="0.7"/>
<line x1="360.24" y1="366.20" x2="360.24" y2="367.70" stroke="#1a1a1a" stroke-width="0.7"/>
<line x1="361.89" y1="366.20" x2="361.89" y2="367.70" stroke="#1a1a1a" stroke-width="0.7"/>
<line x1="363.29" y1="366.20" x2="363.29" y2="367.70" stroke="#1a1a1a" stroke-width="0.7"/>
<line x1="364.50" y1="366.20" x2="364.50" y2="367.70" stroke="#1a1a1a" stroke-width="0.7"/>
<line x1="365.57" y1="366.20" x2="365.57" y2="367.70" stroke="#1a1a1a" stroke-width="0.7"/>
<line x1="366.52" y1="366.20" x2="366.52" y2="368.80" stroke="#1a1a1a" stroke-width="0.7"/>
<line x1="372.81" y1="366.20" x2="372.81" y2="367.70" stroke="#1a1a1a" stroke-width="0.7"/>
<line x1="376.48" y1="366.20" x2="376.48" y2="367.70" stroke="#1a1a1a" stroke-width="0.7"/>
<line x1="379.09" y1="366.20" x2="379.09" y2="367.70" stroke="#1a1a1a" stroke-width="0.7"/>
<line x1="381.12" y1="366.20" x2="381.12" y2="367.70" stroke="#1a1a1a" stroke-width="0.7"/>
<line x1="382.77" y1="366.20" x2="382.77" y2="367.70" stroke="#1a1a1a" stroke-width="0.7"/>
<line x1="384.17" y1="366.20" x2="384.17" y2="367.70" stroke="#1a1a1a" stroke-width="0.7"/>
<line x1="385.38" y1="366.20" x2="385.38" y2="367.70" stroke="#1a1a1a" stroke-width="0.7"/>
<line x1="386.44" y1="366.20" x2="386.44" y2="367.70" stroke="#1a1a1a" stroke-width="0.7"/>
<line x1="387.40" y1="366.20" x2="387.40" y2="368.80" stroke="#1a1a1a" stroke-width="0.7"/>
<text x="306.20" y="292.90" font-size="7.13" stroke="#222" stroke-width="0.12" fill="#222" textLength="24.50" lengthAdjust="spacingAndGlyphs">AnV+PI−</text>
<text x="306.20" y="300.70" font-size="7.34" stroke="#222" stroke-width="0.12" fill="#222" textLength="17.60" lengthAdjust="spacingAndGlyphs">3.87%</text>
<text x="386.20" y="292.90" font-size="7.13" stroke="#222" stroke-width="0.12" text-anchor="end" fill="#222" textLength="24.70" lengthAdjust="spacingAndGlyphs">AnV+PI+</text>
<text x="361.50" y="300.70" font-size="7.34" stroke="#222" stroke-width="0.12" fill="#222" textLength="17.60" lengthAdjust="spacingAndGlyphs">2.60%</text>
<text x="306.10" y="356.60" font-size="7.13" stroke="#222" stroke-width="0.12" fill="#222" textLength="24.50" lengthAdjust="spacingAndGlyphs">AnV−PI−</text>
<text x="306.10" y="364.20" font-size="7.34" stroke="#222" stroke-width="0.12" fill="#222" textLength="17.60" lengthAdjust="spacingAndGlyphs">91.3%</text>
<text x="386.20" y="356.60" font-size="7.13" stroke="#222" stroke-width="0.12" text-anchor="end" fill="#222" textLength="24.70" lengthAdjust="spacingAndGlyphs">AnV−PI+</text>
<text x="361.50" y="364.20" font-size="7.34" stroke="#222" stroke-width="0.12" fill="#222" textLength="17.60" lengthAdjust="spacingAndGlyphs">2.26%</text>
<text x="287.11" y="370.80" font-size="8.75" stroke="#1a1a1a" stroke-width="0.12" textLength="7.79" lengthAdjust="spacingAndGlyphs">10</text>
<text x="295.00" y="367.30" font-size="6.3" stroke="#1a1a1a" stroke-width="0.12" textLength="2.80" lengthAdjust="spacingAndGlyphs">0</text>
<text x="287.11" y="350.90" font-size="8.75" stroke="#1a1a1a" stroke-width="0.12" textLength="7.79" lengthAdjust="spacingAndGlyphs">10</text>
<text x="295.00" y="347.40" font-size="6.3" stroke="#1a1a1a" stroke-width="0.12" textLength="2.80" lengthAdjust="spacingAndGlyphs">1</text>
<text x="287.11" y="331.00" font-size="8.75" stroke="#1a1a1a" stroke-width="0.12" textLength="7.79" lengthAdjust="spacingAndGlyphs">10</text>
<text x="295.00" y="327.50" font-size="6.3" stroke="#1a1a1a" stroke-width="0.12" textLength="2.80" lengthAdjust="spacingAndGlyphs">2</text>
<text x="287.11" y="311.10" font-size="8.75" stroke="#1a1a1a" stroke-width="0.12" textLength="7.79" lengthAdjust="spacingAndGlyphs">10</text>
<text x="295.00" y="307.60" font-size="6.3" stroke="#1a1a1a" stroke-width="0.12" textLength="2.80" lengthAdjust="spacingAndGlyphs">3</text>
<text x="287.11" y="291.20" font-size="8.75" stroke="#1a1a1a" stroke-width="0.12" textLength="7.79" lengthAdjust="spacingAndGlyphs">10</text>
<text x="295.00" y="287.70" font-size="6.3" stroke="#1a1a1a" stroke-width="0.12" textLength="2.80" lengthAdjust="spacingAndGlyphs">4</text>
<text x="301.50" y="378.90" font-size="8.62" stroke="#1a1a1a" stroke-width="0.12" textLength="7.67" lengthAdjust="spacingAndGlyphs">10</text>
<text x="309.27" y="375.45" font-size="6.21" stroke="#1a1a1a" stroke-width="0.12" textLength="2.76" lengthAdjust="spacingAndGlyphs">0</text>
<text x="319.20" y="378.90" font-size="8.62" stroke="#1a1a1a" stroke-width="0.12" textLength="7.67" lengthAdjust="spacingAndGlyphs">10</text>
<text x="326.97" y="375.45" font-size="6.21" stroke="#1a1a1a" stroke-width="0.12" textLength="2.76" lengthAdjust="spacingAndGlyphs">1</text>
<text x="341.30" y="378.90" font-size="8.62" stroke="#1a1a1a" stroke-width="0.12" textLength="7.67" lengthAdjust="spacingAndGlyphs">10</text>
<text x="349.07" y="375.45" font-size="6.21" stroke="#1a1a1a" stroke-width="0.12" textLength="2.76" lengthAdjust="spacingAndGlyphs">2</text>
<text x="359.00" y="378.90" font-size="8.62" stroke="#1a1a1a" stroke-width="0.12" textLength="7.67" lengthAdjust="spacingAndGlyphs">10</text>
<text x="366.77" y="375.45" font-size="6.21" stroke="#1a1a1a" stroke-width="0.12" textLength="2.76" lengthAdjust="spacingAndGlyphs">3</text>
<text x="379.40" y="378.90" font-size="8.62" stroke="#1a1a1a" stroke-width="0.12" textLength="7.67" lengthAdjust="spacingAndGlyphs">10</text>
<text x="387.17" y="375.45" font-size="6.21" stroke="#1a1a1a" stroke-width="0.12" textLength="2.76" lengthAdjust="spacingAndGlyphs">4</text>
<text x="282.20" y="326.70" font-size="8.86" stroke="#1a1a1a" stroke-width="0.12" text-anchor="middle" textLength="47.00" lengthAdjust="spacingAndGlyphs" transform="rotate(-90 282.20 326.70)">AnnexinV-FITC</text>
<text x="346.00" y="281.40" font-size="9.72" stroke="#1a1a1a" stroke-width="0.04" text-anchor="middle" textLength="60.80" lengthAdjust="spacingAndGlyphs">Healthy serum</text>
<text x="346.15" y="388.20" font-size="8.75" stroke="#1a1a1a" stroke-width="0.12" text-anchor="middle" textLength="6.61" lengthAdjust="spacingAndGlyphs">PI</text>
<path d="M442.7 346.8h.1M444.4 349.6h.1M442.6 347.8h.1M444.9 353.5h.1M434.0 350.9h.1M446.6 350.5h.1M438.0 345.2h.1M441.6 347.0h.1M439.6 358.1h.1M445.7 337.4h.1M440.9 353.4h.1M440.5 349.3h.1M445.8 343.2h.1M450.6 348.0h.1M439.6 350.1h.1M441.1 338.3h.1M440.1 347.6h.1M437.3 349.7h.1M438.5 341.0h.1M440.5 347.5h.1M444.1 355.5h.1M440.3 347.8h.1M440.0 341.5h.1M443.4 337.6h.1M440.8 336.1h.1M452.2 354.2h.1M448.6 346.6h.1M442.7 346.4h.1M436.1 344.8h.1M440.9 342.3h.1M437.5 356.7h.1M438.5 350.5h.1M432.8 354.5h.1M441.4 339.6h.1M439.6 350.1h.1M439.3 350.4h.1M438.4 339.6h.1M444.6 342.0h.1M439.8 341.7h.1M432.8 351.7h.1M438.2 347.7h.1M446.1 343.2h.1M446.5 351.7h.1M438.5 342.5h.1M441.6 347.6h.1M444.6 346.8h.1M446.7 342.4h.1M439.8 352.3h.1M443.5 347.4h.1M442.6 333.3h.1M435.5 344.9h.1M444.7 356.2h.1M444.0 333.8h.1M443.3 352.5h.1M441.4 348.2h.1M440.0 339.3h.1M440.5 346.6h.1M444.6 340.5h.1M438.7 337.3h.1M448.0 350.0h.1M451.0 349.8h.1M435.0 335.2h.1M446.4 344.3h.1M440.6 346.9h.1M446.0 338.0h.1M442.2 353.4h.1M442.3 342.5h.1M445.5 349.7h.1M442.2 350.8h.1M448.9 342.2h.1M443.4 349.1h.1M436.7 346.8h.1M441.4 349.2h.1M442.8 344.4h.1M439.4 352.3h.1M437.1 350.4h.1M448.8 357.0h.1M441.2 353.1h.1M443.4 339.0h.1M436.6 342.7h.1M444.2 349.8h.1M441.1 352.7h.1M447.2 343.5h.1M449.0 347.9h.1M439.7 348.4h.1M439.7 345.9h.1M446.1 353.4h.1M447.4 341.7h.1M443.2 350.1h.1M445.9 342.7h.1M440.9 349.3h.1M443.1 341.5h.1M442.7 345.3h.1M433.4 351.2h.1M446.1 341.8h.1M445.4 347.8h.1M438.3 350.2h.1M440.4 346.0h.1M443.8 345.5h.1M445.2 347.4h.1M443.2 341.8h.1M440.0 351.1h.1M443.5 351.4h.1M441.5 357.1h.1M438.4 348.0h.1M440.3 353.1h.1M441.4 343.8h.1M444.6 350.1h.1M438.1 340.9h.1M439.1 347.9h.1M441.2 344.9h.1M441.8 352.5h.1M453.3 336.4h.1M441.9 345.9h.1M446.8 345.8h.1M444.9 351.2h.1M448.0 343.5h.1M449.5 345.4h.1M443.6 354.6h.1M439.2 342.8h.1M441.4 344.5h.1M447.3 354.4h.1M452.5 335.9h.1M447.1 350.0h.1M451.4 350.2h.1M444.9 348.8h.1M440.7 336.1h.1M444.0 338.8h.1M444.3 342.3h.1M446.7 342.5h.1M445.2 351.3h.1M439.4 343.9h.1M445.9 355.8h.1M440.3 346.5h.1M443.0 350.6h.1M445.5 343.4h.1M445.6 343.9h.1M444.1 349.7h.1M439.6 351.7h.1M442.5 343.1h.1M445.0 354.9h.1M440.9 345.3h.1M436.6 355.4h.1M433.6 338.4h.1M442.8 344.9h.1M438.4 350.2h.1M442.5 346.5h.1M438.7 343.0h.1M440.2 350.5h.1M440.2 352.2h.1M446.4 345.1h.1M438.4 350.9h.1M438.1 343.8h.1M443.5 342.4h.1M444.6 354.8h.1M439.3 343.2h.1M444.8 344.4h.1M441.8 351.4h.1M445.1 341.5h.1M435.9 340.5h.1M443.0 345.5h.1M441.3 347.3h.1M442.4 352.4h.1M439.9 345.5h.1M442.5 343.1h.1M434.9 338.3h.1M442.6 345.1h.1M448.1 345.0h.1M442.2 353.4h.1M444.0 337.7h.1M445.2 336.8h.1M449.4 336.9h.1M439.9 345.2h.1M436.3 348.6h.1M436.7 355.6h.1M441.1 337.1h.1M442.6 347.8h.1M446.1 343.8h.1M438.2 355.9h.1M438.1 348.3h.1M444.6 356.2h.1M446.6 347.3h.1M438.5 352.6h.1M445.0 349.4h.1M442.2 343.1h.1M439.7 352.0h.1M442.1 345.0h.1M440.8 333.3h.1M435.8 345.3h.1M437.8 339.0h.1M439.0 349.5h.1M442.2 355.9h.1M443.6 348.8h.1M445.2 350.5h.1M440.2 339.3h.1M442.9 342.2h.1M437.2 342.6h.1M436.9 357.7h.1M446.7 345.0h.1M441.6 348.4h.1M451.2 337.2h.1M445.4 344.3h.1M440.4 347.3h.1M439.7 345.6h.1M434.4 344.0h.1M447.1 350.1h.1M445.8 350.2h.1M457.4 341.8h.1M451.5 340.2h.1M443.2 350.2h.1M437.6 350.9h.1M436.5 337.9h.1M440.3 350.5h.1M443.4 338.6h.1M436.7 345.0h.1M444.0 354.6h.1M447.5 337.8h.1M438.5 346.2h.1M441.5 345.4h.1M437.7 339.4h.1M445.7 351.8h.1M439.6 340.8h.1M438.4 342.2h.1M435.5 339.2h.1M437.9 348.7h.1M435.0 349.0h.1M445.4 355.3h.1M445.0 345.7h.1M438.1 341.2h.1M437.6 354.9h.1M442.5 343.1h.1M442.2 350.8h.1M436.8 355.6h.1M447.0 352.1h.1M446.3 336.4h.1M451.1 341.7h.1M432.0 340.6h.1M435.4 350.7h.1M445.8 342.5h.1M442.6 351.3h.1M441.0 347.8h.1M437.6 347.0h.1M444.3 346.8h.1M440.9 342.0h.1M446.6 355.4h.1M446.6 348.0h.1M444.7 356.0h.1M435.8 340.3h.1M445.0 336.9h.1M448.2 355.8h.1M450.6 340.8h.1M447.2 348.0h.1M447.2 345.0h.1M439.4 345.2h.1M448.5 345.5h.1M450.7 341.2h.1M445.0 339.8h.1M444.2 348.1h.1M442.4 342.3h.1M441.7 356.8h.1M441.1 346.8h.1M443.1 355.0h.1M442.1 343.6h.1M435.7 350.4h.1M440.4 342.7h.1M444.8 341.2h.1M443.4 345.2h.1M448.3 346.1h.1M444.1 362.3h.1M448.6 339.4h.1M442.7 342.6h.1M446.1 351.3h.1M439.7 345.1h.1M439.6 346.9h.1M445.3 351.5h.1M443.5 345.8h.1M439.8 341.8h.1M447.3 339.0h.1M448.2 346.9h.1M445.0 350.1h.1M447.4 348.4h.1M445.1 353.8h.1M446.4 344.5h.1M439.0 347.6h.1M435.6 340.5h.1M442.6 334.9h.1M429.0 348.0h.1M440.6 343.4h.1M437.4 349.6h.1M443.3 342.8h.1M440.8 336.9h.1M443.1 341.1h.1M439.0 344.1h.1M441.9 342.2h.1M448.6 345.6h.1M437.8 349.0h.1M435.4 345.3h.1M447.6 349.9h.1M445.6 345.9h.1M442.8 342.3h.1M441.6 340.4h.1M445.4 333.6h.1M440.4 349.6h.1M445.3 353.4h.1M442.0 340.3h.1M440.6 340.4h.1M445.3 341.6h.1M438.9 347.9h.1M444.5 347.2h.1M437.9 344.3h.1M440.2 345.7h.1M444.5 336.6h.1M439.7 345.2h.1M446.4 345.7h.1M441.6 349.1h.1M443.8 342.2h.1M435.0 342.1h.1M444.4 347.9h.1M440.5 362.1h.1M435.0 341.7h.1M441.7 358.4h.1M444.4 341.1h.1M439.5 346.3h.1M438.8 340.2h.1M435.6 353.6h.1M442.3 347.1h.1M442.3 347.5h.1M440.6 352.3h.1M449.3 355.2h.1M442.8 342.5h.1M442.8 347.9h.1M436.4 342.6h.1M442.6 353.4h.1M447.8 334.5h.1M437.0 358.7h.1M450.9 346.2h.1M441.8 333.9h.1M442.7 348.1h.1M441.5 341.2h.1M440.7 346.4h.1M430.8 345.5h.1M444.9 353.2h.1M435.1 334.4h.1M446.9 349.4h.1M436.9 352.6h.1M441.3 338.5h.1M451.7 352.2h.1M437.8 350.6h.1M441.9 343.1h.1M438.9 334.4h.1M441.4 347.2h.1M444.3 343.8h.1M447.3 356.5h.1M432.1 343.6h.1M441.4 350.5h.1M444.4 348.8h.1M445.7 348.0h.1M440.3 338.7h.1M443.2 342.2h.1M449.7 348.1h.1M443.9 346.1h.1M450.8 347.0h.1M436.9 350.3h.1M439.4 346.3h.1M441.9 350.7h.1M438.2 346.4h.1M444.6 349.0h.1M438.3 342.7h.1M444.9 337.8h.1M435.6 350.6h.1M438.2 351.0h.1M442.8 350.4h.1M445.4 342.0h.1M437.6 352.4h.1M436.2 346.2h.1M444.4 347.7h.1M438.9 341.9h.1M444.3 343.8h.1M448.0 343.4h.1M444.6 348.9h.1M436.8 341.5h.1M447.3 347.0h.1M447.2 343.8h.1M441.0 338.5h.1M440.6 346.5h.1M447.9 348.0h.1M443.6 347.0h.1M446.5 329.3h.1M445.9 353.1h.1M444.5 346.7h.1M454.4 342.4h.1M446.3 358.4h.1M443.0 346.7h.1M442.3 350.8h.1M441.1 347.0h.1M449.2 333.5h.1M436.7 352.8h.1M446.9 340.2h.1M439.2 352.5h.1M435.2 344.6h.1M447.1 341.9h.1M446.2 332.3h.1M444.0 343.8h.1M442.0 340.3h.1M442.3 346.6h.1M440.8 339.6h.1M447.2 351.4h.1M448.3 344.1h.1M442.6 343.8h.1M440.9 358.1h.1M443.0 351.2h.1M446.6 343.1h.1M443.1 348.7h.1M442.0 336.7h.1M442.2 341.9h.1M443.7 345.5h.1M442.5 342.0h.1M441.8 340.3h.1M446.9 350.9h.1M444.7 343.1h.1M446.8 342.2h.1M439.5 342.4h.1M446.4 343.0h.1M442.0 351.0h.1M441.3 348.0h.1M441.0 337.2h.1M438.9 353.9h.1M439.8 352.5h.1M443.2 344.8h.1M443.0 340.6h.1M450.5 347.6h.1M444.9 343.3h.1M443.1 349.6h.1M442.2 346.1h.1M438.3 353.4h.1M440.6 336.4h.1M444.5 343.0h.1M436.3 347.2h.1M449.4 344.4h.1M449.1 344.8h.1M437.6 338.8h.1M445.8 358.2h.1M447.1 345.9h.1M446.5 351.1h.1M445.9 342.2h.1M449.5 344.6h.1M439.4 345.5h.1M439.4 355.7h.1M443.9 354.7h.1M441.1 358.5h.1M435.6 354.4h.1M444.6 355.5h.1M446.8 345.7h.1M442.3 342.2h.1M443.0 354.2h.1M447.0 342.8h.1M433.7 348.3h.1M440.9 342.5h.1M440.0 339.8h.1M441.9 346.7h.1M438.4 340.5h.1M437.8 343.9h.1M442.7 351.6h.1M450.0 346.3h.1M436.8 351.5h.1M449.3 344.7h.1M446.1 348.9h.1M447.4 341.1h.1M446.7 354.8h.1M442.6 334.3h.1M446.8 348.7h.1M436.1 348.8h.1M441.5 330.8h.1M445.2 337.0h.1M446.9 337.9h.1M437.2 345.1h.1M435.2 343.8h.1M444.5 344.6h.1M443.3 350.1h.1M443.5 360.0h.1M443.1 340.4h.1M437.1 347.7h.1M447.1 347.3h.1M444.8 353.1h.1M445.0 334.1h.1M452.6 338.2h.1M444.4 340.2h.1M449.5 340.9h.1M441.9 347.7h.1M431.4 342.0h.1M439.6 334.0h.1M432.3 340.5h.1M443.0 336.8h.1M447.9 342.6h.1M436.0 344.3h.1M446.1 342.2h.1M440.5 353.3h.1M444.4 359.9h.1M443.7 349.4h.1M439.9 336.8h.1M443.7 355.0h.1M440.8 358.5h.1M446.3 345.7h.1M450.0 349.6h.1M440.9 352.6h.1M449.0 348.4h.1M441.2 353.6h.1M444.6 349.9h.1M443.9 342.9h.1M440.4 343.1h.1M443.4 344.9h.1M441.4 342.1h.1M443.8 354.3h.1M438.2 347.6h.1M439.0 344.6h.1M445.4 351.5h.1M444.7 347.1h.1M444.1 352.7h.1M443.6 356.0h.1M446.7 347.9h.1M445.0 343.2h.1M447.3 340.0h.1M438.1 356.2h.1M444.4 348.8h.1M440.2 342.4h.1M437.8 345.1h.1M442.7 339.6h.1M444.1 354.5h.1M442.5 348.1h.1M450.1 345.2h.1M446.6 338.1h.1M442.6 358.8h.1M443.0 347.1h.1M439.1 332.6h.1M443.4 343.0h.1M442.8 346.2h.1M449.5 348.2h.1M440.4 339.5h.1M441.2 352.9h.1M439.3 349.3h.1M443.2 346.7h.1M436.3 341.5h.1M445.3 336.1h.1M443.1 343.6h.1M443.6 345.2h.1M454.1 340.9h.1M442.1 348.0h.1M444.0 351.2h.1M443.0 343.5h.1M447.3 344.5h.1M451.6 347.4h.1M448.1 356.9h.1M442.8 354.8h.1M439.0 335.9h.1M444.8 343.7h.1M434.0 360.2h.1M439.4 343.9h.1M438.9 356.2h.1M437.8 348.6h.1M441.6 353.6h.1M441.5 344.0h.1M439.6 346.4h.1M443.7 349.7h.1M439.8 345.8h.1M447.8 346.7h.1M444.0 355.0h.1M441.1 345.1h.1M443.3 354.3h.1M440.4 342.5h.1M440.4 344.2h.1M446.1 351.1h.1M435.9 348.4h.1M443.7 352.2h.1M450.3 347.7h.1M433.8 344.9h.1M452.6 344.9h.1M436.2 336.1h.1M434.0 342.7h.1M433.3 351.2h.1M438.0 345.3h.1M440.1 347.2h.1M434.0 352.5h.1M442.5 340.9h.1M445.6 348.8h.1M439.9 342.7h.1M442.1 353.0h.1M446.3 338.2h.1M449.8 345.3h.1M442.6 343.3h.1M445.7 344.8h.1M445.1 343.4h.1M441.3 357.2h.1M441.4 344.9h.1M444.2 345.7h.1M446.5 338.4h.1M438.3 337.9h.1M441.7 341.8h.1M444.9 339.5h.1M443.4 349.5h.1M444.4 343.2h.1M449.5 344.7h.1M446.9 346.1h.1M438.3 340.4h.1M450.0 339.9h.1M440.3 342.0h.1M439.1 347.1h.1M447.0 346.3h.1M441.9 341.2h.1M434.5 354.6h.1M444.8 348.8h.1M443.8 350.5h.1M443.5 355.5h.1M437.6 340.2h.1M445.0 352.3h.1M439.8 347.5h.1M446.0 348.5h.1M438.8 336.9h.1M439.3 341.1h.1M434.6 345.3h.1M439.4 345.6h.1M445.6 355.9h.1M443.8 344.3h.1M440.0 347.5h.1M448.3 345.4h.1M444.4 339.0h.1M445.9 344.8h.1M443.8 347.1h.1M440.7 356.3h.1M442.1 353.6h.1M444.7 343.5h.1M447.8 341.8h.1M445.0 346.6h.1M446.6 343.6h.1M436.0 359.9h.1M434.2 350.2h.1M443.8 346.3h.1M443.6 343.4h.1M445.2 340.5h.1M438.5 345.3h.1M445.2 331.7h.1M438.5 343.6h.1M443.2 343.8h.1M441.0 355.1h.1M443.2 336.2h.1M443.0 351.8h.1M440.7 344.2h.1M441.8 350.9h.1M445.9 342.6h.1M448.3 349.6h.1M443.5 351.5h.1M443.7 361.6h.1M445.5 342.1h.1M449.3 346.6h.1M451.0 347.0h.1M440.4 342.7h.1M445.4 346.3h.1M443.7 346.8h.1M449.2 345.4h.1M434.0 335.2h.1M439.7 347.6h.1M436.6 337.1h.1M448.1 346.7h.1M442.8 352.4h.1M446.2 339.5h.1M444.3 345.9h.1M443.5 347.7h.1M444.2 346.4h.1M441.2 343.5h.1M434.2 345.4h.1M443.3 350.5h.1M443.1 340.6h.1M440.3 345.2h.1M439.5 350.2h.1M448.3 343.8h.1M440.5 339.2h.1M437.6 350.2h.1M444.6 350.8h.1M447.6 352.8h.1M437.3 345.7h.1M439.0 342.2h.1M437.0 354.6h.1M443.0 353.8h.1M444.1 351.4h.1M448.6 344.4h.1M442.2 347.1h.1M442.2 341.3h.1M440.9 340.1h.1M447.0 347.6h.1M439.8 348.0h.1M438.7 349.2h.1M441.5 346.9h.1M440.7 358.2h.1M444.9 341.1h.1M438.9 353.7h.1M449.8 345.2h.1M449.5 352.9h.1M438.6 340.6h.1M441.3 359.2h.1M437.2 354.2h.1M442.6 337.2h.1M436.4 353.3h.1M441.1 347.4h.1M442.8 351.9h.1M443.1 346.7h.1M437.1 345.0h.1M435.4 337.5h.1M435.3 342.8h.1M447.4 347.1h.1M443.0 336.9h.1M443.5 341.0h.1M448.3 347.5h.1M438.0 348.6h.1M444.5 344.2h.1M438.6 354.3h.1M443.6 343.8h.1M434.3 349.1h.1M439.7 353.9h.1M442.8 342.1h.1M441.9 353.3h.1M436.7 345.1h.1M442.1 341.7h.1M444.7 356.4h.1M440.7 356.0h.1M446.1 345.4h.1M444.2 353.2h.1M442.6 352.5h.1M440.9 346.4h.1M440.9 359.4h.1M438.7 345.5h.1M445.6 343.3h.1M443.7 347.1h.1M447.3 346.8h.1M451.9 345.5h.1M446.0 345.6h.1M445.8 339.4h.1M442.7 350.4h.1M446.9 339.4h.1M447.1 353.9h.1M440.7 350.6h.1M437.6 343.8h.1M437.2 343.8h.1M447.0 343.6h.1M444.3 347.1h.1M443.1 357.2h.1M435.3 347.7h.1M440.5 344.0h.1M434.7 356.0h.1M438.1 343.9h.1M440.4 344.5h.1M437.9 358.8h.1M448.3 351.6h.1M436.3 353.0h.1M439.4 350.1h.1M438.9 349.5h.1M442.1 350.8h.1M444.7 351.7h.1M437.3 359.1h.1M436.6 339.2h.1M442.6 332.9h.1M444.2 345.5h.1M439.2 337.7h.1M446.2 348.3h.1M439.2 339.4h.1M439.7 346.7h.1M439.6 352.9h.1M450.5 345.0h.1M446.1 343.0h.1M443.2 351.6h.1M438.9 341.9h.1M437.9 345.7h.1M439.6 345.6h.1M449.9 340.4h.1M446.9 353.0h.1M443.8 340.6h.1M438.8 351.6h.1M434.9 348.0h.1M441.4 340.4h.1M444.8 345.1h.1M443.9 352.1h.1M444.2 345.4h.1M437.7 359.1h.1M445.2 341.4h.1M440.8 353.6h.1M447.3 337.8h.1M443.6 345.5h.1M444.7 353.0h.1M445.3 336.0h.1M440.2 348.1h.1M448.0 341.1h.1M439.2 338.5h.1M445.7 342.9h.1M441.0 343.4h.1M441.3 343.7h.1M444.0 343.5h.1M441.0 341.5h.1M440.4 331.1h.1M437.5 354.0h.1M436.1 358.3h.1M442.1 349.4h.1M443.9 345.3h.1M442.8 341.0h.1M435.9 347.5h.1M442.7 348.4h.1M446.9 342.0h.1M437.9 345.1h.1M438.1 350.5h.1M445.8 348.9h.1M441.8 346.3h.1M446.7 348.1h.1M441.6 342.3h.1M436.6 345.6h.1M442.2 347.1h.1M442.8 342.4h.1M443.7 346.2h.1M438.2 351.5h.1M439.7 352.5h.1M452.4 335.2h.1M441.3 338.1h.1M448.0 353.4h.1M437.5 348.5h.1M443.0 349.4h.1M445.0 338.8h.1M445.9 347.6h.1M441.9 350.1h.1M439.4 348.8h.1M443.4 342.6h.1M436.9 342.5h.1M432.1 347.1h.1M436.0 346.9h.1M447.7 355.1h.1M447.6 334.0h.1M450.3 344.3h.1M443.4 354.2h.1M437.4 339.2h.1M438.3 346.8h.1M442.5 355.2h.1M439.9 340.4h.1M438.3 348.1h.1M436.5 357.2h.1M440.4 338.9h.1M436.3 334.1h.1M443.2 353.1h.1M439.9 343.5h.1M447.5 347.1h.1M449.0 348.0h.1M441.1 353.8h.1M446.8 345.6h.1M446.0 353.1h.1M442.6 351.2h.1M441.7 346.5h.1M446.7 353.5h.1M444.8 348.8h.1M441.7 346.0h.1M437.9 364.0h.1M444.0 335.1h.1M447.1 340.5h.1M446.0 341.1h.1M440.4 343.9h.1M441.7 347.6h.1M443.2 345.5h.1M438.9 359.6h.1M442.5 343.6h.1M439.4 339.8h.1M439.2 346.3h.1M443.9 344.3h.1M443.8 343.9h.1M440.4 351.8h.1M450.8 349.7h.1M440.8 353.1h.1M446.1 340.8h.1M443.0 350.3h.1M440.5 346.5h.1M445.7 343.4h.1M448.1 338.1h.1M442.5 346.2h.1M445.4 340.1h.1M453.2 352.4h.1M438.5 348.8h.1M441.2 349.3h.1M442.4 363.2h.1M441.4 354.0h.1M440.8 334.4h.1M440.0 349.8h.1M441.3 347.7h.1M441.2 347.7h.1M443.1 343.7h.1M448.0 352.8h.1M445.7 330.3h.1M442.0 338.6h.1M444.7 350.6h.1M444.9 348.1h.1M437.5 351.3h.1M440.3 344.0h.1M438.5 342.8h.1M443.1 351.3h.1M445.7 348.0h.1M443.0 336.3h.1M446.6 352.8h.1M441.1 339.9h.1M440.5 351.6h.1M442.0 347.6h.1M442.7 350.1h.1M448.2 353.5h.1M438.9 340.0h.1M444.2 350.7h.1M442.8 346.3h.1M447.4 345.7h.1M437.2 345.9h.1M438.3 343.0h.1M449.2 347.8h.1M447.3 348.7h.1M447.3 343.4h.1M441.1 352.9h.1M446.6 347.7h.1M443.4 340.1h.1M437.8 348.6h.1M441.5 349.5h.1M442.6 338.0h.1M438.1 347.7h.1M440.5 344.0h.1M439.5 347.7h.1M444.7 345.9h.1M446.0 349.4h.1M446.7 348.3h.1M448.7 333.9h.1M438.2 346.4h.1M444.3 350.1h.1M445.1 351.2h.1M443.1 354.0h.1M438.5 348.0h.1M429.9 352.6h.1M442.4 351.7h.1M439.6 343.3h.1M446.6 343.0h.1M435.6 353.2h.1M444.0 351.0h.1M442.2 336.1h.1M438.1 339.7h.1M439.7 353.1h.1M441.7 347.4h.1M447.2 336.9h.1M445.3 349.6h.1M446.5 353.1h.1M444.9 350.8h.1M440.7 346.0h.1M440.9 345.2h.1M443.5 343.5h.1M441.5 343.4h.1M435.7 347.2h.1M432.2 360.2h.1M443.3 362.2h.1M443.0 345.6h.1M451.5 339.0h.1M440.5 345.7h.1M446.8 345.5h.1M443.2 345.2h.1M445.8 337.0h.1M442.8 346.2h.1M447.4 343.4h.1M444.4 347.1h.1M441.8 337.2h.1M442.0 346.7h.1M442.5 339.3h.1M443.4 341.7h.1M443.9 342.9h.1M441.2 343.1h.1M440.6 343.0h.1M442.9 343.2h.1M435.9 342.0h.1M444.6 342.7h.1M444.4 343.4h.1M430.4 342.8h.1M436.5 357.0h.1M441.6 351.9h.1M434.0 341.8h.1M445.3 338.8h.1M445.4 353.8h.1M444.3 346.7h.1M445.9 349.1h.1M441.1 353.3h.1M447.4 335.8h.1M445.7 343.4h.1M441.8 347.6h.1M441.6 354.8h.1M435.9 345.1h.1M437.0 346.3h.1M446.5 346.9h.1M446.6 346.9h.1M439.0 347.0h.1M436.8 342.3h.1M435.1 341.3h.1M447.3 345.0h.1M443.3 350.4h.1M449.0 354.5h.1M447.3 348.0h.1M450.7 346.1h.1M444.7 354.2h.1M439.7 349.5h.1M440.5 350.7h.1M446.9 346.4h.1M437.1 343.3h.1M444.3 349.7h.1M440.9 345.4h.1M446.6 354.1h.1M440.9 341.1h.1M439.2 348.1h.1M446.2 347.2h.1M430.4 338.8h.1M446.9 345.1h.1M444.4 340.6h.1M440.3 344.2h.1M445.3 345.4h.1M438.3 361.8h.1M445.7 340.8h.1M442.2 350.4h.1M445.8 344.3h.1M438.3 348.2h.1M440.0 344.2h.1M450.4 342.9h.1M442.4 355.1h.1M440.7 353.0h.1M440.2 335.8h.1M440.4 345.4h.1M443.6 344.6h.1M438.9 336.6h.1M442.1 347.5h.1M440.9 349.4h.1M434.5 345.8h.1M442.0 349.3h.1M445.8 357.6h.1M441.0 343.7h.1M440.5 353.8h.1M441.6 359.5h.1M442.4 329.2h.1M435.6 344.3h.1M441.4 354.5h.1M440.3 348.3h.1M440.3 342.6h.1M446.7 355.7h.1M442.1 351.9h.1M440.7 336.8h.1M439.0 351.0h.1M448.8 346.4h.1M445.4 348.2h.1M436.3 338.7h.1M444.3 350.1h.1M440.3 347.3h.1M440.8 340.8h.1M447.1 345.3h.1M444.0 355.4h.1M437.7 355.1h.1M443.5 337.9h.1M444.5 349.9h.1M442.1 344.8h.1M444.4 343.9h.1M439.4 347.7h.1M446.2 356.3h.1M447.7 350.7h.1M440.5 340.7h.1M436.7 346.2h.1M440.1 349.0h.1M444.9 353.7h.1M443.2 346.4h.1M442.0 347.4h.1M442.9 348.1h.1M435.9 349.7h.1M443.7 335.6h.1M440.8 354.8h.1M439.6 348.2h.1M445.5 347.2h.1M440.6 339.9h.1M439.6 347.9h.1M443.5 358.7h.1M445.4 343.5h.1M444.0 337.2h.1M442.9 349.4h.1M443.9 347.1h.1M443.7 346.6h.1M439.7 337.2h.1M445.3 349.6h.1M449.8 351.6h.1M447.5 321.6h.1M441.2 347.5h.1M446.4 351.8h.1M445.6 341.8h.1M441.1 333.7h.1M441.9 347.2h.1M438.3 358.9h.1M446.1 349.4h.1M435.3 359.2h.1M447.1 349.4h.1M439.9 345.0h.1M444.2 342.3h.1M439.5 354.8h.1M445.0 339.1h.1M447.5 343.7h.1M445.2 344.6h.1M437.3 347.8h.1M441.3 346.8h.1M444.1 338.0h.1M450.8 340.8h.1M438.9 356.5h.1M440.7 347.0h.1M439.3 346.3h.1M442.4 344.6h.1M444.8 348.7h.1M439.0 341.7h.1M447.0 354.1h.1M446.7 352.5h.1M445.6 347.1h.1M444.1 352.5h.1M452.2 347.1h.1M438.5 343.6h.1M439.4 352.2h.1M451.0 347.4h.1M438.2 341.2h.1M442.3 356.3h.1M441.8 345.5h.1M438.3 348.9h.1M437.3 355.1h.1M442.6 339.1h.1M443.7 345.1h.1M443.5 352.7h.1M445.0 345.3h.1M443.0 344.1h.1M442.6 345.9h.1M445.1 345.3h.1M440.1 344.5h.1M436.7 348.4h.1M445.6 347.7h.1M432.7 355.7h.1M444.3 349.0h.1M446.1 357.3h.1M437.3 346.9h.1M432.0 355.8h.1M439.1 345.5h.1M442.6 354.1h.1M438.4 347.2h.1M445.1 356.9h.1M445.6 342.5h.1M438.8 343.5h.1M445.1 349.5h.1M437.4 340.3h.1M439.3 355.2h.1M443.4 345.9h.1M447.2 350.7h.1M444.7 353.3h.1M447.8 351.2h.1M437.2 341.7h.1M456.3 340.8h.1M440.2 336.5h.1M444.2 341.6h.1M449.2 343.3h.1M445.1 342.4h.1M446.8 350.1h.1M438.6 338.1h.1M439.2 336.6h.1M440.4 347.6h.1M438.6 357.0h.1M443.6 341.4h.1M441.1 345.9h.1M437.7 345.8h.1M442.3 353.3h.1M436.0 351.0h.1M439.9 343.7h.1M442.9 352.3h.1M438.7 346.6h.1M441.6 351.5h.1M443.5 357.8h.1M450.1 334.7h.1M448.3 339.1h.1M447.0 339.3h.1M445.4 339.7h.1M437.2 346.6h.1M438.8 347.0h.1M437.4 356.4h.1M439.0 354.7h.1M441.6 348.3h.1M438.6 345.4h.1M440.0 350.4h.1M446.5 349.8h.1M441.0 343.7h.1M434.0 349.7h.1M441.6 343.6h.1M441.8 346.0h.1M441.0 345.6h.1M451.4 344.4h.1M446.6 343.4h.1M449.1 348.0h.1M440.0 345.6h.1M446.4 339.8h.1M442.0 356.5h.1M440.6 356.6h.1M437.6 355.8h.1M442.2 353.6h.1M434.6 345.0h.1M446.9 341.6h.1M454.3 342.2h.1M449.7 337.3h.1M434.2 343.5h.1M444.5 336.6h.1M439.2 346.8h.1M439.6 347.8h.1M441.7 343.3h.1M447.5 344.1h.1M445.3 346.6h.1M438.5 349.4h.1M444.8 344.9h.1M441.5 356.6h.1M451.2 342.5h.1M436.9 342.1h.1M442.2 343.7h.1M438.7 344.8h.1M442.0 347.8h.1M433.8 348.6h.1M438.9 344.1h.1M440.6 355.7h.1M441.4 335.4h.1M438.5 347.6h.1M441.8 346.7h.1M441.1 338.2h.1M439.8 337.6h.1M441.2 347.0h.1M441.4 353.2h.1M443.3 349.0h.1M435.4 345.0h.1M440.9 344.4h.1M447.4 344.2h.1M436.9 343.3h.1M442.3 350.2h.1M439.4 352.4h.1M446.2 350.2h.1M447.7 343.1h.1M442.9 349.9h.1M439.4 352.1h.1M437.5 334.9h.1M439.9 347.9h.1M439.4 342.8h.1M442.3 347.1h.1M449.5 339.9h.1M450.7 341.3h.1M443.6 345.9h.1M443.2 343.2h.1M442.2 343.4h.1M444.2 341.4h.1M441.1 348.8h.1M448.4 353.5h.1M440.1 340.4h.1M442.6 347.9h.1M440.2 343.4h.1M445.9 348.3h.1M448.6 353.8h.1M444.7 348.2h.1M443.2 345.7h.1M443.4 340.3h.1M443.7 353.1h.1M439.2 355.5h.1M450.4 336.2h.1M448.9 350.6h.1M446.5 345.9h.1M446.6 339.4h.1M439.4 356.1h.1M449.2 350.4h.1M435.2 357.6h.1M440.2 341.4h.1M451.2 344.8h.1M442.0 337.4h.1M439.2 346.3h.1M437.3 335.7h.1M446.8 345.1h.1M446.2 353.6h.1M442.8 349.5h.1M435.3 351.0h.1M442.0 347.0h.1M438.7 350.3h.1M446.1 346.1h.1M449.3 339.8h.1M443.8 349.3h.1M444.2 346.2h.1M449.2 342.6h.1M450.1 340.9h.1M436.8 352.6h.1M445.6 337.1h.1M438.6 340.8h.1M439.2 348.0h.1M446.5 350.4h.1M438.0 347.1h.1M443.1 337.5h.1M446.5 353.3h.1M444.4 345.9h.1M437.3 336.9h.1M441.3 352.5h.1M441.7 345.6h.1M440.5 335.2h.1M452.7 332.1h.1M442.9 345.4h.1M443.3 342.7h.1M446.4 348.4h.1M443.1 347.2h.1M438.0 341.1h.1M447.4 334.9h.1M445.9 334.5h.1M436.3 334.9h.1M447.9 350.4h.1M444.2 345.1h.1M442.4 338.1h.1M443.9 355.4h.1M437.3 340.9h.1M438.1 335.8h.1M443.3 335.7h.1M438.2 327.6h.1M454.5 341.6h.1M446.2 333.5h.1M448.6 342.1h.1M455.7 348.4h.1M453.0 349.0h.1M459.2 339.8h.1M434.0 362.0h.1M457.0 331.8h.1M439.1 349.7h.1M441.7 342.6h.1M444.4 345.8h.1M444.9 335.3h.1M444.3 334.1h.1M444.6 349.7h.1M457.1 325.5h.1M427.1 341.7h.1M434.9 325.2h.1M436.6 321.4h.1M445.4 343.5h.1M445.0 336.5h.1M443.3 363.7h.1M459.9 325.5h.1M443.4 344.1h.1M432.8 342.1h.1M446.3 344.7h.1M457.4 339.3h.1M460.3 327.1h.1M441.8 350.3h.1M443.4 350.6h.1M445.2 347.0h.1M447.4 346.0h.1M440.6 355.2h.1M438.5 352.5h.1M453.7 351.5h.1M455.6 337.3h.1M442.0 353.4h.1M440.5 332.5h.1M438.3 346.0h.1M436.5 330.6h.1M434.7 339.5h.1M440.2 350.7h.1M438.6 338.4h.1M444.0 353.0h.1M440.4 336.8h.1M434.1 359.5h.1M440.8 340.4h.1M445.0 350.6h.1M441.7 341.8h.1M455.1 331.8h.1M440.7 337.5h.1M439.3 363.5h.1M438.6 328.1h.1M461.0 327.8h.1M444.9 346.0h.1M450.4 357.3h.1M441.5 338.1h.1M449.0 333.9h.1M436.8 339.1h.1M439.2 339.5h.1M439.5 354.2h.1M434.0 361.8h.1M448.9 341.6h.1M450.7 334.5h.1M453.8 330.8h.1M439.3 322.9h.1M439.2 341.1h.1M445.4 325.7h.1M447.0 350.8h.1M434.4 338.6h.1M442.4 334.6h.1M448.6 358.9h.1M446.6 323.9h.1M441.1 352.0h.1M434.9 342.4h.1M440.4 344.9h.1M448.4 343.0h.1M452.4 331.2h.1M430.1 347.2h.1M444.3 355.6h.1M443.6 320.3h.1M436.2 342.5h.1M456.8 343.0h.1M448.5 339.9h.1M434.7 345.6h.1M436.0 339.2h.1M445.1 338.2h.1M430.5 353.7h.1M443.1 331.7h.1M447.4 338.4h.1M434.1 336.4h.1M445.6 333.8h.1M447.1 337.1h.1M436.2 356.7h.1M447.1 333.6h.1M448.6 325.7h.1M441.8 315.4h.1M450.4 335.5h.1M442.6 328.2h.1M442.7 355.8h.1M442.8 347.2h.1M444.6 330.6h.1M428.7 337.9h.1M451.1 339.8h.1M443.8 343.8h.1M447.1 345.6h.1M439.2 347.4h.1M441.6 344.4h.1M446.7 342.6h.1M428.6 330.6h.1M437.5 342.3h.1M438.4 343.7h.1M442.9 327.3h.1M439.0 342.4h.1M439.3 327.8h.1M447.3 324.3h.1M448.8 342.1h.1M445.5 348.1h.1M449.0 353.2h.1M447.6 336.6h.1M456.0 327.8h.1M455.9 334.0h.1M440.1 338.8h.1M437.3 340.0h.1M438.0 346.5h.1M440.8 339.7h.1M446.7 354.2h.1M447.8 335.7h.1M443.9 347.3h.1M437.2 348.3h.1M439.4 345.8h.1M440.8 347.6h.1M446.3 330.5h.1M445.6 336.8h.1M446.9 340.6h.1M439.3 330.4h.1M452.9 347.5h.1M449.3 338.1h.1M449.2 335.4h.1M430.4 347.9h.1M450.0 334.7h.1M443.6 346.2h.1M444.2 344.3h.1M431.6 341.1h.1M442.6 328.8h.1M433.0 342.4h.1M452.0 347.5h.1M432.0 361.2h.1M445.6 363.0h.1M444.4 352.1h.1M462.2 355.7h.1M447.3 314.6h.1M454.7 338.0h.1M441.5 330.0h.1M433.8 347.6h.1M444.8 348.4h.1M451.6 349.5h.1M438.2 348.1h.1M450.1 347.3h.1M447.5 341.7h.1M444.1 336.0h.1M443.5 350.2h.1M444.1 342.5h.1M437.1 353.2h.1M444.9 337.7h.1M446.6 339.8h.1M438.9 333.1h.1M449.1 334.1h.1M441.7 316.1h.1M448.4 334.2h.1M437.9 334.0h.1M446.0 342.6h.1M442.0 338.2h.1M438.8 355.7h.1M442.3 345.8h.1M444.3 353.2h.1M428.1 355.7h.1M450.6 355.0h.1M449.2 353.4h.1M446.2 337.6h.1M430.5 345.5h.1M449.5 342.2h.1M442.0 350.8h.1M456.1 337.9h.1M438.7 349.1h.1M442.5 336.9h.1M449.2 351.6h.1M438.4 355.4h.1M442.4 338.0h.1M438.8 323.0h.1M444.6 344.6h.1M447.7 327.6h.1M455.2 344.5h.1M451.9 330.7h.1M433.3 340.7h.1M450.0 335.7h.1M444.0 356.7h.1M433.4 350.8h.1M455.3 355.7h.1M455.3 349.5h.1M445.5 342.1h.1M437.5 339.4h.1M436.5 329.0h.1M436.1 333.0h.1M448.5 352.2h.1M431.2 336.5h.1M450.9 348.1h.1M443.2 332.9h.1M446.7 358.2h.1M460.9 344.3h.1M445.7 363.8h.1M441.1 348.2h.1M444.2 355.1h.1M444.4 341.3h.1M444.1 338.1h.1M441.8 358.3h.1M434.7 349.8h.1M444.2 352.2h.1M431.6 352.4h.1M451.3 345.5h.1M441.1 337.6h.1M434.0 345.9h.1M450.7 324.7h.1M448.0 344.6h.1M442.2 355.2h.1M432.4 339.0h.1M430.7 361.7h.1M447.7 339.8h.1M461.4 334.1h.1M444.2 349.5h.1M445.6 341.4h.1M446.6 350.2h.1M437.8 335.1h.1M450.5 350.1h.1M438.4 343.6h.1M443.1 345.7h.1M435.8 352.4h.1M435.5 333.5h.1M437.8 340.4h.1M434.7 353.9h.1M438.4 355.7h.1M453.5 352.3h.1M447.1 331.3h.1M438.8 344.6h.1M446.9 339.1h.1M439.5 339.0h.1M453.9 327.6h.1M452.2 321.4h.1M439.1 353.1h.1M441.7 351.6h.1M446.0 327.4h.1M436.3 338.1h.1M434.7 342.3h.1M443.1 336.5h.1M435.9 347.3h.1M443.7 338.7h.1M451.6 328.9h.1M442.3 338.1h.1M446.9 348.3h.1M457.6 334.8h.1M439.0 350.4h.1M452.3 355.6h.1M436.3 348.5h.1M434.0 347.7h.1M444.8 342.0h.1M441.3 348.5h.1M433.6 333.5h.1M456.4 319.1h.1M450.7 336.2h.1M434.0 357.3h.1M440.3 353.6h.1M444.4 331.3h.1M434.6 339.1h.1M446.8 335.3h.1M435.2 328.6h.1M431.1 337.4h.1M452.8 352.6h.1M438.7 342.6h.1M438.2 339.2h.1M445.0 319.2h.1M434.8 365.3h.1M460.9 332.4h.1M446.7 343.3h.1M448.3 352.2h.1M449.7 345.4h.1M457.8 353.7h.1M430.4 315.4h.1M450.4 334.0h.1M445.7 335.5h.1M446.0 328.2h.1M454.4 326.8h.1M446.7 352.5h.1M432.6 327.1h.1M443.6 354.5h.1M440.8 351.9h.1M452.1 339.9h.1M430.1 325.5h.1M449.0 336.8h.1M445.6 334.9h.1M449.2 336.1h.1M447.5 334.6h.1M427.9 340.8h.1M449.0 340.1h.1M443.2 341.8h.1M437.6 341.3h.1M448.5 356.5h.1M440.1 363.9h.1M455.6 344.3h.1M451.5 342.7h.1M435.5 339.6h.1M447.7 353.5h.1M442.3 349.9h.1M443.0 343.6h.1M442.5 340.8h.1M450.1 349.7h.1M435.9 352.8h.1M447.3 338.3h.1M431.4 345.5h.1M448.5 323.5h.1M435.1 334.0h.1M433.3 346.3h.1M445.4 325.6h.1M437.4 325.2h.1M451.2 346.3h.1M438.2 320.3h.1M455.7 340.7h.1M446.3 365.5h.1M443.6 346.3h.1M445.4 361.8h.1M442.6 359.3h.1M462.0 336.9h.1M447.4 340.9h.1M438.5 345.9h.1M444.6 354.7h.1M438.8 357.4h.1M441.7 350.7h.1M438.6 345.5h.1M441.0 330.7h.1M448.1 354.6h.1M444.0 336.3h.1M447.6 353.9h.1M439.1 356.5h.1M444.9 327.0h.1M436.9 363.6h.1M453.2 341.8h.1M453.9 355.8h.1M441.4 352.6h.1M447.3 363.4h.1M431.0 353.8h.1M431.6 358.7h.1M447.6 352.4h.1M431.7 332.4h.1M464.4 343.5h.1M449.9 351.1h.1M454.9 354.6h.1M442.6 344.1h.1M434.5 333.6h.1M438.8 328.3h.1M436.9 342.7h.1M436.0 340.3h.1M438.2 336.6h.1M454.2 350.8h.1M433.4 349.2h.1M438.6 343.4h.1M456.6 322.7h.1M463.1 338.0h.1M432.2 334.2h.1M439.3 335.2h.1M445.4 340.4h.1M444.8 330.8h.1M440.2 336.2h.1M430.6 365.0h.1M448.6 352.5h.1M439.0 346.7h.1M439.9 333.0h.1M445.7 329.7h.1M452.8 355.2h.1M444.9 342.8h.1M462.0 351.8h.1M440.7 345.6h.1M447.9 344.7h.1M431.3 314.0h.1M437.3 351.7h.1M440.7 361.5h.1M438.2 342.8h.1M438.0 340.1h.1M439.1 344.5h.1M436.7 339.0h.1M442.3 322.6h.1M444.7 339.0h.1M446.4 343.1h.1M433.9 353.0h.1M443.5 332.1h.1M438.0 338.6h.1M450.4 344.0h.1M455.9 349.6h.1M442.1 363.8h.1M445.8 350.1h.1M440.6 349.6h.1M449.1 330.6h.1M439.6 359.7h.1M436.7 323.1h.1M450.9 358.6h.1M459.2 354.6h.1M448.2 344.6h.1M445.2 331.6h.1M446.4 349.1h.1M457.0 339.6h.1M438.1 356.9h.1M453.6 312.3h.1M444.9 344.0h.1M431.3 312.6h.1M440.9 343.3h.1M448.4 340.2h.1M445.1 352.3h.1M444.5 330.5h.1M435.8 331.0h.1M448.9 320.0h.1M445.7 338.2h.1M447.6 345.2h.1M457.6 342.0h.1M445.5 332.4h.1M452.4 341.6h.1M446.6 349.3h.1M464.1 349.0h.1M450.6 322.3h.1M464.5 340.2h.1M437.6 332.2h.1M438.9 311.7h.1M446.6 349.7h.1M442.3 346.1h.1M455.3 333.0h.1M449.2 349.3h.1M449.8 346.2h.1M438.8 336.8h.1M443.3 346.0h.1M450.7 341.4h.1M440.8 334.8h.1M442.6 353.8h.1M455.5 327.3h.1M440.9 363.2h.1M445.5 345.7h.1M453.9 339.6h.1M446.8 347.8h.1M434.5 331.2h.1M445.6 338.5h.1M441.3 364.2h.1M445.9 348.2h.1M461.6 343.5h.1M453.0 342.3h.1M443.8 352.8h.1M437.7 352.0h.1M451.0 340.2h.1M443.7 355.7h.1M454.0 344.0h.1M446.6 342.7h.1M450.5 352.0h.1M439.2 334.1h.1M445.1 325.9h.1M444.7 341.3h.1M436.6 351.4h.1M447.5 340.0h.1M439.9 351.9h.1M439.5 355.5h.1M439.3 338.4h.1M443.4 342.8h.1M431.9 339.6h.1M449.8 350.8h.1M446.4 348.6h.1M448.1 345.5h.1M451.4 358.9h.1M445.5 347.5h.1M441.3 345.7h.1M455.2 336.5h.1M441.0 343.3h.1M443.2 357.5h.1M426.6 348.3h.1M439.7 343.6h.1M443.9 342.0h.1M450.2 333.7h.1M449.0 335.8h.1M449.6 355.0h.1M439.6 342.7h.1M439.5 343.4h.1M443.5 356.8h.1M438.5 337.7h.1M441.5 337.5h.1M442.1 358.3h.1M427.8 347.6h.1M434.2 324.4h.1M446.8 343.3h.1M439.5 333.9h.1M450.1 338.4h.1M440.4 340.0h.1M438.3 324.5h.1M449.4 336.0h.1M438.9 362.2h.1M446.7 341.3h.1M439.2 337.2h.1M436.1 352.5h.1M443.1 328.1h.1M438.0 339.8h.1M440.2 356.6h.1M435.9 342.1h.1M445.6 347.1h.1M449.7 341.6h.1M446.5 347.3h.1M432.9 349.2h.1M453.0 342.6h.1M430.2 342.4h.1M444.7 346.0h.1M447.1 322.9h.1M447.8 353.6h.1M435.7 361.8h.1M438.4 351.3h.1M451.8 346.9h.1M452.5 340.4h.1M435.3 346.0h.1M438.4 363.7h.1M435.3 358.2h.1M449.7 360.6h.1M439.5 335.1h.1M444.8 336.5h.1M445.5 342.0h.1M432.8 348.6h.1M450.5 341.8h.1M436.9 353.2h.1M432.0 345.0h.1M443.6 360.4h.1M446.7 328.8h.1M439.2 344.0h.1M442.0 350.3h.1M453.8 361.4h.1M451.7 321.9h.1M443.8 340.9h.1M443.6 322.0h.1M456.6 349.9h.1M441.0 337.0h.1M428.2 344.8h.1M451.1 355.4h.1M438.3 352.1h.1M427.4 338.9h.1M431.9 348.5h.1M427.6 335.9h.1M436.8 348.7h.1M439.6 337.6h.1M454.4 354.1h.1M443.9 334.9h.1M438.1 349.3h.1M444.3 327.6h.1M444.5 345.8h.1M454.9 332.8h.1M429.5 335.2h.1M430.9 351.7h.1M444.8 331.8h.1M461.3 320.8h.1M442.1 325.4h.1M451.2 346.8h.1M437.5 354.6h.1M439.0 343.9h.1M441.3 344.0h.1M452.2 356.5h.1M439.8 342.6h.1M441.9 357.9h.1M443.6 359.7h.1M450.7 341.2h.1M441.9 357.2h.1M449.0 352.0h.1M456.3 344.1h.1M449.4 344.2h.1M439.0 354.6h.1M444.2 330.3h.1M447.9 326.9h.1M439.7 355.7h.1M432.1 363.2h.1M436.0 345.5h.1M437.7 354.0h.1M431.1 324.1h.1M467.3 332.5h.1M450.7 338.6h.1M439.7 339.1h.1M437.6 344.4h.1M453.4 339.7h.1M432.9 341.2h.1M436.0 340.3h.1M450.3 351.1h.1M441.3 354.8h.1M448.0 353.7h.1M442.2 358.5h.1M443.7 341.4h.1M439.3 337.9h.1M449.9 323.9h.1M447.8 325.7h.1M444.0 352.2h.1M439.5 348.0h.1M452.5 345.0h.1M444.5 340.0h.1M449.9 330.8h.1M438.0 318.6h.1M431.9 335.2h.1M449.4 341.3h.1M442.4 315.0h.1M435.2 356.5h.1M447.3 336.4h.1M452.9 349.3h.1M439.5 356.9h.1M439.0 359.0h.1M447.3 340.4h.1M446.2 354.2h.1M442.6 353.0h.1M429.8 341.9h.1M448.8 347.5h.1M439.0 332.9h.1M458.8 348.2h.1M439.3 335.4h.1M445.5 341.1h.1M442.9 344.2h.1M443.6 353.5h.1M462.8 343.3h.1M442.0 340.0h.1M451.9 339.8h.1M441.5 338.3h.1M448.6 349.0h.1M448.4 327.3h.1M442.1 343.5h.1M438.0 329.2h.1M447.6 337.6h.1M468.1 354.8h.1M439.9 361.6h.1M448.1 345.7h.1M438.3 349.1h.1M469.5 348.8h.1M433.5 336.9h.1M439.0 343.4h.1M427.9 351.7h.1M448.5 346.1h.1M445.3 339.2h.1M447.5 338.5h.1M442.8 348.3h.1M455.9 341.3h.1M452.6 354.6h.1M454.6 329.3h.1M438.0 333.4h.1M444.5 342.5h.1M456.4 339.3h.1M446.7 339.4h.1M454.3 354.5h.1M433.3 352.1h.1M437.8 342.1h.1M434.6 350.2h.1M439.5 338.0h.1M441.9 312.7h.1M428.7 353.1h.1M454.1 339.3h.1M446.7 350.2h.1M437.6 340.5h.1M428.4 337.9h.1M453.7 334.8h.1M433.9 351.1h.1M432.0 355.5h.1M436.9 350.0h.1M446.3 348.4h.1M450.8 338.5h.1M445.8 344.0h.1M434.0 346.6h.1M457.1 317.8h.1M454.2 332.0h.1M449.7 342.1h.1M460.2 354.5h.1M433.2 357.2h.1" stroke="#000" stroke-width="0.75" stroke-linecap="square" fill="none" stroke-opacity="0.42"/>
<path d="M458.7 324.7h.1M438.8 325.4h.1M445.4 332.9h.1M440.7 318.6h.1M438.3 311.3h.1M442.0 326.2h.1M445.8 320.0h.1M451.4 326.3h.1M432.9 319.0h.1M443.8 318.8h.1M436.8 312.1h.1M456.2 329.3h.1M458.6 345.9h.1M441.0 314.0h.1M439.1 338.0h.1M449.8 333.3h.1M452.6 319.9h.1M436.8 316.2h.1M441.3 331.9h.1M447.0 322.9h.1M436.3 323.6h.1M456.9 321.8h.1M445.1 345.7h.1M445.3 310.2h.1M435.4 330.8h.1M454.7 345.6h.1M433.9 328.1h.1M438.9 348.1h.1M439.9 326.5h.1M443.7 328.2h.1M433.1 334.4h.1M438.4 319.3h.1M449.5 326.9h.1M444.4 332.4h.1M445.7 319.9h.1M452.6 331.3h.1M448.3 337.6h.1M452.9 314.9h.1M444.9 325.4h.1M437.5 330.6h.1M458.1 319.4h.1M431.0 336.8h.1M433.6 339.0h.1M435.4 321.0h.1M463.8 329.1h.1M445.4 320.3h.1M453.4 325.5h.1M432.1 331.4h.1M435.8 325.1h.1M447.3 328.5h.1M441.0 322.2h.1M445.6 338.7h.1M449.6 336.1h.1M445.5 320.5h.1M445.4 332.4h.1M446.4 353.3h.1M443.1 322.1h.1M447.2 340.7h.1M452.6 353.7h.1M437.3 324.8h.1M447.0 335.0h.1M451.9 304.8h.1M443.2 340.7h.1M444.0 333.4h.1M459.6 335.3h.1M453.8 328.9h.1M463.2 336.7h.1M459.8 338.2h.1M442.1 334.1h.1M439.2 324.2h.1M442.5 325.3h.1M451.8 327.3h.1M445.2 318.6h.1M454.5 314.2h.1M445.2 325.9h.1M447.5 317.7h.1M443.0 323.3h.1M431.4 314.1h.1M452.5 313.2h.1M442.6 322.7h.1M448.7 324.6h.1M445.0 348.8h.1M460.6 326.1h.1M448.6 337.5h.1M448.3 332.0h.1M444.1 330.0h.1M438.3 323.9h.1M448.1 333.4h.1M453.6 332.3h.1M444.9 312.9h.1M427.5 333.7h.1M438.6 324.9h.1M460.4 310.9h.1M440.4 319.2h.1M446.3 334.0h.1M429.6 336.4h.1M440.2 325.8h.1M437.9 339.2h.1M451.3 334.9h.1M449.9 311.4h.1M449.3 315.9h.1M453.0 330.4h.1M441.0 317.9h.1M458.5 320.6h.1M442.9 329.9h.1M452.3 324.0h.1M461.9 319.9h.1M440.7 312.8h.1M447.9 347.5h.1M443.9 312.9h.1M445.9 322.6h.1M447.3 337.9h.1M444.3 325.9h.1M445.0 317.3h.1M450.6 315.3h.1M434.2 338.5h.1M438.9 334.7h.1M440.9 307.1h.1M433.8 312.9h.1M447.6 333.3h.1M441.2 343.2h.1M438.0 321.3h.1M433.9 336.5h.1M437.7 310.7h.1M448.4 309.9h.1M434.7 314.1h.1M452.2 331.8h.1M449.9 328.9h.1M447.2 334.1h.1M431.3 308.9h.1M438.7 343.7h.1M453.2 322.6h.1M441.8 353.7h.1M438.7 329.4h.1M439.0 308.5h.1M447.9 326.4h.1M430.1 318.2h.1M453.0 342.4h.1M446.6 329.0h.1M436.5 339.5h.1M449.7 318.6h.1M434.9 328.2h.1M447.2 327.5h.1M456.8 317.3h.1M435.2 332.0h.1M433.4 338.6h.1M444.2 323.1h.1M445.5 321.7h.1M438.6 321.7h.1M438.4 332.2h.1M457.2 325.4h.1M437.2 331.2h.1M431.7 338.0h.1M441.4 323.6h.1M455.1 323.9h.1M450.2 323.6h.1M444.4 341.7h.1M434.3 325.5h.1M443.9 327.3h.1M467.7 323.5h.1M449.5 335.7h.1M453.1 330.8h.1M431.9 314.9h.1M441.3 336.3h.1M440.2 330.7h.1M458.6 338.9h.1M442.3 332.0h.1M444.1 326.0h.1M440.7 316.4h.1M453.8 339.3h.1M429.4 317.7h.1M440.0 325.9h.1M432.0 331.3h.1M439.8 325.2h.1M440.9 330.5h.1M440.5 322.7h.1M456.2 320.0h.1M435.0 339.0h.1M442.1 309.2h.1M448.9 333.1h.1M441.3 318.5h.1M440.4 326.9h.1M460.2 319.7h.1M450.8 328.1h.1M437.9 320.2h.1M446.7 329.3h.1M437.3 312.0h.1M448.2 315.6h.1M433.1 325.1h.1M451.0 332.9h.1M447.6 318.0h.1M447.3 346.3h.1M444.5 322.6h.1M446.4 334.5h.1M437.6 308.0h.1M445.1 316.3h.1M449.4 316.2h.1M448.1 314.6h.1M437.1 310.4h.1M449.1 322.0h.1M434.9 317.8h.1M438.7 343.0h.1M437.7 325.7h.1M439.6 329.3h.1M443.5 305.2h.1M450.0 341.7h.1M453.1 342.2h.1M448.1 315.2h.1M438.6 315.6h.1M450.5 318.6h.1M452.4 340.9h.1M438.4 312.9h.1M434.9 316.0h.1M443.3 310.2h.1M460.1 329.3h.1M442.1 335.0h.1M443.1 316.5h.1M450.2 338.1h.1M435.0 328.0h.1M435.8 317.9h.1M443.5 332.1h.1M451.3 339.4h.1M442.0 339.5h.1M439.3 331.8h.1M431.0 340.0h.1M457.2 326.5h.1M434.3 329.7h.1M455.0 344.8h.1M438.7 325.4h.1M453.7 318.3h.1M458.2 314.1h.1M437.4 321.2h.1M449.1 307.4h.1M450.4 317.0h.1M454.5 314.8h.1M442.0 324.7h.1M454.4 312.5h.1M445.3 325.3h.1M436.4 326.5h.1M452.5 334.6h.1M454.6 337.1h.1M444.3 342.6h.1M443.4 324.0h.1M450.7 312.5h.1M458.0 334.5h.1M434.5 330.7h.1M453.0 322.1h.1M460.8 335.0h.1M437.4 346.7h.1M449.1 330.5h.1M445.0 322.4h.1M447.3 328.8h.1M454.5 317.3h.1M431.6 346.9h.1M440.4 314.3h.1M433.3 316.3h.1M441.9 337.1h.1M459.5 324.7h.1M436.0 314.2h.1M440.7 336.3h.1M439.5 338.5h.1M447.7 310.1h.1M441.9 333.3h.1M438.1 336.8h.1M438.2 345.6h.1M443.1 331.6h.1M434.6 334.4h.1M453.8 334.0h.1M445.5 344.3h.1M439.6 334.1h.1M443.1 320.5h.1M450.3 326.0h.1M437.5 346.8h.1M444.6 314.1h.1M440.1 320.7h.1M454.3 320.0h.1M433.1 317.8h.1M455.7 322.5h.1M434.8 326.2h.1M438.0 332.5h.1M434.6 333.1h.1M443.6 315.1h.1M449.9 312.2h.1M446.9 338.4h.1M434.4 324.2h.1M440.1 328.6h.1M457.6 326.8h.1M442.8 311.6h.1M436.9 310.0h.1M451.5 315.3h.1M442.0 346.6h.1M429.3 322.8h.1M437.4 331.8h.1M451.7 316.4h.1M429.7 300.2h.1M444.9 308.7h.1M428.6 301.3h.1M434.1 293.2h.1M452.3 316.1h.1M443.3 305.2h.1M434.8 300.6h.1M432.0 307.0h.1M431.0 317.2h.1M452.2 308.0h.1M444.9 311.5h.1M430.9 295.2h.1M443.6 310.7h.1M430.1 296.0h.1M434.4 323.5h.1M445.4 308.3h.1M450.8 292.7h.1M453.8 318.8h.1M453.1 293.4h.1M439.6 310.2h.1M437.0 310.4h.1M447.5 290.6h.1M443.2 315.6h.1M427.7 315.3h.1M438.3 324.8h.1M439.1 313.3h.1M437.6 307.4h.1M434.8 298.3h.1M429.5 294.2h.1M451.6 313.7h.1M447.8 322.2h.1M430.8 318.1h.1M453.7 301.9h.1M436.4 298.5h.1M447.8 299.4h.1M432.2 290.3h.1M453.6 289.7h.1M447.8 320.5h.1M446.9 297.3h.1M451.6 295.1h.1M446.7 316.0h.1M451.0 322.2h.1M435.5 310.1h.1M449.4 306.5h.1M444.0 306.7h.1M441.8 322.5h.1M453.4 310.5h.1M438.4 307.8h.1M442.7 306.4h.1M430.1 323.3h.1M433.6 318.6h.1M445.6 320.2h.1M431.3 288.6h.1M430.6 310.6h.1M450.4 301.6h.1M429.5 298.5h.1M454.1 323.5h.1M436.9 314.2h.1M452.5 322.4h.1M439.3 297.3h.1M433.8 288.8h.1M441.1 297.7h.1M448.6 295.2h.1M447.9 299.6h.1M455.4 310.7h.1M431.6 294.5h.1M431.0 307.4h.1M442.2 323.3h.1M433.4 302.3h.1M427.5 303.9h.1M442.5 289.3h.1M449.6 298.0h.1M452.9 310.9h.1M435.2 305.7h.1M441.3 311.1h.1M446.2 298.2h.1M426.6 319.2h.1M445.4 319.3h.1M430.0 313.9h.1M441.6 315.6h.1M447.0 318.1h.1M437.2 308.8h.1M453.1 296.0h.1M437.1 324.0h.1M432.1 302.5h.1M434.0 289.4h.1M429.2 297.0h.1M430.1 305.4h.1M442.9 308.1h.1M443.9 313.5h.1M448.3 304.6h.1M449.7 321.6h.1M438.4 320.4h.1M432.3 300.5h.1M436.8 316.2h.1M437.9 315.6h.1M426.5 299.6h.1M441.9 324.7h.1M454.1 304.2h.1M430.6 309.3h.1M434.6 291.1h.1M443.8 292.6h.1M442.6 306.3h.1M442.9 307.0h.1M448.8 318.6h.1M440.0 319.8h.1M433.3 289.4h.1M427.5 289.8h.1M429.7 301.1h.1M430.9 317.9h.1M437.6 302.2h.1M449.7 293.7h.1M433.3 291.2h.1M430.7 315.5h.1M429.3 305.5h.1M443.4 310.6h.1M439.7 322.0h.1M442.6 310.8h.1M429.6 292.3h.1M426.9 301.1h.1M430.7 315.9h.1M436.2 287.7h.1M452.5 322.1h.1M455.0 322.1h.1M453.6 295.5h.1M434.8 324.7h.1M443.7 308.8h.1M426.5 295.0h.1M444.4 314.0h.1M426.4 313.9h.1M432.2 313.0h.1M448.2 321.2h.1M432.5 318.6h.1M437.1 290.3h.1M444.9 298.1h.1M434.4 310.7h.1M439.8 303.0h.1M436.0 304.1h.1M439.8 297.4h.1M427.9 305.9h.1M437.7 288.3h.1M450.2 303.9h.1M449.7 321.1h.1M433.2 299.2h.1M430.6 317.6h.1M435.5 290.8h.1M432.8 319.3h.1M449.4 298.5h.1M435.4 312.0h.1M442.5 307.7h.1M444.2 315.2h.1M433.0 303.3h.1M428.7 303.2h.1M442.5 297.2h.1M429.0 302.7h.1M449.4 320.6h.1M431.3 307.1h.1M438.7 307.5h.1M433.5 324.1h.1M444.2 308.6h.1M432.2 310.0h.1M428.8 317.6h.1M452.3 299.0h.1M426.5 322.7h.1M429.4 311.7h.1M434.1 303.0h.1M427.6 324.0h.1M445.3 321.9h.1M435.7 295.7h.1M440.0 311.2h.1M482.7 343.6h.1M455.4 300.5h.1M478.7 327.3h.1M492.1 317.4h.1M497.0 310.6h.1M505.1 353.9h.1M482.9 325.8h.1M466.7 357.2h.1M489.2 337.8h.1M470.0 309.9h.1M472.1 351.8h.1M460.8 289.3h.1M487.6 361.1h.1M462.2 295.0h.1M508.1 358.8h.1M497.0 292.0h.1M496.7 301.3h.1M495.5 310.9h.1M465.1 359.0h.1M458.4 320.2h.1M491.9 354.2h.1M471.1 308.9h.1M490.3 347.4h.1M488.8 327.6h.1M490.0 348.3h.1M471.5 338.3h.1M506.4 345.2h.1M507.9 300.5h.1M478.0 297.7h.1M474.7 296.5h.1M468.8 356.1h.1M482.5 332.1h.1M476.2 303.3h.1M501.8 321.4h.1M473.7 344.4h.1M504.0 336.4h.1M491.0 341.7h.1M473.7 344.3h.1M491.0 354.8h.1M461.6 320.0h.1M503.2 304.9h.1M488.0 359.9h.1M498.5 356.9h.1M470.7 310.9h.1M486.7 346.0h.1M465.8 331.3h.1M461.5 339.9h.1M463.4 356.1h.1M478.1 325.8h.1M492.3 348.9h.1M494.6 313.0h.1M466.7 342.2h.1M494.0 317.4h.1M478.3 362.7h.1M468.6 295.4h.1M456.5 315.8h.1M469.8 322.9h.1M489.3 303.1h.1M473.0 321.0h.1M470.7 311.9h.1M502.2 331.6h.1M491.3 306.7h.1M469.9 305.2h.1M487.2 293.5h.1M476.0 309.6h.1M466.8 294.2h.1M495.6 340.6h.1M472.5 337.9h.1M507.1 333.8h.1M457.4 335.2h.1M463.5 348.6h.1M478.0 360.1h.1M496.3 355.5h.1M462.6 359.7h.1M477.8 299.9h.1M477.1 334.1h.1M456.3 347.6h.1M470.5 343.1h.1M456.4 329.6h.1M465.1 310.1h.1M491.9 363.8h.1M499.2 288.8h.1M483.7 292.3h.1M478.0 336.1h.1M475.2 322.5h.1M483.2 343.7h.1M467.8 294.2h.1M456.3 360.1h.1M497.3 349.1h.1M471.6 342.1h.1M485.3 356.7h.1M482.2 319.1h.1M469.5 311.4h.1M479.2 345.5h.1M465.2 317.9h.1M466.3 293.2h.1M481.6 328.7h.1M500.1 348.5h.1M471.2 323.5h.1M490.2 297.1h.1M473.2 353.1h.1M481.2 364.9h.1M460.4 326.4h.1M474.6 315.7h.1M507.9 307.4h.1M492.6 307.8h.1M481.2 356.8h.1M465.7 298.6h.1M465.5 308.1h.1M490.3 337.6h.1M470.3 316.1h.1M468.7 353.1h.1M468.4 349.4h.1M495.9 295.3h.1M458.1 330.3h.1M479.0 289.0h.1M471.7 356.9h.1M476.8 356.0h.1M471.3 316.8h.1M496.1 293.0h.1M480.5 340.3h.1M496.2 354.9h.1M463.0 342.8h.1M484.2 305.5h.1M467.9 331.9h.1M480.0 346.0h.1M506.1 335.1h.1M456.6 340.4h.1M465.3 311.6h.1M492.2 302.2h.1M451.4 344.2h.1M437.2 346.1h.1M434.3 331.5h.1M429.5 329.0h.1M452.7 349.4h.1M430.5 326.0h.1M436.0 362.3h.1M431.8 365.4h.1M451.5 329.7h.1M435.3 331.7h.1M440.8 358.9h.1M447.9 359.8h.1M429.8 349.7h.1M441.8 348.1h.1M452.7 356.8h.1M451.2 338.5h.1M452.4 354.8h.1M434.7 333.5h.1M435.4 342.9h.1M429.3 361.1h.1M452.9 340.9h.1M426.7 346.7h.1M426.6 340.8h.1M429.9 338.9h.1M436.5 326.1h.1M450.5 355.2h.1M443.1 362.2h.1M443.5 359.8h.1M427.8 340.8h.1M446.4 334.9h.1M451.5 353.9h.1M427.5 345.0h.1M449.4 348.4h.1M439.5 342.9h.1M435.4 357.2h.1M448.3 346.3h.1M430.4 328.9h.1M439.2 342.8h.1M445.1 350.9h.1M440.2 362.4h.1M440.0 337.9h.1M438.5 351.6h.1M435.0 339.0h.1M452.7 344.2h.1M430.9 362.1h.1M450.1 346.1h.1M434.0 338.2h.1M428.3 341.9h.1M449.1 343.3h.1M440.9 348.3h.1M445.8 363.5h.1M440.5 360.5h.1M450.2 329.9h.1M451.5 348.1h.1M439.4 363.7h.1M450.8 355.3h.1M450.7 326.1h.1M441.6 329.2h.1M453.9 350.5h.1M427.9 361.7h.1M456.9 321.4h.1M462.6 338.4h.1M461.9 338.7h.1M458.1 332.7h.1M460.5 333.4h.1M472.7 361.6h.1M469.1 341.7h.1M465.2 342.7h.1M472.3 331.5h.1M463.9 332.3h.1M472.0 340.1h.1M462.9 336.0h.1M474.3 337.2h.1M467.2 336.2h.1M460.6 324.9h.1M453.7 341.5h.1M464.0 340.3h.1M464.1 342.9h.1M454.5 344.1h.1M461.3 352.9h.1M458.3 335.4h.1M465.1 340.2h.1M453.0 349.3h.1M462.9 335.6h.1M477.9 347.6h.1M470.6 334.7h.1M462.8 335.0h.1M475.0 330.0h.1M460.1 337.5h.1M469.5 354.9h.1M465.4 353.0h.1M459.7 339.3h.1M466.9 342.7h.1M481.5 347.7h.1M456.3 330.2h.1M456.1 335.3h.1M476.3 337.1h.1M458.0 323.8h.1M462.1 332.4h.1M459.5 333.7h.1M457.2 336.0h.1M466.8 336.8h.1M455.2 320.6h.1M454.9 342.0h.1M461.1 334.5h.1M467.3 342.1h.1M474.3 343.1h.1M462.8 337.0h.1M470.2 352.5h.1M473.8 325.0h.1M466.7 338.0h.1M469.6 339.0h.1M461.5 349.7h.1M450.5 337.6h.1M469.2 342.6h.1M454.2 339.8h.1M467.5 354.5h.1M456.6 335.7h.1M453.8 331.3h.1M462.1 334.4h.1M453.1 341.7h.1M463.7 349.6h.1M461.5 319.7h.1M461.3 328.2h.1M475.0 349.5h.1M469.4 335.0h.1M461.2 332.5h.1M469.4 334.7h.1M466.2 331.3h.1M460.5 329.9h.1M452.5 339.0h.1M457.4 332.3h.1M478.4 351.9h.1M463.4 318.6h.1M467.5 342.6h.1M476.5 332.8h.1M457.4 351.7h.1M471.6 330.5h.1M443.0 342.3h.1M455.0 351.3h.1" stroke="#000" stroke-width="0.6" stroke-linecap="square" fill="none" stroke-opacity="0.33"/>
<line x1="455.40" y1="286.60" x2="455.40" y2="366.40" stroke="#777" stroke-width="0.8"/>
<line x1="425.30" y1="324.90" x2="509.50" y2="324.90" stroke="#777" stroke-width="0.8"/>
<rect x="425.30" y="286.60" width="84.20" height="79.80" fill="none" stroke="#111" stroke-width="1.2"/>
<line x1="422.70" y1="366.40" x2="425.30" y2="366.40" stroke="#1a1a1a" stroke-width="0.7"/>
<line x1="423.80" y1="360.39" x2="425.30" y2="360.39" stroke="#1a1a1a" stroke-width="0.7"/>
<line x1="423.80" y1="356.88" x2="425.30" y2="356.88" stroke="#1a1a1a" stroke-width="0.7"/>
<line x1="423.80" y1="354.39" x2="425.30" y2="354.39" stroke="#1a1a1a" stroke-width="0.7"/>
<line x1="423.80" y1="352.46" x2="425.30" y2="352.46" stroke="#1a1a1a" stroke-width="0.7"/>
<line x1="423.80" y1="350.88" x2="425.30" y2="350.88" stroke="#1a1a1a" stroke-width="0.7"/>
<line x1="423.80" y1="349.54" x2="425.30" y2="349.54" stroke="#1a1a1a" stroke-width="0.7"/>
<line x1="423.80" y1="348.38" x2="425.30" y2="348.38" stroke="#1a1a1a" stroke-width="0.7"/>
<line x1="423.80" y1="347.36" x2="425.30" y2="347.36" stroke="#1a1a1a" stroke-width="0.7"/>
<line x1="422.70" y1="346.45" x2="425.30" y2="346.45" stroke="#1a1a1a" stroke-width="0.7"/>
<line x1="423.80" y1="340.44" x2="425.30" y2="340.44" stroke="#1a1a1a" stroke-width="0.7"/>
<line x1="423.80" y1="336.93" x2="425.30" y2="336.93" stroke="#1a1a1a" stroke-width="0.7"/>
<line x1="423.80" y1="334.44" x2="425.30" y2="334.44" stroke="#1a1a1a" stroke-width="0.7"/>
<line x1="423.80" y1="332.51" x2="425.30" y2="332.51" stroke="#1a1a1a" stroke-width="0.7"/>
<line x1="423.80" y1="330.93" x2="425.30" y2="330.93" stroke="#1a1a1a" stroke-width="0.7"/>
<line x1="423.80" y1="329.59" x2="425.30" y2="329.59" stroke="#1a1a1a" stroke-width="0.7"/>
<line x1="423.80" y1="328.43" x2="425.30" y2="328.43" stroke="#1a1a1a" stroke-width="0.7"/>
<line x1="423.80" y1="327.41" x2="425.30" y2="327.41" stroke="#1a1a1a" stroke-width="0.7"/>
<line x1="422.70" y1="326.50" x2="425.30" y2="326.50" stroke="#1a1a1a" stroke-width="0.7"/>
<line x1="423.80" y1="320.49" x2="425.30" y2="320.49" stroke="#1a1a1a" stroke-width="0.7"/>
<line x1="423.80" y1="316.98" x2="425.30" y2="316.98" stroke="#1a1a1a" stroke-width="0.7"/>
<line x1="423.80" y1="314.49" x2="425.30" y2="314.49" stroke="#1a1a1a" stroke-width="0.7"/>
<line x1="423.80" y1="312.56" x2="425.30" y2="312.56" stroke="#1a1a1a" stroke-width="0.7"/>
<line x1="423.80" y1="310.98" x2="425.30" y2="310.98" stroke="#1a1a1a" stroke-width="0.7"/>
<line x1="423.80" y1="309.64" x2="425.30" y2="309.64" stroke="#1a1a1a" stroke-width="0.7"/>
<line x1="423.80" y1="308.48" x2="425.30" y2="308.48" stroke="#1a1a1a" stroke-width="0.7"/>
<line x1="423.80" y1="307.46" x2="425.30" y2="307.46" stroke="#1a1a1a" stroke-width="0.7"/>
<line x1="422.70" y1="306.55" x2="425.30" y2="306.55" stroke="#1a1a1a" stroke-width="0.7"/>
<line x1="423.80" y1="300.54" x2="425.30" y2="300.54" stroke="#1a1a1a" stroke-width="0.7"/>
<line x1="423.80" y1="297.03" x2="425.30" y2="297.03" stroke="#1a1a1a" stroke-width="0.7"/>
<line x1="423.80" y1="294.54" x2="425.30" y2="294.54" stroke="#1a1a1a" stroke-width="0.7"/>
<line x1="423.80" y1="292.61" x2="425.30" y2="292.61" stroke="#1a1a1a" stroke-width="0.7"/>
<line x1="423.80" y1="291.03" x2="425.30" y2="291.03" stroke="#1a1a1a" stroke-width="0.7"/>
<line x1="423.80" y1="289.69" x2="425.30" y2="289.69" stroke="#1a1a1a" stroke-width="0.7"/>
<line x1="423.80" y1="288.53" x2="425.30" y2="288.53" stroke="#1a1a1a" stroke-width="0.7"/>
<line x1="423.80" y1="287.51" x2="425.30" y2="287.51" stroke="#1a1a1a" stroke-width="0.7"/>
<line x1="422.70" y1="286.60" x2="425.30" y2="286.60" stroke="#1a1a1a" stroke-width="0.7"/>
<line x1="425.30" y1="366.40" x2="425.30" y2="369.00" stroke="#1a1a1a" stroke-width="0.7"/>
<line x1="431.64" y1="366.40" x2="431.64" y2="367.90" stroke="#1a1a1a" stroke-width="0.7"/>
<line x1="435.34" y1="366.40" x2="435.34" y2="367.90" stroke="#1a1a1a" stroke-width="0.7"/>
<line x1="437.97" y1="366.40" x2="437.97" y2="367.90" stroke="#1a1a1a" stroke-width="0.7"/>
<line x1="440.01" y1="366.40" x2="440.01" y2="367.90" stroke="#1a1a1a" stroke-width="0.7"/>
<line x1="441.68" y1="366.40" x2="441.68" y2="367.90" stroke="#1a1a1a" stroke-width="0.7"/>
<line x1="443.09" y1="366.40" x2="443.09" y2="367.90" stroke="#1a1a1a" stroke-width="0.7"/>
<line x1="444.31" y1="366.40" x2="444.31" y2="367.90" stroke="#1a1a1a" stroke-width="0.7"/>
<line x1="445.39" y1="366.40" x2="445.39" y2="367.90" stroke="#1a1a1a" stroke-width="0.7"/>
<line x1="446.35" y1="366.40" x2="446.35" y2="369.00" stroke="#1a1a1a" stroke-width="0.7"/>
<line x1="452.69" y1="366.40" x2="452.69" y2="367.90" stroke="#1a1a1a" stroke-width="0.7"/>
<line x1="456.39" y1="366.40" x2="456.39" y2="367.90" stroke="#1a1a1a" stroke-width="0.7"/>
<line x1="459.02" y1="366.40" x2="459.02" y2="367.90" stroke="#1a1a1a" stroke-width="0.7"/>
<line x1="461.06" y1="366.40" x2="461.06" y2="367.90" stroke="#1a1a1a" stroke-width="0.7"/>
<line x1="462.73" y1="366.40" x2="462.73" y2="367.90" stroke="#1a1a1a" stroke-width="0.7"/>
<line x1="464.14" y1="366.40" x2="464.14" y2="367.90" stroke="#1a1a1a" stroke-width="0.7"/>
<line x1="465.36" y1="366.40" x2="465.36" y2="367.90" stroke="#1a1a1a" stroke-width="0.7"/>
<line x1="466.44" y1="366.40" x2="466.44" y2="367.90" stroke="#1a1a1a" stroke-width="0.7"/>
<line x1="467.40" y1="366.40" x2="467.40" y2="369.00" stroke="#1a1a1a" stroke-width="0.7"/>
<line x1="473.74" y1="366.40" x2="473.74" y2="367.90" stroke="#1a1a1a" stroke-width="0.7"/>
<line x1="477.44" y1="366.40" x2="477.44" y2="367.90" stroke="#1a1a1a" stroke-width="0.7"/>
<line x1="480.07" y1="366.40" x2="480.07" y2="367.90" stroke="#1a1a1a" stroke-width="0.7"/>
<line x1="482.11" y1="366.40" x2="482.11" y2="367.90" stroke="#1a1a1a" stroke-width="0.7"/>
<line x1="483.78" y1="366.40" x2="483.78" y2="367.90" stroke="#1a1a1a" stroke-width="0.7"/>
<line x1="485.19" y1="366.40" x2="485.19" y2="367.90" stroke="#1a1a1a" stroke-width="0.7"/>
<line x1="486.41" y1="366.40" x2="486.41" y2="367.90" stroke="#1a1a1a" stroke-width="0.7"/>
<line x1="487.49" y1="366.40" x2="487.49" y2="367.90" stroke="#1a1a1a" stroke-width="0.7"/>
<line x1="488.45" y1="366.40" x2="488.45" y2="369.00" stroke="#1a1a1a" stroke-width="0.7"/>
<line x1="494.79" y1="366.40" x2="494.79" y2="367.90" stroke="#1a1a1a" stroke-width="0.7"/>
<line x1="498.49" y1="366.40" x2="498.49" y2="367.90" stroke="#1a1a1a" stroke-width="0.7"/>
<line x1="501.12" y1="366.40" x2="501.12" y2="367.90" stroke="#1a1a1a" stroke-width="0.7"/>
<line x1="503.16" y1="366.40" x2="503.16" y2="367.90" stroke="#1a1a1a" stroke-width="0.7"/>
<line x1="504.83" y1="366.40" x2="504.83" y2="367.90" stroke="#1a1a1a" stroke-width="0.7"/>
<line x1="506.24" y1="366.40" x2="506.24" y2="367.90" stroke="#1a1a1a" stroke-width="0.7"/>
<line x1="507.46" y1="366.40" x2="507.46" y2="367.90" stroke="#1a1a1a" stroke-width="0.7"/>
<line x1="508.54" y1="366.40" x2="508.54" y2="367.90" stroke="#1a1a1a" stroke-width="0.7"/>
<line x1="509.50" y1="366.40" x2="509.50" y2="369.00" stroke="#1a1a1a" stroke-width="0.7"/>
<text x="427.60" y="292.90" font-size="7.13" stroke="#222" stroke-width="0.12" fill="#222" textLength="24.50" lengthAdjust="spacingAndGlyphs">AnV+PI−</text>
<text x="427.60" y="300.70" font-size="7.34" stroke="#222" stroke-width="0.12" fill="#222" textLength="17.60" lengthAdjust="spacingAndGlyphs">4.32%</text>
<text x="508.30" y="292.90" font-size="7.13" stroke="#222" stroke-width="0.12" text-anchor="end" fill="#222" textLength="24.70" lengthAdjust="spacingAndGlyphs">AnV+PI+</text>
<text x="483.60" y="300.70" font-size="7.34" stroke="#222" stroke-width="0.12" fill="#222" textLength="17.60" lengthAdjust="spacingAndGlyphs">3.05%</text>
<text x="427.50" y="356.80" font-size="7.13" stroke="#222" stroke-width="0.12" fill="#222" textLength="24.50" lengthAdjust="spacingAndGlyphs">AnV−PI−</text>
<text x="427.50" y="364.40" font-size="7.34" stroke="#222" stroke-width="0.12" fill="#222" textLength="17.60" lengthAdjust="spacingAndGlyphs">90.3%</text>
<text x="508.30" y="356.80" font-size="7.13" stroke="#222" stroke-width="0.12" text-anchor="end" fill="#222" textLength="24.70" lengthAdjust="spacingAndGlyphs">AnV−PI+</text>
<text x="483.60" y="364.40" font-size="7.34" stroke="#222" stroke-width="0.12" fill="#222" textLength="17.60" lengthAdjust="spacingAndGlyphs">2.38%</text>
<text x="408.51" y="371.00" font-size="8.75" stroke="#1a1a1a" stroke-width="0.12" textLength="7.79" lengthAdjust="spacingAndGlyphs">10</text>
<text x="416.40" y="367.50" font-size="6.3" stroke="#1a1a1a" stroke-width="0.12" textLength="2.80" lengthAdjust="spacingAndGlyphs">0</text>
<text x="408.51" y="351.05" font-size="8.75" stroke="#1a1a1a" stroke-width="0.12" textLength="7.79" lengthAdjust="spacingAndGlyphs">10</text>
<text x="416.40" y="347.55" font-size="6.3" stroke="#1a1a1a" stroke-width="0.12" textLength="2.80" lengthAdjust="spacingAndGlyphs">1</text>
<text x="408.51" y="331.10" font-size="8.75" stroke="#1a1a1a" stroke-width="0.12" textLength="7.79" lengthAdjust="spacingAndGlyphs">10</text>
<text x="416.40" y="327.60" font-size="6.3" stroke="#1a1a1a" stroke-width="0.12" textLength="2.80" lengthAdjust="spacingAndGlyphs">2</text>
<text x="408.51" y="311.15" font-size="8.75" stroke="#1a1a1a" stroke-width="0.12" textLength="7.79" lengthAdjust="spacingAndGlyphs">10</text>
<text x="416.40" y="307.65" font-size="6.3" stroke="#1a1a1a" stroke-width="0.12" textLength="2.80" lengthAdjust="spacingAndGlyphs">3</text>
<text x="408.51" y="291.20" font-size="8.75" stroke="#1a1a1a" stroke-width="0.12" textLength="7.79" lengthAdjust="spacingAndGlyphs">10</text>
<text x="416.40" y="287.70" font-size="6.3" stroke="#1a1a1a" stroke-width="0.12" textLength="2.80" lengthAdjust="spacingAndGlyphs">4</text>
<text x="423.80" y="378.90" font-size="8.62" stroke="#1a1a1a" stroke-width="0.12" textLength="7.67" lengthAdjust="spacingAndGlyphs">10</text>
<text x="431.57" y="375.45" font-size="6.21" stroke="#1a1a1a" stroke-width="0.12" textLength="2.76" lengthAdjust="spacingAndGlyphs">0</text>
<text x="441.50" y="378.90" font-size="8.62" stroke="#1a1a1a" stroke-width="0.12" textLength="7.67" lengthAdjust="spacingAndGlyphs">10</text>
<text x="449.27" y="375.45" font-size="6.21" stroke="#1a1a1a" stroke-width="0.12" textLength="2.76" lengthAdjust="spacingAndGlyphs">1</text>
<text x="462.00" y="378.90" font-size="8.62" stroke="#1a1a1a" stroke-width="0.12" textLength="7.67" lengthAdjust="spacingAndGlyphs">10</text>
<text x="469.77" y="375.45" font-size="6.21" stroke="#1a1a1a" stroke-width="0.12" textLength="2.76" lengthAdjust="spacingAndGlyphs">2</text>
<text x="481.30" y="378.90" font-size="8.62" stroke="#1a1a1a" stroke-width="0.12" textLength="7.67" lengthAdjust="spacingAndGlyphs">10</text>
<text x="489.07" y="375.45" font-size="6.21" stroke="#1a1a1a" stroke-width="0.12" textLength="2.76" lengthAdjust="spacingAndGlyphs">3</text>
<text x="502.30" y="378.90" font-size="8.62" stroke="#1a1a1a" stroke-width="0.12" textLength="7.67" lengthAdjust="spacingAndGlyphs">10</text>
<text x="510.07" y="375.45" font-size="6.21" stroke="#1a1a1a" stroke-width="0.12" textLength="2.76" lengthAdjust="spacingAndGlyphs">4</text>
<text x="404.40" y="326.80" font-size="8.86" stroke="#1a1a1a" stroke-width="0.12" text-anchor="middle" textLength="47.00" lengthAdjust="spacingAndGlyphs" transform="rotate(-90 404.40 326.80)">AnnexinV-FITC</text>
<text x="467.60" y="281.40" font-size="9.72" stroke="#1a1a1a" stroke-width="0.04" text-anchor="middle" textLength="76.00" lengthAdjust="spacingAndGlyphs">CKD/ESKD serum</text>
<text x="467.90" y="388.20" font-size="8.75" stroke="#1a1a1a" stroke-width="0.12" text-anchor="middle" textLength="6.61" lengthAdjust="spacingAndGlyphs">PI</text>
<text x="5.50" y="402.30" font-size="10.4" stroke="#000" stroke-width="0.3" font-weight="bold" fill="#000">H</text>
<line x1="33.20" y1="407.40" x2="33.20" y2="450.30" stroke="#111" stroke-width="1.3"/>
<line x1="31.30" y1="450.30" x2="35.10" y2="450.30" stroke="#111" stroke-width="1.1"/>
<line x1="33.20" y1="456.50" x2="33.20" y2="495.00" stroke="#111" stroke-width="1.3"/>
<line x1="31.30" y1="456.50" x2="35.10" y2="456.50" stroke="#111" stroke-width="1.1"/>
<line x1="30.40" y1="411.40" x2="33.20" y2="411.40" stroke="#111" stroke-width="1.0"/>
<line x1="30.40" y1="421.10" x2="33.20" y2="421.10" stroke="#111" stroke-width="1.0"/>
<line x1="30.40" y1="430.60" x2="33.20" y2="430.60" stroke="#111" stroke-width="1.0"/>
<line x1="30.40" y1="440.20" x2="33.20" y2="440.20" stroke="#111" stroke-width="1.0"/>
<line x1="30.40" y1="449.60" x2="33.20" y2="449.60" stroke="#111" stroke-width="1.0"/>
<text x="27.30" y="414.40" font-size="8.61" stroke="#1a1a1a" stroke-width="0.12" text-anchor="end" textLength="12.18" lengthAdjust="spacingAndGlyphs">100</text>
<text x="27.30" y="424.10" font-size="8.61" stroke="#1a1a1a" stroke-width="0.12" text-anchor="end" textLength="8.12" lengthAdjust="spacingAndGlyphs">90</text>
<text x="27.30" y="433.60" font-size="8.61" stroke="#1a1a1a" stroke-width="0.12" text-anchor="end" textLength="8.12" lengthAdjust="spacingAndGlyphs">80</text>
<text x="27.30" y="443.20" font-size="8.61" stroke="#1a1a1a" stroke-width="0.12" text-anchor="end" textLength="8.12" lengthAdjust="spacingAndGlyphs">70</text>
<text x="27.30" y="452.00" font-size="8.61" stroke="#1a1a1a" stroke-width="0.12" text-anchor="end" textLength="8.12" lengthAdjust="spacingAndGlyphs">60</text>
<line x1="30.40" y1="469.90" x2="33.20" y2="469.90" stroke="#111" stroke-width="1.0"/>
<line x1="30.40" y1="482.30" x2="33.20" y2="482.30" stroke="#111" stroke-width="1.0"/>
<line x1="30.40" y1="494.80" x2="33.20" y2="494.80" stroke="#111" stroke-width="1.0"/>
<text x="27.30" y="460.80" font-size="8.61" stroke="#1a1a1a" stroke-width="0.12" text-anchor="end" textLength="8.12" lengthAdjust="spacingAndGlyphs">12</text>
<text x="27.30" y="472.90" font-size="8.61" stroke="#1a1a1a" stroke-width="0.12" text-anchor="end" textLength="4.06" lengthAdjust="spacingAndGlyphs">8</text>
<text x="27.30" y="485.30" font-size="8.61" stroke="#1a1a1a" stroke-width="0.12" text-anchor="end" textLength="4.06" lengthAdjust="spacingAndGlyphs">4</text>
<text x="27.30" y="497.80" font-size="8.61" stroke="#1a1a1a" stroke-width="0.12" text-anchor="end" textLength="4.06" lengthAdjust="spacingAndGlyphs">0</text>
<text x="12.30" y="453.00" font-size="9.07" stroke="#1a1a1a" stroke-width="0.12" text-anchor="middle" textLength="31.40" lengthAdjust="spacingAndGlyphs" transform="rotate(-90 12.30 453.00)">% of cells</text>
<rect x="37.10" y="423.40" width="5.70" height="26.90" fill="#e68a9d"/>
<rect x="37.10" y="457.20" width="5.70" height="37.80" fill="#e68a9d"/>
<rect x="47.10" y="422.30" width="5.80" height="28.00" fill="#8caecf"/>
<rect x="47.10" y="457.20" width="5.80" height="37.80" fill="#8caecf"/>
<rect x="57.20" y="423.40" width="6.20" height="26.90" fill="#a5dba5"/>
<rect x="57.20" y="457.20" width="6.20" height="37.80" fill="#a5dba5"/>
<path d="M40.00 420.20L42.09 422.50L40.00 424.80L37.91 422.50Z" fill="#c8102e"/>
<path d="M40.00 422.20L42.09 424.50L40.00 426.80L37.91 424.50Z" fill="#c8102e"/>
<path d="M40.00 423.50L42.09 425.80L40.00 428.10L37.91 425.80Z" fill="#c8102e"/>
<line x1="40.00" y1="422.20" x2="40.00" y2="425.80" stroke="#111" stroke-width="0.9"/>
<line x1="40.00" y1="422.20" x2="40.00" y2="422.20" stroke="#111" stroke-width="0.9"/>
<line x1="40.00" y1="425.80" x2="40.00" y2="425.80" stroke="#111" stroke-width="0.9"/>
<circle cx="50.00" cy="420.60" r="2.1" fill="#0e4d8e"/>
<circle cx="50.00" cy="422.80" r="2.1" fill="#0e4d8e"/>
<circle cx="50.00" cy="423.60" r="2.1" fill="#0e4d8e"/>
<line x1="50.00" y1="420.00" x2="50.00" y2="424.00" stroke="#111" stroke-width="0.9"/>
<line x1="50.00" y1="420.00" x2="50.00" y2="420.00" stroke="#111" stroke-width="0.9"/>
<line x1="50.00" y1="424.00" x2="50.00" y2="424.00" stroke="#111" stroke-width="0.9"/>
<path d="M60.30 416.53L62.40 420.31L58.20 420.31Z" fill="#25a93a"/>
<path d="M60.30 419.53L62.40 423.31L58.20 423.31Z" fill="#25a93a"/>
<path d="M60.30 421.93L62.40 425.71L58.20 425.71Z" fill="#25a93a"/>
<line x1="60.30" y1="418.50" x2="60.30" y2="424.60" stroke="#111" stroke-width="0.9"/>
<line x1="58.55" y1="418.50" x2="62.05" y2="418.50" stroke="#111" stroke-width="0.9"/>
<line x1="58.55" y1="424.60" x2="62.05" y2="424.60" stroke="#111" stroke-width="0.9"/>
<line x1="40.00" y1="411.20" x2="60.90" y2="411.20" stroke="#222" stroke-width="1.1"/>
<text x="50.30" y="409.40" font-size="7.78" stroke="#1a1a1a" stroke-width="0.12" text-anchor="middle" textLength="7.60" lengthAdjust="spacingAndGlyphs">ns</text>
<text x="61.70" y="409.40" font-size="7.78" stroke="#1a1a1a" stroke-width="0.12" text-anchor="middle" textLength="7.60" lengthAdjust="spacingAndGlyphs">ns</text>
<rect x="73.90" y="479.20" width="6.20" height="15.80" fill="#e68a9d"/>
<rect x="84.00" y="473.90" width="6.00" height="21.10" fill="#8caecf"/>
<rect x="93.90" y="473.90" width="6.30" height="21.10" fill="#a5dba5"/>
<path d="M77.00 473.90L79.09 476.20L77.00 478.50L74.91 476.20Z" fill="#c8102e"/>
<path d="M77.00 476.70L79.09 479.00L77.00 481.30L74.91 479.00Z" fill="#c8102e"/>
<path d="M77.00 479.40L79.09 481.70L77.00 484.00L74.91 481.70Z" fill="#c8102e"/>
<line x1="77.00" y1="477.00" x2="77.00" y2="481.00" stroke="#111" stroke-width="0.9"/>
<line x1="77.00" y1="477.00" x2="77.00" y2="477.00" stroke="#111" stroke-width="0.9"/>
<line x1="77.00" y1="481.00" x2="77.00" y2="481.00" stroke="#111" stroke-width="0.9"/>
<circle cx="87.00" cy="466.80" r="2.1" fill="#0e4d8e"/>
<circle cx="87.00" cy="468.80" r="2.1" fill="#0e4d8e"/>
<circle cx="87.00" cy="474.70" r="2.1" fill="#0e4d8e"/>
<circle cx="87.00" cy="482.70" r="2.1" fill="#0e4d8e"/>
<line x1="87.00" y1="468.00" x2="87.00" y2="481.00" stroke="#111" stroke-width="0.9"/>
<line x1="87.00" y1="468.00" x2="87.00" y2="468.00" stroke="#111" stroke-width="0.9"/>
<line x1="87.00" y1="481.00" x2="87.00" y2="481.00" stroke="#111" stroke-width="0.9"/>
<path d="M97.00 460.13L99.10 463.91L94.90 463.91Z" fill="#25a93a"/>
<path d="M97.00 466.53L99.10 470.31L94.90 470.31Z" fill="#25a93a"/>
<path d="M97.00 479.93L99.10 483.71L94.90 483.71Z" fill="#25a93a"/>
<line x1="97.00" y1="464.30" x2="97.00" y2="483.10" stroke="#111" stroke-width="0.9"/>
<line x1="95.25" y1="464.30" x2="98.75" y2="464.30" stroke="#111" stroke-width="0.9"/>
<line x1="95.25" y1="483.10" x2="98.75" y2="483.10" stroke="#111" stroke-width="0.9"/>
<line x1="76.10" y1="455.70" x2="96.90" y2="455.70" stroke="#222" stroke-width="1.1"/>
<text x="85.60" y="454.00" font-size="7.78" stroke="#1a1a1a" stroke-width="0.12" text-anchor="middle" textLength="7.60" lengthAdjust="spacingAndGlyphs">ns</text>
<text x="96.90" y="454.00" font-size="7.78" stroke="#1a1a1a" stroke-width="0.12" text-anchor="middle" textLength="7.60" lengthAdjust="spacingAndGlyphs">ns</text>
<rect x="111.10" y="478.80" width="5.70" height="16.20" fill="#e68a9d"/>
<rect x="121.30" y="485.20" width="5.60" height="9.80" fill="#8caecf"/>
<rect x="131.30" y="486.00" width="5.70" height="9.00" fill="#a5dba5"/>
<path d="M114.00 474.30L116.09 476.60L114.00 478.90L111.91 476.60Z" fill="#c8102e"/>
<path d="M114.00 476.50L116.09 478.80L114.00 481.10L111.91 478.80Z" fill="#c8102e"/>
<path d="M114.00 478.60L116.09 480.90L114.00 483.20L111.91 480.90Z" fill="#c8102e"/>
<line x1="114.00" y1="476.80" x2="114.00" y2="481.00" stroke="#111" stroke-width="0.9"/>
<line x1="114.00" y1="476.80" x2="114.00" y2="476.80" stroke="#111" stroke-width="0.9"/>
<line x1="114.00" y1="481.00" x2="114.00" y2="481.00" stroke="#111" stroke-width="0.9"/>
<circle cx="124.10" cy="483.80" r="2.1" fill="#0e4d8e"/>
<circle cx="124.10" cy="486.70" r="2.1" fill="#0e4d8e"/>
<circle cx="124.10" cy="488.80" r="2.1" fill="#0e4d8e"/>
<line x1="124.10" y1="484.00" x2="124.10" y2="488.60" stroke="#111" stroke-width="0.9"/>
<line x1="124.10" y1="484.00" x2="124.10" y2="484.00" stroke="#111" stroke-width="0.9"/>
<line x1="124.10" y1="488.60" x2="124.10" y2="488.60" stroke="#111" stroke-width="0.9"/>
<path d="M134.10 481.53L136.20 485.31L132.00 485.31Z" fill="#25a93a"/>
<path d="M134.10 483.73L136.20 487.51L132.00 487.51Z" fill="#25a93a"/>
<path d="M134.10 487.33L136.20 491.11L132.00 491.11Z" fill="#25a93a"/>
<line x1="134.10" y1="483.60" x2="134.10" y2="489.60" stroke="#111" stroke-width="0.9"/>
<line x1="132.35" y1="483.60" x2="135.85" y2="483.60" stroke="#111" stroke-width="0.9"/>
<line x1="132.35" y1="489.60" x2="135.85" y2="489.60" stroke="#111" stroke-width="0.9"/>
<line x1="113.90" y1="472.30" x2="134.60" y2="472.30" stroke="#222" stroke-width="1.1"/>
<text x="124.20" y="470.80" font-size="7.78" stroke="#1a1a1a" stroke-width="0.12" text-anchor="middle" textLength="7.60" lengthAdjust="spacingAndGlyphs">ns</text>
<text x="134.90" y="470.80" font-size="7.78" stroke="#1a1a1a" stroke-width="0.12" text-anchor="middle" textLength="7.60" lengthAdjust="spacingAndGlyphs">ns</text>
<rect x="148.00" y="486.00" width="6.00" height="9.00" fill="#e68a9d"/>
<rect x="158.10" y="486.70" width="5.70" height="8.30" fill="#8caecf"/>
<rect x="168.20" y="489.60" width="5.70" height="5.40" fill="#a5dba5"/>
<path d="M151.00 480.50L153.09 482.80L151.00 485.10L148.91 482.80Z" fill="#c8102e"/>
<path d="M151.00 483.70L153.09 486.00L151.00 488.30L148.91 486.00Z" fill="#c8102e"/>
<path d="M151.00 488.00L153.09 490.30L151.00 492.60L148.91 490.30Z" fill="#c8102e"/>
<line x1="151.00" y1="482.80" x2="151.00" y2="490.00" stroke="#111" stroke-width="0.9"/>
<line x1="151.00" y1="482.80" x2="151.00" y2="482.80" stroke="#111" stroke-width="0.9"/>
<line x1="151.00" y1="490.00" x2="151.00" y2="490.00" stroke="#111" stroke-width="0.9"/>
<circle cx="161.00" cy="485.20" r="2.1" fill="#0e4d8e"/>
<circle cx="161.00" cy="487.40" r="2.1" fill="#0e4d8e"/>
<circle cx="161.00" cy="490.00" r="2.1" fill="#0e4d8e"/>
<line x1="161.00" y1="485.40" x2="161.00" y2="489.60" stroke="#111" stroke-width="0.9"/>
<line x1="161.00" y1="485.40" x2="161.00" y2="485.40" stroke="#111" stroke-width="0.9"/>
<line x1="161.00" y1="489.60" x2="161.00" y2="489.60" stroke="#111" stroke-width="0.9"/>
<path d="M171.00 484.43L173.10 488.21L168.90 488.21Z" fill="#25a93a"/>
<path d="M171.00 488.03L173.10 491.81L168.90 491.81Z" fill="#25a93a"/>
<path d="M171.00 490.23L173.10 494.01L168.90 494.01Z" fill="#25a93a"/>
<line x1="171.00" y1="487.00" x2="171.00" y2="491.80" stroke="#111" stroke-width="0.9"/>
<line x1="169.25" y1="487.00" x2="172.75" y2="487.00" stroke="#111" stroke-width="0.9"/>
<line x1="169.25" y1="491.80" x2="172.75" y2="491.80" stroke="#111" stroke-width="0.9"/>
<line x1="150.90" y1="478.00" x2="171.10" y2="478.00" stroke="#222" stroke-width="1.1"/>
<text x="160.20" y="476.20" font-size="7.78" stroke="#1a1a1a" stroke-width="0.12" text-anchor="middle" textLength="7.60" lengthAdjust="spacingAndGlyphs">ns</text>
<text x="171.30" y="476.20" font-size="7.78" stroke="#1a1a1a" stroke-width="0.12" text-anchor="middle" textLength="7.60" lengthAdjust="spacingAndGlyphs">ns</text>
<line x1="33.20" y1="495.00" x2="178.70" y2="495.00" stroke="#111" stroke-width="1.4"/>
<text x="51.50" y="504.60" font-size="7.99" stroke="#1a1a1a" stroke-width="0.12" text-anchor="middle" textLength="29.62" lengthAdjust="spacingAndGlyphs">AnV−PI−</text>
<text x="88.50" y="504.60" font-size="7.99" stroke="#1a1a1a" stroke-width="0.12" text-anchor="middle" textLength="29.62" lengthAdjust="spacingAndGlyphs">AnV+PI−</text>
<text x="123.30" y="504.60" font-size="7.99" stroke="#1a1a1a" stroke-width="0.12" text-anchor="middle" textLength="29.62" lengthAdjust="spacingAndGlyphs">AnV+PI+</text>
<text x="164.10" y="504.60" font-size="7.99" stroke="#1a1a1a" stroke-width="0.12" text-anchor="middle" textLength="29.62" lengthAdjust="spacingAndGlyphs">AnV−PI+</text>
<path d="M105.50 412.10L107.86 414.70L105.50 417.30L103.14 414.70Z" fill="#c8102e"/>
<text x="110.70" y="417.40" font-size="7.99" stroke="#1a1a1a" stroke-width="0.12" textLength="27.20" lengthAdjust="spacingAndGlyphs">Medium</text>
<circle cx="105.50" cy="425.00" r="2.5" fill="#0e4d8e"/>
<text x="110.70" y="427.60" font-size="7.99" stroke="#1a1a1a" stroke-width="0.12" textLength="47.10" lengthAdjust="spacingAndGlyphs">Healthy serum</text>
<path d="M105.50 432.70L108.00 437.20L103.00 437.20Z" fill="#25a93a"/>
<text x="110.70" y="437.80" font-size="7.99" stroke="#1a1a1a" stroke-width="0.12" textLength="58.60" lengthAdjust="spacingAndGlyphs">CKD/ESKD serum</text>
<text x="192.40" y="401.90" font-size="10.4" stroke="#000" stroke-width="0.3" font-weight="bold" fill="#000">I</text>
<line x1="216.60" y1="408.00" x2="216.60" y2="495.50" stroke="#111" stroke-width="1.3"/>
<line x1="213.60" y1="494.90" x2="216.60" y2="494.90" stroke="#111" stroke-width="1.0"/>
<text x="210.50" y="497.93" font-size="8.73" stroke="#1a1a1a" stroke-width="0.12" text-anchor="end" textLength="4.12" lengthAdjust="spacingAndGlyphs">0</text>
<line x1="213.60" y1="474.15" x2="216.60" y2="474.15" stroke="#111" stroke-width="1.0"/>
<text x="210.50" y="477.18" font-size="8.73" stroke="#1a1a1a" stroke-width="0.12" text-anchor="end" textLength="8.23" lengthAdjust="spacingAndGlyphs">20</text>
<line x1="213.60" y1="453.40" x2="216.60" y2="453.40" stroke="#111" stroke-width="1.0"/>
<text x="210.50" y="456.43" font-size="8.73" stroke="#1a1a1a" stroke-width="0.12" text-anchor="end" textLength="8.23" lengthAdjust="spacingAndGlyphs">40</text>
<line x1="213.60" y1="432.65" x2="216.60" y2="432.65" stroke="#111" stroke-width="1.0"/>
<text x="210.50" y="435.68" font-size="8.73" stroke="#1a1a1a" stroke-width="0.12" text-anchor="end" textLength="8.23" lengthAdjust="spacingAndGlyphs">60</text>
<line x1="213.60" y1="411.90" x2="216.60" y2="411.90" stroke="#111" stroke-width="1.0"/>
<text x="210.50" y="414.93" font-size="8.73" stroke="#1a1a1a" stroke-width="0.12" text-anchor="end" textLength="8.23" lengthAdjust="spacingAndGlyphs">80</text>
<text x="195.90" y="450.50" font-size="8.86" stroke="#1a1a1a" stroke-width="0.12" text-anchor="middle" textLength="80.00" lengthAdjust="spacingAndGlyphs" transform="rotate(-90 195.90 450.50)">% of phagocytosed beads</text>
<rect x="222.20" y="442.10" width="10.90" height="52.80" fill="#86a9c9"/>
<rect x="239.40" y="443.30" width="10.50" height="51.60" fill="#a790bb"/>
<rect x="267.50" y="468.70" width="10.80" height="26.20" fill="#a6dba6"/>
<rect x="284.60" y="469.60" width="10.50" height="25.30" fill="#e8899e"/>
<circle cx="225.90" cy="434.30" r="2.3" fill="#fff" stroke="#111" stroke-width="0.9"/>
<circle cx="229.60" cy="436.60" r="2.3" fill="#fff" stroke="#111" stroke-width="0.9"/>
<circle cx="231.30" cy="439.00" r="2.3" fill="#fff" stroke="#111" stroke-width="0.9"/>
<circle cx="226.40" cy="441.20" r="2.3" fill="#fff" stroke="#111" stroke-width="0.9"/>
<circle cx="225.90" cy="444.00" r="2.3" fill="#fff" stroke="#111" stroke-width="0.9"/>
<circle cx="230.40" cy="448.40" r="2.3" fill="#fff" stroke="#111" stroke-width="0.9"/>
<rect x="243.50" y="431.70" width="3.80" height="3.80" fill="#000"/>
<rect x="240.60" y="438.40" width="3.80" height="3.80" fill="#000"/>
<rect x="244.80" y="442.50" width="3.80" height="3.80" fill="#000"/>
<rect x="242.00" y="446.50" width="3.80" height="3.80" fill="#000"/>
<rect x="242.90" y="451.00" width="3.80" height="3.80" fill="#000"/>
<circle cx="270.20" cy="464.70" r="2.3" fill="#fff" stroke="#111" stroke-width="0.9"/>
<circle cx="272.50" cy="467.40" r="2.3" fill="#fff" stroke="#111" stroke-width="0.9"/>
<circle cx="274.70" cy="468.70" r="2.3" fill="#fff" stroke="#111" stroke-width="0.9"/>
<circle cx="276.10" cy="469.70" r="2.3" fill="#fff" stroke="#111" stroke-width="0.9"/>
<rect x="287.30" y="462.80" width="3.80" height="3.80" fill="#000"/>
<rect x="285.40" y="465.50" width="3.80" height="3.80" fill="#000"/>
<rect x="289.10" y="467.30" width="3.80" height="3.80" fill="#000"/>
<rect x="290.50" y="470.40" width="3.80" height="3.80" fill="#000"/>
<rect x="287.10" y="468.60" width="3.80" height="3.80" fill="#000"/>
<line x1="227.60" y1="434.50" x2="227.60" y2="448.50" stroke="#111" stroke-width="1.0"/>
<line x1="225.10" y1="434.50" x2="230.10" y2="434.50" stroke="#111" stroke-width="1.0"/>
<line x1="225.10" y1="448.50" x2="230.10" y2="448.50" stroke="#111" stroke-width="1.0"/>
<line x1="244.60" y1="434.00" x2="244.60" y2="452.00" stroke="#111" stroke-width="1.0"/>
<line x1="242.10" y1="434.00" x2="247.10" y2="434.00" stroke="#111" stroke-width="1.0"/>
<line x1="242.10" y1="452.00" x2="247.10" y2="452.00" stroke="#111" stroke-width="1.0"/>
<line x1="272.90" y1="465.00" x2="272.90" y2="470.00" stroke="#111" stroke-width="1.0"/>
<line x1="270.90" y1="465.00" x2="274.90" y2="465.00" stroke="#111" stroke-width="1.0"/>
<line x1="270.90" y1="470.00" x2="274.90" y2="470.00" stroke="#111" stroke-width="1.0"/>
<line x1="289.90" y1="464.50" x2="289.90" y2="472.50" stroke="#111" stroke-width="1.0"/>
<line x1="287.40" y1="464.50" x2="292.40" y2="464.50" stroke="#111" stroke-width="1.0"/>
<line x1="287.40" y1="472.50" x2="292.40" y2="472.50" stroke="#111" stroke-width="1.0"/>
<line x1="216.60" y1="495.00" x2="330.00" y2="495.00" stroke="#111" stroke-width="1.4"/>
<rect x="313.3" y="491.9" width="9.8" height="4.4" rx="2.2" fill="#2aa7df"/>
<line x1="227.10" y1="417.30" x2="273.20" y2="417.30" stroke="#222" stroke-width="1.1"/>
<text x="250.30" y="418.20" font-size="8.6" stroke="#1a1a1a" stroke-width="0.12" text-anchor="middle" textLength="6.69" lengthAdjust="spacingAndGlyphs">**</text>
<line x1="227.10" y1="428.00" x2="244.30" y2="428.00" stroke="#222" stroke-width="1.1"/>
<text x="235.80" y="425.40" font-size="7.99" stroke="#1a1a1a" stroke-width="0.12" text-anchor="middle" textLength="7.82" lengthAdjust="spacingAndGlyphs">ns</text>
<line x1="246.10" y1="428.00" x2="291.90" y2="428.00" stroke="#222" stroke-width="1.1"/>
<text x="269.30" y="428.90" font-size="8.6" stroke="#1a1a1a" stroke-width="0.12" text-anchor="middle" textLength="6.69" lengthAdjust="spacingAndGlyphs">**</text>
<line x1="272.90" y1="459.30" x2="290.40" y2="459.30" stroke="#222" stroke-width="1.1"/>
<text x="281.90" y="456.70" font-size="7.99" stroke="#1a1a1a" stroke-width="0.12" text-anchor="middle" textLength="7.82" lengthAdjust="spacingAndGlyphs">ns</text>
<circle cx="300.70" cy="416.00" r="2.4" fill="#fff" stroke="#111" stroke-width="0.9"/>
<text x="307.10" y="418.70" font-size="7.99" stroke="#1a1a1a" stroke-width="0.12" textLength="11.51" lengthAdjust="spacingAndGlyphs">Ctrl</text>
<rect x="298.80" y="425.50" width="3.80" height="3.80" fill="#000"/>
<text x="307.10" y="430.00" font-size="7.99" stroke="#1a1a1a" stroke-width="0.12" textLength="23.85" lengthAdjust="spacingAndGlyphs">CXCL8</text>
<text x="235.60" y="504.60" font-size="8.32" stroke="#1a1a1a" stroke-width="0.12" text-anchor="middle" textLength="26.11" lengthAdjust="spacingAndGlyphs">Healthy</text>
<text x="276.00" y="504.60" font-size="8.32" stroke="#1a1a1a" stroke-width="0.12" text-anchor="middle" textLength="39.37" lengthAdjust="spacingAndGlyphs">CKD/ESKD</text>
<text x="319.70" y="504.60" font-size="8.32" stroke="#1a1a1a" stroke-width="0.12" text-anchor="middle" textLength="34.20" lengthAdjust="spacingAndGlyphs">No beads</text>
<line x1="219.80" y1="508.40" x2="330.60" y2="508.40" stroke="#1a1a1a" stroke-width="1.0"/>
<text x="274.30" y="517.80" font-size="8.32" stroke="#1a1a1a" stroke-width="0.12" text-anchor="middle" textLength="22.68" lengthAdjust="spacingAndGlyphs">Serum</text>
<text x="343.80" y="404.90" font-size="10.4" stroke="#000" stroke-width="0.3" font-weight="bold" fill="#000">J</text>
<line x1="384.40" y1="407.60" x2="384.40" y2="495.50" stroke="#111" stroke-width="1.3"/>
<line x1="381.40" y1="495.00" x2="384.40" y2="495.00" stroke="#111" stroke-width="1.0"/>
<text x="378.90" y="498.03" font-size="8.73" stroke="#1a1a1a" stroke-width="0.12" text-anchor="end" textLength="4.12" lengthAdjust="spacingAndGlyphs">0</text>
<line x1="381.40" y1="478.25" x2="384.40" y2="478.25" stroke="#111" stroke-width="1.0"/>
<text x="378.90" y="481.28" font-size="8.73" stroke="#1a1a1a" stroke-width="0.12" text-anchor="end" textLength="20.58" lengthAdjust="spacingAndGlyphs">20000</text>
<line x1="381.40" y1="461.50" x2="384.40" y2="461.50" stroke="#111" stroke-width="1.0"/>
<text x="378.90" y="464.53" font-size="8.73" stroke="#1a1a1a" stroke-width="0.12" text-anchor="end" textLength="20.58" lengthAdjust="spacingAndGlyphs">40000</text>
<line x1="381.40" y1="444.75" x2="384.40" y2="444.75" stroke="#111" stroke-width="1.0"/>
<text x="378.90" y="447.78" font-size="8.73" stroke="#1a1a1a" stroke-width="0.12" text-anchor="end" textLength="20.58" lengthAdjust="spacingAndGlyphs">60000</text>
<line x1="381.40" y1="428.00" x2="384.40" y2="428.00" stroke="#111" stroke-width="1.0"/>
<text x="378.90" y="431.03" font-size="8.73" stroke="#1a1a1a" stroke-width="0.12" text-anchor="end" textLength="20.58" lengthAdjust="spacingAndGlyphs">80000</text>
<line x1="381.40" y1="411.25" x2="384.40" y2="411.25" stroke="#111" stroke-width="1.0"/>
<text x="378.90" y="414.28" font-size="8.73" stroke="#1a1a1a" stroke-width="0.12" text-anchor="end" textLength="24.69" lengthAdjust="spacingAndGlyphs">100000</text>
<text x="349.80" y="449.00" font-size="8.53" stroke="#1a1a1a" stroke-width="0.12" text-anchor="middle" textLength="65.70" lengthAdjust="spacingAndGlyphs" transform="rotate(-90 349.80 449.00)">Migrated neutrophils</text>
<rect x="390.40" y="445.80" width="10.40" height="49.20" fill="#86a9c9"/>
<rect x="407.30" y="449.90" width="10.30" height="45.10" fill="#a790bb"/>
<rect x="435.00" y="468.10" width="10.50" height="26.90" fill="#9dd7a6"/>
<rect x="451.90" y="449.60" width="10.30" height="45.40" fill="#74ad9e"/>
<rect x="479.70" y="475.00" width="10.60" height="20.00" fill="#e8899e"/>
<rect x="496.80" y="461.30" width="10.30" height="33.70" fill="#fcc27c"/>
<circle cx="394.20" cy="440.40" r="2.3" fill="#fff" stroke="#111" stroke-width="0.9"/>
<circle cx="397.30" cy="442.70" r="2.3" fill="#fff" stroke="#111" stroke-width="0.9"/>
<circle cx="392.70" cy="444.20" r="2.3" fill="#fff" stroke="#111" stroke-width="0.9"/>
<circle cx="396.50" cy="446.50" r="2.3" fill="#fff" stroke="#111" stroke-width="0.9"/>
<circle cx="398.10" cy="451.00" r="2.3" fill="#fff" stroke="#111" stroke-width="0.9"/>
<rect x="407.70" y="442.60" width="3.80" height="3.80" fill="#000"/>
<rect x="410.80" y="443.60" width="3.80" height="3.80" fill="#000"/>
<rect x="412.30" y="449.70" width="3.80" height="3.80" fill="#000"/>
<rect x="410.50" y="457.40" width="3.80" height="3.80" fill="#000"/>
<circle cx="440.40" cy="459.60" r="2.3" fill="#fff" stroke="#111" stroke-width="0.9"/>
<circle cx="438.10" cy="465.50" r="2.3" fill="#fff" stroke="#111" stroke-width="0.9"/>
<circle cx="439.60" cy="468.80" r="2.3" fill="#fff" stroke="#111" stroke-width="0.9"/>
<circle cx="441.60" cy="471.90" r="2.3" fill="#fff" stroke="#111" stroke-width="0.9"/>
<circle cx="442.70" cy="473.50" r="2.3" fill="#fff" stroke="#111" stroke-width="0.9"/>
<rect x="454.20" y="438.00" width="3.80" height="3.80" fill="#000"/>
<rect x="453.10" y="440.80" width="3.80" height="3.80" fill="#000"/>
<rect x="457.70" y="446.20" width="3.80" height="3.80" fill="#000"/>
<rect x="453.10" y="452.30" width="3.80" height="3.80" fill="#000"/>
<rect x="457.30" y="456.90" width="3.80" height="3.80" fill="#000"/>
<circle cx="484.80" cy="466.40" r="2.3" fill="#fff" stroke="#111" stroke-width="0.9"/>
<circle cx="482.00" cy="471.50" r="2.3" fill="#fff" stroke="#111" stroke-width="0.9"/>
<circle cx="483.10" cy="473.30" r="2.3" fill="#fff" stroke="#111" stroke-width="0.9"/>
<circle cx="484.30" cy="475.00" r="2.3" fill="#fff" stroke="#111" stroke-width="0.9"/>
<circle cx="485.40" cy="476.70" r="2.3" fill="#fff" stroke="#111" stroke-width="0.9"/>
<circle cx="486.90" cy="479.00" r="2.3" fill="#fff" stroke="#111" stroke-width="0.9"/>
<rect x="500.10" y="447.40" width="3.80" height="3.80" fill="#000"/>
<rect x="498.40" y="453.70" width="3.80" height="3.80" fill="#000"/>
<rect x="500.60" y="459.40" width="3.80" height="3.80" fill="#000"/>
<rect x="497.80" y="461.40" width="3.80" height="3.80" fill="#000"/>
<rect x="499.50" y="463.00" width="3.80" height="3.80" fill="#000"/>
<rect x="501.80" y="468.70" width="3.80" height="3.80" fill="#000"/>
<line x1="395.60" y1="440.00" x2="395.60" y2="451.00" stroke="#111" stroke-width="1.0"/>
<line x1="393.60" y1="440.00" x2="397.60" y2="440.00" stroke="#111" stroke-width="1.0"/>
<line x1="393.60" y1="451.00" x2="397.60" y2="451.00" stroke="#111" stroke-width="1.0"/>
<line x1="412.40" y1="444.00" x2="412.40" y2="458.00" stroke="#111" stroke-width="1.0"/>
<line x1="409.90" y1="444.00" x2="414.90" y2="444.00" stroke="#111" stroke-width="1.0"/>
<line x1="409.90" y1="458.00" x2="414.90" y2="458.00" stroke="#111" stroke-width="1.0"/>
<line x1="440.20" y1="460.00" x2="440.20" y2="473.00" stroke="#111" stroke-width="1.0"/>
<line x1="438.20" y1="460.00" x2="442.20" y2="460.00" stroke="#111" stroke-width="1.0"/>
<line x1="438.20" y1="473.00" x2="442.20" y2="473.00" stroke="#111" stroke-width="1.0"/>
<line x1="457.00" y1="440.50" x2="457.00" y2="458.50" stroke="#111" stroke-width="1.0"/>
<line x1="454.50" y1="440.50" x2="459.50" y2="440.50" stroke="#111" stroke-width="1.0"/>
<line x1="454.50" y1="458.50" x2="459.50" y2="458.50" stroke="#111" stroke-width="1.0"/>
<line x1="485.00" y1="466.00" x2="485.00" y2="479.00" stroke="#111" stroke-width="1.0"/>
<line x1="483.00" y1="466.00" x2="487.00" y2="466.00" stroke="#111" stroke-width="1.0"/>
<line x1="483.00" y1="479.00" x2="487.00" y2="479.00" stroke="#111" stroke-width="1.0"/>
<line x1="502.00" y1="449.50" x2="502.00" y2="470.50" stroke="#111" stroke-width="1.0"/>
<line x1="499.50" y1="449.50" x2="504.50" y2="449.50" stroke="#111" stroke-width="1.0"/>
<line x1="499.50" y1="470.50" x2="504.50" y2="470.50" stroke="#111" stroke-width="1.0"/>
<line x1="384.40" y1="495.00" x2="509.60" y2="495.00" stroke="#111" stroke-width="1.4"/>
<line x1="396.90" y1="423.60" x2="488.50" y2="423.60" stroke="#1a1a1a" stroke-width="0.9"/>
<text x="440.20" y="424.50" font-size="8.6" stroke="#1a1a1a" stroke-width="0.12" text-anchor="middle" textLength="6.69" lengthAdjust="spacingAndGlyphs">**</text>
<text x="483.80" y="424.50" font-size="8.6" stroke="#1a1a1a" stroke-width="0.12" text-anchor="middle" textLength="10.04" lengthAdjust="spacingAndGlyphs">***</text>
<line x1="395.60" y1="435.20" x2="412.50" y2="435.20" stroke="#222" stroke-width="1.1"/>
<text x="404.05" y="432.60" font-size="7.99" stroke="#1a1a1a" stroke-width="0.12" text-anchor="middle" textLength="7.82" lengthAdjust="spacingAndGlyphs">ns</text>
<line x1="440.50" y1="435.20" x2="457.90" y2="435.20" stroke="#222" stroke-width="1.1"/>
<text x="449.20" y="436.10" font-size="8.6" stroke="#1a1a1a" stroke-width="0.12" text-anchor="middle" textLength="10.04" lengthAdjust="spacingAndGlyphs">***</text>
<line x1="484.30" y1="444.10" x2="501.70" y2="444.10" stroke="#222" stroke-width="1.1"/>
<text x="493.00" y="445.00" font-size="8.6" stroke="#1a1a1a" stroke-width="0.12" text-anchor="middle" textLength="6.69" lengthAdjust="spacingAndGlyphs">**</text>
<circle cx="403.00" cy="409.00" r="2.4" fill="#fff" stroke="#111" stroke-width="0.9"/>
<text x="408.20" y="411.60" font-size="7.78" stroke="#1a1a1a" stroke-width="0.12" textLength="23.22" lengthAdjust="spacingAndGlyphs">Vehicle</text>
<rect x="443.70" y="407.10" width="3.80" height="3.80" fill="#000"/>
<text x="451.00" y="411.60" font-size="7.99" stroke="#1a1a1a" stroke-width="0.12" textLength="39.60" lengthAdjust="spacingAndGlyphs">Rasburicase</text>
<text x="404.00" y="505.40" font-size="8.32" stroke="#1a1a1a" stroke-width="0.12" text-anchor="middle" textLength="26.11" lengthAdjust="spacingAndGlyphs">Healthy</text>
<text x="448.80" y="505.40" font-size="8.32" stroke="#1a1a1a" stroke-width="0.12" text-anchor="middle" textLength="16.26" lengthAdjust="spacingAndGlyphs">CKD</text>
<text x="492.30" y="505.40" font-size="8.32" stroke="#1a1a1a" stroke-width="0.12" text-anchor="middle" textLength="20.97" lengthAdjust="spacingAndGlyphs">ESKD</text>
<line x1="388.50" y1="508.40" x2="509.00" y2="508.40" stroke="#1a1a1a" stroke-width="1.0"/>
<text x="448.80" y="518.00" font-size="8.32" stroke="#1a1a1a" stroke-width="0.12" text-anchor="middle" textLength="22.68" lengthAdjust="spacingAndGlyphs">Serum</text>
<text x="492.90" y="518.00" font-size="8.32" stroke="#1a1a1a" stroke-width="0.12" text-anchor="middle" textLength="22.68" lengthAdjust="spacingAndGlyphs">Serum</text>
<rect x="0.5" y="0.5" width="519" height="524" fill="none" stroke="#000" stroke-width="1"/>
</svg></body></html>
